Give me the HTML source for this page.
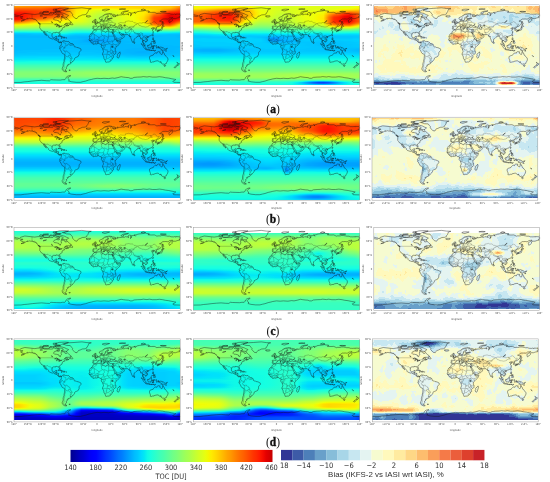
<!DOCTYPE html>
<html><head><meta charset="utf-8"><title>TOC maps</title>
<style>
html,body{margin:0;padding:0;background:#fff}
body{width:550px;height:482px;position:relative;overflow:hidden;font-family:"DejaVu Sans","Liberation Sans",sans-serif}
.p{position:absolute;width:166.2px;height:83.0px;overflow:hidden}
.p i{display:block;width:100%;height:1.0000px}
.q{width:165.8px}
svg{position:absolute;left:0;top:0}
.cap{position:absolute;font-family:"Liberation Serif","DejaVu Serif",serif;font-size:11.5px;line-height:12px;color:#111;width:40px;text-align:center}
.cap b{font-weight:bold;-webkit-text-stroke:.35px #111}
.cb{position:absolute}
.t{position:absolute;font-family:"DejaVu Sans Condensed","DejaVu Sans","Liberation Sans",sans-serif;font-size:7.4px;line-height:8px;color:#303030;white-space:nowrap;transform:translateX(-50%)}
.u{font-size:7.5px}
</style></head><body>

<div class="p" style="left:14.0px;top:4.8px">
<i></i>
<i style="background:linear-gradient(90deg,#ff9c00,#ff9c00,#ff9800,#ff9400,#ff9400,#ff9100,#ff9100,#ff8900,#ff8600,#ff8900,#ff9f00,#ffb900,#ffd000,#ffd000,#ffd300,#ffd300,#ffd300,#ffd300,#ffd300,#ffd300,#ffd300,#ffd000,#ffd000,#ffd000,#ffd000,#ffcc00,#ffd000,#ffd000,#ffcc00,#ffcc00,#ffc800,#ffb600,#ff9c00)"></i>
<i style="background:linear-gradient(90deg,#ff8600,#ff8200,#ff8200,#ff7e00,#ff7a00,#ff7a00,#ff7700,#ff6f00,#ff6400,#ff6800,#ff8900,#ffb600,#ffd300,#ffd700,#ffd700,#ffdb00,#ffde00,#ffde00,#ffde00,#ffdb00,#ffdb00,#ffd700,#ffd700,#ffd700,#ffd300,#ffd000,#ffd000,#ffd000,#ffd000,#ffc800,#ffc800,#ffab00,#ff8600)"></i>
<i style="background:linear-gradient(90deg,#ff6c00,#ff6800,#ff6800,#ff6800,#ff6800,#ff6800,#ff6000,#ff5200,#ff4300,#ff4a00,#ff7700,#ffae00,#ffd700,#ffde00,#ffe200,#ffe600,#ffea00,#feed00,#ffea00,#ffea00,#ffe600,#ffe200,#ffde00,#ffde00,#ffdb00,#ffd700,#ffd700,#ffd300,#ffd000,#ffc100,#ffb900,#ff9800,#ff6c00)"></i>
<i style="background:linear-gradient(90deg,#ff5500,#ff5200,#ff5200,#ff5200,#ff5500,#ff5500,#ff4e00,#ff3f00,#ff3000,#ff3800,#ff6c00,#ffb200,#ffe200,#ffea00,#feed00,#f4f802,#eeff09,#eeff09,#eeff09,#f1fc06,#f8f500,#fbf100,#feed00,#feed00,#ffea00,#ffe600,#ffe200,#ffd700,#ffc800,#ffae00,#ff9f00,#ff7e00,#ff5500)"></i>
<i style="background:linear-gradient(90deg,#ff3f00,#ff3f00,#ff3f00,#ff4300,#ff4300,#ff4700,#ff4300,#ff3b00,#ff3000,#ff3b00,#ff6f00,#ffb600,#ffea00,#fbf100,#f4f802,#ebff0c,#e1ff16,#deff19,#e1ff16,#e4ff13,#ebff0c,#f1fc06,#f4f802,#f8f500,#f8f500,#fbf100,#ffe600,#ffd700,#ffc400,#ff9400,#ff7a00,#ff6000,#ff3f00)"></i>
<i style="background:linear-gradient(90deg,#ff2d00,#ff2d00,#ff3000,#ff3400,#ff3b00,#ff3f00,#ff3b00,#ff3800,#ff3400,#ff3f00,#ff7300,#ffb900,#feed00,#f8f500,#eeff09,#e4ff13,#d7ff1f,#d4ff23,#d7ff1f,#deff19,#e4ff13,#eeff09,#f1fc06,#f4f802,#f8f500,#feed00,#ffe200,#ffcc00,#ffae00,#ff6f00,#ff4a00,#ff3f00,#ff2d00)"></i>
<i style="background:linear-gradient(90deg,#ff1a00,#ff1a00,#ff2200,#ff2d00,#ff3800,#ff3b00,#ff3b00,#ff3b00,#ff3800,#ff4300,#ff7700,#ffbd00,#feed00,#f4f802,#ebff0c,#deff19,#d1ff26,#caff2c,#ceff29,#d7ff1f,#e1ff16,#e7ff0f,#f1fc06,#f4f802,#f8f500,#feed00,#ffdb00,#ffb200,#ff9400,#ff5200,#ff2d00,#ff2500,#ff1a00)"></i>
<i style="background:linear-gradient(90deg,#f60b00,#fa0f00,#ff1a00,#ff2900,#ff3400,#ff3f00,#ff3f00,#ff3f00,#ff3f00,#ff4700,#ff7e00,#ffc100,#fbf100,#f4f802,#e7ff0f,#d7ff1f,#caff2c,#c4ff33,#c7ff30,#d1ff26,#dbff1c,#e7ff0f,#eeff09,#f1fc06,#f8f500,#feed00,#ffd000,#ff9100,#ff7700,#ff3b00,#ff1600,#ff1300,#f60b00)"></i>
<i style="background:linear-gradient(90deg,#f10800,#f60b00,#ff1600,#ff2900,#ff3800,#ff3f00,#ff3f00,#ff4300,#ff4700,#ff5200,#ff8200,#ffc400,#f8f500,#f1fc06,#e4ff13,#d1ff26,#c4ff33,#beff39,#c1ff36,#caff2c,#d7ff1f,#e4ff13,#eeff09,#f1fc06,#f8f500,#ffea00,#ffc400,#ff7a00,#ff6000,#ff2900,#f10800,#f10800,#f10800)"></i>
<i style="background:linear-gradient(90deg,#f10800,#f60b00,#ff1a00,#ff2900,#ff3800,#ff4300,#ff4300,#ff4a00,#ff5200,#ff5d00,#ff8d00,#ffc800,#f8f500,#eeff09,#e1ff16,#ceff29,#beff39,#b7ff40,#beff39,#c7ff30,#d4ff23,#e1ff16,#ebff0c,#f1fc06,#f8f500,#ffe600,#ffbd00,#ff6400,#ff4e00,#ff1a00,#e40000,#ed0400,#f10800)"></i>
<i style="background:linear-gradient(90deg,#f10800,#f60b00,#ff1a00,#ff2d00,#ff3b00,#ff4700,#ff4a00,#ff5500,#ff6000,#ff6c00,#ff9800,#ffd000,#f4f802,#eeff09,#deff19,#caff2c,#baff3c,#b4ff43,#baff3c,#c4ff33,#d1ff26,#e1ff16,#ebff0c,#eeff09,#f8f500,#ffe200,#ffb200,#ff5200,#ff3f00,#ff1600,#e40000,#e80000,#f10800)"></i>
<i style="background:linear-gradient(90deg,#f10800,#f60b00,#ff1e00,#ff3000,#ff4700,#ff5200,#ff5500,#ff6800,#ff7a00,#ff8200,#ffa700,#ffdb00,#f1fc06,#ebff0c,#deff19,#c7ff30,#b7ff40,#b1ff46,#b7ff40,#c1ff36,#d1ff26,#deff19,#e7ff0f,#eeff09,#fbf100,#ffde00,#ffab00,#ff4300,#ff3000,#fa0f00,#e40000,#e80000,#f10800)"></i>
<i style="background:linear-gradient(90deg,#f10800,#fa0f00,#ff2200,#ff3b00,#ff5500,#ff6000,#ff6c00,#ff8600,#ff9c00,#ffa300,#ffc100,#ffe600,#eeff09,#e7ff0f,#dbff1c,#c7ff30,#b4ff43,#b1ff46,#b4ff43,#c1ff36,#ceff29,#deff19,#e7ff0f,#eeff09,#fbf100,#ffdb00,#ffa700,#ff3b00,#ff2d00,#fa0f00,#e40000,#e80000,#f10800)"></i>
<i style="background:linear-gradient(90deg,#fa0f00,#ff1600,#ff3000,#ff4e00,#ff6c00,#ff7a00,#ff8600,#ffa700,#ffc400,#ffcc00,#ffde00,#f8f500,#ebff0c,#e7ff0f,#d7ff1f,#c4ff33,#b4ff43,#adff49,#b4ff43,#beff39,#ceff29,#dbff1c,#e7ff0f,#ebff0c,#f8f500,#ffdb00,#ffa700,#ff3b00,#ff2900,#fa0f00,#e40000,#ed0400,#fa0f00)"></i>
<i style="background:linear-gradient(90deg,#ff3400,#ff3b00,#ff5200,#ff7300,#ff9100,#ffa300,#ffab00,#ffc400,#ffde00,#ffe200,#feed00,#f1fc06,#e7ff0f,#e4ff13,#d4ff23,#c1ff36,#b1ff46,#aaff4d,#b1ff46,#baff3c,#caff2c,#d7ff1f,#e4ff13,#ebff0c,#f4f802,#ffde00,#ffab00,#ff3b00,#ff2d00,#fa0f00,#e40000,#ff1300,#ff3400)"></i>
<i style="background:linear-gradient(90deg,#ff5900,#ff6000,#ff7a00,#ff9800,#ffb200,#ffc400,#ffcc00,#ffde00,#feed00,#fbf100,#f1fc06,#e7ff0f,#e1ff16,#deff19,#d1ff26,#beff39,#adff49,#aaff4d,#adff49,#baff3c,#c7ff30,#d7ff1f,#e1ff16,#e7ff0f,#f1fc06,#ffea00,#ffb200,#ff3f00,#ff3000,#ff1300,#e80000,#ff2500,#ff5900)"></i>
<i style="background:linear-gradient(90deg,#ff8600,#ff8d00,#ffa300,#ffbd00,#ffd300,#ffe200,#ffe600,#f8f500,#f1fc06,#eeff09,#e7ff0f,#deff19,#d7ff1f,#d4ff23,#caff2c,#baff3c,#adff49,#a7ff50,#adff49,#b7ff40,#c4ff33,#d4ff23,#deff19,#e1ff16,#ebff0c,#fbf100,#ffb900,#ff4700,#ff3800,#ff1e00,#fa0f00,#ff3f00,#ff8600)"></i>
<i style="background:linear-gradient(90deg,#ffb200,#ffbd00,#ffcc00,#ffde00,#f8f500,#eeff09,#eeff09,#e7ff0f,#e1ff16,#e1ff16,#dbff1c,#d1ff26,#caff2c,#c7ff30,#beff39,#b4ff43,#a7ff50,#a4ff53,#aaff4d,#b4ff43,#c1ff36,#ceff29,#d7ff1f,#deff19,#e4ff13,#f1fc06,#ffc800,#ff5900,#ff4a00,#ff3000,#ff2200,#ff6000,#ffb200)"></i>
<i style="background:linear-gradient(90deg,#ffe600,#ffea00,#f8f500,#eeff09,#e4ff13,#deff19,#dbff1c,#d7ff1f,#d4ff23,#d1ff26,#caff2c,#c1ff36,#baff3c,#baff3c,#b4ff43,#aaff4d,#a0ff56,#a0ff56,#a4ff53,#adff49,#baff3c,#c7ff30,#d1ff26,#d4ff23,#dbff1c,#e1ff16,#ffde00,#ff7e00,#ff6f00,#ff5500,#ff4300,#ff8900,#ffe600)"></i>
<i style="background:linear-gradient(90deg,#e4ff13,#e1ff16,#dbff1c,#d7ff1f,#d1ff26,#ceff29,#ceff29,#c7ff30,#c4ff33,#c4ff33,#baff3c,#b1ff46,#aaff4d,#a7ff50,#a4ff53,#9dff5a,#9aff5d,#97ff60,#9aff5d,#a4ff53,#b1ff46,#baff3c,#c4ff33,#c7ff30,#caff2c,#d1ff26,#f4f802,#ffa700,#ff9c00,#ff8200,#ff7300,#ffb600,#e4ff13)"></i>
<i style="background:linear-gradient(90deg,#ceff29,#caff2c,#c7ff30,#c1ff36,#beff39,#baff3c,#baff3c,#b7ff40,#b4ff43,#b4ff43,#aaff4d,#9dff5a,#97ff60,#94ff63,#94ff63,#90ff66,#8dff6a,#8dff6a,#90ff66,#97ff60,#a0ff56,#aaff4d,#b4ff43,#b7ff40,#b7ff40,#baff3c,#d4ff23,#ffdb00,#ffd000,#ffbd00,#ffb200,#ffe200,#ceff29)"></i>
<i style="background:linear-gradient(90deg,#b7ff40,#b4ff43,#b1ff46,#aaff4d,#a7ff50,#a4ff53,#a4ff53,#a4ff53,#a4ff53,#a0ff56,#97ff60,#8aff6d,#80ff77,#80ff77,#80ff77,#80ff77,#80ff77,#80ff77,#83ff73,#8aff6d,#90ff66,#9aff5d,#a0ff56,#a0ff56,#a0ff56,#a0ff56,#b4ff43,#deff19,#e4ff13,#f4f802,#feed00,#e1ff16,#b7ff40)"></i>
<i style="background:linear-gradient(90deg,#9aff5d,#97ff60,#94ff63,#90ff66,#8dff6a,#8aff6d,#8aff6d,#8dff6a,#90ff66,#90ff66,#83ff73,#77ff80,#6aff8d,#6aff8d,#6aff8d,#6dff8a,#6dff8a,#6dff8a,#70ff87,#77ff80,#7aff7d,#80ff77,#87ff70,#8aff6d,#87ff70,#83ff73,#94ff63,#b1ff46,#b7ff40,#c4ff33,#ceff29,#b7ff40,#9aff5d)"></i>
<i style="background:linear-gradient(90deg,#73ff83,#73ff83,#73ff83,#70ff87,#70ff87,#6dff8a,#70ff87,#77ff80,#7dff7a,#7aff7d,#6dff8a,#5dff9a,#53ffa4,#50ffa7,#53ffa4,#53ffa4,#56ffa0,#56ffa0,#5aff9d,#5dff9a,#63ff94,#66ff90,#6aff8d,#6dff8a,#6aff8d,#66ff90,#70ff87,#83ff73,#87ff70,#94ff63,#9aff5d,#8aff6d,#73ff83)"></i>
<i style="background:linear-gradient(90deg,#50ffa7,#50ffa7,#4dffaa,#4dffaa,#4dffaa,#4dffaa,#50ffa7,#5aff9d,#63ff94,#63ff94,#56ffa0,#46ffb1,#3cffba,#39ffbe,#3cffba,#3cffba,#3cffba,#40ffb7,#40ffb7,#43ffb4,#46ffb1,#49ffad,#4dffaa,#4dffaa,#4dffaa,#46ffb1,#4dffaa,#5aff9d,#5dff9a,#60ff97,#63ff94,#5aff9d,#50ffa7)"></i>
<i style="background:linear-gradient(90deg,#29ffce,#29ffce,#29ffce,#29ffce,#29ffce,#29ffce,#2cffca,#3cffba,#4dffaa,#4dffaa,#40ffb7,#30ffc7,#26ffd1,#23ffd4,#23ffd4,#23ffd4,#23ffd4,#26ffd1,#26ffd1,#26ffd1,#29ffce,#2cffca,#30ffc7,#30ffc7,#2cffca,#29ffce,#2cffca,#33ffc4,#33ffc4,#33ffc4,#33ffc4,#30ffc7,#29ffce)"></i>
<i style="background:linear-gradient(90deg,#06edf1,#06edf1,#06edf1,#09f1ee,#09f1ee,#09f1ee,#0cf5eb,#1fffd7,#33ffc4,#33ffc4,#29ffce,#19ffde,#0ff9e7,#0ff9e7,#0ff9e7,#0ff9e7,#0ff9e7,#0ff9e7,#0ff9e7,#0ff9e7,#13fde4,#13fde4,#16ffe1,#16ffe1,#13fde4,#0cf5eb,#0cf5eb,#0ff9e7,#0ff9e7,#0cf5eb,#0cf5eb,#09f1ee,#06edf1)"></i>
<i style="background:linear-gradient(90deg,#00cdff,#00cdff,#00cdff,#00cdff,#00d1ff,#00d1ff,#00d5ff,#09f1ee,#19ffde,#19ffde,#0ff9e7,#02e8f4,#00e1fb,#00ddfe,#00ddfe,#00ddfe,#00ddfe,#00ddfe,#00ddfe,#00e1fb,#00e1fb,#00e1fb,#00e5f8,#00e5f8,#00e1fb,#00d9ff,#00d9ff,#00d9ff,#00d9ff,#00d9ff,#00d5ff,#00d1ff,#00cdff)"></i>
<i style="background:linear-gradient(90deg,#00c1ff,#00c1ff,#00c1ff,#00c1ff,#00c5ff,#00c5ff,#00c8ff,#00d9ff,#02e8f4,#02e8f4,#00e1fb,#00d5ff,#00cdff,#00cdff,#00cdff,#00cdff,#00cdff,#00cdff,#00cdff,#00cdff,#00cdff,#00d1ff,#00d1ff,#00d1ff,#00cdff,#00c8ff,#00c8ff,#00c8ff,#00c8ff,#00c5ff,#00c1ff,#00c1ff,#00c1ff)"></i>
<i style="background:linear-gradient(90deg,#00b9ff,#00b9ff,#00b9ff,#00bdff,#00bdff,#00bdff,#00bdff,#00c8ff,#00d1ff,#00d1ff,#00cdff,#00c5ff,#00c1ff,#00c1ff,#00c1ff,#00c1ff,#00c1ff,#00c1ff,#00c1ff,#00c1ff,#00c1ff,#00c5ff,#00c5ff,#00c5ff,#00c1ff,#00bdff,#00bdff,#00bdff,#00bdff,#00bdff,#00bdff,#00bdff,#00b9ff)"></i>
<i style="background:linear-gradient(90deg,#00b9ff,#00b9ff,#00b9ff,#00b9ff,#00b9ff,#00b9ff,#00b9ff,#00c1ff,#00c5ff,#00c5ff,#00c1ff,#00bdff,#00b9ff,#00b9ff,#00b9ff,#00b9ff,#00b9ff,#00b9ff,#00b9ff,#00b9ff,#00bdff,#00bdff,#00bdff,#00bdff,#00bdff,#00b9ff,#00b9ff,#00b9ff,#00b9ff,#00bdff,#00bdff,#00bdff,#00b9ff)"></i>
<i style="background:linear-gradient(90deg,#00b9ff,#00b9ff,#00b9ff,#00b9ff,#00b9ff,#00b9ff,#00b9ff,#00b9ff,#00b9ff,#00b9ff,#00b9ff,#00b9ff,#00b9ff,#00b5ff,#00b5ff,#00b1ff,#00b1ff,#00b1ff,#00b5ff,#00b5ff,#00b9ff,#00bdff,#00bdff,#00bdff,#00bdff,#00b9ff,#00b9ff,#00b9ff,#00bdff,#00bdff,#00bdff,#00bdff,#00b9ff)"></i>
<i style="background:linear-gradient(90deg,#00bdff,#00bdff,#00bdff,#00bdff,#00bdff,#00bdff,#00bdff,#00bdff,#00b9ff,#00b9ff,#00b9ff,#00b9ff,#00b9ff,#00b9ff,#00b5ff,#00b1ff,#00adff,#00adff,#00b1ff,#00b5ff,#00b9ff,#00bdff,#00bdff,#00bdff,#00bdff,#00bdff,#00bdff,#00bdff,#00bdff,#00bdff,#00bdff,#00bdff,#00bdff)"></i>
<i style="background:linear-gradient(90deg,#00bdff,#00bdff,#00bdff,#00bdff,#00bdff,#00bdff,#00bdff,#00bdff,#00bdff,#00bdff,#00bdff,#00bdff,#00bdff,#00b9ff,#00b1ff,#00a8ff,#00a5ff,#00a5ff,#00adff,#00b1ff,#00b9ff,#00bdff,#00bdff,#00bdff,#00bdff,#00bdff,#00bdff,#00bdff,#00bdff,#00bdff,#00bdff,#00bdff,#00bdff)"></i>
<i style="background:linear-gradient(90deg,#00bdff,#00bdff,#00bdff,#00bdff,#00bdff,#00bdff,#00bdff,#00bdff,#00bdff,#00bdff,#00bdff,#00bdff,#00b9ff,#00b5ff,#00adff,#00a5ff,#00a1ff,#00a1ff,#00a8ff,#00b1ff,#00b5ff,#00b9ff,#00bdff,#00bdff,#00bdff,#00bdff,#00bdff,#00bdff,#00bdff,#00bdff,#00bdff,#00bdff,#00bdff)"></i>
<i style="background:linear-gradient(90deg,#00bdff,#00bdff,#00bdff,#00bdff,#00bdff,#00bdff,#00bdff,#00bdff,#00bdff,#00bdff,#00bdff,#00b9ff,#00b9ff,#00b5ff,#00adff,#00a8ff,#00a5ff,#00a5ff,#00a8ff,#00b1ff,#00b5ff,#00b9ff,#00b9ff,#00bdff,#00bdff,#00bdff,#00bdff,#00bdff,#00bdff,#00bdff,#00bdff,#00bdff,#00bdff)"></i>
<i style="background:linear-gradient(90deg,#00bdff,#00bdff,#00bdff,#00bdff,#00bdff,#00bdff,#00bdff,#00bdff,#00bdff,#00bdff,#00bdff,#00bdff,#00b9ff,#00b5ff,#00b5ff,#00adff,#00adff,#00adff,#00b1ff,#00b5ff,#00b9ff,#00b9ff,#00b9ff,#00bdff,#00bdff,#00bdff,#00bdff,#00bdff,#00bdff,#00bdff,#00bdff,#00bdff,#00bdff)"></i>
<i style="background:linear-gradient(90deg,#00bdff,#00bdff,#00bdff,#00bdff,#00bdff,#00bdff,#00bdff,#00bdff,#00bdff,#00bdff,#00bdff,#00bdff,#00b9ff,#00b9ff,#00b9ff,#00b5ff,#00b5ff,#00b5ff,#00b5ff,#00b9ff,#00b9ff,#00b9ff,#00bdff,#00bdff,#00bdff,#00bdff,#00bdff,#00bdff,#00bdff,#00bdff,#00bdff,#00bdff,#00bdff)"></i>
<i style="background:linear-gradient(90deg,#00bdff,#00bdff,#00bdff,#00bdff,#00bdff,#00bdff,#00bdff,#00bdff,#00bdff,#00bdff,#00bdff,#00bdff,#00bdff,#00b9ff,#00b9ff,#00b9ff,#00b9ff,#00b9ff,#00b9ff,#00b9ff,#00b9ff,#00b9ff,#00b9ff,#00b9ff,#00b9ff,#00b9ff,#00b9ff,#00b9ff,#00b9ff,#00bdff,#00bdff,#00bdff,#00bdff)"></i>
<i style="background:linear-gradient(90deg,#00bdff,#00bdff,#00bdff,#00bdff,#00bdff,#00bdff,#00bdff,#00bdff,#00bdff,#00bdff,#00bdff,#00bdff,#00bdff,#00bdff,#00bdff,#00bdff,#00b9ff,#00b9ff,#00b9ff,#00b9ff,#00b9ff,#00b9ff,#00b9ff,#00b9ff,#00b9ff,#00b9ff,#00b9ff,#00b9ff,#00b9ff,#00b9ff,#00b9ff,#00bdff,#00bdff)"></i>
<i style="background:linear-gradient(90deg,#00b9ff,#00bdff,#00bdff,#00bdff,#00bdff,#00bdff,#00bdff,#00bdff,#00bdff,#00bdff,#00bdff,#00bdff,#00bdff,#00bdff,#00bdff,#00bdff,#00bdff,#00b9ff,#00b9ff,#00b9ff,#00b9ff,#00b9ff,#00b9ff,#00b9ff,#00b9ff,#00b9ff,#00b9ff,#00b9ff,#00b9ff,#00b9ff,#00b9ff,#00b9ff,#00b9ff)"></i>
<i style="background:linear-gradient(90deg,#00b9ff,#00bdff,#00bdff,#00bdff,#00bdff,#00bdff,#00bdff,#00bdff,#00bdff,#00bdff,#00bdff,#00bdff,#00bdff,#00bdff,#00bdff,#00bdff,#00bdff,#00bdff,#00b9ff,#00b9ff,#00b9ff,#00b9ff,#00b9ff,#00b9ff,#00b9ff,#00b5ff,#00b9ff,#00b9ff,#00b9ff,#00b9ff,#00b9ff,#00b9ff,#00b9ff)"></i>
<i style="background:linear-gradient(90deg,#00bdff,#00bdff,#00bdff,#00bdff,#00bdff,#00bdff,#00bdff,#00bdff,#00bdff,#00bdff,#00bdff,#00bdff,#00bdff,#00bdff,#00bdff,#00bdff,#00bdff,#00bdff,#00bdff,#00b9ff,#00b9ff,#00b9ff,#00b9ff,#00b5ff,#00b5ff,#00b5ff,#00b5ff,#00b5ff,#00b9ff,#00b9ff,#00b9ff,#00b9ff,#00bdff)"></i>
<i style="background:linear-gradient(90deg,#00bdff,#00bdff,#00bdff,#00bdff,#00bdff,#00bdff,#00c1ff,#00c1ff,#00c1ff,#00c1ff,#00c1ff,#00c1ff,#00bdff,#00bdff,#00bdff,#00bdff,#00bdff,#00bdff,#00bdff,#00b9ff,#00b9ff,#00b9ff,#00b5ff,#00b5ff,#00b5ff,#00b5ff,#00b5ff,#00b5ff,#00b5ff,#00b9ff,#00b9ff,#00b9ff,#00bdff)"></i>
<i style="background:linear-gradient(90deg,#00bdff,#00bdff,#00c1ff,#00c1ff,#00c1ff,#00c1ff,#00c1ff,#00c1ff,#00c1ff,#00c1ff,#00c1ff,#00c1ff,#00c1ff,#00c1ff,#00c1ff,#00c1ff,#00c1ff,#00bdff,#00bdff,#00bdff,#00b9ff,#00b9ff,#00b5ff,#00b5ff,#00b5ff,#00b5ff,#00b5ff,#00b5ff,#00b5ff,#00b9ff,#00b9ff,#00bdff,#00bdff)"></i>
<i style="background:linear-gradient(90deg,#00bdff,#00c1ff,#00c1ff,#00c1ff,#00c1ff,#00c1ff,#00c1ff,#00c1ff,#00c1ff,#00c1ff,#00c1ff,#00c1ff,#00c1ff,#00c1ff,#00c1ff,#00c1ff,#00c1ff,#00c1ff,#00bdff,#00bdff,#00b9ff,#00b9ff,#00b5ff,#00b5ff,#00b1ff,#00b1ff,#00b1ff,#00b5ff,#00b5ff,#00b9ff,#00b9ff,#00bdff,#00bdff)"></i>
<i style="background:linear-gradient(90deg,#00c1ff,#00c1ff,#00c1ff,#00c5ff,#00c5ff,#00c5ff,#00c5ff,#00c5ff,#00c5ff,#00c5ff,#00c5ff,#00c5ff,#00c5ff,#00c5ff,#00c5ff,#00c5ff,#00c1ff,#00c1ff,#00c1ff,#00bdff,#00b9ff,#00b9ff,#00b5ff,#00b5ff,#00b1ff,#00b1ff,#00b5ff,#00b5ff,#00b5ff,#00b9ff,#00bdff,#00bdff,#00c1ff)"></i>
<i style="background:linear-gradient(90deg,#00c1ff,#00c5ff,#00c5ff,#00c5ff,#00c5ff,#00c8ff,#00c8ff,#00c8ff,#00c8ff,#00c8ff,#00c8ff,#00c8ff,#00c8ff,#00c8ff,#00c5ff,#00c5ff,#00c5ff,#00c5ff,#00c1ff,#00c1ff,#00bdff,#00b9ff,#00b9ff,#00b5ff,#00b5ff,#00b5ff,#00b5ff,#00b5ff,#00b9ff,#00bdff,#00bdff,#00c1ff,#00c1ff)"></i>
<i style="background:linear-gradient(90deg,#00c5ff,#00c8ff,#00c8ff,#00c8ff,#00c8ff,#00c8ff,#00c8ff,#00c8ff,#00c8ff,#00c8ff,#00c8ff,#00c8ff,#00c8ff,#00c8ff,#00c8ff,#00c8ff,#00c8ff,#00c5ff,#00c5ff,#00c5ff,#00c1ff,#00bdff,#00bdff,#00b9ff,#00b9ff,#00b9ff,#00b9ff,#00b9ff,#00bdff,#00bdff,#00c1ff,#00c5ff,#00c5ff)"></i>
<i style="background:linear-gradient(90deg,#00c8ff,#00cdff,#00cdff,#00cdff,#00cdff,#00cdff,#00cdff,#00cdff,#00cdff,#00cdff,#00cdff,#00cdff,#00cdff,#00cdff,#00cdff,#00cdff,#00cdff,#00cdff,#00c8ff,#00c8ff,#00c5ff,#00c5ff,#00c1ff,#00c1ff,#00bdff,#00bdff,#00c1ff,#00c1ff,#00c1ff,#00c5ff,#00c5ff,#00c8ff,#00c8ff)"></i>
<i style="background:linear-gradient(90deg,#00d1ff,#00d1ff,#00d5ff,#00d5ff,#00d5ff,#00d5ff,#00d5ff,#00d5ff,#00d5ff,#00d5ff,#00d5ff,#00d5ff,#00d5ff,#00d5ff,#00d5ff,#00d5ff,#00d1ff,#00d1ff,#00d1ff,#00d1ff,#00cdff,#00cdff,#00c8ff,#00c8ff,#00c8ff,#00c8ff,#00c8ff,#00c8ff,#00c8ff,#00cdff,#00cdff,#00d1ff,#00d1ff)"></i>
<i style="background:linear-gradient(90deg,#00d9ff,#00d9ff,#00d9ff,#00d9ff,#00d9ff,#00ddfe,#00ddfe,#00ddfe,#00ddfe,#00ddfe,#00ddfe,#00ddfe,#00ddfe,#00ddfe,#00d9ff,#00d9ff,#00d9ff,#00d9ff,#00d9ff,#00d9ff,#00d5ff,#00d5ff,#00d1ff,#00d1ff,#00d1ff,#00d1ff,#00d1ff,#00d1ff,#00d5ff,#00d5ff,#00d5ff,#00d9ff,#00d9ff)"></i>
<i style="background:linear-gradient(90deg,#00e1fb,#00e1fb,#00e1fb,#00e1fb,#00e1fb,#00e1fb,#00e1fb,#00e1fb,#00e1fb,#00e1fb,#00e1fb,#00e1fb,#00e1fb,#00e1fb,#00e1fb,#00e1fb,#00e1fb,#00e1fb,#00e1fb,#00e1fb,#00ddfe,#00ddfe,#00ddfe,#00ddfe,#00d9ff,#00d9ff,#00ddfe,#00ddfe,#00ddfe,#00ddfe,#00ddfe,#00e1fb,#00e1fb)"></i>
<i style="background:linear-gradient(90deg,#02e8f4,#02e8f4,#02e8f4,#02e8f4,#02e8f4,#02e8f4,#02e8f4,#02e8f4,#02e8f4,#02e8f4,#02e8f4,#02e8f4,#02e8f4,#02e8f4,#02e8f4,#02e8f4,#02e8f4,#02e8f4,#02e8f4,#02e8f4,#00e5f8,#00e5f8,#00e5f8,#00e5f8,#00e5f8,#00e5f8,#00e5f8,#00e5f8,#00e5f8,#00e5f8,#00e5f8,#02e8f4,#02e8f4)"></i>
<i style="background:linear-gradient(90deg,#09f1ee,#09f1ee,#09f1ee,#09f1ee,#09f1ee,#09f1ee,#09f1ee,#09f1ee,#09f1ee,#09f1ee,#09f1ee,#09f1ee,#09f1ee,#09f1ee,#09f1ee,#09f1ee,#09f1ee,#09f1ee,#09f1ee,#09f1ee,#09f1ee,#09f1ee,#09f1ee,#06edf1,#06edf1,#06edf1,#06edf1,#06edf1,#09f1ee,#09f1ee,#09f1ee,#09f1ee,#09f1ee)"></i>
<i style="background:linear-gradient(90deg,#0ff9e7,#0ff9e7,#0ff9e7,#13fde4,#13fde4,#13fde4,#13fde4,#13fde4,#13fde4,#13fde4,#13fde4,#13fde4,#13fde4,#13fde4,#13fde4,#13fde4,#0ff9e7,#0ff9e7,#0ff9e7,#0ff9e7,#0ff9e7,#0ff9e7,#0ff9e7,#0ff9e7,#0ff9e7,#0ff9e7,#0ff9e7,#0ff9e7,#0ff9e7,#0ff9e7,#0ff9e7,#0ff9e7,#0ff9e7)"></i>
<i style="background:linear-gradient(90deg,#1cffdb,#1cffdb,#1cffdb,#1cffdb,#1cffdb,#1cffdb,#1cffdb,#1cffdb,#1cffdb,#1cffdb,#1cffdb,#1cffdb,#1cffdb,#1cffdb,#1cffdb,#1cffdb,#1cffdb,#1cffdb,#1cffdb,#1cffdb,#1cffdb,#1cffdb,#1cffdb,#1cffdb,#1cffdb,#1cffdb,#1cffdb,#1cffdb,#1cffdb,#1cffdb,#1cffdb,#1cffdb,#1cffdb)"></i>
<i style="background:linear-gradient(90deg,#26ffd1,#26ffd1,#26ffd1,#26ffd1,#26ffd1,#26ffd1,#26ffd1,#26ffd1,#26ffd1,#26ffd1,#26ffd1,#26ffd1,#26ffd1,#26ffd1,#26ffd1,#26ffd1,#26ffd1,#26ffd1,#26ffd1,#26ffd1,#26ffd1,#26ffd1,#26ffd1,#26ffd1,#26ffd1,#26ffd1,#26ffd1,#26ffd1,#26ffd1,#26ffd1,#26ffd1,#26ffd1,#26ffd1)"></i>
<i style="background:linear-gradient(90deg,#33ffc4,#33ffc4,#33ffc4,#33ffc4,#33ffc4,#33ffc4,#33ffc4,#33ffc4,#33ffc4,#33ffc4,#33ffc4,#33ffc4,#33ffc4,#33ffc4,#33ffc4,#33ffc4,#33ffc4,#33ffc4,#33ffc4,#33ffc4,#33ffc4,#33ffc4,#33ffc4,#33ffc4,#33ffc4,#33ffc4,#33ffc4,#33ffc4,#33ffc4,#33ffc4,#33ffc4,#33ffc4,#33ffc4)"></i>
<i style="background:linear-gradient(90deg,#40ffb7,#40ffb7,#40ffb7,#40ffb7,#40ffb7,#40ffb7,#40ffb7,#40ffb7,#40ffb7,#40ffb7,#40ffb7,#40ffb7,#40ffb7,#40ffb7,#40ffb7,#40ffb7,#40ffb7,#40ffb7,#40ffb7,#40ffb7,#40ffb7,#40ffb7,#40ffb7,#40ffb7,#40ffb7,#40ffb7,#40ffb7,#40ffb7,#40ffb7,#40ffb7,#40ffb7,#40ffb7,#40ffb7)"></i>
<i style="background:linear-gradient(90deg,#49ffad,#49ffad,#49ffad,#49ffad,#49ffad,#49ffad,#49ffad,#49ffad,#49ffad,#49ffad,#49ffad,#49ffad,#49ffad,#49ffad,#49ffad,#49ffad,#49ffad,#49ffad,#49ffad,#49ffad,#49ffad,#49ffad,#49ffad,#49ffad,#49ffad,#49ffad,#49ffad,#49ffad,#49ffad,#49ffad,#49ffad,#49ffad,#49ffad)"></i>
<i style="background:linear-gradient(90deg,#53ffa4,#53ffa4,#53ffa4,#53ffa4,#53ffa4,#53ffa4,#53ffa4,#53ffa4,#53ffa4,#53ffa4,#53ffa4,#53ffa4,#53ffa4,#56ffa0,#56ffa0,#56ffa0,#56ffa0,#56ffa0,#56ffa0,#56ffa0,#56ffa0,#56ffa0,#56ffa0,#56ffa0,#53ffa4,#53ffa4,#53ffa4,#53ffa4,#53ffa4,#53ffa4,#53ffa4,#53ffa4,#53ffa4)"></i>
<i style="background:linear-gradient(90deg,#5dff9a,#5dff9a,#5dff9a,#5dff9a,#5dff9a,#5dff9a,#5dff9a,#5dff9a,#5dff9a,#5dff9a,#60ff97,#60ff97,#60ff97,#60ff97,#60ff97,#60ff97,#60ff97,#60ff97,#60ff97,#60ff97,#60ff97,#60ff97,#60ff97,#60ff97,#60ff97,#60ff97,#60ff97,#5dff9a,#5dff9a,#5dff9a,#5dff9a,#5dff9a,#5dff9a)"></i>
<i style="background:linear-gradient(90deg,#66ff90,#66ff90,#66ff90,#66ff90,#66ff90,#66ff90,#66ff90,#66ff90,#66ff90,#6aff8d,#6aff8d,#6aff8d,#6aff8d,#6aff8d,#6dff8a,#6dff8a,#6dff8a,#6dff8a,#6dff8a,#6dff8a,#6dff8a,#6dff8a,#6dff8a,#6aff8d,#6aff8d,#6aff8d,#6aff8d,#66ff90,#66ff90,#66ff90,#66ff90,#66ff90,#66ff90)"></i>
<i style="background:linear-gradient(90deg,#70ff87,#70ff87,#70ff87,#70ff87,#70ff87,#70ff87,#70ff87,#70ff87,#73ff83,#73ff83,#73ff83,#73ff83,#77ff80,#77ff80,#7aff7d,#7aff7d,#7aff7d,#7aff7d,#7aff7d,#7aff7d,#7aff7d,#7aff7d,#77ff80,#77ff80,#77ff80,#73ff83,#73ff83,#73ff83,#70ff87,#70ff87,#70ff87,#70ff87,#70ff87)"></i>
<i style="background:linear-gradient(90deg,#7aff7d,#7aff7d,#7aff7d,#7aff7d,#7aff7d,#7aff7d,#7aff7d,#7dff7a,#7dff7a,#7dff7a,#80ff77,#80ff77,#83ff73,#83ff73,#87ff70,#87ff70,#87ff70,#8aff6d,#8aff6d,#87ff70,#87ff70,#87ff70,#83ff73,#83ff73,#80ff77,#80ff77,#7dff7a,#7dff7a,#7dff7a,#7dff7a,#7aff7d,#7aff7d,#7aff7d)"></i>
<i style="background:linear-gradient(90deg,#80ff77,#80ff77,#80ff77,#80ff77,#80ff77,#83ff73,#83ff73,#83ff73,#83ff73,#87ff70,#87ff70,#8aff6d,#8aff6d,#8dff6a,#90ff66,#90ff66,#94ff63,#94ff63,#94ff63,#94ff63,#90ff66,#90ff66,#8dff6a,#8dff6a,#8aff6d,#8aff6d,#87ff70,#87ff70,#83ff73,#83ff73,#83ff73,#83ff73,#80ff77)"></i>
<i style="background:linear-gradient(90deg,#83ff73,#83ff73,#83ff73,#83ff73,#83ff73,#83ff73,#83ff73,#87ff70,#87ff70,#87ff70,#8aff6d,#8dff6a,#8dff6a,#90ff66,#94ff63,#94ff63,#97ff60,#97ff60,#97ff60,#97ff60,#97ff60,#94ff63,#90ff66,#90ff66,#8dff6a,#8aff6d,#8aff6d,#87ff70,#87ff70,#87ff70,#83ff73,#83ff73,#83ff73)"></i>
<i style="background:linear-gradient(90deg,#83ff73,#83ff73,#83ff73,#83ff73,#83ff73,#83ff73,#83ff73,#83ff73,#87ff70,#87ff70,#8aff6d,#8aff6d,#8dff6a,#90ff66,#90ff66,#94ff63,#97ff60,#97ff60,#97ff60,#97ff60,#94ff63,#94ff63,#90ff66,#8dff6a,#8dff6a,#8aff6d,#87ff70,#87ff70,#87ff70,#83ff73,#83ff73,#83ff73,#83ff73)"></i>
<i style="background:linear-gradient(90deg,#80ff77,#80ff77,#80ff77,#80ff77,#80ff77,#80ff77,#80ff77,#80ff77,#83ff73,#83ff73,#87ff70,#87ff70,#8aff6d,#8dff6a,#8dff6a,#90ff66,#90ff66,#90ff66,#94ff63,#90ff66,#90ff66,#90ff66,#8dff6a,#8aff6d,#8aff6d,#87ff70,#83ff73,#83ff73,#83ff73,#80ff77,#80ff77,#80ff77,#80ff77)"></i>
<i style="background:linear-gradient(90deg,#7dff7a,#7dff7a,#7dff7a,#7dff7a,#7dff7a,#7dff7a,#7dff7a,#7dff7a,#7dff7a,#80ff77,#80ff77,#83ff73,#83ff73,#87ff70,#87ff70,#8aff6d,#8aff6d,#8aff6d,#8aff6d,#8aff6d,#8aff6d,#8aff6d,#87ff70,#87ff70,#83ff73,#80ff77,#80ff77,#80ff77,#7dff7a,#7dff7a,#7dff7a,#7dff7a,#7dff7a)"></i>
<i style="background:linear-gradient(90deg,#70ff87,#70ff87,#6dff8a,#70ff87,#70ff87,#70ff87,#70ff87,#70ff87,#70ff87,#70ff87,#73ff83,#73ff83,#77ff80,#77ff80,#77ff80,#7aff7d,#7aff7d,#7aff7d,#7aff7d,#7aff7d,#7aff7d,#7aff7d,#77ff80,#77ff80,#73ff83,#73ff83,#73ff83,#70ff87,#70ff87,#70ff87,#70ff87,#70ff87,#70ff87)"></i>
<i style="background:linear-gradient(90deg,#5aff9d,#5aff9d,#5aff9d,#5aff9d,#5aff9d,#5aff9d,#5aff9d,#5aff9d,#5dff9a,#5dff9a,#5dff9a,#5dff9a,#60ff97,#60ff97,#60ff97,#60ff97,#63ff94,#63ff94,#63ff94,#63ff94,#63ff94,#60ff97,#60ff97,#60ff97,#5dff9a,#5dff9a,#5dff9a,#5dff9a,#5dff9a,#5aff9d,#5aff9d,#5aff9d,#5aff9d)"></i>
<i style="background:linear-gradient(90deg,#46ffb1,#46ffb1,#46ffb1,#46ffb1,#46ffb1,#46ffb1,#46ffb1,#46ffb1,#46ffb1,#46ffb1,#46ffb1,#49ffad,#49ffad,#49ffad,#49ffad,#49ffad,#49ffad,#4dffaa,#4dffaa,#4dffaa,#49ffad,#49ffad,#49ffad,#49ffad,#49ffad,#49ffad,#46ffb1,#46ffb1,#46ffb1,#46ffb1,#46ffb1,#46ffb1,#46ffb1)"></i>
<i style="background:linear-gradient(90deg,#30ffc7,#30ffc7,#30ffc7,#30ffc7,#30ffc7,#33ffc4,#33ffc4,#33ffc4,#33ffc4,#33ffc4,#33ffc4,#33ffc4,#33ffc4,#33ffc4,#33ffc4,#33ffc4,#33ffc4,#33ffc4,#33ffc4,#33ffc4,#33ffc4,#33ffc4,#33ffc4,#33ffc4,#33ffc4,#33ffc4,#33ffc4,#33ffc4,#33ffc4,#33ffc4,#33ffc4,#33ffc4,#30ffc7)"></i>
<i style="background:linear-gradient(90deg,#26ffd1,#26ffd1,#26ffd1,#26ffd1,#26ffd1,#26ffd1,#26ffd1,#26ffd1,#26ffd1,#26ffd1,#26ffd1,#26ffd1,#26ffd1,#26ffd1,#26ffd1,#26ffd1,#26ffd1,#26ffd1,#26ffd1,#26ffd1,#26ffd1,#26ffd1,#26ffd1,#26ffd1,#26ffd1,#26ffd1,#26ffd1,#26ffd1,#26ffd1,#26ffd1,#26ffd1,#26ffd1,#26ffd1)"></i>
<i style="background:linear-gradient(90deg,#1cffdb,#1cffdb,#1cffdb,#1cffdb,#1cffdb,#1cffdb,#1cffdb,#1cffdb,#1cffdb,#1cffdb,#1cffdb,#1cffdb,#1cffdb,#1cffdb,#1cffdb,#1cffdb,#1cffdb,#1cffdb,#1cffdb,#1cffdb,#1cffdb,#1cffdb,#1cffdb,#1cffdb,#1cffdb,#1cffdb,#1cffdb,#1cffdb,#1cffdb,#1cffdb,#1cffdb,#1cffdb,#1cffdb)"></i>
<i style="background:linear-gradient(90deg,#19ffde,#19ffde,#19ffde,#19ffde,#19ffde,#19ffde,#19ffde,#19ffde,#19ffde,#19ffde,#19ffde,#19ffde,#19ffde,#19ffde,#19ffde,#19ffde,#19ffde,#19ffde,#19ffde,#19ffde,#19ffde,#19ffde,#19ffde,#19ffde,#19ffde,#19ffde,#19ffde,#19ffde,#19ffde,#19ffde,#19ffde,#19ffde,#19ffde)"></i>
<i></i>
<i></i>
<i></i>
<i></i>
</div>
<div class="p" style="left:193.4px;top:4.8px">
<i></i>
<i style="background:linear-gradient(90deg,#f1fc06,#f1fc06,#f4f802,#f4f802,#f4f802,#f8f500,#f8f500,#f8f500,#f8f500,#f4f802,#f1fc06,#f1fc06,#e7ff0f,#e1ff16,#deff19,#dbff1c,#d7ff1f,#d7ff1f,#d7ff1f,#d7ff1f,#dbff1c,#dbff1c,#deff19,#deff19,#deff19,#deff19,#deff19,#deff19,#deff19,#e1ff16,#e1ff16,#ebff0c,#f1fc06)"></i>
<i style="background:linear-gradient(90deg,#f4f802,#f8f500,#f8f500,#fbf100,#feed00,#ffea00,#ffe600,#ffe600,#ffe600,#feed00,#fbf100,#f8f500,#ebff0c,#e4ff13,#e1ff16,#dbff1c,#d7ff1f,#d7ff1f,#d7ff1f,#d7ff1f,#dbff1c,#deff19,#deff19,#e1ff16,#deff19,#deff19,#e1ff16,#e1ff16,#e1ff16,#e4ff13,#e4ff13,#eeff09,#f4f802)"></i>
<i style="background:linear-gradient(90deg,#fbf100,#feed00,#ffea00,#ffe200,#ffdb00,#ffd000,#ffcc00,#ffc800,#ffcc00,#ffd700,#ffe200,#ffe600,#f1fc06,#e4ff13,#e1ff16,#deff19,#d7ff1f,#d7ff1f,#d7ff1f,#d7ff1f,#dbff1c,#deff19,#e1ff16,#e1ff16,#e1ff16,#e1ff16,#e1ff16,#e1ff16,#e4ff13,#ebff0c,#ebff0c,#f4f802,#fbf100)"></i>
<i style="background:linear-gradient(90deg,#ffdb00,#ffd700,#ffd000,#ffc400,#ffb600,#ffa700,#ff9f00,#ff9c00,#ffa300,#ffb900,#ffcc00,#ffd300,#f8f500,#e7ff0f,#e4ff13,#deff19,#d7ff1f,#d7ff1f,#d7ff1f,#dbff1c,#dbff1c,#deff19,#e1ff16,#e1ff16,#e1ff16,#e1ff16,#e7ff0f,#e7ff0f,#f1fc06,#fbf100,#feed00,#ffe200,#ffdb00)"></i>
<i style="background:linear-gradient(90deg,#ffb600,#ffb200,#ffab00,#ff9f00,#ff9100,#ff8200,#ff7a00,#ff7700,#ff8200,#ff9f00,#ffb900,#ffc400,#feed00,#ebff0c,#e4ff13,#deff19,#d7ff1f,#d4ff23,#d7ff1f,#dbff1c,#deff19,#e1ff16,#e4ff13,#e4ff13,#e4ff13,#e4ff13,#f1fc06,#f8f500,#ffe600,#ffcc00,#ffc400,#ffbd00,#ffb600)"></i>
<i style="background:linear-gradient(90deg,#ff9c00,#ff9c00,#ff9100,#ff8200,#ff7300,#ff6400,#ff5900,#ff5200,#ff6400,#ff8d00,#ffb200,#ffbd00,#ffea00,#ebff0c,#e7ff0f,#deff19,#d4ff23,#d1ff26,#d4ff23,#d7ff1f,#deff19,#e1ff16,#e7ff0f,#e7ff0f,#ebff0c,#ebff0c,#feed00,#ffde00,#ffc400,#ffa300,#ff9400,#ff9800,#ff9c00)"></i>
<i style="background:linear-gradient(90deg,#ff8900,#ff8600,#ff7e00,#ff6c00,#ff5d00,#ff4e00,#ff3f00,#ff3b00,#ff4e00,#ff8200,#ffae00,#ffbd00,#ffe600,#eeff09,#e7ff0f,#deff19,#d4ff23,#ceff29,#d1ff26,#d7ff1f,#deff19,#e4ff13,#ebff0c,#ebff0c,#eeff09,#f1fc06,#ffd700,#ffbd00,#ff9c00,#ff6f00,#ff6000,#ff7700,#ff8900)"></i>
<i style="background:linear-gradient(90deg,#ff7a00,#ff7a00,#ff6f00,#ff5d00,#ff4e00,#ff3b00,#ff3000,#ff2900,#ff3f00,#ff7700,#ffae00,#ffbd00,#ffe600,#eeff09,#e7ff0f,#dbff1c,#d1ff26,#caff2c,#ceff29,#d4ff23,#deff19,#e4ff13,#ebff0c,#eeff09,#f1fc06,#f4f802,#ffb900,#ff9100,#ff7300,#ff4700,#ff3800,#ff5900,#ff7a00)"></i>
<i style="background:linear-gradient(90deg,#ff6f00,#ff6f00,#ff6000,#ff5200,#ff3f00,#ff2d00,#ff2200,#ff1a00,#ff3400,#ff7300,#ffab00,#ffbd00,#ffe600,#eeff09,#e7ff0f,#dbff1c,#ceff29,#c7ff30,#caff2c,#d4ff23,#dbff1c,#e4ff13,#ebff0c,#eeff09,#f4f802,#f8f500,#ffa700,#ff6f00,#ff5500,#ff2900,#ff1e00,#ff4700,#ff6f00)"></i>
<i style="background:linear-gradient(90deg,#ff6400,#ff6400,#ff5900,#ff4a00,#ff3800,#ff2500,#ff1600,#ff1300,#ff2d00,#ff6f00,#ffab00,#ffbd00,#ffea00,#eeff09,#e4ff13,#d7ff1f,#caff2c,#c4ff33,#c7ff30,#d1ff26,#dbff1c,#e4ff13,#ebff0c,#eeff09,#f4f802,#feed00,#ff9400,#ff5500,#ff3b00,#ff1300,#f10800,#ff3800,#ff6400)"></i>
<i style="background:linear-gradient(90deg,#ff6000,#ff5d00,#ff5500,#ff4300,#ff3400,#ff2200,#ff1600,#ff1300,#ff2d00,#ff6f00,#ffab00,#ffc100,#feed00,#e7ff0f,#e1ff16,#d4ff23,#c7ff30,#c1ff36,#c7ff30,#ceff29,#d7ff1f,#e4ff13,#ebff0c,#eeff09,#f8f500,#feed00,#ff8600,#ff3f00,#ff2900,#f10800,#e80000,#ff3000,#ff6000)"></i>
<i style="background:linear-gradient(90deg,#ff6000,#ff5d00,#ff5500,#ff4700,#ff3400,#ff2500,#ff1a00,#ff1300,#ff3000,#ff7700,#ffb900,#ffcc00,#f4f802,#e1ff16,#dbff1c,#ceff29,#c4ff33,#c1ff36,#c4ff33,#ceff29,#d7ff1f,#e4ff13,#ebff0c,#eeff09,#f8f500,#ffea00,#ff7a00,#ff3000,#ff1e00,#ed0400,#e80000,#ff3000,#ff6000)"></i>
<i style="background:linear-gradient(90deg,#ff6000,#ff5d00,#ff5500,#ff4700,#ff3800,#ff2900,#ff1e00,#ff1600,#ff3800,#ff8200,#ffc800,#ffde00,#ebff0c,#d7ff1f,#d4ff23,#caff2c,#c1ff36,#beff39,#c1ff36,#caff2c,#d7ff1f,#e1ff16,#ebff0c,#eeff09,#f8f500,#ffe600,#ff7a00,#ff2d00,#ff1e00,#ed0400,#e80000,#ff3000,#ff6000)"></i>
<i style="background:linear-gradient(90deg,#ff6000,#ff5d00,#ff5500,#ff4a00,#ff3b00,#ff2d00,#ff2200,#ff1e00,#ff3f00,#ff8d00,#ffd700,#feed00,#e1ff16,#d1ff26,#ceff29,#c4ff33,#beff39,#baff3c,#beff39,#c7ff30,#d4ff23,#e1ff16,#ebff0c,#eeff09,#f8f500,#ffea00,#ff7a00,#ff2d00,#ff1e00,#ed0400,#e80000,#ff3000,#ff6000)"></i>
<i style="background:linear-gradient(90deg,#ff6000,#ff6000,#ff5900,#ff4e00,#ff3f00,#ff3400,#ff2d00,#ff2900,#ff4a00,#ff9800,#ffe200,#f4f802,#dbff1c,#c7ff30,#c4ff33,#c1ff36,#baff3c,#baff3c,#beff39,#c7ff30,#d4ff23,#deff19,#e7ff0f,#ebff0c,#f4f802,#feed00,#ff7a00,#ff2d00,#ff1e00,#ed0400,#e80000,#ff3000,#ff6000)"></i>
<i style="background:linear-gradient(90deg,#ff6000,#ff6000,#ff5d00,#ff5500,#ff4e00,#ff4700,#ff4300,#ff3f00,#ff5d00,#ffa700,#feed00,#ebff0c,#d1ff26,#beff39,#beff39,#baff3c,#b7ff40,#b7ff40,#baff3c,#c4ff33,#d1ff26,#dbff1c,#e4ff13,#e7ff0f,#f1fc06,#fbf100,#ff7e00,#ff2d00,#ff1e00,#f10800,#ed0400,#ff3400,#ff6000)"></i>
<i style="background:linear-gradient(90deg,#ff7700,#ff7700,#ff7300,#ff6c00,#ff6800,#ff6000,#ff5d00,#ff5900,#ff7700,#ffbd00,#f1fc06,#e1ff16,#c4ff33,#b4ff43,#b4ff43,#b4ff43,#b4ff43,#b4ff43,#b7ff40,#c1ff36,#caff2c,#d7ff1f,#deff19,#e4ff13,#ebff0c,#f4f802,#ff8600,#ff3800,#ff2d00,#ff1600,#ff1300,#ff4700,#ff7700)"></i>
<i style="background:linear-gradient(90deg,#ff9800,#ff9800,#ff9400,#ff9100,#ff8900,#ff8600,#ff8200,#ff7e00,#ff9800,#ffd700,#e1ff16,#d1ff26,#baff3c,#aaff4d,#aaff4d,#adff49,#adff49,#adff49,#b1ff46,#baff3c,#c4ff33,#ceff29,#d7ff1f,#dbff1c,#e1ff16,#ebff0c,#ff9c00,#ff5500,#ff4700,#ff3000,#ff2900,#ff6000,#ff9800)"></i>
<i style="background:linear-gradient(90deg,#ffc400,#ffc800,#ffc400,#ffbd00,#ffb600,#ffb200,#ffae00,#ffab00,#ffc100,#f8f500,#ceff29,#c1ff36,#aaff4d,#a0ff56,#a0ff56,#a0ff56,#a4ff53,#a4ff53,#a7ff50,#adff49,#baff3c,#c4ff33,#caff2c,#ceff29,#d4ff23,#dbff1c,#ffb600,#ff7700,#ff6800,#ff5200,#ff4e00,#ff8d00,#ffc400)"></i>
<i style="background:linear-gradient(90deg,#f8f500,#f8f500,#f8f500,#feed00,#ffea00,#ffe200,#ffde00,#ffde00,#feed00,#dbff1c,#baff3c,#adff49,#9dff5a,#94ff63,#94ff63,#97ff60,#97ff60,#97ff60,#9aff5d,#a4ff53,#adff49,#b7ff40,#beff39,#c1ff36,#c4ff33,#caff2c,#ffde00,#ffae00,#ff9c00,#ff8600,#ff8200,#ffbd00,#f8f500)"></i>
<i style="background:linear-gradient(90deg,#d7ff1f,#d7ff1f,#dbff1c,#deff19,#e1ff16,#e4ff13,#e4ff13,#e7ff0f,#dbff1c,#c1ff36,#a7ff50,#9dff5a,#8dff6a,#87ff70,#87ff70,#8aff6d,#8aff6d,#8dff6a,#90ff66,#94ff63,#9dff5a,#a4ff53,#aaff4d,#adff49,#b1ff46,#b7ff40,#e4ff13,#ffe600,#ffdb00,#ffcc00,#ffc800,#fbf100,#d7ff1f)"></i>
<i style="background:linear-gradient(90deg,#b7ff40,#b7ff40,#baff3c,#beff39,#c1ff36,#c7ff30,#caff2c,#caff2c,#c1ff36,#aaff4d,#90ff66,#8aff6d,#7dff7a,#77ff80,#77ff80,#7aff7d,#7dff7a,#80ff77,#80ff77,#87ff70,#8aff6d,#90ff66,#97ff60,#97ff60,#9aff5d,#9dff5a,#beff39,#d4ff23,#deff19,#e7ff0f,#ebff0c,#d1ff26,#b7ff40)"></i>
<i style="background:linear-gradient(90deg,#8dff6a,#8dff6a,#94ff63,#9aff5d,#a0ff56,#a7ff50,#adff49,#adff49,#a7ff50,#90ff66,#7dff7a,#77ff80,#6aff8d,#63ff94,#66ff90,#6aff8d,#6dff8a,#70ff87,#70ff87,#73ff83,#77ff80,#7aff7d,#7dff7a,#80ff77,#83ff73,#83ff73,#9aff5d,#a7ff50,#b1ff46,#baff3c,#baff3c,#a4ff53,#8dff6a)"></i>
<i style="background:linear-gradient(90deg,#6aff8d,#6aff8d,#70ff87,#77ff80,#80ff77,#87ff70,#8dff6a,#90ff66,#8aff6d,#73ff83,#60ff97,#5dff9a,#56ffa0,#53ffa4,#53ffa4,#56ffa0,#5aff9d,#5aff9d,#5aff9d,#5dff9a,#60ff97,#63ff94,#66ff90,#66ff90,#6aff8d,#6dff8a,#77ff80,#7dff7a,#80ff77,#87ff70,#8aff6d,#7aff7d,#6aff8d)"></i>
<i style="background:linear-gradient(90deg,#49ffad,#49ffad,#50ffa7,#56ffa0,#60ff97,#6aff8d,#70ff87,#73ff83,#6aff8d,#56ffa0,#46ffb1,#43ffb4,#40ffb7,#40ffb7,#40ffb7,#43ffb4,#43ffb4,#46ffb1,#46ffb1,#46ffb1,#49ffad,#49ffad,#4dffaa,#4dffaa,#50ffa7,#50ffa7,#56ffa0,#5aff9d,#5aff9d,#5dff9a,#5dff9a,#53ffa4,#49ffad)"></i>
<i style="background:linear-gradient(90deg,#30ffc7,#30ffc7,#33ffc4,#39ffbe,#43ffb4,#49ffad,#50ffa7,#50ffa7,#4dffaa,#3cffba,#30ffc7,#2cffca,#2cffca,#2cffca,#2cffca,#30ffc7,#30ffc7,#30ffc7,#30ffc7,#30ffc7,#33ffc4,#33ffc4,#33ffc4,#33ffc4,#33ffc4,#36ffc1,#39ffbe,#3cffba,#39ffbe,#39ffbe,#39ffbe,#33ffc4,#30ffc7)"></i>
<i style="background:linear-gradient(90deg,#19ffde,#19ffde,#1cffdb,#23ffd4,#26ffd1,#2cffca,#30ffc7,#33ffc4,#30ffc7,#26ffd1,#1cffdb,#19ffde,#19ffde,#1cffdb,#1cffdb,#1cffdb,#1cffdb,#1cffdb,#1cffdb,#1cffdb,#1cffdb,#1cffdb,#1cffdb,#1cffdb,#1cffdb,#1cffdb,#1fffd7,#23ffd4,#1fffd7,#1fffd7,#1cffdb,#19ffde,#19ffde)"></i>
<i style="background:linear-gradient(90deg,#06edf1,#06edf1,#09f1ee,#0cf5eb,#13fde4,#16ffe1,#19ffde,#19ffde,#19ffde,#0ff9e7,#09f1ee,#09f1ee,#09f1ee,#09f1ee,#09f1ee,#09f1ee,#09f1ee,#0cf5eb,#0cf5eb,#0cf5eb,#09f1ee,#09f1ee,#09f1ee,#09f1ee,#09f1ee,#09f1ee,#09f1ee,#0cf5eb,#09f1ee,#09f1ee,#06edf1,#06edf1,#06edf1)"></i>
<i style="background:linear-gradient(90deg,#00ddfe,#00ddfe,#00ddfe,#00e1fb,#00e5f8,#02e8f4,#06edf1,#06edf1,#06edf1,#00e5f8,#00e1fb,#00ddfe,#00ddfe,#00e1fb,#00ddfe,#00ddfe,#00ddfe,#00e1fb,#00e1fb,#00e1fb,#00e1fb,#00e1fb,#00ddfe,#00ddfe,#00ddfe,#00ddfe,#00ddfe,#00ddfe,#00ddfe,#00d9ff,#00d9ff,#00d9ff,#00ddfe)"></i>
<i style="background:linear-gradient(90deg,#00cdff,#00cdff,#00d1ff,#00d1ff,#00d5ff,#00d9ff,#00ddfe,#00ddfe,#00d9ff,#00d5ff,#00d1ff,#00cdff,#00d1ff,#00d1ff,#00d1ff,#00cdff,#00cdff,#00cdff,#00d1ff,#00d1ff,#00d1ff,#00d1ff,#00d1ff,#00d1ff,#00d1ff,#00d1ff,#00d1ff,#00cdff,#00cdff,#00cdff,#00cdff,#00cdff,#00cdff)"></i>
<i style="background:linear-gradient(90deg,#00c8ff,#00c8ff,#00c8ff,#00c8ff,#00cdff,#00cdff,#00cdff,#00cdff,#00cdff,#00c8ff,#00c8ff,#00c8ff,#00c8ff,#00c8ff,#00c5ff,#00b9ff,#00b5ff,#00bdff,#00c1ff,#00c1ff,#00c5ff,#00c5ff,#00c5ff,#00c5ff,#00c5ff,#00c5ff,#00c5ff,#00c5ff,#00c5ff,#00c5ff,#00c5ff,#00c8ff,#00c8ff)"></i>
<i style="background:linear-gradient(90deg,#00c8ff,#00c8ff,#00c8ff,#00c8ff,#00c8ff,#00c8ff,#00c8ff,#00c8ff,#00c8ff,#00c8ff,#00cdff,#00cdff,#00c8ff,#00c5ff,#00bdff,#00a5ff,#00a1ff,#00b1ff,#00b9ff,#00bdff,#00c1ff,#00c5ff,#00c5ff,#00c5ff,#00c5ff,#00c5ff,#00c5ff,#00c5ff,#00c5ff,#00c5ff,#00c5ff,#00c8ff,#00c8ff)"></i>
<i style="background:linear-gradient(90deg,#00cdff,#00cdff,#00d1ff,#00cdff,#00cdff,#00cdff,#00cdff,#00cdff,#00cdff,#00cdff,#00d1ff,#00d1ff,#00cdff,#00cdff,#00c1ff,#009dff,#0095ff,#00b1ff,#00bdff,#00bdff,#00c5ff,#00c8ff,#00c8ff,#00c8ff,#00c8ff,#00c8ff,#00c8ff,#00c8ff,#00c8ff,#00c8ff,#00c8ff,#00cdff,#00cdff)"></i>
<i style="background:linear-gradient(90deg,#00d1ff,#00d1ff,#00d1ff,#00d1ff,#00d1ff,#00d1ff,#00d1ff,#00d1ff,#00d1ff,#00d1ff,#00d1ff,#00d1ff,#00d1ff,#00d1ff,#00c5ff,#009dff,#0095ff,#00b1ff,#00b9ff,#00bdff,#00c5ff,#00cdff,#00cdff,#00cdff,#00cdff,#00cdff,#00cdff,#00cdff,#00cdff,#00cdff,#00cdff,#00d1ff,#00d1ff)"></i>
<i style="background:linear-gradient(90deg,#00d1ff,#00d1ff,#00d1ff,#00d1ff,#00d1ff,#00d1ff,#00d1ff,#00d1ff,#00d1ff,#00d1ff,#00d1ff,#00d1ff,#00d1ff,#00d1ff,#00c5ff,#00a1ff,#0099ff,#00adff,#00b1ff,#00b5ff,#00c1ff,#00c8ff,#00cdff,#00c8ff,#00c8ff,#00c8ff,#00c8ff,#00c8ff,#00c8ff,#00cdff,#00cdff,#00cdff,#00d1ff)"></i>
<i style="background:linear-gradient(90deg,#00cdff,#00cdff,#00d1ff,#00d1ff,#00d1ff,#00d1ff,#00d1ff,#00d1ff,#00d1ff,#00d1ff,#00d1ff,#00d1ff,#00d1ff,#00d1ff,#00c8ff,#00b1ff,#00a8ff,#00b1ff,#00b1ff,#00b5ff,#00c1ff,#00c8ff,#00c8ff,#00c8ff,#00c5ff,#00c5ff,#00c5ff,#00c5ff,#00c5ff,#00c8ff,#00c8ff,#00cdff,#00cdff)"></i>
<i style="background:linear-gradient(90deg,#00cdff,#00cdff,#00cdff,#00cdff,#00cdff,#00cdff,#00cdff,#00d1ff,#00d1ff,#00d1ff,#00d1ff,#00d1ff,#00d1ff,#00cdff,#00c8ff,#00bdff,#00b9ff,#00b9ff,#00b9ff,#00b9ff,#00c1ff,#00c5ff,#00c5ff,#00c5ff,#00c1ff,#00c1ff,#00c1ff,#00c1ff,#00c5ff,#00c5ff,#00c8ff,#00c8ff,#00cdff)"></i>
<i style="background:linear-gradient(90deg,#00cdff,#00cdff,#00cdff,#00cdff,#00cdff,#00cdff,#00cdff,#00cdff,#00cdff,#00cdff,#00cdff,#00cdff,#00cdff,#00cdff,#00cdff,#00c8ff,#00c5ff,#00c5ff,#00c1ff,#00c1ff,#00c5ff,#00c8ff,#00c5ff,#00c5ff,#00c1ff,#00c1ff,#00c1ff,#00c1ff,#00c1ff,#00c5ff,#00c8ff,#00c8ff,#00cdff)"></i>
<i style="background:linear-gradient(90deg,#00c8ff,#00cdff,#00cdff,#00cdff,#00cdff,#00cdff,#00cdff,#00cdff,#00cdff,#00cdff,#00cdff,#00cdff,#00cdff,#00cdff,#00cdff,#00cdff,#00cdff,#00c8ff,#00c8ff,#00c8ff,#00c8ff,#00c8ff,#00c5ff,#00c5ff,#00c1ff,#00c1ff,#00c1ff,#00c1ff,#00c1ff,#00c5ff,#00c5ff,#00c8ff,#00c8ff)"></i>
<i style="background:linear-gradient(90deg,#00c8ff,#00c8ff,#00cdff,#00cdff,#00cdff,#00cdff,#00cdff,#00cdff,#00cdff,#00cdff,#00cdff,#00cdff,#00cdff,#00cdff,#00cdff,#00cdff,#00cdff,#00cdff,#00cdff,#00cdff,#00c8ff,#00c8ff,#00c5ff,#00c5ff,#00c1ff,#00c1ff,#00c1ff,#00c1ff,#00c1ff,#00c5ff,#00c5ff,#00c8ff,#00c8ff)"></i>
<i style="background:linear-gradient(90deg,#00c8ff,#00c8ff,#00c8ff,#00c8ff,#00c8ff,#00c8ff,#00c8ff,#00c8ff,#00cdff,#00cdff,#00cdff,#00cdff,#00cdff,#00cdff,#00cdff,#00cdff,#00cdff,#00cdff,#00cdff,#00cdff,#00cdff,#00c8ff,#00c8ff,#00c5ff,#00c5ff,#00c1ff,#00c1ff,#00c1ff,#00c5ff,#00c5ff,#00c5ff,#00c8ff,#00c8ff)"></i>
<i style="background:linear-gradient(90deg,#00c5ff,#00c1ff,#00c1ff,#00c1ff,#00c1ff,#00c1ff,#00c5ff,#00c5ff,#00c8ff,#00c8ff,#00cdff,#00cdff,#00cdff,#00cdff,#00cdff,#00cdff,#00cdff,#00cdff,#00cdff,#00cdff,#00c8ff,#00c8ff,#00c8ff,#00c5ff,#00c5ff,#00c5ff,#00c1ff,#00c5ff,#00c5ff,#00c5ff,#00c5ff,#00c5ff,#00c5ff)"></i>
<i style="background:linear-gradient(90deg,#00bdff,#00bdff,#00b9ff,#00b9ff,#00b9ff,#00b9ff,#00bdff,#00c1ff,#00c1ff,#00c5ff,#00c8ff,#00c8ff,#00c8ff,#00c8ff,#00cdff,#00cdff,#00cdff,#00c8ff,#00c8ff,#00c8ff,#00c8ff,#00c8ff,#00c5ff,#00c5ff,#00c5ff,#00c5ff,#00c1ff,#00c1ff,#00c1ff,#00c1ff,#00c1ff,#00c1ff,#00bdff)"></i>
<i style="background:linear-gradient(90deg,#00b9ff,#00b5ff,#00b1ff,#00b1ff,#00b1ff,#00b1ff,#00b5ff,#00b9ff,#00bdff,#00c1ff,#00c5ff,#00c5ff,#00c8ff,#00c8ff,#00c8ff,#00c8ff,#00c8ff,#00c8ff,#00c8ff,#00c8ff,#00c8ff,#00c5ff,#00c5ff,#00c5ff,#00c5ff,#00c5ff,#00c1ff,#00c1ff,#00c1ff,#00c1ff,#00c1ff,#00bdff,#00b9ff)"></i>
<i style="background:linear-gradient(90deg,#00b9ff,#00b5ff,#00b1ff,#00b1ff,#00b1ff,#00b1ff,#00b5ff,#00b9ff,#00bdff,#00c1ff,#00c5ff,#00c5ff,#00c8ff,#00c8ff,#00c8ff,#00c8ff,#00c8ff,#00c8ff,#00c8ff,#00c8ff,#00c8ff,#00c8ff,#00c5ff,#00c5ff,#00c5ff,#00c5ff,#00c5ff,#00c5ff,#00c5ff,#00c1ff,#00c1ff,#00bdff,#00b9ff)"></i>
<i style="background:linear-gradient(90deg,#00bdff,#00b9ff,#00b5ff,#00b5ff,#00b5ff,#00b5ff,#00b9ff,#00bdff,#00c1ff,#00c5ff,#00c5ff,#00c8ff,#00c8ff,#00c8ff,#00c8ff,#00c8ff,#00c8ff,#00c8ff,#00c8ff,#00c8ff,#00c8ff,#00c8ff,#00c8ff,#00c8ff,#00c8ff,#00c8ff,#00c8ff,#00c8ff,#00c5ff,#00c5ff,#00c5ff,#00c1ff,#00bdff)"></i>
<i style="background:linear-gradient(90deg,#00c5ff,#00c1ff,#00c1ff,#00c1ff,#00bdff,#00c1ff,#00c1ff,#00c5ff,#00c8ff,#00c8ff,#00cdff,#00cdff,#00cdff,#00cdff,#00cdff,#00cdff,#00cdff,#00cdff,#00cdff,#00cdff,#00cdff,#00cdff,#00cdff,#00cdff,#00cdff,#00cdff,#00cdff,#00cdff,#00cdff,#00c8ff,#00c8ff,#00c8ff,#00c5ff)"></i>
<i style="background:linear-gradient(90deg,#00cdff,#00cdff,#00c8ff,#00c8ff,#00c8ff,#00c8ff,#00cdff,#00cdff,#00cdff,#00d1ff,#00d1ff,#00d1ff,#00d1ff,#00d1ff,#00d1ff,#00d1ff,#00d1ff,#00d1ff,#00d1ff,#00d1ff,#00d1ff,#00d1ff,#00d1ff,#00d1ff,#00d1ff,#00d1ff,#00d1ff,#00d1ff,#00d1ff,#00d1ff,#00d1ff,#00cdff,#00cdff)"></i>
<i style="background:linear-gradient(90deg,#00d5ff,#00d5ff,#00d5ff,#00d5ff,#00d5ff,#00d5ff,#00d5ff,#00d5ff,#00d5ff,#00d5ff,#00d9ff,#00d9ff,#00d9ff,#00d9ff,#00d9ff,#00d9ff,#00d9ff,#00d9ff,#00d9ff,#00d9ff,#00d9ff,#00d9ff,#00d9ff,#00d9ff,#00d9ff,#00d9ff,#00d9ff,#00d9ff,#00d9ff,#00d9ff,#00d5ff,#00d5ff,#00d5ff)"></i>
<i style="background:linear-gradient(90deg,#00ddfe,#00ddfe,#00ddfe,#00ddfe,#00ddfe,#00ddfe,#00ddfe,#00ddfe,#00ddfe,#00e1fb,#00e1fb,#00e1fb,#00e1fb,#00e1fb,#00e1fb,#00e1fb,#00e1fb,#00e1fb,#00e1fb,#00e1fb,#00e1fb,#00e1fb,#00e1fb,#00e1fb,#00e1fb,#00e1fb,#00e1fb,#00e1fb,#00e1fb,#00e1fb,#00e1fb,#00ddfe,#00ddfe)"></i>
<i style="background:linear-gradient(90deg,#02e8f4,#02e8f4,#00e5f8,#00e5f8,#00e5f8,#00e5f8,#02e8f4,#02e8f4,#02e8f4,#02e8f4,#02e8f4,#02e8f4,#02e8f4,#02e8f4,#02e8f4,#02e8f4,#02e8f4,#02e8f4,#02e8f4,#02e8f4,#02e8f4,#02e8f4,#02e8f4,#02e8f4,#02e8f4,#02e8f4,#02e8f4,#02e8f4,#02e8f4,#02e8f4,#02e8f4,#02e8f4,#02e8f4)"></i>
<i style="background:linear-gradient(90deg,#06edf1,#06edf1,#06edf1,#06edf1,#06edf1,#06edf1,#06edf1,#06edf1,#06edf1,#06edf1,#06edf1,#06edf1,#06edf1,#06edf1,#06edf1,#06edf1,#06edf1,#06edf1,#06edf1,#06edf1,#06edf1,#06edf1,#06edf1,#06edf1,#06edf1,#06edf1,#06edf1,#06edf1,#06edf1,#06edf1,#06edf1,#06edf1,#06edf1)"></i>
<i style="background:linear-gradient(90deg,#0cf5eb,#0cf5eb,#0cf5eb,#0cf5eb,#0cf5eb,#0cf5eb,#0cf5eb,#0cf5eb,#0cf5eb,#0cf5eb,#0cf5eb,#0cf5eb,#0cf5eb,#0cf5eb,#0cf5eb,#0cf5eb,#0cf5eb,#0cf5eb,#0cf5eb,#0cf5eb,#0cf5eb,#0cf5eb,#0cf5eb,#0cf5eb,#0cf5eb,#0cf5eb,#0cf5eb,#0cf5eb,#0cf5eb,#0cf5eb,#0cf5eb,#0cf5eb,#0cf5eb)"></i>
<i style="background:linear-gradient(90deg,#13fde4,#13fde4,#13fde4,#13fde4,#13fde4,#13fde4,#13fde4,#13fde4,#13fde4,#13fde4,#13fde4,#13fde4,#13fde4,#13fde4,#13fde4,#13fde4,#13fde4,#13fde4,#13fde4,#13fde4,#13fde4,#13fde4,#13fde4,#13fde4,#13fde4,#13fde4,#13fde4,#13fde4,#13fde4,#13fde4,#13fde4,#13fde4,#13fde4)"></i>
<i style="background:linear-gradient(90deg,#19ffde,#19ffde,#19ffde,#19ffde,#19ffde,#19ffde,#19ffde,#19ffde,#19ffde,#19ffde,#19ffde,#19ffde,#19ffde,#19ffde,#19ffde,#19ffde,#19ffde,#19ffde,#19ffde,#19ffde,#19ffde,#19ffde,#19ffde,#19ffde,#19ffde,#19ffde,#19ffde,#19ffde,#19ffde,#19ffde,#19ffde,#19ffde,#19ffde)"></i>
<i style="background:linear-gradient(90deg,#23ffd4,#23ffd4,#23ffd4,#23ffd4,#23ffd4,#23ffd4,#23ffd4,#23ffd4,#23ffd4,#23ffd4,#23ffd4,#23ffd4,#23ffd4,#23ffd4,#23ffd4,#23ffd4,#23ffd4,#23ffd4,#23ffd4,#23ffd4,#23ffd4,#23ffd4,#23ffd4,#23ffd4,#23ffd4,#23ffd4,#23ffd4,#23ffd4,#23ffd4,#23ffd4,#23ffd4,#23ffd4,#23ffd4)"></i>
<i style="background:linear-gradient(90deg,#2cffca,#2cffca,#2cffca,#2cffca,#2cffca,#2cffca,#2cffca,#2cffca,#2cffca,#2cffca,#2cffca,#2cffca,#2cffca,#2cffca,#2cffca,#2cffca,#2cffca,#2cffca,#2cffca,#2cffca,#2cffca,#2cffca,#2cffca,#2cffca,#2cffca,#2cffca,#2cffca,#2cffca,#2cffca,#2cffca,#2cffca,#2cffca,#2cffca)"></i>
<i style="background:linear-gradient(90deg,#36ffc1,#36ffc1,#36ffc1,#36ffc1,#36ffc1,#36ffc1,#36ffc1,#36ffc1,#36ffc1,#36ffc1,#36ffc1,#36ffc1,#36ffc1,#36ffc1,#36ffc1,#36ffc1,#36ffc1,#36ffc1,#36ffc1,#36ffc1,#36ffc1,#36ffc1,#36ffc1,#36ffc1,#36ffc1,#36ffc1,#36ffc1,#36ffc1,#36ffc1,#36ffc1,#36ffc1,#36ffc1,#36ffc1)"></i>
<i style="background:linear-gradient(90deg,#40ffb7,#40ffb7,#40ffb7,#40ffb7,#40ffb7,#40ffb7,#40ffb7,#40ffb7,#40ffb7,#40ffb7,#40ffb7,#40ffb7,#40ffb7,#40ffb7,#40ffb7,#40ffb7,#40ffb7,#40ffb7,#40ffb7,#40ffb7,#40ffb7,#40ffb7,#40ffb7,#40ffb7,#40ffb7,#40ffb7,#40ffb7,#40ffb7,#40ffb7,#40ffb7,#40ffb7,#40ffb7,#40ffb7)"></i>
<i style="background:linear-gradient(90deg,#49ffad,#49ffad,#49ffad,#49ffad,#49ffad,#49ffad,#49ffad,#49ffad,#49ffad,#49ffad,#49ffad,#49ffad,#49ffad,#49ffad,#49ffad,#49ffad,#49ffad,#49ffad,#49ffad,#49ffad,#49ffad,#49ffad,#49ffad,#49ffad,#49ffad,#49ffad,#49ffad,#49ffad,#49ffad,#49ffad,#49ffad,#49ffad,#49ffad)"></i>
<i style="background:linear-gradient(90deg,#53ffa4,#53ffa4,#53ffa4,#53ffa4,#53ffa4,#53ffa4,#53ffa4,#53ffa4,#53ffa4,#53ffa4,#53ffa4,#53ffa4,#53ffa4,#53ffa4,#53ffa4,#53ffa4,#53ffa4,#53ffa4,#53ffa4,#53ffa4,#53ffa4,#53ffa4,#53ffa4,#53ffa4,#53ffa4,#53ffa4,#53ffa4,#53ffa4,#53ffa4,#53ffa4,#53ffa4,#53ffa4,#53ffa4)"></i>
<i style="background:linear-gradient(90deg,#5aff9d,#5aff9d,#5aff9d,#5aff9d,#5aff9d,#5aff9d,#5aff9d,#5aff9d,#5aff9d,#5aff9d,#5aff9d,#5aff9d,#5aff9d,#5aff9d,#5aff9d,#5aff9d,#5aff9d,#5aff9d,#5aff9d,#5aff9d,#5aff9d,#5aff9d,#5aff9d,#5aff9d,#5aff9d,#5aff9d,#5aff9d,#5aff9d,#5aff9d,#5aff9d,#5aff9d,#5aff9d,#5aff9d)"></i>
<i style="background:linear-gradient(90deg,#63ff94,#63ff94,#63ff94,#63ff94,#63ff94,#63ff94,#63ff94,#63ff94,#63ff94,#63ff94,#63ff94,#63ff94,#63ff94,#63ff94,#63ff94,#63ff94,#63ff94,#63ff94,#63ff94,#63ff94,#63ff94,#63ff94,#63ff94,#63ff94,#63ff94,#63ff94,#63ff94,#63ff94,#63ff94,#63ff94,#63ff94,#63ff94,#63ff94)"></i>
<i style="background:linear-gradient(90deg,#6dff8a,#6dff8a,#6dff8a,#6dff8a,#6dff8a,#6dff8a,#6dff8a,#6dff8a,#6dff8a,#6dff8a,#6dff8a,#6dff8a,#6dff8a,#6dff8a,#6dff8a,#6dff8a,#6dff8a,#6dff8a,#6dff8a,#6dff8a,#6dff8a,#6dff8a,#6dff8a,#6dff8a,#6dff8a,#6dff8a,#6dff8a,#6dff8a,#6dff8a,#6dff8a,#6dff8a,#6dff8a,#6dff8a)"></i>
<i style="background:linear-gradient(90deg,#73ff83,#73ff83,#73ff83,#73ff83,#73ff83,#73ff83,#73ff83,#73ff83,#73ff83,#73ff83,#73ff83,#73ff83,#73ff83,#73ff83,#73ff83,#73ff83,#73ff83,#73ff83,#77ff80,#77ff80,#77ff80,#77ff80,#77ff80,#77ff80,#77ff80,#77ff80,#77ff80,#77ff80,#77ff80,#73ff83,#73ff83,#73ff83,#73ff83)"></i>
<i style="background:linear-gradient(90deg,#7dff7a,#7dff7a,#7dff7a,#7dff7a,#7dff7a,#7dff7a,#7dff7a,#7dff7a,#7dff7a,#7dff7a,#7dff7a,#7dff7a,#7dff7a,#7dff7a,#7dff7a,#7dff7a,#7dff7a,#80ff77,#80ff77,#80ff77,#80ff77,#80ff77,#80ff77,#80ff77,#80ff77,#80ff77,#80ff77,#80ff77,#80ff77,#80ff77,#80ff77,#7dff7a,#7dff7a)"></i>
<i style="background:linear-gradient(90deg,#8aff6d,#8aff6d,#8aff6d,#8aff6d,#87ff70,#87ff70,#87ff70,#87ff70,#87ff70,#87ff70,#87ff70,#8aff6d,#8aff6d,#8aff6d,#8aff6d,#8aff6d,#8dff6a,#8dff6a,#8dff6a,#8dff6a,#8dff6a,#90ff66,#90ff66,#90ff66,#90ff66,#90ff66,#90ff66,#8dff6a,#8dff6a,#8dff6a,#8dff6a,#8aff6d,#8aff6d)"></i>
<i style="background:linear-gradient(90deg,#97ff60,#97ff60,#94ff63,#94ff63,#94ff63,#94ff63,#94ff63,#90ff66,#94ff63,#94ff63,#94ff63,#94ff63,#94ff63,#94ff63,#97ff60,#97ff60,#9aff5d,#9aff5d,#9aff5d,#9dff5a,#9dff5a,#9dff5a,#a0ff56,#a0ff56,#a0ff56,#9dff5a,#9dff5a,#9dff5a,#9aff5d,#9aff5d,#9aff5d,#97ff60,#97ff60)"></i>
<i style="background:linear-gradient(90deg,#9dff5a,#9aff5d,#9aff5d,#9aff5d,#97ff60,#97ff60,#97ff60,#97ff60,#97ff60,#97ff60,#97ff60,#9aff5d,#9aff5d,#9aff5d,#9dff5a,#9dff5a,#a0ff56,#a0ff56,#a4ff53,#a4ff53,#a7ff50,#a7ff50,#a7ff50,#aaff4d,#aaff4d,#a7ff50,#a7ff50,#a7ff50,#a4ff53,#a0ff56,#a0ff56,#9dff5a,#9dff5a)"></i>
<i style="background:linear-gradient(90deg,#a0ff56,#9dff5a,#9dff5a,#9dff5a,#9aff5d,#9aff5d,#9aff5d,#9aff5d,#9aff5d,#9aff5d,#9aff5d,#9dff5a,#9dff5a,#9dff5a,#a0ff56,#a0ff56,#a4ff53,#a7ff50,#a7ff50,#aaff4d,#aaff4d,#adff49,#adff49,#adff49,#adff49,#adff49,#aaff4d,#aaff4d,#a7ff50,#a7ff50,#a4ff53,#a0ff56,#a0ff56)"></i>
<i style="background:linear-gradient(90deg,#a0ff56,#a0ff56,#9dff5a,#9dff5a,#9dff5a,#9dff5a,#9aff5d,#9aff5d,#9aff5d,#9aff5d,#9dff5a,#9dff5a,#9dff5a,#a0ff56,#a0ff56,#a4ff53,#a4ff53,#a7ff50,#a7ff50,#aaff4d,#aaff4d,#adff49,#adff49,#adff49,#adff49,#adff49,#aaff4d,#aaff4d,#a7ff50,#a7ff50,#a4ff53,#a4ff53,#a0ff56)"></i>
<i style="background:linear-gradient(90deg,#9dff5a,#9aff5d,#9aff5d,#9aff5d,#9aff5d,#97ff60,#97ff60,#97ff60,#97ff60,#97ff60,#9aff5d,#9aff5d,#9aff5d,#9aff5d,#9dff5a,#9dff5a,#9dff5a,#a0ff56,#a0ff56,#a4ff53,#a4ff53,#a4ff53,#a7ff50,#a7ff50,#a7ff50,#a4ff53,#a4ff53,#a4ff53,#a0ff56,#a0ff56,#a0ff56,#9dff5a,#9dff5a)"></i>
<i style="background:linear-gradient(90deg,#8aff6d,#8aff6d,#8aff6d,#8aff6d,#8aff6d,#8aff6d,#8aff6d,#87ff70,#8aff6d,#8aff6d,#8aff6d,#8aff6d,#8aff6d,#8aff6d,#8aff6d,#8dff6a,#8dff6a,#8dff6a,#8dff6a,#90ff66,#90ff66,#90ff66,#90ff66,#90ff66,#90ff66,#90ff66,#90ff66,#90ff66,#8dff6a,#8dff6a,#8dff6a,#8dff6a,#8aff6d)"></i>
<i style="background:linear-gradient(90deg,#73ff83,#73ff83,#73ff83,#73ff83,#73ff83,#73ff83,#73ff83,#73ff83,#73ff83,#73ff83,#73ff83,#73ff83,#73ff83,#73ff83,#73ff83,#77ff80,#77ff80,#77ff80,#77ff80,#77ff80,#77ff80,#73ff83,#73ff83,#70ff87,#70ff87,#70ff87,#70ff87,#70ff87,#73ff83,#73ff83,#73ff83,#73ff83,#73ff83)"></i>
<i style="background:linear-gradient(90deg,#56ffa0,#5aff9d,#5aff9d,#5aff9d,#5aff9d,#5aff9d,#56ffa0,#56ffa0,#56ffa0,#56ffa0,#5aff9d,#5aff9d,#5aff9d,#5aff9d,#5aff9d,#5aff9d,#5aff9d,#5aff9d,#56ffa0,#56ffa0,#50ffa7,#49ffad,#40ffb7,#39ffbe,#33ffc4,#30ffc7,#36ffc1,#3cffba,#46ffb1,#4dffaa,#53ffa4,#56ffa0,#56ffa0)"></i>
<i style="background:linear-gradient(90deg,#39ffbe,#3cffba,#3cffba,#3cffba,#3cffba,#3cffba,#3cffba,#3cffba,#3cffba,#3cffba,#3cffba,#3cffba,#3cffba,#3cffba,#3cffba,#3cffba,#3cffba,#3cffba,#39ffbe,#33ffc4,#26ffd1,#13fde4,#00ddfe,#00bdff,#00a8ff,#00a5ff,#00b5ff,#00d1ff,#09f1ee,#1cffdb,#2cffca,#36ffc1,#39ffbe)"></i>
<i style="background:linear-gradient(90deg,#26ffd1,#26ffd1,#29ffce,#29ffce,#29ffce,#29ffce,#29ffce,#29ffce,#29ffce,#29ffce,#29ffce,#29ffce,#29ffce,#29ffce,#29ffce,#29ffce,#29ffce,#26ffd1,#23ffd4,#16ffe1,#06edf1,#00c5ff,#0099ff,#0069ff,#0049ff,#0041ff,#0059ff,#0085ff,#00b5ff,#00ddfe,#0ff9e7,#1fffd7,#26ffd1)"></i>
<i style="background:linear-gradient(90deg,#1cffdb,#1fffd7,#1fffd7,#1fffd7,#1fffd7,#1fffd7,#1fffd7,#1fffd7,#1fffd7,#1fffd7,#1fffd7,#1fffd7,#1fffd7,#1fffd7,#1fffd7,#1fffd7,#1fffd7,#1fffd7,#19ffde,#13fde4,#02e8f4,#00c8ff,#00a1ff,#007dff,#0061ff,#005dff,#006dff,#0091ff,#00b9ff,#00ddfe,#0cf5eb,#16ffe1,#1cffdb)"></i>
<i style="background:linear-gradient(90deg,#19ffde,#19ffde,#19ffde,#1cffdb,#1cffdb,#1cffdb,#1cffdb,#1cffdb,#1cffdb,#1cffdb,#1cffdb,#1cffdb,#1cffdb,#1cffdb,#1cffdb,#19ffde,#19ffde,#19ffde,#19ffde,#13fde4,#0cf5eb,#02e8f4,#00d5ff,#00c5ff,#00b9ff,#00b5ff,#00bdff,#00cdff,#00e1fb,#09f1ee,#13fde4,#16ffe1,#19ffde)"></i>
<i></i>
<i></i>
<i></i>
</div>
<div class="p q" style="left:373.8px;top:4.8px">
<i></i>
<i style="background:linear-gradient(90deg,#fdbd6e 4px,#fed786 0 11px,#fdbd6e 0 12px,#fed786 0 21px,#fdbd6e 0 25px,#fed786 0 26px,#fdbd6e 0 29px,#fa9e5a 0 33px,#fdbd6e 0 42px,#fed786 0 50px,#ffeba0 0 62px,#fed786 0 64px,#fdbd6e 0 77px,#fed786 0 84px,#ffeba0 0 88px,#fff9bc 0 89px,#ffeba0 0 104px,#fff9bc 0 105px,#ffeba0 0 117px,#fed786 0 121px,#ffeba0 0 127px,#fff9bc 0 129px,#ffeba0 0 131px,#fed786 0 134px,#ffeba0 0 143px,#fed786 0 145px,#ffeba0 0 152px,#fed786 0 155px,#fdbd6e 0 158px,#fed786 0 161px,#fdbd6e 0)"></i>
<i style="background:linear-gradient(90deg,#fa9e5a 1px,#fdbd6e 0 13px,#fed786 0 20px,#fdbd6e 0 30px,#fa9e5a 0 33px,#fdbd6e 0 42px,#fed786 0 46px,#ffeba0 0 50px,#fff9bc 0 58px,#ffeba0 0 63px,#fed786 0 70px,#fdbd6e 0 77px,#fed786 0 85px,#ffeba0 0 103px,#fff9bc 0 106px,#ffeba0 0 113px,#fff9bc 0 114px,#ffeba0 0 118px,#fed786 0 122px,#ffeba0 0 127px,#fff9bc 0 129px,#ffeba0 0 152px,#fed786 0 154px,#fdbd6e 0 159px,#fed786 0 160px,#fdbd6e 0 165px,#fa9e5a 0)"></i>
<i style="background:linear-gradient(90deg,#fa9e5a 3px,#fdbd6e 0 14px,#fed786 0 19px,#fdbd6e 0 28px,#fa9e5a 0 29px,#fdbd6e 0 30px,#fa9e5a 0 33px,#fdbd6e 0 40px,#fed786 0 43px,#ffeba0 0 44px,#fff9bc 0 46px,#f6fbd0 0 50px,#e4f4f1 0 53px,#f6fbd0 0 56px,#fff9bc 0 63px,#ffeba0 0 71px,#fed786 0 81px,#ffeba0 0 83px,#fed786 0 86px,#ffeba0 0 103px,#fff9bc 0 115px,#ffeba0 0 128px,#fff9bc 0 130px,#ffeba0 0 138px,#fff9bc 0 139px,#ffeba0 0 152px,#fed786 0 154px,#fdbd6e 0 158px,#fed786 0 159px,#fdbd6e 0 164px,#fa9e5a 0)"></i>
<i style="background:linear-gradient(90deg,#fa9e5a 13px,#fdbd6e 0 30px,#fa9e5a 0 33px,#fdbd6e 0 38px,#fed786 0 39px,#ffeba0 0 40px,#fff9bc 0 42px,#f6fbd0 0 44px,#e4f4f1 0 51px,#c7e7f1 0 53px,#e4f4f1 0 55px,#f6fbd0 0 59px,#fff9bc 0 63px,#ffeba0 0 73px,#fff9bc 0 74px,#ffeba0 0 76px,#fed786 0 80px,#ffeba0 0 89px,#fff9bc 0 98px,#ffeba0 0 103px,#fff9bc 0 116px,#ffeba0 0 127px,#fff9bc 0 128px,#f6fbd0 0 130px,#fff9bc 0 131px,#ffeba0 0 137px,#fff9bc 0 140px,#ffeba0 0 152px,#fed786 0 155px,#fdbd6e 0 157px,#fed786 0 159px,#fdbd6e 0 164px,#fa9e5a 0)"></i>
<i style="background:linear-gradient(90deg,#fa9e5a 2px,#f57a48 0 3px,#fa9e5a 0 14px,#fdbd6e 0 38px,#fed786 0 39px,#ffeba0 0 41px,#fff9bc 0 42px,#f6fbd0 0 43px,#e4f4f1 0 47px,#f6fbd0 0 48px,#fff9bc 0 50px,#f6fbd0 0 51px,#e4f4f1 0 52px,#c7e7f1 0 53px,#e4f4f1 0 55px,#f6fbd0 0 58px,#fff9bc 0 60px,#ffeba0 0 72px,#fff9bc 0 74px,#ffeba0 0 75px,#fed786 0 80px,#ffeba0 0 88px,#fff9bc 0 89px,#f6fbd0 0 93px,#fff9bc 0 99px,#ffeba0 0 102px,#fff9bc 0 116px,#ffeba0 0 126px,#fff9bc 0 128px,#f6fbd0 0 131px,#fff9bc 0 140px,#ffeba0 0 152px,#fed786 0 161px,#fdbd6e 0 164px,#fa9e5a 0)"></i>
<i style="background:linear-gradient(90deg,#fa9e5a 2px,#f57a48 0 4px,#fa9e5a 0 7px,#fdbd6e 0 8px,#fa9e5a 0 14px,#fdbd6e 0 30px,#fed786 0 35px,#fdbd6e 0 36px,#fed786 0 40px,#ffeba0 0 41px,#fff9bc 0 42px,#f6fbd0 0 43px,#e4f4f1 0 46px,#f6fbd0 0 47px,#ffeba0 0 50px,#fff9bc 0 52px,#f6fbd0 0 55px,#fff9bc 0 59px,#ffeba0 0 62px,#fed786 0 66px,#ffeba0 0 72px,#fff9bc 0 74px,#ffeba0 0 75px,#fed786 0 80px,#ffeba0 0 89px,#fff9bc 0 91px,#ffeba0 0 94px,#fff9bc 0 99px,#ffeba0 0 101px,#fff9bc 0 109px,#f6fbd0 0 114px,#fff9bc 0 123px,#f6fbd0 0 126px,#e4f4f1 0 135px,#fff9bc 0 141px,#ffeba0 0 146px,#fff9bc 0 151px,#ffeba0 0 153px,#fed786 0 161px,#fdbd6e 0 165px,#fa9e5a 0)"></i>
<i style="background:linear-gradient(90deg,#fa9e5a 6px,#fdbd6e 0 12px,#fa9e5a 0 14px,#fdbd6e 0 25px,#fed786 0 26px,#ffeba0 0 27px,#fff9bc 0 29px,#ffeba0 0 32px,#fff9bc 0 34px,#ffeba0 0 36px,#fff9bc 0 38px,#ffeba0 0 39px,#fff9bc 0 41px,#f6fbd0 0 43px,#e4f4f1 0 46px,#f6fbd0 0 47px,#fff9bc 0 49px,#ffeba0 0 50px,#fff9bc 0 59px,#ffeba0 0 62px,#fed786 0 67px,#ffeba0 0 72px,#fff9bc 0 73px,#ffeba0 0 94px,#fff9bc 0 98px,#ffeba0 0 102px,#fff9bc 0 106px,#f6fbd0 0 107px,#e4f4f1 0 110px,#f6fbd0 0 111px,#fff9bc 0 114px,#f6fbd0 0 117px,#fff9bc 0 118px,#f6fbd0 0 120px,#e4f4f1 0 123px,#c7e7f1 0 135px,#e4f4f1 0 139px,#f6fbd0 0 141px,#fff9bc 0 142px,#ffeba0 0 146px,#fff9bc 0 148px,#f6fbd0 0 150px,#fff9bc 0 152px,#ffeba0 0 156px,#fed786 0 163px,#fdbd6e 0)"></i>
<i style="background:linear-gradient(90deg,#fdbd6e 1px,#fa9e5a 0 4px,#fdbd6e 0 7px,#fed786 0 10px,#ffeba0 0 13px,#fed786 0 24px,#ffeba0 0 25px,#fff9bc 0 26px,#f6fbd0 0 32px,#e4f4f1 0 34px,#f6fbd0 0 38px,#fff9bc 0 39px,#f6fbd0 0 40px,#fff9bc 0 42px,#e4f4f1 0 43px,#c7e7f1 0 46px,#e4f4f1 0 49px,#f6fbd0 0 51px,#fff9bc 0 60px,#ffeba0 0 63px,#fed786 0 66px,#ffeba0 0 71px,#fff9bc 0 73px,#ffeba0 0 87px,#fff9bc 0 88px,#ffeba0 0 92px,#fff9bc 0 94px,#f6fbd0 0 97px,#fff9bc 0 99px,#ffeba0 0 102px,#fff9bc 0 105px,#f6fbd0 0 107px,#e4f4f1 0 109px,#f6fbd0 0 110px,#fff9bc 0 114px,#e4f4f1 0 115px,#c7e7f1 0 116px,#e4f4f1 0 118px,#c7e7f1 0 141px,#e4f4f1 0 142px,#f6fbd0 0 147px,#e4f4f1 0 152px,#f6fbd0 0 155px,#fff9bc 0 157px,#ffeba0 0 164px,#fed786 0 165px,#fdbd6e 0)"></i>
<i style="background:linear-gradient(90deg,#ffeba0 1px,#fed786 0 2px,#fdbd6e 0 4px,#fed786 0 6px,#ffeba0 0 7px,#fff9bc 0 9px,#f6fbd0 0 19px,#fff9bc 0 23px,#f6fbd0 0 24px,#e4f4f1 0 26px,#f6fbd0 0 29px,#e4f4f1 0 32px,#c7e7f1 0 34px,#e4f4f1 0 35px,#f6fbd0 0 36px,#fff9bc 0 39px,#f6fbd0 0 42px,#e4f4f1 0 43px,#c7e7f1 0 45px,#e4f4f1 0 46px,#f6fbd0 0 48px,#e4f4f1 0 49px,#c7e7f1 0 51px,#e4f4f1 0 52px,#f6fbd0 0 53px,#fff9bc 0 62px,#ffeba0 0 70px,#fff9bc 0 72px,#ffeba0 0 83px,#fff9bc 0 91px,#f6fbd0 0 92px,#e4f4f1 0 94px,#c7e7f1 0 96px,#e4f4f1 0 98px,#f6fbd0 0 100px,#fff9bc 0 103px,#f6fbd0 0 107px,#e4f4f1 0 109px,#f6fbd0 0 113px,#e4f4f1 0 115px,#c7e7f1 0 116px,#e4f4f1 0 117px,#c7e7f1 0 136px,#a8d6e8 0 139px,#c7e7f1 0 156px,#e4f4f1 0 164px,#f6fbd0 0 165px,#fff9bc 0)"></i>
<i style="background:linear-gradient(90deg,#e4f4f1 1px,#f6fbd0 0 2px,#fff9bc 0 6px,#f6fbd0 0 16px,#e4f4f1 0 27px,#f6fbd0 0 28px,#e4f4f1 0 32px,#c7e7f1 0 34px,#e4f4f1 0 40px,#c7e7f1 0 44px,#e4f4f1 0 46px,#f6fbd0 0 47px,#fff9bc 0 48px,#f6fbd0 0 49px,#c7e7f1 0 52px,#e4f4f1 0 53px,#f6fbd0 0 55px,#fff9bc 0 58px,#f6fbd0 0 61px,#fff9bc 0 88px,#f6fbd0 0 90px,#e4f4f1 0 93px,#c7e7f1 0 97px,#e4f4f1 0 101px,#f6fbd0 0 102px,#e4f4f1 0 104px,#c7e7f1 0 111px,#e4f4f1 0 113px,#c7e7f1 0 135px,#a8d6e8 0 140px,#c7e7f1 0 151px,#a8d6e8 0 156px,#c7e7f1 0 159px,#a8d6e8 0 160px,#c7e7f1 0 165px,#e4f4f1 0)"></i>
<i style="background:linear-gradient(90deg,#e4f4f1 1px,#f6fbd0 0 5px,#fff9bc 0 6px,#f6fbd0 0 17px,#e4f4f1 0 27px,#f6fbd0 0 28px,#e4f4f1 0 32px,#c7e7f1 0 43px,#e4f4f1 0 45px,#f6fbd0 0 48px,#e4f4f1 0 50px,#c7e7f1 0 52px,#e4f4f1 0 54px,#f6fbd0 0 70px,#fff9bc 0 73px,#f6fbd0 0 75px,#e4f4f1 0 76px,#f6fbd0 0 79px,#fff9bc 0 80px,#f6fbd0 0 88px,#e4f4f1 0 94px,#c7e7f1 0 97px,#e4f4f1 0 99px,#f6fbd0 0 101px,#e4f4f1 0 102px,#c7e7f1 0 105px,#a8d6e8 0 106px,#c7e7f1 0 111px,#e4f4f1 0 113px,#c7e7f1 0 129px,#a8d6e8 0 131px,#c7e7f1 0 135px,#a8d6e8 0 144px,#c7e7f1 0 151px,#a8d6e8 0 157px,#c7e7f1 0 159px,#a8d6e8 0 162px,#c7e7f1 0 165px,#e4f4f1 0)"></i>
<i style="background:linear-gradient(90deg,#f6fbd0 5px,#fff9bc 0 6px,#f6fbd0 0 18px,#e4f4f1 0 33px,#c7e7f1 0 41px,#e4f4f1 0 45px,#f6fbd0 0 47px,#e4f4f1 0 56px,#f6fbd0 0 59px,#e4f4f1 0 61px,#f6fbd0 0 64px,#e4f4f1 0 69px,#f6fbd0 0 74px,#e4f4f1 0 77px,#f6fbd0 0 85px,#e4f4f1 0 92px,#f6fbd0 0 93px,#e4f4f1 0 95px,#c7e7f1 0 97px,#e4f4f1 0 102px,#c7e7f1 0 110px,#e4f4f1 0 113px,#c7e7f1 0 129px,#a8d6e8 0 132px,#c7e7f1 0 135px,#a8d6e8 0 138px,#c7e7f1 0 141px,#a8d6e8 0 145px,#c7e7f1 0 155px,#a8d6e8 0 157px,#c7e7f1 0 158px,#a8d6e8 0 162px,#c7e7f1 0 164px,#e4f4f1 0)"></i>
<i style="background:linear-gradient(90deg,#f6fbd0 9px,#e4f4f1 0 12px,#f6fbd0 0 17px,#e4f4f1 0 33px,#c7e7f1 0 40px,#e4f4f1 0 44px,#f6fbd0 0 47px,#e4f4f1 0 70px,#f6fbd0 0 74px,#e4f4f1 0 79px,#f6fbd0 0 80px,#e4f4f1 0 91px,#f6fbd0 0 93px,#e4f4f1 0 103px,#c7e7f1 0 109px,#e4f4f1 0 114px,#c7e7f1 0 117px,#a8d6e8 0 119px,#c7e7f1 0 130px,#a8d6e8 0 131px,#c7e7f1 0 135px,#a8d6e8 0 139px,#c7e7f1 0 158px,#a8d6e8 0 160px,#c7e7f1 0 162px,#e4f4f1 0)"></i>
<i style="background:linear-gradient(90deg,#e4f4f1 1px,#f6fbd0 0 9px,#e4f4f1 0 13px,#f6fbd0 0 17px,#e4f4f1 0 33px,#c7e7f1 0 36px,#a8d6e8 0 39px,#c7e7f1 0 41px,#e4f4f1 0 44px,#f6fbd0 0 47px,#e4f4f1 0 69px,#f6fbd0 0 74px,#e4f4f1 0 91px,#f6fbd0 0 94px,#e4f4f1 0 104px,#c7e7f1 0 108px,#e4f4f1 0 114px,#c7e7f1 0 117px,#a8d6e8 0 119px,#c7e7f1 0 122px,#e4f4f1 0 124px,#c7e7f1 0 135px,#a8d6e8 0 139px,#c7e7f1 0 157px,#a8d6e8 0 159px,#c7e7f1 0 161px,#e4f4f1 0)"></i>
<i style="background:linear-gradient(90deg,#e4f4f1 3px,#f6fbd0 0 8px,#e4f4f1 0 33px,#c7e7f1 0 37px,#a8d6e8 0 40px,#c7e7f1 0 42px,#e4f4f1 0 45px,#f6fbd0 0 47px,#e4f4f1 0 50px,#c7e7f1 0 55px,#e4f4f1 0 60px,#c7e7f1 0 64px,#e4f4f1 0 68px,#f6fbd0 0 74px,#e4f4f1 0 91px,#f6fbd0 0 94px,#e4f4f1 0 114px,#c7e7f1 0 121px,#e4f4f1 0 125px,#c7e7f1 0 135px,#a8d6e8 0 139px,#c7e7f1 0 148px,#e4f4f1 0 153px,#c7e7f1 0 155px,#a8d6e8 0 158px,#c7e7f1 0 161px,#e4f4f1 0)"></i>
<i style="background:linear-gradient(90deg,#e4f4f1 4px,#f6fbd0 0 7px,#e4f4f1 0 29px,#f6fbd0 0 31px,#e4f4f1 0 34px,#c7e7f1 0 38px,#a8d6e8 0 41px,#c7e7f1 0 43px,#e4f4f1 0 50px,#c7e7f1 0 55px,#e4f4f1 0 60px,#c7e7f1 0 64px,#e4f4f1 0 68px,#f6fbd0 0 72px,#e4f4f1 0 75px,#f6fbd0 0 77px,#e4f4f1 0 86px,#f6fbd0 0 91px,#e4f4f1 0 93px,#f6fbd0 0 97px,#e4f4f1 0 114px,#c7e7f1 0 120px,#e4f4f1 0 123px,#c7e7f1 0 135px,#a8d6e8 0 138px,#c7e7f1 0 148px,#e4f4f1 0 154px,#c7e7f1 0 155px,#a8d6e8 0 156px,#c7e7f1 0 161px,#e4f4f1 0 162px,#c7e7f1 0)"></i>
<i style="background:linear-gradient(90deg,#c7e7f1 1px,#e4f4f1 0 5px,#f6fbd0 0 6px,#e4f4f1 0 15px,#c7e7f1 0 19px,#e4f4f1 0 28px,#f6fbd0 0 32px,#e4f4f1 0 35px,#c7e7f1 0 39px,#a8d6e8 0 41px,#c7e7f1 0 44px,#e4f4f1 0 46px,#c7e7f1 0 48px,#e4f4f1 0 51px,#c7e7f1 0 55px,#e4f4f1 0 60px,#c7e7f1 0 64px,#e4f4f1 0 74px,#f6fbd0 0 78px,#e4f4f1 0 85px,#f6fbd0 0 99px,#e4f4f1 0 101px,#f6fbd0 0 103px,#e4f4f1 0 114px,#c7e7f1 0 119px,#e4f4f1 0 123px,#c7e7f1 0 136px,#a8d6e8 0 138px,#c7e7f1 0 148px,#e4f4f1 0 155px,#c7e7f1 0)"></i>
<i style="background:linear-gradient(90deg,#e4f4f1 15px,#c7e7f1 0 19px,#e4f4f1 0 27px,#f6fbd0 0 33px,#e4f4f1 0 35px,#c7e7f1 0 49px,#e4f4f1 0 51px,#c7e7f1 0 53px,#e4f4f1 0 60px,#c7e7f1 0 64px,#e4f4f1 0 75px,#f6fbd0 0 77px,#e4f4f1 0 84px,#f6fbd0 0 88px,#fff9bc 0 91px,#f6fbd0 0 103px,#e4f4f1 0 123px,#c7e7f1 0 147px,#e4f4f1 0 160px,#c7e7f1 0)"></i>
<i style="background:linear-gradient(90deg,#e4f4f1 14px,#c7e7f1 0 20px,#e4f4f1 0 24px,#c7e7f1 0 25px,#e4f4f1 0 27px,#f6fbd0 0 33px,#e4f4f1 0 35px,#c7e7f1 0 51px,#e4f4f1 0 58px,#c7e7f1 0 63px,#e4f4f1 0 83px,#f6fbd0 0 85px,#fff9bc 0 92px,#f6fbd0 0 104px,#e4f4f1 0 122px,#c7e7f1 0 124px,#e4f4f1 0 128px,#c7e7f1 0 146px,#e4f4f1 0 153px,#f6fbd0 0 154px,#e4f4f1 0 161px,#c7e7f1 0)"></i>
<i style="background:linear-gradient(90deg,#e4f4f1 14px,#c7e7f1 0 20px,#e4f4f1 0 23px,#c7e7f1 0 25px,#e4f4f1 0 27px,#f6fbd0 0 34px,#e4f4f1 0 39px,#c7e7f1 0 40px,#e4f4f1 0 43px,#c7e7f1 0 51px,#e4f4f1 0 58px,#c7e7f1 0 63px,#e4f4f1 0 83px,#f6fbd0 0 85px,#fff9bc 0 92px,#f6fbd0 0 104px,#e4f4f1 0 109px,#f6fbd0 0 115px,#e4f4f1 0 125px,#f6fbd0 0 132px,#e4f4f1 0 137px,#c7e7f1 0 146px,#e4f4f1 0 152px,#f6fbd0 0 154px,#e4f4f1 0 162px,#c7e7f1 0 164px,#e4f4f1 0)"></i>
<i style="background:linear-gradient(90deg,#e4f4f1 8px,#c7e7f1 0 9px,#e4f4f1 0 14px,#c7e7f1 0 15px,#e4f4f1 0 16px,#c7e7f1 0 19px,#e4f4f1 0 21px,#c7e7f1 0 26px,#e4f4f1 0 28px,#f6fbd0 0 34px,#e4f4f1 0 43px,#c7e7f1 0 51px,#e4f4f1 0 59px,#c7e7f1 0 62px,#e4f4f1 0 82px,#f6fbd0 0 88px,#fff9bc 0 92px,#f6fbd0 0 104px,#e4f4f1 0 106px,#f6fbd0 0 117px,#e4f4f1 0 120px,#f6fbd0 0 125px,#fff9bc 0 127px,#ffeba0 0 131px,#fff9bc 0 135px,#f6fbd0 0 137px,#e4f4f1 0 139px,#c7e7f1 0 145px,#e4f4f1 0 157px,#c7e7f1 0 158px,#e4f4f1 0)"></i>
<i style="background:linear-gradient(90deg,#e4f4f1 8px,#c7e7f1 0 10px,#e4f4f1 0 17px,#c7e7f1 0 19px,#e4f4f1 0 21px,#c7e7f1 0 26px,#e4f4f1 0 28px,#f6fbd0 0 35px,#e4f4f1 0 43px,#c7e7f1 0 51px,#e4f4f1 0 59px,#c7e7f1 0 60px,#e4f4f1 0 82px,#f6fbd0 0 101px,#fff9bc 0 102px,#f6fbd0 0 104px,#e4f4f1 0 105px,#f6fbd0 0 124px,#fff9bc 0 127px,#ffeba0 0 132px,#fff9bc 0 135px,#f6fbd0 0 137px,#e4f4f1 0 140px,#c7e7f1 0 144px,#e4f4f1 0 150px,#f6fbd0 0 151px,#e4f4f1 0)"></i>
<i style="background:linear-gradient(90deg,#e4f4f1 5px,#c7e7f1 0 6px,#e4f4f1 0 8px,#c7e7f1 0 10px,#e4f4f1 0 20px,#c7e7f1 0 26px,#e4f4f1 0 28px,#f6fbd0 0 35px,#e4f4f1 0 38px,#c7e7f1 0 40px,#e4f4f1 0 43px,#c7e7f1 0 49px,#e4f4f1 0 82px,#f6fbd0 0 93px,#e4f4f1 0 99px,#f6fbd0 0 109px,#fff9bc 0 115px,#f6fbd0 0 127px,#fff9bc 0 132px,#f6fbd0 0 136px,#e4f4f1 0 145px,#f6fbd0 0 146px,#e4f4f1 0 149px,#f6fbd0 0 152px,#e4f4f1 0)"></i>
<i style="background:linear-gradient(90deg,#e4f4f1 5px,#c7e7f1 0 7px,#e4f4f1 0 19px,#c7e7f1 0 26px,#e4f4f1 0 29px,#f6fbd0 0 35px,#e4f4f1 0 38px,#c7e7f1 0 48px,#e4f4f1 0 82px,#f6fbd0 0 84px,#e4f4f1 0 85px,#f6fbd0 0 93px,#e4f4f1 0 94px,#f6fbd0 0 95px,#e4f4f1 0 99px,#f6fbd0 0 108px,#fff9bc 0 116px,#f6fbd0 0 122px,#e4f4f1 0 143px,#f6fbd0 0 146px,#e4f4f1 0 149px,#f6fbd0 0 153px,#e4f4f1 0)"></i>
<i style="background:linear-gradient(90deg,#e4f4f1 3px,#c7e7f1 0 4px,#e4f4f1 0 13px,#f6fbd0 0 15px,#e4f4f1 0 21px,#c7e7f1 0 25px,#e4f4f1 0 37px,#c7e7f1 0 48px,#e4f4f1 0 81px,#f6fbd0 0 95px,#e4f4f1 0 100px,#f6fbd0 0 102px,#fff9bc 0 116px,#f6fbd0 0 121px,#e4f4f1 0 129px,#c7e7f1 0 138px,#e4f4f1 0 140px,#f6fbd0 0 154px,#e4f4f1 0)"></i>
<i style="background:linear-gradient(90deg,#c7e7f1 4px,#e4f4f1 0 12px,#f6fbd0 0 16px,#e4f4f1 0 35px,#c7e7f1 0 46px,#e4f4f1 0 50px,#c7e7f1 0 53px,#e4f4f1 0 79px,#f6fbd0 0 95px,#e4f4f1 0 100px,#f6fbd0 0 102px,#fff9bc 0 114px,#f6fbd0 0 121px,#e4f4f1 0 129px,#c7e7f1 0 139px,#e4f4f1 0 140px,#f6fbd0 0 155px,#e4f4f1 0 163px,#c7e7f1 0)"></i>
<i style="background:linear-gradient(90deg,#c7e7f1 3px,#e4f4f1 0 12px,#f6fbd0 0 16px,#e4f4f1 0 31px,#c7e7f1 0 45px,#e4f4f1 0 49px,#c7e7f1 0 52px,#e4f4f1 0 78px,#f6fbd0 0 79px,#fff9bc 0 94px,#f6fbd0 0 101px,#fff9bc 0 112px,#f6fbd0 0 119px,#e4f4f1 0 123px,#c7e7f1 0 124px,#e4f4f1 0 132px,#c7e7f1 0 139px,#e4f4f1 0 141px,#f6fbd0 0 155px,#e4f4f1 0 162px,#c7e7f1 0)"></i>
<i style="background:linear-gradient(90deg,#c7e7f1 2px,#e4f4f1 0 13px,#f6fbd0 0 15px,#e4f4f1 0 30px,#c7e7f1 0 39px,#e4f4f1 0 45px,#c7e7f1 0 46px,#e4f4f1 0 49px,#c7e7f1 0 50px,#e4f4f1 0 76px,#f6fbd0 0 78px,#fff9bc 0 79px,#ffeba0 0 80px,#fed786 0 90px,#ffeba0 0 92px,#fff9bc 0 96px,#f6fbd0 0 100px,#fff9bc 0 103px,#ffeba0 0 105px,#fff9bc 0 111px,#f6fbd0 0 116px,#e4f4f1 0 122px,#c7e7f1 0 125px,#e4f4f1 0 134px,#c7e7f1 0 139px,#e4f4f1 0 142px,#f6fbd0 0 150px,#fff9bc 0 152px,#f6fbd0 0 155px,#e4f4f1 0 162px,#c7e7f1 0)"></i>
<i style="background:linear-gradient(90deg,#e4f4f1 13px,#f6fbd0 0 19px,#e4f4f1 0 20px,#f6fbd0 0 24px,#e4f4f1 0 31px,#c7e7f1 0 38px,#e4f4f1 0 57px,#f6fbd0 0 59px,#e4f4f1 0 75px,#f6fbd0 0 76px,#fff9bc 0 77px,#ffeba0 0 78px,#fed786 0 79px,#fdbd6e 0 90px,#fed786 0 92px,#ffeba0 0 95px,#fff9bc 0 98px,#f6fbd0 0 100px,#fff9bc 0 101px,#ffeba0 0 103px,#fed786 0 105px,#ffeba0 0 107px,#fff9bc 0 111px,#f6fbd0 0 114px,#e4f4f1 0 122px,#c7e7f1 0 124px,#e4f4f1 0 143px,#f6fbd0 0 149px,#fff9bc 0 152px,#f6fbd0 0 160px,#e4f4f1 0)"></i>
<i style="background:linear-gradient(90deg,#e4f4f1 10px,#f6fbd0 0 24px,#e4f4f1 0 33px,#c7e7f1 0 38px,#e4f4f1 0 39px,#f6fbd0 0 40px,#e4f4f1 0 44px,#f6fbd0 0 45px,#e4f4f1 0 55px,#f6fbd0 0 64px,#e4f4f1 0 72px,#f6fbd0 0 75px,#fff9bc 0 76px,#fed786 0 77px,#fdbd6e 0 79px,#fa9e5a 0 89px,#fdbd6e 0 90px,#fed786 0 92px,#ffeba0 0 96px,#fff9bc 0 99px,#f6fbd0 0 101px,#ffeba0 0 103px,#fed786 0 107px,#ffeba0 0 109px,#fff9bc 0 112px,#f6fbd0 0 114px,#e4f4f1 0 121px,#c7e7f1 0 123px,#e4f4f1 0 140px,#f6fbd0 0 149px,#fff9bc 0 152px,#f6fbd0 0 161px,#e4f4f1 0)"></i>
<i style="background:linear-gradient(90deg,#e4f4f1 9px,#f6fbd0 0 26px,#e4f4f1 0 29px,#f6fbd0 0 31px,#e4f4f1 0 34px,#c7e7f1 0 38px,#e4f4f1 0 39px,#f6fbd0 0 41px,#e4f4f1 0 44px,#f6fbd0 0 46px,#e4f4f1 0 54px,#f6fbd0 0 65px,#e4f4f1 0 72px,#f6fbd0 0 75px,#ffeba0 0 76px,#fed786 0 77px,#fdbd6e 0 79px,#fa9e5a 0 81px,#f57a48 0 86px,#fa9e5a 0 89px,#fdbd6e 0 90px,#fed786 0 92px,#ffeba0 0 95px,#fff9bc 0 99px,#f6fbd0 0 101px,#fff9bc 0 102px,#ffeba0 0 103px,#fed786 0 107px,#ffeba0 0 109px,#fff9bc 0 113px,#f6fbd0 0 115px,#e4f4f1 0 118px,#c7e7f1 0 122px,#e4f4f1 0 132px,#f6fbd0 0 149px,#fff9bc 0 153px,#f6fbd0 0 158px,#fff9bc 0 159px,#f6fbd0 0 163px,#e4f4f1 0)"></i>
<i style="background:linear-gradient(90deg,#e4f4f1 2px,#f6fbd0 0 6px,#e4f4f1 0 9px,#f6fbd0 0 27px,#e4f4f1 0 28px,#f6fbd0 0 33px,#e4f4f1 0 35px,#c7e7f1 0 38px,#e4f4f1 0 39px,#f6fbd0 0 40px,#e4f4f1 0 43px,#f6fbd0 0 47px,#e4f4f1 0 54px,#f6fbd0 0 66px,#e4f4f1 0 73px,#f6fbd0 0 75px,#ffeba0 0 76px,#fed786 0 77px,#fdbd6e 0 79px,#fa9e5a 0 88px,#fdbd6e 0 90px,#fed786 0 91px,#ffeba0 0 92px,#fff9bc 0 97px,#f6fbd0 0 102px,#ffeba0 0 103px,#fed786 0 105px,#ffeba0 0 108px,#fff9bc 0 113px,#f6fbd0 0 116px,#e4f4f1 0 118px,#c7e7f1 0 121px,#e4f4f1 0 123px,#f6fbd0 0 126px,#e4f4f1 0 132px,#f6fbd0 0 133px,#fff9bc 0 138px,#f6fbd0 0 145px,#fff9bc 0 154px,#f6fbd0 0 163px,#e4f4f1 0)"></i>
<i style="background:linear-gradient(90deg,#e4f4f1 1px,#f6fbd0 0 25px,#e4f4f1 0 29px,#f6fbd0 0 35px,#e4f4f1 0 40px,#c7e7f1 0 42px,#e4f4f1 0 43px,#f6fbd0 0 48px,#e4f4f1 0 53px,#f6fbd0 0 66px,#e4f4f1 0 74px,#f6fbd0 0 75px,#fff9bc 0 76px,#ffeba0 0 77px,#fed786 0 79px,#fdbd6e 0 88px,#fed786 0 89px,#ffeba0 0 91px,#fff9bc 0 92px,#f6fbd0 0 102px,#fff9bc 0 103px,#ffeba0 0 105px,#fff9bc 0 108px,#f6fbd0 0 117px,#e4f4f1 0 118px,#c7e7f1 0 120px,#e4f4f1 0 122px,#f6fbd0 0 126px,#e4f4f1 0 132px,#f6fbd0 0 133px,#fff9bc 0 138px,#f6fbd0 0 144px,#fff9bc 0 157px,#f6fbd0 0 163px,#e4f4f1 0)"></i>
<i style="background:linear-gradient(90deg,#e4f4f1 1px,#f6fbd0 0 25px,#e4f4f1 0 29px,#f6fbd0 0 37px,#e4f4f1 0 41px,#c7e7f1 0 42px,#e4f4f1 0 45px,#f6fbd0 0 65px,#e4f4f1 0 71px,#f6fbd0 0 73px,#e4f4f1 0 74px,#f6fbd0 0 75px,#fff9bc 0 77px,#ffeba0 0 81px,#fed786 0 87px,#ffeba0 0 89px,#fff9bc 0 91px,#f6fbd0 0 93px,#e4f4f1 0 101px,#f6fbd0 0 117px,#e4f4f1 0 120px,#f6fbd0 0 128px,#e4f4f1 0 133px,#f6fbd0 0 134px,#fff9bc 0 138px,#f6fbd0 0 142px,#fff9bc 0 157px,#f6fbd0 0 163px,#e4f4f1 0)"></i>
<i style="background:linear-gradient(90deg,#e4f4f1 1px,#f6fbd0 0 27px,#e4f4f1 0 29px,#f6fbd0 0 37px,#e4f4f1 0 43px,#c7e7f1 0 44px,#e4f4f1 0 45px,#f6fbd0 0 49px,#e4f4f1 0 50px,#f6fbd0 0 66px,#e4f4f1 0 71px,#f6fbd0 0 74px,#e4f4f1 0 75px,#f6fbd0 0 79px,#fff9bc 0 82px,#ffeba0 0 87px,#fff9bc 0 89px,#f6fbd0 0 92px,#e4f4f1 0 103px,#f6fbd0 0 117px,#e4f4f1 0 120px,#f6fbd0 0 121px,#fff9bc 0 125px,#f6fbd0 0 128px,#e4f4f1 0 133px,#f6fbd0 0 134px,#fff9bc 0 138px,#f6fbd0 0 141px,#fff9bc 0 145px,#ffeba0 0 147px,#fff9bc 0 157px,#f6fbd0 0 164px,#e4f4f1 0)"></i>
<i style="background:linear-gradient(90deg,#e4f4f1 1px,#f6fbd0 0 15px,#e4f4f1 0 16px,#f6fbd0 0 36px,#e4f4f1 0 48px,#c7e7f1 0 51px,#e4f4f1 0 56px,#f6fbd0 0 67px,#e4f4f1 0 71px,#f6fbd0 0 73px,#e4f4f1 0 79px,#f6fbd0 0 81px,#fff9bc 0 87px,#f6fbd0 0 89px,#e4f4f1 0 95px,#c7e7f1 0 96px,#e4f4f1 0 98px,#c7e7f1 0 101px,#e4f4f1 0 107px,#f6fbd0 0 117px,#e4f4f1 0 120px,#f6fbd0 0 122px,#fff9bc 0 127px,#f6fbd0 0 131px,#e4f4f1 0 132px,#f6fbd0 0 133px,#fff9bc 0 139px,#f6fbd0 0 142px,#fff9bc 0 158px,#f6fbd0 0 165px,#e4f4f1 0)"></i>
<i style="background:linear-gradient(90deg,#f6fbd0 15px,#e4f4f1 0 16px,#f6fbd0 0 21px,#e4f4f1 0 22px,#f6fbd0 0 35px,#e4f4f1 0 46px,#c7e7f1 0 48px,#a8d6e8 0 50px,#c7e7f1 0 55px,#e4f4f1 0 57px,#f6fbd0 0 67px,#e4f4f1 0 70px,#f6fbd0 0 73px,#e4f4f1 0 80px,#f6fbd0 0 83px,#fff9bc 0 84px,#f6fbd0 0 88px,#e4f4f1 0 95px,#c7e7f1 0 106px,#e4f4f1 0 107px,#f6fbd0 0 110px,#e4f4f1 0 111px,#f6fbd0 0 118px,#e4f4f1 0 120px,#f6fbd0 0 122px,#fff9bc 0 127px,#f6fbd0 0 130px,#fff9bc 0 131px,#f6fbd0 0 132px,#fff9bc 0 139px,#f6fbd0 0 140px,#e4f4f1 0 141px,#f6fbd0 0 143px,#fff9bc 0 149px,#ffeba0 0 150px,#fff9bc 0 158px,#f6fbd0 0)"></i>
<i style="background:linear-gradient(90deg,#f6fbd0 35px,#e4f4f1 0 38px,#f6fbd0 0 39px,#e4f4f1 0 43px,#f6fbd0 0 44px,#e4f4f1 0 46px,#c7e7f1 0 48px,#a8d6e8 0 52px,#c7e7f1 0 57px,#e4f4f1 0 59px,#f6fbd0 0 66px,#e4f4f1 0 70px,#f6fbd0 0 75px,#e4f4f1 0 76px,#f6fbd0 0 78px,#e4f4f1 0 81px,#f6fbd0 0 83px,#fff9bc 0 85px,#f6fbd0 0 87px,#e4f4f1 0 90px,#c7e7f1 0 93px,#e4f4f1 0 95px,#c7e7f1 0 99px,#e4f4f1 0 100px,#c7e7f1 0 105px,#e4f4f1 0 106px,#f6fbd0 0 115px,#e4f4f1 0 116px,#f6fbd0 0 119px,#e4f4f1 0 121px,#f6fbd0 0 123px,#fff9bc 0 127px,#f6fbd0 0 131px,#fff9bc 0 135px,#f6fbd0 0 138px,#fff9bc 0 139px,#f6fbd0 0 142px,#fff9bc 0 158px,#f6fbd0 0)"></i>
<i style="background:linear-gradient(90deg,#f6fbd0 10px,#fff9bc 0 12px,#f6fbd0 0 23px,#fff9bc 0 25px,#f6fbd0 0 29px,#fff9bc 0 30px,#f6fbd0 0 40px,#e4f4f1 0 41px,#f6fbd0 0 44px,#e4f4f1 0 47px,#c7e7f1 0 48px,#a8d6e8 0 53px,#c7e7f1 0 59px,#e4f4f1 0 60px,#f6fbd0 0 66px,#e4f4f1 0 71px,#f6fbd0 0 81px,#fff9bc 0 86px,#f6fbd0 0 87px,#e4f4f1 0 89px,#c7e7f1 0 94px,#e4f4f1 0 96px,#c7e7f1 0 99px,#e4f4f1 0 105px,#f6fbd0 0 116px,#e4f4f1 0 117px,#f6fbd0 0 124px,#fff9bc 0 127px,#f6fbd0 0 131px,#fff9bc 0 134px,#f6fbd0 0 136px,#e4f4f1 0 137px,#f6fbd0 0 138px,#fff9bc 0 149px,#ffeba0 0 150px,#fff9bc 0 159px,#f6fbd0 0)"></i>
<i style="background:linear-gradient(90deg,#f6fbd0 9px,#fff9bc 0 12px,#f6fbd0 0 23px,#fff9bc 0 30px,#f6fbd0 0 45px,#e4f4f1 0 46px,#c7e7f1 0 47px,#a8d6e8 0 53px,#c7e7f1 0 59px,#e4f4f1 0 60px,#f6fbd0 0 66px,#e4f4f1 0 71px,#f6fbd0 0 78px,#fff9bc 0 86px,#f6fbd0 0 87px,#e4f4f1 0 90px,#c7e7f1 0 93px,#e4f4f1 0 95px,#c7e7f1 0 101px,#e4f4f1 0 104px,#f6fbd0 0 117px,#e4f4f1 0 118px,#f6fbd0 0 125px,#fff9bc 0 128px,#f6fbd0 0 131px,#fff9bc 0 133px,#f6fbd0 0 134px,#e4f4f1 0 137px,#f6fbd0 0 138px,#fff9bc 0 148px,#ffeba0 0 151px,#fff9bc 0 154px,#ffeba0 0 155px,#fff9bc 0 159px,#f6fbd0 0)"></i>
<i style="background:linear-gradient(90deg,#f6fbd0 9px,#fff9bc 0 12px,#f6fbd0 0 19px,#fff9bc 0 20px,#f6fbd0 0 23px,#fff9bc 0 31px,#f6fbd0 0 36px,#fff9bc 0 39px,#f6fbd0 0 45px,#e4f4f1 0 46px,#c7e7f1 0 48px,#a8d6e8 0 50px,#c7e7f1 0 53px,#a8d6e8 0 54px,#c7e7f1 0 60px,#e4f4f1 0 62px,#f6fbd0 0 67px,#e4f4f1 0 71px,#f6fbd0 0 77px,#fff9bc 0 87px,#e4f4f1 0 90px,#c7e7f1 0 92px,#e4f4f1 0 94px,#c7e7f1 0 97px,#e4f4f1 0 103px,#f6fbd0 0 104px,#fff9bc 0 109px,#f6fbd0 0 125px,#fff9bc 0 128px,#f6fbd0 0 131px,#fff9bc 0 133px,#f6fbd0 0 134px,#e4f4f1 0 137px,#f6fbd0 0 140px,#fff9bc 0 142px,#f6fbd0 0 146px,#fff9bc 0 148px,#ffeba0 0 152px,#fff9bc 0 159px,#f6fbd0 0)"></i>
<i style="background:linear-gradient(90deg,#f6fbd0 9px,#fff9bc 0 14px,#f6fbd0 0 19px,#fff9bc 0 21px,#f6fbd0 0 23px,#fff9bc 0 31px,#f6fbd0 0 35px,#fff9bc 0 40px,#f6fbd0 0 45px,#e4f4f1 0 46px,#c7e7f1 0 53px,#a8d6e8 0 55px,#c7e7f1 0 61px,#e4f4f1 0 63px,#f6fbd0 0 68px,#e4f4f1 0 70px,#f6fbd0 0 74px,#fff9bc 0 87px,#f6fbd0 0 88px,#e4f4f1 0 91px,#c7e7f1 0 92px,#e4f4f1 0 102px,#f6fbd0 0 103px,#fff9bc 0 111px,#f6fbd0 0 118px,#e4f4f1 0 119px,#f6fbd0 0 125px,#fff9bc 0 129px,#f6fbd0 0 132px,#fff9bc 0 133px,#f6fbd0 0 135px,#e4f4f1 0 136px,#f6fbd0 0 140px,#fff9bc 0 142px,#f6fbd0 0 144px,#e4f4f1 0 146px,#f6fbd0 0 148px,#fff9bc 0 150px,#ffeba0 0 152px,#fff9bc 0 158px,#f6fbd0 0)"></i>
<i style="background:linear-gradient(90deg,#f6fbd0 9px,#fff9bc 0 15px,#f6fbd0 0 19px,#fff9bc 0 21px,#f6fbd0 0 24px,#fff9bc 0 30px,#f6fbd0 0 33px,#fff9bc 0 39px,#f6fbd0 0 45px,#e4f4f1 0 46px,#c7e7f1 0 61px,#e4f4f1 0 66px,#f6fbd0 0 73px,#fff9bc 0 87px,#f6fbd0 0 88px,#e4f4f1 0 99px,#c7e7f1 0 100px,#e4f4f1 0 101px,#f6fbd0 0 102px,#fff9bc 0 106px,#f6fbd0 0 107px,#fff9bc 0 111px,#f6fbd0 0 116px,#e4f4f1 0 119px,#f6fbd0 0 125px,#fff9bc 0 130px,#f6fbd0 0 132px,#fff9bc 0 135px,#f6fbd0 0 140px,#fff9bc 0 142px,#f6fbd0 0 145px,#e4f4f1 0 148px,#f6fbd0 0 150px,#fff9bc 0 158px,#f6fbd0 0)"></i>
<i style="background:linear-gradient(90deg,#f6fbd0 7px,#fff9bc 0 15px,#f6fbd0 0 22px,#fff9bc 0 31px,#f6fbd0 0 32px,#fff9bc 0 40px,#f6fbd0 0 46px,#e4f4f1 0 47px,#c7e7f1 0 60px,#e4f4f1 0 66px,#f6fbd0 0 74px,#fff9bc 0 87px,#f6fbd0 0 88px,#e4f4f1 0 90px,#c7e7f1 0 91px,#e4f4f1 0 99px,#c7e7f1 0 100px,#e4f4f1 0 101px,#f6fbd0 0 102px,#fff9bc 0 104px,#f6fbd0 0 108px,#fff9bc 0 113px,#f6fbd0 0 116px,#e4f4f1 0 121px,#f6fbd0 0 127px,#fff9bc 0 130px,#f6fbd0 0 136px,#fff9bc 0 138px,#f6fbd0 0 147px,#e4f4f1 0 149px,#f6fbd0 0 152px,#fff9bc 0 158px,#f6fbd0 0)"></i>
<i style="background:linear-gradient(90deg,#f6fbd0 7px,#fff9bc 0 15px,#f6fbd0 0 22px,#fff9bc 0 27px,#ffeba0 0 28px,#fff9bc 0 40px,#f6fbd0 0 41px,#fff9bc 0 43px,#f6fbd0 0 46px,#e4f4f1 0 47px,#c7e7f1 0 61px,#e4f4f1 0 66px,#f6fbd0 0 67px,#fff9bc 0 69px,#f6fbd0 0 74px,#fff9bc 0 78px,#f6fbd0 0 83px,#fff9bc 0 87px,#f6fbd0 0 89px,#e4f4f1 0 90px,#c7e7f1 0 92px,#e4f4f1 0 98px,#c7e7f1 0 101px,#f6fbd0 0 102px,#fff9bc 0 103px,#f6fbd0 0 108px,#fff9bc 0 114px,#f6fbd0 0 117px,#e4f4f1 0 121px,#f6fbd0 0 130px,#fff9bc 0 133px,#f6fbd0 0 153px,#fff9bc 0 154px,#f6fbd0 0 155px,#fff9bc 0 158px,#f6fbd0 0)"></i>
<i style="background:linear-gradient(90deg,#f6fbd0 2px,#fff9bc 0 3px,#f6fbd0 0 6px,#fff9bc 0 9px,#f6fbd0 0 13px,#fff9bc 0 14px,#f6fbd0 0 21px,#fff9bc 0 27px,#ffeba0 0 28px,#fff9bc 0 45px,#f6fbd0 0 47px,#e4f4f1 0 48px,#c7e7f1 0 56px,#e4f4f1 0 58px,#c7e7f1 0 62px,#e4f4f1 0 66px,#f6fbd0 0 67px,#fff9bc 0 70px,#f6fbd0 0 75px,#fff9bc 0 78px,#f6fbd0 0 84px,#fff9bc 0 87px,#f6fbd0 0 89px,#e4f4f1 0 90px,#c7e7f1 0 91px,#e4f4f1 0 94px,#c7e7f1 0 101px,#e4f4f1 0 102px,#f6fbd0 0 109px,#fff9bc 0 115px,#f6fbd0 0 117px,#e4f4f1 0 119px,#f6fbd0 0 127px,#e4f4f1 0 128px,#f6fbd0 0 131px,#fff9bc 0 135px,#f6fbd0 0 157px,#fff9bc 0 159px,#f6fbd0 0)"></i>
<i style="background:linear-gradient(90deg,#f6fbd0 5px,#fff9bc 0 7px,#f6fbd0 0 21px,#fff9bc 0 25px,#ffeba0 0 29px,#fff9bc 0 47px,#f6fbd0 0 48px,#e4f4f1 0 49px,#c7e7f1 0 52px,#e4f4f1 0 59px,#c7e7f1 0 62px,#e4f4f1 0 65px,#f6fbd0 0 66px,#fff9bc 0 72px,#f6fbd0 0 75px,#fff9bc 0 77px,#f6fbd0 0 85px,#fff9bc 0 88px,#f6fbd0 0 89px,#e4f4f1 0 94px,#c7e7f1 0 97px,#e4f4f1 0 98px,#c7e7f1 0 101px,#e4f4f1 0 102px,#f6fbd0 0 109px,#fff9bc 0 116px,#f6fbd0 0 126px,#e4f4f1 0 130px,#f6fbd0 0 132px,#fff9bc 0 135px,#f6fbd0 0 143px,#e4f4f1 0 145px,#f6fbd0 0 157px,#fff9bc 0 160px,#f6fbd0 0)"></i>
<i style="background:linear-gradient(90deg,#f6fbd0 4px,#fff9bc 0 8px,#f6fbd0 0 9px,#fff9bc 0 10px,#f6fbd0 0 19px,#fff9bc 0 24px,#ffeba0 0 27px,#fff9bc 0 36px,#f6fbd0 0 40px,#fff9bc 0 48px,#f6fbd0 0 49px,#e4f4f1 0 50px,#c7e7f1 0 52px,#e4f4f1 0 60px,#c7e7f1 0 63px,#e4f4f1 0 65px,#f6fbd0 0 66px,#fff9bc 0 72px,#f6fbd0 0 75px,#fff9bc 0 77px,#f6fbd0 0 89px,#e4f4f1 0 99px,#c7e7f1 0 100px,#e4f4f1 0 102px,#f6fbd0 0 104px,#e4f4f1 0 106px,#f6fbd0 0 109px,#fff9bc 0 117px,#f6fbd0 0 126px,#e4f4f1 0 130px,#f6fbd0 0 133px,#fff9bc 0 135px,#f6fbd0 0 140px,#e4f4f1 0 145px,#f6fbd0 0 157px,#fff9bc 0 161px,#f6fbd0 0)"></i>
<i style="background:linear-gradient(90deg,#f6fbd0 4px,#fff9bc 0 10px,#f6fbd0 0 18px,#fff9bc 0 26px,#ffeba0 0 28px,#fff9bc 0 36px,#f6fbd0 0 40px,#fff9bc 0 48px,#f6fbd0 0 50px,#e4f4f1 0 60px,#c7e7f1 0 63px,#e4f4f1 0 65px,#f6fbd0 0 66px,#fff9bc 0 71px,#f6fbd0 0 75px,#fff9bc 0 78px,#f6fbd0 0 89px,#e4f4f1 0 100px,#f6fbd0 0 103px,#e4f4f1 0 106px,#f6fbd0 0 107px,#fff9bc 0 118px,#f6fbd0 0 126px,#e4f4f1 0 130px,#f6fbd0 0 134px,#fff9bc 0 136px,#f6fbd0 0 140px,#e4f4f1 0 143px,#f6fbd0 0 154px,#fff9bc 0 157px,#f6fbd0 0)"></i>
<i style="background:linear-gradient(90deg,#f6fbd0 4px,#fff9bc 0 7px,#f6fbd0 0 9px,#fff9bc 0 10px,#f6fbd0 0 17px,#fff9bc 0 26px,#ffeba0 0 28px,#fff9bc 0 37px,#f6fbd0 0 39px,#fff9bc 0 49px,#f6fbd0 0 51px,#e4f4f1 0 65px,#fff9bc 0 70px,#f6fbd0 0 75px,#fff9bc 0 77px,#f6fbd0 0 89px,#e4f4f1 0 99px,#f6fbd0 0 100px,#fff9bc 0 102px,#f6fbd0 0 103px,#e4f4f1 0 106px,#f6fbd0 0 107px,#fff9bc 0 118px,#f6fbd0 0 127px,#e4f4f1 0 130px,#f6fbd0 0 145px,#fff9bc 0 148px,#f6fbd0 0 153px,#fff9bc 0 156px,#f6fbd0 0)"></i>
<i style="background:linear-gradient(90deg,#f6fbd0 4px,#fff9bc 0 7px,#f6fbd0 0 9px,#fff9bc 0 11px,#f6fbd0 0 18px,#fff9bc 0 27px,#ffeba0 0 28px,#fff9bc 0 47px,#f6fbd0 0 51px,#e4f4f1 0 64px,#f6fbd0 0 65px,#fff9bc 0 70px,#f6fbd0 0 75px,#fff9bc 0 76px,#f6fbd0 0 90px,#e4f4f1 0 91px,#f6fbd0 0 96px,#e4f4f1 0 99px,#f6fbd0 0 100px,#fff9bc 0 102px,#f6fbd0 0 103px,#e4f4f1 0 105px,#f6fbd0 0 110px,#fff9bc 0 118px,#f6fbd0 0 136px,#e4f4f1 0 137px,#f6fbd0 0 142px,#fff9bc 0 149px,#f6fbd0 0 153px,#fff9bc 0 155px,#f6fbd0 0)"></i>
<i style="background:linear-gradient(90deg,#f6fbd0 9px,#fff9bc 0 12px,#f6fbd0 0 17px,#fff9bc 0 35px,#f6fbd0 0 36px,#fff9bc 0 46px,#f6fbd0 0 50px,#e4f4f1 0 61px,#f6fbd0 0 64px,#fff9bc 0 69px,#f6fbd0 0 98px,#e4f4f1 0 99px,#f6fbd0 0 100px,#fff9bc 0 103px,#f6fbd0 0 104px,#e4f4f1 0 105px,#f6fbd0 0 111px,#fff9bc 0 118px,#f6fbd0 0 135px,#e4f4f1 0 138px,#f6fbd0 0 140px,#fff9bc 0 150px,#f6fbd0 0 154px,#fff9bc 0 155px,#f6fbd0 0 162px,#e4f4f1 0 163px,#f6fbd0 0)"></i>
<i style="background:linear-gradient(90deg,#f6fbd0 11px,#fff9bc 0 12px,#f6fbd0 0 17px,#fff9bc 0 30px,#f6fbd0 0 37px,#fff9bc 0 41px,#f6fbd0 0 45px,#fff9bc 0 46px,#f6fbd0 0 50px,#e4f4f1 0 61px,#f6fbd0 0 62px,#fff9bc 0 66px,#f6fbd0 0 93px,#fff9bc 0 96px,#f6fbd0 0 99px,#fff9bc 0 104px,#f6fbd0 0 115px,#fff9bc 0 118px,#f6fbd0 0 132px,#e4f4f1 0 134px,#f6fbd0 0 135px,#e4f4f1 0 137px,#f6fbd0 0 140px,#fff9bc 0 149px,#f6fbd0 0)"></i>
<i style="background:linear-gradient(90deg,#f6fbd0 11px,#fff9bc 0 29px,#f6fbd0 0 45px,#fff9bc 0 46px,#f6fbd0 0 50px,#e4f4f1 0 55px,#c7e7f1 0 58px,#e4f4f1 0 60px,#f6fbd0 0 61px,#fff9bc 0 65px,#f6fbd0 0 77px,#e4f4f1 0 78px,#f6fbd0 0 93px,#fff9bc 0 95px,#f6fbd0 0 99px,#fff9bc 0 105px,#f6fbd0 0 116px,#fff9bc 0 117px,#f6fbd0 0 126px,#fff9bc 0 128px,#f6fbd0 0 131px,#e4f4f1 0 134px,#f6fbd0 0 135px,#e4f4f1 0 137px,#f6fbd0 0 147px,#fff9bc 0 148px,#f6fbd0 0)"></i>
<i style="background:linear-gradient(90deg,#f6fbd0 1px,#e4f4f1 0 3px,#f6fbd0 0 5px,#e4f4f1 0 6px,#f6fbd0 0 10px,#fff9bc 0 21px,#f6fbd0 0 27px,#fff9bc 0 29px,#f6fbd0 0 50px,#e4f4f1 0 56px,#c7e7f1 0 59px,#e4f4f1 0 60px,#f6fbd0 0 61px,#fff9bc 0 64px,#f6fbd0 0 65px,#fff9bc 0 67px,#f6fbd0 0 71px,#e4f4f1 0 74px,#f6fbd0 0 87px,#e4f4f1 0 88px,#f6fbd0 0 99px,#fff9bc 0 104px,#f6fbd0 0 117px,#fff9bc 0 118px,#f6fbd0 0 131px,#e4f4f1 0 134px,#f6fbd0 0 136px,#e4f4f1 0 138px,#f6fbd0 0 143px,#e4f4f1 0 145px,#f6fbd0 0 151px,#e4f4f1 0 153px,#f6fbd0 0)"></i>
<i style="background:linear-gradient(90deg,#f6fbd0 1px,#e4f4f1 0 3px,#f6fbd0 0 5px,#e4f4f1 0 6px,#f6fbd0 0 9px,#fff9bc 0 20px,#f6fbd0 0 27px,#fff9bc 0 31px,#f6fbd0 0 48px,#fff9bc 0 49px,#f6fbd0 0 50px,#e4f4f1 0 57px,#c7e7f1 0 58px,#e4f4f1 0 59px,#f6fbd0 0 65px,#fff9bc 0 67px,#f6fbd0 0 71px,#e4f4f1 0 74px,#f6fbd0 0 75px,#e4f4f1 0 77px,#f6fbd0 0 88px,#e4f4f1 0 89px,#f6fbd0 0 92px,#e4f4f1 0 94px,#f6fbd0 0 100px,#fff9bc 0 102px,#f6fbd0 0 107px,#fff9bc 0 108px,#f6fbd0 0 110px,#fff9bc 0 114px,#f6fbd0 0 117px,#fff9bc 0 118px,#f6fbd0 0 133px,#e4f4f1 0 153px,#f6fbd0 0)"></i>
<i style="background:linear-gradient(90deg,#f6fbd0 1px,#e4f4f1 0 3px,#f6fbd0 0 9px,#fff9bc 0 26px,#f6fbd0 0 27px,#fff9bc 0 32px,#f6fbd0 0 50px,#e4f4f1 0 53px,#f6fbd0 0 54px,#e4f4f1 0 58px,#f6fbd0 0 66px,#fff9bc 0 67px,#f6fbd0 0 96px,#fff9bc 0 99px,#f6fbd0 0 107px,#fff9bc 0 116px,#f6fbd0 0 134px,#e4f4f1 0 140px,#f6fbd0 0 141px,#e4f4f1 0 153px,#f6fbd0 0)"></i>
<i style="background:linear-gradient(90deg,#f6fbd0 9px,#fff9bc 0 32px,#f6fbd0 0 49px,#e4f4f1 0 56px,#f6fbd0 0 88px,#e4f4f1 0 90px,#f6fbd0 0 94px,#fff9bc 0 100px,#f6fbd0 0 104px,#fff9bc 0 115px,#f6fbd0 0 142px,#e4f4f1 0 152px,#f6fbd0 0 163px,#e4f4f1 0)"></i>
<i style="background:linear-gradient(90deg,#f6fbd0 8px,#fff9bc 0 27px,#f6fbd0 0 29px,#fff9bc 0 32px,#f6fbd0 0 49px,#e4f4f1 0 54px,#f6fbd0 0 57px,#fff9bc 0 58px,#f6fbd0 0 62px,#fff9bc 0 63px,#f6fbd0 0 86px,#e4f4f1 0 90px,#f6fbd0 0 93px,#fff9bc 0 113px,#f6fbd0 0 127px,#fff9bc 0 130px,#f6fbd0 0 144px,#e4f4f1 0 146px,#f6fbd0 0 147px,#e4f4f1 0 151px,#f6fbd0 0 162px,#e4f4f1 0 164px,#c7e7f1 0 165px,#f6fbd0 0)"></i>
<i style="background:linear-gradient(90deg,#f6fbd0 4px,#fff9bc 0 33px,#f6fbd0 0 45px,#fff9bc 0 47px,#f6fbd0 0 49px,#e4f4f1 0 53px,#f6fbd0 0 55px,#fff9bc 0 60px,#f6fbd0 0 61px,#fff9bc 0 64px,#f6fbd0 0 88px,#e4f4f1 0 89px,#f6fbd0 0 94px,#fff9bc 0 110px,#f6fbd0 0 126px,#fff9bc 0 131px,#f6fbd0 0 139px,#fff9bc 0 140px,#f6fbd0 0 149px,#e4f4f1 0 151px,#f6fbd0 0 154px,#e4f4f1 0 156px,#f6fbd0 0 162px,#e4f4f1 0 165px,#f6fbd0 0)"></i>
<i style="background:linear-gradient(90deg,#f6fbd0 3px,#fff9bc 0 35px,#f6fbd0 0 44px,#fff9bc 0 48px,#f6fbd0 0 49px,#e4f4f1 0 52px,#f6fbd0 0 54px,#fff9bc 0 64px,#f6fbd0 0 88px,#e4f4f1 0 89px,#f6fbd0 0 94px,#fff9bc 0 110px,#f6fbd0 0 126px,#fff9bc 0 131px,#f6fbd0 0 139px,#fff9bc 0 141px,#f6fbd0 0 150px,#e4f4f1 0 151px,#f6fbd0 0 154px,#e4f4f1 0 156px,#f6fbd0 0 160px,#e4f4f1 0 163px,#f6fbd0 0)"></i>
<i style="background:linear-gradient(90deg,#f6fbd0 3px,#fff9bc 0 35px,#f6fbd0 0 38px,#fff9bc 0 42px,#f6fbd0 0 44px,#fff9bc 0 48px,#f6fbd0 0 49px,#e4f4f1 0 52px,#f6fbd0 0 53px,#fff9bc 0 62px,#f6fbd0 0 64px,#fff9bc 0 67px,#f6fbd0 0 95px,#fff9bc 0 110px,#f6fbd0 0 113px,#fff9bc 0 115px,#f6fbd0 0 128px,#fff9bc 0 132px,#f6fbd0 0 153px,#e4f4f1 0 156px,#f6fbd0 0 160px,#e4f4f1 0 163px,#f6fbd0 0)"></i>
<i style="background:linear-gradient(90deg,#f6fbd0 4px,#fff9bc 0 11px,#f6fbd0 0 12px,#fff9bc 0 42px,#f6fbd0 0 43px,#fff9bc 0 48px,#e4f4f1 0 52px,#f6fbd0 0 53px,#fff9bc 0 61px,#f6fbd0 0 64px,#fff9bc 0 69px,#f6fbd0 0 72px,#e4f4f1 0 74px,#f6fbd0 0 96px,#fff9bc 0 105px,#f6fbd0 0 107px,#fff9bc 0 109px,#f6fbd0 0 114px,#fff9bc 0 116px,#f6fbd0 0 118px,#fff9bc 0 119px,#f6fbd0 0 129px,#fff9bc 0 132px,#f6fbd0 0 152px,#e4f4f1 0 156px,#f6fbd0 0 160px,#e4f4f1 0 161px,#f6fbd0 0)"></i>
<i style="background:linear-gradient(90deg,#f6fbd0 5px,#fff9bc 0 11px,#f6fbd0 0 12px,#fff9bc 0 48px,#f6fbd0 0 49px,#e4f4f1 0 52px,#f6fbd0 0 53px,#fff9bc 0 61px,#f6fbd0 0 66px,#fff9bc 0 69px,#f6fbd0 0 72px,#e4f4f1 0 73px,#f6fbd0 0 79px,#fff9bc 0 80px,#f6fbd0 0 97px,#fff9bc 0 105px,#f6fbd0 0 114px,#fff9bc 0 120px,#f6fbd0 0 121px,#fff9bc 0 123px,#f6fbd0 0 129px,#fff9bc 0 133px,#f6fbd0 0 152px,#e4f4f1 0 156px,#f6fbd0 0)"></i>
<i style="background:linear-gradient(90deg,#f6fbd0 6px,#fff9bc 0 48px,#f6fbd0 0 50px,#e4f4f1 0 51px,#f6fbd0 0 53px,#fff9bc 0 55px,#f6fbd0 0 57px,#fff9bc 0 64px,#f6fbd0 0 69px,#fff9bc 0 70px,#f6fbd0 0 82px,#e4f4f1 0 85px,#f6fbd0 0 86px,#e4f4f1 0 89px,#f6fbd0 0 97px,#fff9bc 0 105px,#f6fbd0 0 118px,#fff9bc 0 119px,#f6fbd0 0 128px,#fff9bc 0 133px,#f6fbd0 0 148px,#e4f4f1 0 157px,#f6fbd0 0)"></i>
<i style="background:linear-gradient(90deg,#f6fbd0 7px,#fff9bc 0 22px,#f6fbd0 0 25px,#fff9bc 0 49px,#f6fbd0 0 54px,#fff9bc 0 55px,#f6fbd0 0 57px,#fff9bc 0 63px,#f6fbd0 0 82px,#e4f4f1 0 90px,#f6fbd0 0 99px,#fff9bc 0 104px,#f6fbd0 0 128px,#fff9bc 0 133px,#f6fbd0 0 142px,#e4f4f1 0 145px,#f6fbd0 0 147px,#e4f4f1 0 157px,#f6fbd0 0 163px,#fff9bc 0 165px,#f6fbd0 0)"></i>
<i style="background:linear-gradient(90deg,#f6fbd0 6px,#fff9bc 0 13px,#f6fbd0 0 19px,#fff9bc 0 21px,#f6fbd0 0 35px,#fff9bc 0 46px,#f6fbd0 0 48px,#fff9bc 0 50px,#f6fbd0 0 53px,#fff9bc 0 63px,#f6fbd0 0 69px,#e4f4f1 0 74px,#f6fbd0 0 80px,#e4f4f1 0 92px,#f6fbd0 0 129px,#fff9bc 0 133px,#f6fbd0 0 140px,#e4f4f1 0 146px,#f6fbd0 0 147px,#e4f4f1 0 160px,#f6fbd0 0)"></i>
<i style="background:linear-gradient(90deg,#f6fbd0 1px,#e4f4f1 0 4px,#f6fbd0 0 40px,#fff9bc 0 42px,#f6fbd0 0 53px,#fff9bc 0 54px,#f6fbd0 0 67px,#e4f4f1 0 81px,#c7e7f1 0 83px,#e4f4f1 0 96px,#f6fbd0 0 99px,#e4f4f1 0 100px,#f6fbd0 0 119px,#e4f4f1 0 126px,#f6fbd0 0 137px,#e4f4f1 0 151px,#c7e7f1 0 152px,#e4f4f1 0 161px,#f6fbd0 0)"></i>
<i style="background:linear-gradient(90deg,#e4f4f1 5px,#f6fbd0 0 22px,#e4f4f1 0 31px,#f6fbd0 0 34px,#e4f4f1 0 35px,#f6fbd0 0 64px,#e4f4f1 0 69px,#c7e7f1 0 73px,#e4f4f1 0 78px,#c7e7f1 0 84px,#e4f4f1 0 86px,#c7e7f1 0 89px,#e4f4f1 0 103px,#f6fbd0 0 104px,#e4f4f1 0 112px,#f6fbd0 0 113px,#e4f4f1 0 127px,#f6fbd0 0 135px,#e4f4f1 0 141px,#c7e7f1 0 144px,#e4f4f1 0 148px,#c7e7f1 0 160px,#e4f4f1 0)"></i>
<i style="background:linear-gradient(90deg,#e4f4f1 16px,#f6fbd0 0 18px,#e4f4f1 0 19px,#f6fbd0 0 21px,#e4f4f1 0 40px,#f6fbd0 0 43px,#e4f4f1 0 45px,#f6fbd0 0 62px,#e4f4f1 0 67px,#c7e7f1 0 74px,#e4f4f1 0 77px,#c7e7f1 0 99px,#e4f4f1 0 137px,#c7e7f1 0 150px,#a8d6e8 0 155px,#c7e7f1 0 161px,#e4f4f1 0)"></i>
<i style="background:linear-gradient(90deg,#e4f4f1 4px,#c7e7f1 0 7px,#e4f4f1 0 27px,#c7e7f1 0 31px,#e4f4f1 0 54px,#f6fbd0 0 59px,#e4f4f1 0 67px,#c7e7f1 0 100px,#e4f4f1 0 108px,#c7e7f1 0 109px,#e4f4f1 0 114px,#c7e7f1 0 124px,#e4f4f1 0 137px,#c7e7f1 0 149px,#a8d6e8 0 159px,#c7e7f1 0)"></i>
<i style="background:linear-gradient(90deg,#c7e7f1 11px,#e4f4f1 0 27px,#c7e7f1 0 34px,#e4f4f1 0 55px,#f6fbd0 0 59px,#e4f4f1 0 66px,#c7e7f1 0 82px,#a8d6e8 0 83px,#c7e7f1 0 92px,#a8d6e8 0 98px,#c7e7f1 0 101px,#e4f4f1 0 103px,#c7e7f1 0 112px,#e4f4f1 0 114px,#c7e7f1 0 124px,#e4f4f1 0 129px,#c7e7f1 0 130px,#e4f4f1 0 137px,#c7e7f1 0 148px,#a8d6e8 0 160px,#c7e7f1 0)"></i>
<i style="background:linear-gradient(90deg,#a8d6e8 5px,#c7e7f1 0 16px,#e4f4f1 0 18px,#c7e7f1 0 41px,#e4f4f1 0 65px,#c7e7f1 0 79px,#a8d6e8 0 85px,#c7e7f1 0 87px,#a8d6e8 0 98px,#c7e7f1 0 124px,#e4f4f1 0 128px,#c7e7f1 0 142px,#a8d6e8 0 146px,#c7e7f1 0 147px,#a8d6e8 0 151px,#87bdd9 0 159px,#a8d6e8 0 161px,#c7e7f1 0 164px,#a8d6e8 0)"></i>
<i style="background:linear-gradient(90deg,#a8d6e8 2px,#87bdd9 0 4px,#a8d6e8 0 7px,#c7e7f1 0 8px,#a8d6e8 0 10px,#c7e7f1 0 13px,#a8d6e8 0 15px,#c7e7f1 0 19px,#a8d6e8 0 25px,#c7e7f1 0 28px,#a8d6e8 0 33px,#c7e7f1 0 56px,#e4f4f1 0 58px,#c7e7f1 0 72px,#a8d6e8 0 92px,#87bdd9 0 96px,#a8d6e8 0 112px,#c7e7f1 0 115px,#a8d6e8 0 118px,#c7e7f1 0 119px,#a8d6e8 0 122px,#c7e7f1 0 140px,#a8d6e8 0 148px,#87bdd9 0 149px,#a8d6e8 0 150px,#87bdd9 0 160px,#a8d6e8 0)"></i>
<i style="background:linear-gradient(90deg,#69a0ca 5px,#87bdd9 0 35px,#a8d6e8 0 36px,#87bdd9 0 41px,#a8d6e8 0 48px,#87bdd9 0 49px,#a8d6e8 0 68px,#87bdd9 0 90px,#69a0ca 0 97px,#87bdd9 0 113px,#a8d6e8 0 116px,#87bdd9 0 118px,#a8d6e8 0 120px,#87bdd9 0 121px,#a8d6e8 0 124px,#c7e7f1 0 132px,#a8d6e8 0 135px,#c7e7f1 0 139px,#a8d6e8 0 141px,#87bdd9 0 147px,#69a0ca 0)"></i>
<i style="background:linear-gradient(90deg,#4d7fb9 6px,#69a0ca 0 13px,#4d7fb9 0 27px,#69a0ca 0 43px,#87bdd9 0 45px,#69a0ca 0 54px,#87bdd9 0 55px,#69a0ca 0 63px,#87bdd9 0 68px,#69a0ca 0 78px,#4d7fb9 0 79px,#69a0ca 0 89px,#4d7fb9 0 96px,#69a0ca 0 100px,#87bdd9 0 121px,#a8d6e8 0 122px,#c7e7f1 0 124px,#e4f4f1 0 125px,#f6fbd0 0 126px,#fff9bc 0 129px,#ffeba0 0 130px,#fff9bc 0 139px,#f6fbd0 0 140px,#e4f4f1 0 141px,#c7e7f1 0 142px,#a8d6e8 0 143px,#87bdd9 0 145px,#69a0ca 0 147px,#4d7fb9 0)"></i>
<i style="background:linear-gradient(90deg,#3d5ba7 17px,#313695 0 24px,#3d5ba7 0 31px,#4d7fb9 0 43px,#69a0ca 0 46px,#4d7fb9 0 48px,#69a0ca 0 49px,#4d7fb9 0 53px,#69a0ca 0 55px,#4d7fb9 0 62px,#69a0ca 0 68px,#4d7fb9 0 86px,#69a0ca 0 87px,#4d7fb9 0 95px,#69a0ca 0 99px,#87bdd9 0 105px,#a8d6e8 0 109px,#87bdd9 0 111px,#a8d6e8 0 117px,#87bdd9 0 119px,#a8d6e8 0 121px,#c7e7f1 0 122px,#e4f4f1 0 123px,#fff9bc 0 124px,#fed786 0 125px,#fdbd6e 0 126px,#f57a48 0 127px,#eb5e3c 0 128px,#de402d 0 130px,#c82228 0 131px,#de402d 0 132px,#eb5e3c 0 135px,#de402d 0 138px,#eb5e3c 0 139px,#f57a48 0 140px,#fdbd6e 0 141px,#ffeba0 0 142px,#f6fbd0 0 143px,#e4f4f1 0 144px,#a8d6e8 0 145px,#87bdd9 0 146px,#69a0ca 0 147px,#4d7fb9 0 149px,#3d5ba7 0 156px,#4d7fb9 0 159px,#3d5ba7 0)"></i>
<i style="background:linear-gradient(90deg,#3d5ba7 2px,#313695 0 5px,#3d5ba7 0 10px,#313695 0 27px,#3d5ba7 0 32px,#4d7fb9 0 38px,#3d5ba7 0 40px,#4d7fb9 0 62px,#69a0ca 0 67px,#4d7fb9 0 95px,#69a0ca 0 100px,#87bdd9 0 113px,#a8d6e8 0 116px,#87bdd9 0 119px,#a8d6e8 0 121px,#c7e7f1 0 122px,#f6fbd0 0 123px,#fff9bc 0 124px,#fed786 0 125px,#fa9e5a 0 126px,#f57a48 0 127px,#de402d 0 128px,#c82228 0 138px,#de402d 0 139px,#eb5e3c 0 140px,#f57a48 0 141px,#fed786 0 142px,#fff9bc 0 143px,#e4f4f1 0 144px,#a8d6e8 0 145px,#87bdd9 0 146px,#69a0ca 0 147px,#4d7fb9 0 149px,#3d5ba7 0 156px,#4d7fb9 0 158px,#3d5ba7 0)"></i>
<i style="background:linear-gradient(90deg,#4d7fb9 12px,#3d5ba7 0 14px,#4d7fb9 0 17px,#3d5ba7 0 26px,#4d7fb9 0 28px,#69a0ca 0 32px,#87bdd9 0 35px,#69a0ca 0 62px,#87bdd9 0 65px,#69a0ca 0 111px,#87bdd9 0 121px,#a8d6e8 0 122px,#c7e7f1 0 123px,#e4f4f1 0 124px,#f6fbd0 0 125px,#fff9bc 0 126px,#ffeba0 0 127px,#fed786 0 128px,#fdbd6e 0 133px,#fed786 0 139px,#ffeba0 0 140px,#fff9bc 0 141px,#f6fbd0 0 142px,#e4f4f1 0 143px,#a8d6e8 0 144px,#87bdd9 0 146px,#69a0ca 0 148px,#4d7fb9 0 156px,#69a0ca 0 159px,#4d7fb9 0)"></i>
<i></i>
<i></i>
<i></i>
</div>
<div class="p" style="left:14.0px;top:117.2px">
<i></i>
<i style="background:linear-gradient(90deg,#ff4300,#ff4300,#ff4300,#ff4300,#ff4300,#ff4300,#ff3800,#ff2d00,#ff2500,#ff2d00,#ff3b00,#ff4e00,#ff5900,#ff5900,#ff6000,#ff6c00,#ff7300,#ff7700,#ff7700,#ff7700,#ff7700,#ff7700,#ff7700,#ff7700,#ff6f00,#ff6400,#ff5900,#ff5900,#ff4e00,#ff4300,#ff4300,#ff4300,#ff4300)"></i>
<i style="background:linear-gradient(90deg,#ff4300,#ff4300,#ff4300,#ff4700,#ff4700,#ff4300,#ff3800,#ff2d00,#ff2500,#ff2d00,#ff3b00,#ff4e00,#ff5900,#ff5d00,#ff6400,#ff6c00,#ff7300,#ff7700,#ff7700,#ff7700,#ff7700,#ff7700,#ff7700,#ff7700,#ff6f00,#ff6400,#ff5d00,#ff5900,#ff4e00,#ff3f00,#ff3f00,#ff4300,#ff4300)"></i>
<i style="background:linear-gradient(90deg,#ff4300,#ff4300,#ff4700,#ff4700,#ff4700,#ff4300,#ff3b00,#ff2d00,#ff2500,#ff2d00,#ff3f00,#ff4e00,#ff5d00,#ff5d00,#ff6400,#ff6f00,#ff7700,#ff7700,#ff7700,#ff7700,#ff7700,#ff7700,#ff7700,#ff7700,#ff6f00,#ff6400,#ff5d00,#ff5900,#ff4e00,#ff3f00,#ff3f00,#ff4300,#ff4300)"></i>
<i style="background:linear-gradient(90deg,#ff4700,#ff4700,#ff4700,#ff4700,#ff4a00,#ff4700,#ff3b00,#ff2d00,#ff2500,#ff2d00,#ff3f00,#ff5200,#ff6000,#ff6000,#ff6800,#ff6f00,#ff7700,#ff7a00,#ff7a00,#ff7a00,#ff7a00,#ff7a00,#ff7700,#ff7700,#ff6f00,#ff6400,#ff5d00,#ff5900,#ff4e00,#ff3f00,#ff3f00,#ff4300,#ff4700)"></i>
<i style="background:linear-gradient(90deg,#ff4700,#ff4700,#ff4700,#ff4a00,#ff4a00,#ff4a00,#ff3b00,#ff2d00,#ff2900,#ff3000,#ff4300,#ff5500,#ff6400,#ff6400,#ff6c00,#ff7300,#ff7a00,#ff7a00,#ff7a00,#ff7a00,#ff7a00,#ff7a00,#ff7a00,#ff7a00,#ff7300,#ff6800,#ff5d00,#ff5900,#ff4e00,#ff3f00,#ff3f00,#ff4300,#ff4700)"></i>
<i style="background:linear-gradient(90deg,#ff4700,#ff4700,#ff4a00,#ff4e00,#ff4e00,#ff4a00,#ff3f00,#ff3000,#ff2900,#ff3000,#ff4300,#ff5900,#ff6800,#ff6800,#ff6f00,#ff7700,#ff7a00,#ff7e00,#ff7e00,#ff7e00,#ff7e00,#ff7a00,#ff7a00,#ff7a00,#ff7300,#ff6800,#ff6000,#ff5d00,#ff4e00,#ff3f00,#ff3f00,#ff4300,#ff4700)"></i>
<i style="background:linear-gradient(90deg,#ff4700,#ff4a00,#ff4a00,#ff4e00,#ff5200,#ff4e00,#ff4300,#ff3000,#ff2900,#ff3400,#ff4700,#ff5d00,#ff6c00,#ff6c00,#ff7300,#ff7a00,#ff7e00,#ff8200,#ff7e00,#ff7e00,#ff7e00,#ff7e00,#ff7e00,#ff7e00,#ff7700,#ff6c00,#ff6000,#ff5d00,#ff4e00,#ff3f00,#ff3f00,#ff4300,#ff4700)"></i>
<i style="background:linear-gradient(90deg,#ff4a00,#ff4a00,#ff4e00,#ff5200,#ff5500,#ff5200,#ff4700,#ff3800,#ff3000,#ff3800,#ff4a00,#ff6400,#ff7300,#ff7300,#ff7700,#ff7e00,#ff8200,#ff8600,#ff8600,#ff8200,#ff8200,#ff8200,#ff7e00,#ff7e00,#ff7700,#ff6c00,#ff6400,#ff6000,#ff4e00,#ff3f00,#ff3f00,#ff4700,#ff4a00)"></i>
<i style="background:linear-gradient(90deg,#ff4a00,#ff4e00,#ff5200,#ff5500,#ff5900,#ff5500,#ff4a00,#ff3b00,#ff3800,#ff3f00,#ff5500,#ff6c00,#ff7a00,#ff7e00,#ff8200,#ff8600,#ff8900,#ff8d00,#ff8900,#ff8900,#ff8600,#ff8600,#ff8200,#ff8200,#ff7a00,#ff6f00,#ff6800,#ff6400,#ff5200,#ff3f00,#ff3f00,#ff4700,#ff4a00)"></i>
<i style="background:linear-gradient(90deg,#ff4e00,#ff4e00,#ff5500,#ff5900,#ff6000,#ff5d00,#ff5200,#ff4700,#ff3f00,#ff4700,#ff5d00,#ff7300,#ff8200,#ff8600,#ff8900,#ff8d00,#ff9400,#ff9400,#ff9400,#ff9100,#ff8d00,#ff8900,#ff8900,#ff8900,#ff8200,#ff7300,#ff6c00,#ff6800,#ff5500,#ff4300,#ff4300,#ff4700,#ff4e00)"></i>
<i style="background:linear-gradient(90deg,#ff5200,#ff5500,#ff5d00,#ff6000,#ff6800,#ff6400,#ff5900,#ff4e00,#ff4700,#ff5200,#ff6400,#ff7e00,#ff8d00,#ff9100,#ff9400,#ff9800,#ff9c00,#ff9f00,#ff9c00,#ff9800,#ff9800,#ff9400,#ff9100,#ff9100,#ff8600,#ff7a00,#ff6f00,#ff6c00,#ff5500,#ff4300,#ff4300,#ff4e00,#ff5200)"></i>
<i style="background:linear-gradient(90deg,#ff5d00,#ff6000,#ff6400,#ff6c00,#ff6f00,#ff6f00,#ff6400,#ff5900,#ff5200,#ff5900,#ff6f00,#ff8600,#ff9800,#ff9800,#ff9f00,#ffa300,#ffab00,#ffae00,#ffab00,#ffa700,#ffa300,#ff9c00,#ff9800,#ff9800,#ff9100,#ff8200,#ff7700,#ff7300,#ff5900,#ff4300,#ff4700,#ff5200,#ff5d00)"></i>
<i style="background:linear-gradient(90deg,#ff6800,#ff6c00,#ff6f00,#ff7700,#ff7a00,#ff7a00,#ff6f00,#ff6400,#ff5d00,#ff6400,#ff7a00,#ff9100,#ffa300,#ffa300,#ffab00,#ffb200,#ffb900,#ffbd00,#ffb900,#ffb600,#ffae00,#ffa700,#ffa300,#ff9f00,#ff9800,#ff8900,#ff7a00,#ff7700,#ff6000,#ff4a00,#ff4a00,#ff5d00,#ff6800)"></i>
<i style="background:linear-gradient(90deg,#ff7700,#ff7700,#ff7a00,#ff8200,#ff8600,#ff8200,#ff7a00,#ff6f00,#ff6800,#ff7300,#ff8900,#ff9f00,#ffae00,#ffb200,#ffb900,#ffc400,#ffcc00,#ffcc00,#ffcc00,#ffc400,#ffbd00,#ffb200,#ffae00,#ffab00,#ffa300,#ff9100,#ff8200,#ff7e00,#ff6c00,#ff5900,#ff5900,#ff6800,#ff7700)"></i>
<i style="background:linear-gradient(90deg,#ff8200,#ff8200,#ff8600,#ff8d00,#ff8d00,#ff8d00,#ff8600,#ff7e00,#ff7700,#ff8200,#ff9800,#ffb200,#ffc100,#ffc400,#ffcc00,#ffd300,#ffdb00,#ffde00,#ffdb00,#ffd300,#ffcc00,#ffc100,#ffbd00,#ffb900,#ffae00,#ff9c00,#ff8d00,#ff8600,#ff7700,#ff6800,#ff6c00,#ff7700,#ff8200)"></i>
<i style="background:linear-gradient(90deg,#ff8d00,#ff9100,#ff9400,#ff9800,#ff9800,#ff9800,#ff9400,#ff8d00,#ff8900,#ff9400,#ffab00,#ffc100,#ffd300,#ffd700,#ffde00,#ffe600,#feed00,#feed00,#ffea00,#ffe200,#ffd700,#ffd000,#ffc800,#ffc800,#ffb900,#ffa700,#ff9400,#ff9100,#ff8200,#ff7700,#ff7a00,#ff8600,#ff8d00)"></i>
<i style="background:linear-gradient(90deg,#ff9c00,#ff9f00,#ff9f00,#ffa300,#ffa700,#ffa700,#ffa300,#ff9f00,#ff9c00,#ffa700,#ffbd00,#ffd300,#ffe200,#ffe600,#ffea00,#fbf100,#f8f500,#f4f802,#f8f500,#feed00,#ffe600,#ffde00,#ffd700,#ffd700,#ffc800,#ffb200,#ff9f00,#ff9c00,#ff9100,#ff8600,#ff8600,#ff9400,#ff9c00)"></i>
<i style="background:linear-gradient(90deg,#ffae00,#ffb200,#ffb600,#ffb900,#ffbd00,#ffbd00,#ffb900,#ffb600,#ffb600,#ffbd00,#ffd000,#ffe200,#fbf100,#f8f500,#f8f500,#f4f802,#f1fc06,#eeff09,#f1fc06,#f4f802,#fbf100,#feed00,#ffea00,#ffe600,#ffd700,#ffc100,#ffae00,#ffa700,#ff9f00,#ff9400,#ff9800,#ffa700,#ffae00)"></i>
<i style="background:linear-gradient(90deg,#ffd000,#ffd000,#ffd300,#ffd700,#ffd700,#ffd700,#ffd700,#ffd700,#ffd700,#ffdb00,#ffea00,#f8f500,#eeff09,#eeff09,#eeff09,#ebff0c,#ebff0c,#e7ff0f,#ebff0c,#eeff09,#f1fc06,#f4f802,#f4f802,#f8f500,#ffea00,#ffd300,#ffc400,#ffbd00,#ffb600,#ffae00,#ffb200,#ffc400,#ffd000)"></i>
<i style="background:linear-gradient(90deg,#feed00,#feed00,#feed00,#feed00,#feed00,#feed00,#fbf100,#fbf100,#f8f500,#f8f500,#f1fc06,#ebff0c,#e4ff13,#e4ff13,#e4ff13,#e1ff16,#e1ff16,#e1ff16,#e1ff16,#e4ff13,#e7ff0f,#e7ff0f,#ebff0c,#ebff0c,#f4f802,#ffea00,#ffde00,#ffdb00,#ffd000,#ffc800,#ffd000,#ffde00,#feed00)"></i>
<i style="background:linear-gradient(90deg,#f1fc06,#f1fc06,#f1fc06,#f1fc06,#f1fc06,#f1fc06,#eeff09,#ebff0c,#ebff0c,#e7ff0f,#e4ff13,#e1ff16,#deff19,#dbff1c,#dbff1c,#dbff1c,#d7ff1f,#d7ff1f,#d7ff1f,#dbff1c,#dbff1c,#deff19,#deff19,#deff19,#e4ff13,#eeff09,#f8f500,#fbf100,#feed00,#ffea00,#feed00,#f8f500,#f1fc06)"></i>
<i style="background:linear-gradient(90deg,#e4ff13,#e4ff13,#e4ff13,#e4ff13,#e4ff13,#e4ff13,#e1ff16,#deff19,#deff19,#deff19,#d7ff1f,#d4ff23,#d1ff26,#d1ff26,#d1ff26,#ceff29,#caff2c,#caff2c,#caff2c,#ceff29,#ceff29,#ceff29,#d1ff26,#d1ff26,#d4ff23,#dbff1c,#e1ff16,#e4ff13,#e4ff13,#e4ff13,#e4ff13,#e4ff13,#e4ff13)"></i>
<i style="background:linear-gradient(90deg,#d4ff23,#d4ff23,#d4ff23,#d4ff23,#d4ff23,#d4ff23,#d4ff23,#d1ff26,#ceff29,#ceff29,#caff2c,#c4ff33,#c4ff33,#c1ff36,#c1ff36,#beff39,#beff39,#beff39,#beff39,#beff39,#beff39,#beff39,#beff39,#beff39,#c1ff36,#c7ff30,#caff2c,#caff2c,#caff2c,#ceff29,#ceff29,#d1ff26,#d4ff23)"></i>
<i style="background:linear-gradient(90deg,#c7ff30,#c7ff30,#c7ff30,#c7ff30,#c7ff30,#c7ff30,#c1ff36,#beff39,#baff3c,#baff3c,#b7ff40,#b4ff43,#b1ff46,#b1ff46,#b1ff46,#adff49,#aaff4d,#aaff4d,#aaff4d,#aaff4d,#aaff4d,#aaff4d,#aaff4d,#aaff4d,#aaff4d,#adff49,#b1ff46,#b1ff46,#b1ff46,#b4ff43,#b4ff43,#c1ff36,#c7ff30)"></i>
<i style="background:linear-gradient(90deg,#b4ff43,#b7ff40,#b7ff40,#b7ff40,#b7ff40,#b4ff43,#b1ff46,#aaff4d,#a7ff50,#a7ff50,#a4ff53,#a0ff56,#a0ff56,#9dff5a,#9dff5a,#9aff5d,#9aff5d,#97ff60,#97ff60,#97ff60,#97ff60,#97ff60,#97ff60,#97ff60,#97ff60,#97ff60,#97ff60,#97ff60,#97ff60,#97ff60,#9aff5d,#aaff4d,#b4ff43)"></i>
<i style="background:linear-gradient(90deg,#9dff5a,#9dff5a,#9dff5a,#9dff5a,#9dff5a,#9dff5a,#9aff5d,#97ff60,#94ff63,#94ff63,#90ff66,#8dff6a,#8aff6d,#8aff6d,#8aff6d,#87ff70,#87ff70,#83ff73,#83ff73,#83ff73,#83ff73,#83ff73,#83ff73,#83ff73,#83ff73,#80ff77,#7dff7a,#7dff7a,#7dff7a,#7dff7a,#80ff77,#90ff66,#9dff5a)"></i>
<i style="background:linear-gradient(90deg,#80ff77,#80ff77,#80ff77,#80ff77,#80ff77,#80ff77,#80ff77,#80ff77,#80ff77,#7dff7a,#7aff7d,#77ff80,#77ff80,#73ff83,#73ff83,#73ff83,#73ff83,#70ff87,#70ff87,#70ff87,#70ff87,#70ff87,#70ff87,#70ff87,#6dff8a,#6aff8d,#66ff90,#66ff90,#63ff94,#63ff94,#66ff90,#77ff80,#80ff77)"></i>
<i style="background:linear-gradient(90deg,#66ff90,#66ff90,#66ff90,#66ff90,#66ff90,#66ff90,#66ff90,#66ff90,#66ff90,#66ff90,#63ff94,#60ff97,#5dff9a,#5dff9a,#5dff9a,#5dff9a,#5dff9a,#5dff9a,#5dff9a,#5dff9a,#5dff9a,#5dff9a,#5dff9a,#5dff9a,#5aff9d,#56ffa0,#53ffa4,#50ffa7,#50ffa7,#4dffaa,#50ffa7,#5dff9a,#66ff90)"></i>
<i style="background:linear-gradient(90deg,#4dffaa,#4dffaa,#4dffaa,#4dffaa,#4dffaa,#4dffaa,#4dffaa,#4dffaa,#4dffaa,#4dffaa,#49ffad,#49ffad,#49ffad,#49ffad,#49ffad,#49ffad,#49ffad,#4dffaa,#49ffad,#49ffad,#49ffad,#49ffad,#49ffad,#49ffad,#46ffb1,#43ffb4,#40ffb7,#40ffb7,#3cffba,#3cffba,#3cffba,#46ffb1,#4dffaa)"></i>
<i style="background:linear-gradient(90deg,#39ffbe,#39ffbe,#39ffbe,#39ffbe,#39ffbe,#39ffbe,#39ffbe,#39ffbe,#39ffbe,#39ffbe,#36ffc1,#36ffc1,#36ffc1,#36ffc1,#36ffc1,#39ffbe,#39ffbe,#39ffbe,#39ffbe,#39ffbe,#36ffc1,#36ffc1,#36ffc1,#36ffc1,#36ffc1,#33ffc4,#30ffc7,#30ffc7,#30ffc7,#2cffca,#30ffc7,#33ffc4,#39ffbe)"></i>
<i style="background:linear-gradient(90deg,#26ffd1,#26ffd1,#26ffd1,#26ffd1,#26ffd1,#26ffd1,#26ffd1,#26ffd1,#29ffce,#26ffd1,#26ffd1,#26ffd1,#26ffd1,#26ffd1,#26ffd1,#29ffce,#29ffce,#29ffce,#29ffce,#29ffce,#26ffd1,#26ffd1,#26ffd1,#26ffd1,#26ffd1,#23ffd4,#23ffd4,#1fffd7,#23ffd4,#23ffd4,#23ffd4,#26ffd1,#26ffd1)"></i>
<i style="background:linear-gradient(90deg,#1fffd7,#1fffd7,#1fffd7,#1fffd7,#1fffd7,#1fffd7,#1cffdb,#1cffdb,#1cffdb,#1cffdb,#1cffdb,#1cffdb,#1fffd7,#1fffd7,#1cffdb,#1cffdb,#1cffdb,#1cffdb,#1cffdb,#1cffdb,#1cffdb,#1cffdb,#1fffd7,#1fffd7,#1cffdb,#19ffde,#19ffde,#19ffde,#19ffde,#1cffdb,#1cffdb,#1cffdb,#1fffd7)"></i>
<i style="background:linear-gradient(90deg,#19ffde,#19ffde,#19ffde,#19ffde,#19ffde,#19ffde,#19ffde,#16ffe1,#16ffe1,#16ffe1,#19ffde,#19ffde,#19ffde,#19ffde,#19ffde,#19ffde,#16ffe1,#16ffe1,#16ffe1,#16ffe1,#19ffde,#19ffde,#19ffde,#19ffde,#16ffe1,#16ffe1,#16ffe1,#16ffe1,#16ffe1,#16ffe1,#16ffe1,#19ffde,#19ffde)"></i>
<i style="background:linear-gradient(90deg,#13fde4,#13fde4,#13fde4,#13fde4,#13fde4,#13fde4,#13fde4,#13fde4,#13fde4,#13fde4,#13fde4,#13fde4,#13fde4,#13fde4,#13fde4,#13fde4,#13fde4,#13fde4,#13fde4,#13fde4,#13fde4,#13fde4,#13fde4,#13fde4,#13fde4,#13fde4,#13fde4,#13fde4,#13fde4,#13fde4,#13fde4,#13fde4,#13fde4)"></i>
<i style="background:linear-gradient(90deg,#0cf5eb,#0cf5eb,#0cf5eb,#0cf5eb,#0cf5eb,#0cf5eb,#0cf5eb,#0cf5eb,#0cf5eb,#0cf5eb,#0cf5eb,#0cf5eb,#0cf5eb,#0cf5eb,#0cf5eb,#0cf5eb,#0cf5eb,#0cf5eb,#0cf5eb,#0cf5eb,#0cf5eb,#0cf5eb,#0cf5eb,#0cf5eb,#0cf5eb,#0cf5eb,#0cf5eb,#0cf5eb,#0cf5eb,#0cf5eb,#0cf5eb,#0cf5eb,#0cf5eb)"></i>
<i style="background:linear-gradient(90deg,#06edf1,#06edf1,#06edf1,#06edf1,#06edf1,#06edf1,#06edf1,#06edf1,#06edf1,#06edf1,#06edf1,#06edf1,#06edf1,#06edf1,#06edf1,#06edf1,#06edf1,#06edf1,#06edf1,#06edf1,#06edf1,#06edf1,#06edf1,#06edf1,#06edf1,#06edf1,#06edf1,#06edf1,#06edf1,#06edf1,#06edf1,#06edf1,#06edf1)"></i>
<i style="background:linear-gradient(90deg,#00e5f8,#00e5f8,#00e5f8,#00e5f8,#00e5f8,#00e5f8,#00e5f8,#00e5f8,#00e5f8,#00e5f8,#00e5f8,#00e5f8,#00e5f8,#00e5f8,#00e5f8,#00e5f8,#00e5f8,#00e5f8,#00e5f8,#00e5f8,#00e5f8,#00e5f8,#00e5f8,#00e5f8,#00e5f8,#00e5f8,#00e5f8,#00e5f8,#00e5f8,#00e5f8,#00e5f8,#00e5f8,#00e5f8)"></i>
<i style="background:linear-gradient(90deg,#00ddfe,#00ddfe,#00ddfe,#00ddfe,#00ddfe,#00ddfe,#00ddfe,#00ddfe,#00ddfe,#00ddfe,#00ddfe,#00ddfe,#00ddfe,#00ddfe,#00ddfe,#00ddfe,#00ddfe,#00ddfe,#00ddfe,#00ddfe,#00ddfe,#00ddfe,#00ddfe,#00ddfe,#00ddfe,#00ddfe,#00ddfe,#00ddfe,#00ddfe,#00ddfe,#00ddfe,#00ddfe,#00ddfe)"></i>
<i style="background:linear-gradient(90deg,#00d5ff,#00d5ff,#00d5ff,#00d5ff,#00d5ff,#00d5ff,#00d5ff,#00d5ff,#00d5ff,#00d5ff,#00d5ff,#00d5ff,#00d5ff,#00d5ff,#00d5ff,#00d5ff,#00d5ff,#00d5ff,#00d5ff,#00d5ff,#00d5ff,#00d5ff,#00d5ff,#00d5ff,#00d5ff,#00d5ff,#00d5ff,#00d5ff,#00d5ff,#00d5ff,#00d5ff,#00d5ff,#00d5ff)"></i>
<i style="background:linear-gradient(90deg,#00cdff,#00cdff,#00cdff,#00cdff,#00cdff,#00cdff,#00cdff,#00cdff,#00cdff,#00cdff,#00cdff,#00cdff,#00cdff,#00cdff,#00cdff,#00cdff,#00cdff,#00cdff,#00cdff,#00cdff,#00cdff,#00cdff,#00cdff,#00cdff,#00cdff,#00cdff,#00cdff,#00cdff,#00cdff,#00cdff,#00cdff,#00cdff,#00cdff)"></i>
<i style="background:linear-gradient(90deg,#00c5ff,#00c5ff,#00c5ff,#00c5ff,#00c5ff,#00c5ff,#00c5ff,#00c5ff,#00c5ff,#00c5ff,#00c5ff,#00c5ff,#00c5ff,#00c5ff,#00c5ff,#00c5ff,#00c5ff,#00c5ff,#00c5ff,#00c5ff,#00c5ff,#00c5ff,#00c5ff,#00c5ff,#00c5ff,#00c5ff,#00c5ff,#00c5ff,#00c5ff,#00c5ff,#00c5ff,#00c5ff,#00c5ff)"></i>
<i style="background:linear-gradient(90deg,#00bdff,#00bdff,#00bdff,#00bdff,#00bdff,#00bdff,#00bdff,#00bdff,#00bdff,#00bdff,#00bdff,#00bdff,#00bdff,#00bdff,#00bdff,#00bdff,#00bdff,#00bdff,#00bdff,#00bdff,#00bdff,#00bdff,#00bdff,#00bdff,#00bdff,#00bdff,#00bdff,#00bdff,#00bdff,#00bdff,#00bdff,#00bdff,#00bdff)"></i>
<i style="background:linear-gradient(90deg,#00b9ff,#00b9ff,#00b9ff,#00b9ff,#00b9ff,#00b9ff,#00b9ff,#00b9ff,#00b9ff,#00b9ff,#00b9ff,#00b9ff,#00b9ff,#00b9ff,#00b9ff,#00b9ff,#00b9ff,#00b9ff,#00b9ff,#00b9ff,#00b9ff,#00b9ff,#00b9ff,#00b9ff,#00b9ff,#00b9ff,#00b9ff,#00b9ff,#00b9ff,#00b9ff,#00b9ff,#00b9ff,#00b9ff)"></i>
<i style="background:linear-gradient(90deg,#00b5ff,#00b5ff,#00b5ff,#00b5ff,#00b5ff,#00b5ff,#00b5ff,#00b5ff,#00b5ff,#00b5ff,#00b5ff,#00b5ff,#00b5ff,#00b5ff,#00b5ff,#00b5ff,#00b5ff,#00b5ff,#00b5ff,#00b5ff,#00b5ff,#00b5ff,#00b5ff,#00b5ff,#00b5ff,#00b5ff,#00b5ff,#00b5ff,#00b5ff,#00b5ff,#00b5ff,#00b5ff,#00b5ff)"></i>
<i style="background:linear-gradient(90deg,#00b1ff,#00b1ff,#00b1ff,#00b1ff,#00b1ff,#00b1ff,#00b1ff,#00b1ff,#00b1ff,#00b1ff,#00b1ff,#00b1ff,#00b1ff,#00b1ff,#00b1ff,#00b1ff,#00b1ff,#00b1ff,#00b1ff,#00b1ff,#00b1ff,#00b1ff,#00b1ff,#00b1ff,#00b1ff,#00b1ff,#00b1ff,#00b1ff,#00b1ff,#00b1ff,#00b1ff,#00b1ff,#00b1ff)"></i>
<i style="background:linear-gradient(90deg,#00b1ff,#00b1ff,#00b1ff,#00b1ff,#00b1ff,#00b1ff,#00b1ff,#00b1ff,#00b1ff,#00b1ff,#00b1ff,#00b1ff,#00b1ff,#00b1ff,#00b1ff,#00b1ff,#00b1ff,#00b1ff,#00b1ff,#00b1ff,#00b1ff,#00b1ff,#00b1ff,#00b1ff,#00b1ff,#00b1ff,#00b1ff,#00b1ff,#00b1ff,#00b1ff,#00b1ff,#00b1ff,#00b1ff)"></i>
<i style="background:linear-gradient(90deg,#00b1ff,#00b1ff,#00b1ff,#00b1ff,#00b1ff,#00b1ff,#00b1ff,#00b1ff,#00b1ff,#00b1ff,#00b1ff,#00b1ff,#00b1ff,#00b1ff,#00b1ff,#00b1ff,#00b1ff,#00b1ff,#00b1ff,#00b1ff,#00b1ff,#00b1ff,#00b1ff,#00b1ff,#00b1ff,#00b1ff,#00b1ff,#00b1ff,#00b1ff,#00b1ff,#00b1ff,#00b1ff,#00b1ff)"></i>
<i style="background:linear-gradient(90deg,#00b5ff,#00b5ff,#00b5ff,#00b5ff,#00b5ff,#00b5ff,#00b5ff,#00b5ff,#00b5ff,#00b5ff,#00b5ff,#00b5ff,#00b5ff,#00b5ff,#00b5ff,#00b5ff,#00b5ff,#00b5ff,#00b5ff,#00b5ff,#00b5ff,#00b5ff,#00b5ff,#00b5ff,#00b5ff,#00b5ff,#00b5ff,#00b5ff,#00b5ff,#00b5ff,#00b5ff,#00b5ff,#00b5ff)"></i>
<i style="background:linear-gradient(90deg,#00b9ff,#00b9ff,#00b9ff,#00b9ff,#00b9ff,#00b9ff,#00b9ff,#00b9ff,#00b9ff,#00b9ff,#00b9ff,#00b9ff,#00b9ff,#00b9ff,#00b9ff,#00b9ff,#00b9ff,#00b9ff,#00b9ff,#00b9ff,#00b9ff,#00b9ff,#00b9ff,#00b9ff,#00b9ff,#00b9ff,#00b9ff,#00b9ff,#00b9ff,#00b9ff,#00b9ff,#00b9ff,#00b9ff)"></i>
<i style="background:linear-gradient(90deg,#00c5ff,#00c5ff,#00c5ff,#00c5ff,#00c5ff,#00c5ff,#00c5ff,#00c5ff,#00c5ff,#00c5ff,#00c5ff,#00c5ff,#00c5ff,#00c5ff,#00c5ff,#00c5ff,#00c5ff,#00c5ff,#00c5ff,#00c5ff,#00c5ff,#00c5ff,#00c5ff,#00c5ff,#00c5ff,#00c5ff,#00c5ff,#00c5ff,#00c5ff,#00c5ff,#00c5ff,#00c5ff,#00c5ff)"></i>
<i style="background:linear-gradient(90deg,#00cdff,#00cdff,#00cdff,#00cdff,#00cdff,#00cdff,#00cdff,#00cdff,#00cdff,#00cdff,#00cdff,#00cdff,#00cdff,#00cdff,#00cdff,#00cdff,#00cdff,#00cdff,#00cdff,#00cdff,#00cdff,#00cdff,#00cdff,#00cdff,#00cdff,#00cdff,#00cdff,#00cdff,#00cdff,#00cdff,#00cdff,#00cdff,#00cdff)"></i>
<i style="background:linear-gradient(90deg,#00d9ff,#00d9ff,#00d9ff,#00d9ff,#00d9ff,#00d9ff,#00d9ff,#00d9ff,#00d9ff,#00d9ff,#00d9ff,#00d9ff,#00d9ff,#00d9ff,#00d9ff,#00d9ff,#00d9ff,#00d9ff,#00d9ff,#00d9ff,#00d9ff,#00d9ff,#00d9ff,#00d9ff,#00d9ff,#00d9ff,#00d9ff,#00d9ff,#00d9ff,#00d9ff,#00d9ff,#00d9ff,#00d9ff)"></i>
<i style="background:linear-gradient(90deg,#00e5f8,#00e5f8,#00e5f8,#00e5f8,#00e5f8,#00e5f8,#00e5f8,#00e5f8,#00e5f8,#00e5f8,#00e5f8,#00e5f8,#00e5f8,#00e5f8,#00e5f8,#00e5f8,#00e5f8,#00e5f8,#00e5f8,#00e5f8,#00e5f8,#00e5f8,#00e5f8,#00e5f8,#00e5f8,#00e5f8,#00e5f8,#00e5f8,#00e5f8,#00e5f8,#00e5f8,#00e5f8,#00e5f8)"></i>
<i style="background:linear-gradient(90deg,#09f1ee,#09f1ee,#09f1ee,#09f1ee,#09f1ee,#09f1ee,#09f1ee,#09f1ee,#09f1ee,#09f1ee,#09f1ee,#09f1ee,#09f1ee,#09f1ee,#09f1ee,#09f1ee,#09f1ee,#09f1ee,#09f1ee,#09f1ee,#09f1ee,#09f1ee,#09f1ee,#09f1ee,#09f1ee,#09f1ee,#09f1ee,#09f1ee,#09f1ee,#09f1ee,#09f1ee,#09f1ee,#09f1ee)"></i>
<i style="background:linear-gradient(90deg,#13fde4,#13fde4,#13fde4,#13fde4,#13fde4,#13fde4,#13fde4,#13fde4,#13fde4,#13fde4,#13fde4,#13fde4,#13fde4,#13fde4,#13fde4,#13fde4,#13fde4,#13fde4,#13fde4,#13fde4,#13fde4,#13fde4,#13fde4,#13fde4,#13fde4,#13fde4,#13fde4,#13fde4,#13fde4,#13fde4,#13fde4,#13fde4,#13fde4)"></i>
<i style="background:linear-gradient(90deg,#1cffdb,#1cffdb,#1cffdb,#1cffdb,#1cffdb,#1cffdb,#1cffdb,#1cffdb,#1cffdb,#1cffdb,#1cffdb,#1cffdb,#1cffdb,#1cffdb,#1cffdb,#1cffdb,#1cffdb,#1cffdb,#1cffdb,#1cffdb,#1cffdb,#1cffdb,#1cffdb,#1cffdb,#1cffdb,#1cffdb,#1cffdb,#1cffdb,#1cffdb,#1cffdb,#1cffdb,#1cffdb,#1cffdb)"></i>
<i style="background:linear-gradient(90deg,#26ffd1,#26ffd1,#26ffd1,#26ffd1,#26ffd1,#26ffd1,#26ffd1,#26ffd1,#26ffd1,#26ffd1,#26ffd1,#26ffd1,#26ffd1,#26ffd1,#26ffd1,#26ffd1,#26ffd1,#26ffd1,#26ffd1,#26ffd1,#26ffd1,#26ffd1,#26ffd1,#26ffd1,#26ffd1,#26ffd1,#26ffd1,#26ffd1,#26ffd1,#26ffd1,#26ffd1,#26ffd1,#26ffd1)"></i>
<i style="background:linear-gradient(90deg,#30ffc7,#30ffc7,#30ffc7,#30ffc7,#30ffc7,#30ffc7,#30ffc7,#30ffc7,#30ffc7,#30ffc7,#30ffc7,#30ffc7,#30ffc7,#30ffc7,#30ffc7,#30ffc7,#30ffc7,#30ffc7,#30ffc7,#30ffc7,#30ffc7,#30ffc7,#30ffc7,#30ffc7,#30ffc7,#30ffc7,#30ffc7,#30ffc7,#30ffc7,#30ffc7,#30ffc7,#30ffc7,#30ffc7)"></i>
<i style="background:linear-gradient(90deg,#39ffbe,#39ffbe,#39ffbe,#39ffbe,#39ffbe,#39ffbe,#39ffbe,#39ffbe,#39ffbe,#39ffbe,#39ffbe,#39ffbe,#39ffbe,#39ffbe,#39ffbe,#39ffbe,#39ffbe,#39ffbe,#39ffbe,#39ffbe,#39ffbe,#39ffbe,#39ffbe,#39ffbe,#39ffbe,#39ffbe,#39ffbe,#39ffbe,#39ffbe,#39ffbe,#39ffbe,#39ffbe,#39ffbe)"></i>
<i style="background:linear-gradient(90deg,#43ffb4,#43ffb4,#43ffb4,#43ffb4,#43ffb4,#43ffb4,#43ffb4,#43ffb4,#43ffb4,#43ffb4,#43ffb4,#43ffb4,#43ffb4,#43ffb4,#43ffb4,#43ffb4,#43ffb4,#43ffb4,#43ffb4,#43ffb4,#43ffb4,#43ffb4,#43ffb4,#43ffb4,#43ffb4,#43ffb4,#43ffb4,#43ffb4,#43ffb4,#43ffb4,#43ffb4,#43ffb4,#43ffb4)"></i>
<i style="background:linear-gradient(90deg,#49ffad,#49ffad,#49ffad,#49ffad,#49ffad,#49ffad,#49ffad,#49ffad,#49ffad,#49ffad,#49ffad,#49ffad,#49ffad,#49ffad,#49ffad,#49ffad,#49ffad,#49ffad,#49ffad,#49ffad,#49ffad,#49ffad,#49ffad,#49ffad,#49ffad,#49ffad,#49ffad,#49ffad,#49ffad,#49ffad,#49ffad,#49ffad,#49ffad)"></i>
<i style="background:linear-gradient(90deg,#4dffaa,#4dffaa,#4dffaa,#4dffaa,#4dffaa,#4dffaa,#4dffaa,#4dffaa,#4dffaa,#4dffaa,#4dffaa,#4dffaa,#4dffaa,#4dffaa,#4dffaa,#4dffaa,#4dffaa,#4dffaa,#4dffaa,#4dffaa,#4dffaa,#4dffaa,#4dffaa,#4dffaa,#4dffaa,#4dffaa,#4dffaa,#4dffaa,#4dffaa,#4dffaa,#4dffaa,#4dffaa,#4dffaa)"></i>
<i style="background:linear-gradient(90deg,#53ffa4,#53ffa4,#53ffa4,#53ffa4,#53ffa4,#53ffa4,#53ffa4,#53ffa4,#53ffa4,#53ffa4,#53ffa4,#53ffa4,#53ffa4,#53ffa4,#53ffa4,#53ffa4,#53ffa4,#53ffa4,#53ffa4,#53ffa4,#53ffa4,#53ffa4,#53ffa4,#53ffa4,#53ffa4,#53ffa4,#53ffa4,#53ffa4,#53ffa4,#53ffa4,#53ffa4,#53ffa4,#53ffa4)"></i>
<i style="background:linear-gradient(90deg,#56ffa0,#56ffa0,#56ffa0,#56ffa0,#56ffa0,#56ffa0,#56ffa0,#56ffa0,#56ffa0,#56ffa0,#56ffa0,#56ffa0,#56ffa0,#5aff9d,#5aff9d,#5aff9d,#5aff9d,#5aff9d,#5aff9d,#5aff9d,#5aff9d,#5aff9d,#5aff9d,#5aff9d,#5aff9d,#5aff9d,#5aff9d,#56ffa0,#56ffa0,#56ffa0,#56ffa0,#56ffa0,#56ffa0)"></i>
<i style="background:linear-gradient(90deg,#5aff9d,#5aff9d,#5aff9d,#5aff9d,#5aff9d,#5aff9d,#5aff9d,#5aff9d,#5aff9d,#5dff9a,#5dff9a,#5dff9a,#5dff9a,#5dff9a,#5dff9a,#60ff97,#60ff97,#60ff97,#63ff94,#63ff94,#63ff94,#63ff94,#60ff97,#60ff97,#60ff97,#5dff9a,#5dff9a,#5dff9a,#5dff9a,#5dff9a,#5dff9a,#5dff9a,#5aff9d)"></i>
<i style="background:linear-gradient(90deg,#60ff97,#60ff97,#60ff97,#60ff97,#60ff97,#60ff97,#60ff97,#60ff97,#60ff97,#60ff97,#60ff97,#60ff97,#63ff94,#63ff94,#66ff90,#66ff90,#6aff8d,#6aff8d,#6dff8a,#6dff8a,#6dff8a,#6dff8a,#6aff8d,#6aff8d,#66ff90,#66ff90,#63ff94,#63ff94,#60ff97,#60ff97,#60ff97,#60ff97,#60ff97)"></i>
<i style="background:linear-gradient(90deg,#60ff97,#60ff97,#60ff97,#60ff97,#60ff97,#60ff97,#60ff97,#60ff97,#63ff94,#63ff94,#63ff94,#63ff94,#66ff90,#6aff8d,#6dff8a,#70ff87,#73ff83,#73ff83,#77ff80,#7aff7d,#7aff7d,#77ff80,#77ff80,#73ff83,#70ff87,#6dff8a,#6aff8d,#66ff90,#66ff90,#63ff94,#63ff94,#63ff94,#60ff97)"></i>
<i style="background:linear-gradient(90deg,#63ff94,#63ff94,#60ff97,#60ff97,#60ff97,#60ff97,#63ff94,#63ff94,#63ff94,#63ff94,#63ff94,#66ff90,#6aff8d,#6dff8a,#70ff87,#73ff83,#7aff7d,#7dff7a,#80ff77,#80ff77,#80ff77,#80ff77,#7dff7a,#7aff7d,#73ff83,#70ff87,#6dff8a,#6aff8d,#66ff90,#63ff94,#63ff94,#63ff94,#63ff94)"></i>
<i style="background:linear-gradient(90deg,#5dff9a,#5dff9a,#5dff9a,#5dff9a,#5dff9a,#5dff9a,#5dff9a,#5dff9a,#60ff97,#60ff97,#60ff97,#63ff94,#66ff90,#6aff8d,#6dff8a,#73ff83,#77ff80,#7dff7a,#80ff77,#80ff77,#80ff77,#80ff77,#7dff7a,#7aff7d,#73ff83,#70ff87,#6aff8d,#66ff90,#63ff94,#60ff97,#60ff97,#60ff97,#5dff9a)"></i>
<i style="background:linear-gradient(90deg,#56ffa0,#56ffa0,#56ffa0,#56ffa0,#56ffa0,#56ffa0,#56ffa0,#56ffa0,#56ffa0,#56ffa0,#5aff9d,#5aff9d,#5dff9a,#60ff97,#66ff90,#6aff8d,#6dff8a,#73ff83,#77ff80,#77ff80,#77ff80,#77ff80,#73ff83,#70ff87,#6aff8d,#66ff90,#63ff94,#5dff9a,#5dff9a,#5aff9d,#5aff9d,#56ffa0,#56ffa0)"></i>
<i style="background:linear-gradient(90deg,#4dffaa,#4dffaa,#4dffaa,#4dffaa,#4dffaa,#4dffaa,#4dffaa,#4dffaa,#4dffaa,#4dffaa,#50ffa7,#50ffa7,#53ffa4,#56ffa0,#5aff9d,#5dff9a,#60ff97,#63ff94,#63ff94,#66ff90,#66ff90,#63ff94,#63ff94,#60ff97,#5dff9a,#5aff9d,#56ffa0,#53ffa4,#50ffa7,#50ffa7,#4dffaa,#4dffaa,#4dffaa)"></i>
<i style="background:linear-gradient(90deg,#40ffb7,#40ffb7,#40ffb7,#40ffb7,#40ffb7,#40ffb7,#40ffb7,#40ffb7,#40ffb7,#43ffb4,#43ffb4,#43ffb4,#43ffb4,#46ffb1,#49ffad,#49ffad,#4dffaa,#50ffa7,#50ffa7,#50ffa7,#50ffa7,#50ffa7,#50ffa7,#4dffaa,#49ffad,#49ffad,#46ffb1,#46ffb1,#43ffb4,#43ffb4,#43ffb4,#40ffb7,#40ffb7)"></i>
<i style="background:linear-gradient(90deg,#30ffc7,#30ffc7,#30ffc7,#30ffc7,#30ffc7,#30ffc7,#30ffc7,#30ffc7,#30ffc7,#30ffc7,#30ffc7,#30ffc7,#30ffc7,#33ffc4,#33ffc4,#33ffc4,#36ffc1,#36ffc1,#36ffc1,#39ffbe,#39ffbe,#36ffc1,#36ffc1,#36ffc1,#33ffc4,#33ffc4,#33ffc4,#33ffc4,#30ffc7,#30ffc7,#30ffc7,#30ffc7,#30ffc7)"></i>
<i style="background:linear-gradient(90deg,#1cffdb,#1cffdb,#1cffdb,#1cffdb,#1cffdb,#1cffdb,#1cffdb,#1cffdb,#1cffdb,#1cffdb,#1cffdb,#1cffdb,#1cffdb,#1fffd7,#1fffd7,#1fffd7,#1fffd7,#1fffd7,#1fffd7,#1fffd7,#1fffd7,#1fffd7,#1fffd7,#1fffd7,#1fffd7,#1fffd7,#1fffd7,#1cffdb,#1cffdb,#1cffdb,#1cffdb,#1cffdb,#1cffdb)"></i>
<i style="background:linear-gradient(90deg,#0cf5eb,#0cf5eb,#0cf5eb,#0cf5eb,#0cf5eb,#0cf5eb,#0cf5eb,#0cf5eb,#0cf5eb,#0cf5eb,#0cf5eb,#0cf5eb,#0cf5eb,#0cf5eb,#0cf5eb,#0cf5eb,#0cf5eb,#0cf5eb,#0cf5eb,#0cf5eb,#0cf5eb,#0cf5eb,#0cf5eb,#0cf5eb,#0cf5eb,#0cf5eb,#0cf5eb,#0cf5eb,#0cf5eb,#0cf5eb,#0cf5eb,#0cf5eb,#0cf5eb)"></i>
<i style="background:linear-gradient(90deg,#00e1fb,#00e1fb,#00e1fb,#00e1fb,#00e1fb,#00e1fb,#00e1fb,#00e1fb,#00e1fb,#00e1fb,#00e1fb,#00e1fb,#00e1fb,#00e1fb,#00e1fb,#00e1fb,#00e1fb,#00e1fb,#00e1fb,#00e1fb,#00e1fb,#00e1fb,#00e1fb,#00e1fb,#00e1fb,#00e1fb,#00e1fb,#00e1fb,#00e1fb,#00e1fb,#00e1fb,#00e1fb,#00e1fb)"></i>
<i style="background:linear-gradient(90deg,#00d1ff,#00d1ff,#00d1ff,#00d1ff,#00d1ff,#00d1ff,#00d1ff,#00d1ff,#00d1ff,#00d1ff,#00d1ff,#00d1ff,#00d1ff,#00d1ff,#00d1ff,#00d1ff,#00d1ff,#00d1ff,#00d1ff,#00d1ff,#00d1ff,#00d1ff,#00d1ff,#00d1ff,#00d1ff,#00d1ff,#00d1ff,#00d1ff,#00d1ff,#00d1ff,#00d1ff,#00d1ff,#00d1ff)"></i>
<i style="background:linear-gradient(90deg,#00c5ff,#00c5ff,#00c5ff,#00c5ff,#00c5ff,#00c5ff,#00c5ff,#00c5ff,#00c5ff,#00c5ff,#00c5ff,#00c5ff,#00c5ff,#00c5ff,#00c5ff,#00c5ff,#00c5ff,#00c5ff,#00c5ff,#00c5ff,#00c5ff,#00c5ff,#00c5ff,#00c5ff,#00c5ff,#00c5ff,#00c5ff,#00c5ff,#00c5ff,#00c5ff,#00c5ff,#00c5ff,#00c5ff)"></i>
<i style="background:linear-gradient(90deg,#00b9ff,#00b9ff,#00b9ff,#00b9ff,#00b9ff,#00b9ff,#00b9ff,#00b9ff,#00b9ff,#00b9ff,#00b9ff,#00b9ff,#00b9ff,#00b9ff,#00b9ff,#00b9ff,#00b9ff,#00b9ff,#00b9ff,#00b9ff,#00b9ff,#00b9ff,#00b9ff,#00b9ff,#00b9ff,#00b9ff,#00b9ff,#00b9ff,#00b9ff,#00b9ff,#00b9ff,#00b9ff,#00b9ff)"></i>
<i style="background:linear-gradient(90deg,#00b1ff,#00b1ff,#00b1ff,#00b1ff,#00b1ff,#00b1ff,#00b1ff,#00b1ff,#00b1ff,#00b1ff,#00b1ff,#00b1ff,#00b1ff,#00b1ff,#00b1ff,#00b1ff,#00b1ff,#00b1ff,#00b1ff,#00b1ff,#00b1ff,#00b1ff,#00b1ff,#00b1ff,#00b1ff,#00b1ff,#00b1ff,#00b1ff,#00b1ff,#00b1ff,#00b1ff,#00b1ff,#00b1ff)"></i>
<i></i>
<i></i>
</div>
<div class="p" style="left:193.4px;top:117.2px">
<i></i>
<i style="background:linear-gradient(90deg,#ffb900,#ffb900,#ffb900,#ffb600,#ffb600,#ffa700,#ff9400,#ff8900,#ff8900,#ff8d00,#ff9100,#ff9100,#ff9800,#ff9c00,#ffa700,#ffae00,#ffae00,#ffab00,#ffab00,#ffae00,#ffb600,#ffb900,#ffb900,#ffbd00,#ffbd00,#ffc100,#ffc100,#ffc100,#ffc100,#ffc100,#ffc100,#ffbd00,#ffb900)"></i>
<i style="background:linear-gradient(90deg,#ffb200,#ffae00,#ffae00,#ffab00,#ffa700,#ff9100,#ff7300,#ff6000,#ff6400,#ff6c00,#ff7300,#ff7700,#ff7e00,#ff8600,#ff9400,#ff9f00,#ff9f00,#ff9f00,#ff9f00,#ff9f00,#ffa700,#ffae00,#ffb200,#ffb600,#ffb600,#ffb900,#ffb900,#ffb900,#ffbd00,#ffbd00,#ffb900,#ffb600,#ffb200)"></i>
<i style="background:linear-gradient(90deg,#ffa300,#ffa300,#ff9f00,#ff9f00,#ff9800,#ff7300,#ff3f00,#ff2500,#ff2d00,#ff3f00,#ff4e00,#ff5200,#ff5d00,#ff6400,#ff8200,#ff9400,#ff9400,#ff9100,#ff9100,#ff9400,#ff9c00,#ffa700,#ffa700,#ffab00,#ffae00,#ffb200,#ffb200,#ffb200,#ffb600,#ffb600,#ffb600,#ffab00,#ffa300)"></i>
<i style="background:linear-gradient(90deg,#ff9400,#ff9100,#ff9100,#ff9100,#ff8900,#ff5900,#ff1a00,#da0000,#e80000,#ff1600,#ff2500,#ff2900,#ff3400,#ff3f00,#ff6c00,#ff8600,#ff8600,#ff8600,#ff8600,#ff8900,#ff9100,#ff9800,#ff9800,#ff9c00,#ff9f00,#ffa700,#ffa700,#ffab00,#ffab00,#ffae00,#ffab00,#ff9c00,#ff9400)"></i>
<i style="background:linear-gradient(90deg,#ff7a00,#ff7a00,#ff7a00,#ff7a00,#ff7300,#ff4700,#f60b00,#c80000,#d60000,#ed0400,#fa0f00,#ff1600,#ff1e00,#ff2d00,#ff5d00,#ff7700,#ff7700,#ff7a00,#ff7a00,#ff7a00,#ff7e00,#ff8200,#ff8200,#ff8600,#ff8600,#ff8600,#ff8600,#ff8900,#ff9100,#ff9400,#ff9100,#ff8600,#ff7a00)"></i>
<i style="background:linear-gradient(90deg,#ff6800,#ff6800,#ff6800,#ff6800,#ff6000,#ff3400,#e40000,#bf0000,#c80000,#e80000,#fa0f00,#ff1600,#ff2200,#ff2d00,#ff5500,#ff6c00,#ff6f00,#ff6f00,#ff6f00,#ff6f00,#ff6f00,#ff7300,#ff7300,#ff6c00,#ff6400,#ff5d00,#ff5900,#ff6000,#ff6c00,#ff6f00,#ff6f00,#ff6c00,#ff6800)"></i>
<i style="background:linear-gradient(90deg,#ff5500,#ff5900,#ff5900,#ff5900,#ff5500,#ff2900,#da0000,#b60000,#c40000,#e40000,#fa0f00,#ff1a00,#ff2d00,#ff3800,#ff5900,#ff6c00,#ff6c00,#ff6c00,#ff6c00,#ff6c00,#ff6800,#ff6400,#ff6400,#ff5900,#ff4a00,#ff3f00,#ff3b00,#ff4700,#ff5200,#ff5d00,#ff5d00,#ff5900,#ff5500)"></i>
<i style="background:linear-gradient(90deg,#ff4a00,#ff4a00,#ff4e00,#ff5200,#ff4a00,#ff2500,#d60000,#b60000,#c40000,#e40000,#fa0f00,#ff1e00,#ff3b00,#ff4700,#ff6000,#ff6c00,#ff6f00,#ff6f00,#ff7300,#ff6f00,#ff6400,#ff5900,#ff5500,#ff4a00,#ff3800,#ff2500,#ff2200,#ff2d00,#ff3f00,#ff4a00,#ff4a00,#ff4a00,#ff4a00)"></i>
<i style="background:linear-gradient(90deg,#ff3f00,#ff4300,#ff4300,#ff4700,#ff4300,#ff1e00,#d60000,#b60000,#c40000,#e40000,#fa0f00,#ff2500,#ff4e00,#ff5900,#ff6c00,#ff7300,#ff7700,#ff7a00,#ff7e00,#ff7700,#ff6800,#ff5900,#ff5500,#ff4700,#ff3000,#ff1e00,#ff1a00,#ff2500,#ff3400,#ff3f00,#ff3f00,#ff3f00,#ff3f00)"></i>
<i style="background:linear-gradient(90deg,#ff3b00,#ff3b00,#ff3f00,#ff4300,#ff3b00,#ff1e00,#da0000,#bb0000,#c80000,#ed0400,#ff1600,#ff3000,#ff6400,#ff6f00,#ff7700,#ff7e00,#ff8200,#ff8600,#ff8900,#ff8200,#ff6f00,#ff5900,#ff5500,#ff4700,#ff2d00,#ff1a00,#ff1600,#ff2200,#ff3000,#ff3b00,#ff3b00,#ff3b00,#ff3b00)"></i>
<i style="background:linear-gradient(90deg,#ff3b00,#ff3b00,#ff3b00,#ff3f00,#ff3b00,#ff1e00,#da0000,#c40000,#d10000,#fa0f00,#ff2500,#ff3f00,#ff7700,#ff8200,#ff8600,#ff8900,#ff8d00,#ff9100,#ff9400,#ff8d00,#ff7300,#ff5d00,#ff5500,#ff4300,#ff2d00,#ff1a00,#ff1300,#ff1e00,#ff3000,#ff3b00,#ff3b00,#ff3b00,#ff3b00)"></i>
<i style="background:linear-gradient(90deg,#ff3800,#ff3b00,#ff3b00,#ff3b00,#ff3b00,#ff1e00,#e40000,#cd0000,#df0000,#ff1e00,#ff3400,#ff5200,#ff8d00,#ff9400,#ff9800,#ff9800,#ff9c00,#ff9f00,#ffa300,#ff9c00,#ff7a00,#ff5d00,#ff5500,#ff4300,#ff2d00,#ff1600,#ff1300,#ff1e00,#ff3000,#ff3b00,#ff3b00,#ff3b00,#ff3800)"></i>
<i style="background:linear-gradient(90deg,#ff3800,#ff3800,#ff3b00,#ff3f00,#ff3b00,#ff2500,#f10800,#df0000,#f10800,#ff2d00,#ff4700,#ff6400,#ff9f00,#ffa700,#ffa700,#ffa700,#ffab00,#ffb200,#ffb600,#ffab00,#ff8600,#ff6000,#ff5500,#ff4700,#ff2d00,#ff1600,#ff1300,#ff1e00,#ff3000,#ff3b00,#ff3b00,#ff3b00,#ff3800)"></i>
<i style="background:linear-gradient(90deg,#ff3800,#ff3800,#ff3f00,#ff4300,#ff4300,#ff3000,#ff1a00,#f60b00,#ff1a00,#ff3f00,#ff5d00,#ff7700,#ffae00,#ffb900,#ffb900,#ffb900,#ffbd00,#ffc100,#ffc400,#ffb900,#ff9400,#ff6f00,#ff6400,#ff5200,#ff3400,#ff1a00,#ff1600,#ff2200,#ff3000,#ff3b00,#ff3b00,#ff3800,#ff3800)"></i>
<i style="background:linear-gradient(90deg,#ff3b00,#ff3f00,#ff4700,#ff4a00,#ff4a00,#ff3b00,#ff2900,#ff2200,#ff3000,#ff5900,#ff7300,#ff8d00,#ffc100,#ffc800,#ffcc00,#ffcc00,#ffd000,#ffd000,#ffd300,#ffc800,#ffa700,#ff8600,#ff7a00,#ff6400,#ff4300,#ff2900,#ff2200,#ff2d00,#ff3800,#ff4300,#ff4300,#ff3f00,#ff3b00)"></i>
<i style="background:linear-gradient(90deg,#ff5200,#ff5200,#ff5500,#ff5900,#ff5900,#ff4e00,#ff4300,#ff3b00,#ff4a00,#ff7300,#ff8d00,#ffa300,#ffd000,#ffd700,#ffdb00,#ffde00,#ffde00,#ffe200,#ffe200,#ffd700,#ffb900,#ff9c00,#ff9400,#ff7e00,#ff5900,#ff3b00,#ff3800,#ff3f00,#ff4a00,#ff5200,#ff5200,#ff5200,#ff5200)"></i>
<i style="background:linear-gradient(90deg,#ff6c00,#ff6f00,#ff7300,#ff7700,#ff7700,#ff6f00,#ff6000,#ff5d00,#ff6c00,#ff9100,#ffab00,#ffbd00,#ffde00,#ffe600,#ffea00,#feed00,#feed00,#feed00,#feed00,#ffe600,#ffd000,#ffb900,#ffb200,#ff9c00,#ff7700,#ff5900,#ff5200,#ff5900,#ff6000,#ff6800,#ff6800,#ff6c00,#ff6c00)"></i>
<i style="background:linear-gradient(90deg,#ff9100,#ff9400,#ff9800,#ff9800,#ff9800,#ff9400,#ff8900,#ff8600,#ff9100,#ffb200,#ffc400,#ffd300,#feed00,#fbf100,#f8f500,#f4f802,#f4f802,#f4f802,#f4f802,#f8f500,#ffe200,#ffd300,#ffcc00,#ffb900,#ff9800,#ff7a00,#ff7700,#ff7a00,#ff8600,#ff8900,#ff8d00,#ff9100,#ff9100)"></i>
<i style="background:linear-gradient(90deg,#ffbd00,#ffc100,#ffc100,#ffc400,#ffc400,#ffbd00,#ffb600,#ffae00,#ffb900,#ffd000,#ffde00,#ffe600,#f4f802,#f1fc06,#eeff09,#ebff0c,#ebff0c,#eeff09,#eeff09,#f1fc06,#fbf100,#ffe600,#ffe200,#ffd300,#ffb900,#ffa700,#ff9f00,#ffa700,#ffae00,#ffb200,#ffb600,#ffb900,#ffbd00)"></i>
<i style="background:linear-gradient(90deg,#ffe200,#ffe200,#ffe600,#ffe600,#ffe600,#ffe200,#ffdb00,#ffd700,#ffde00,#ffea00,#f8f500,#f4f802,#e7ff0f,#e7ff0f,#e4ff13,#e1ff16,#e1ff16,#e4ff13,#e4ff13,#e7ff0f,#eeff09,#f1fc06,#f4f802,#feed00,#ffdb00,#ffd000,#ffcc00,#ffd000,#ffd300,#ffd700,#ffd700,#ffde00,#ffe200)"></i>
<i style="background:linear-gradient(90deg,#eeff09,#eeff09,#ebff0c,#ebff0c,#eeff09,#f1fc06,#f4f802,#f8f500,#f4f802,#eeff09,#e7ff0f,#e4ff13,#deff19,#deff19,#d7ff1f,#d7ff1f,#d7ff1f,#d7ff1f,#d7ff1f,#dbff1c,#deff19,#e1ff16,#e1ff16,#ebff0c,#f4f802,#feed00,#ffea00,#feed00,#f8f500,#f4f802,#f4f802,#eeff09,#eeff09)"></i>
<i style="background:linear-gradient(90deg,#d1ff26,#d4ff23,#d4ff23,#d4ff23,#d4ff23,#dbff1c,#deff19,#e1ff16,#deff19,#dbff1c,#d7ff1f,#d4ff23,#d1ff26,#d1ff26,#ceff29,#caff2c,#caff2c,#c7ff30,#c7ff30,#c7ff30,#caff2c,#ceff29,#d1ff26,#d4ff23,#deff19,#e4ff13,#e4ff13,#e1ff16,#deff19,#d7ff1f,#d7ff1f,#d4ff23,#d1ff26)"></i>
<i style="background:linear-gradient(90deg,#b7ff40,#b7ff40,#baff3c,#beff39,#c1ff36,#c4ff33,#caff2c,#ceff29,#caff2c,#c7ff30,#c7ff30,#c4ff33,#c1ff36,#beff39,#beff39,#baff3c,#baff3c,#b7ff40,#b4ff43,#b4ff43,#b7ff40,#baff3c,#baff3c,#beff39,#c4ff33,#c7ff30,#caff2c,#c4ff33,#c1ff36,#beff39,#baff3c,#baff3c,#b7ff40)"></i>
<i style="background:linear-gradient(90deg,#9aff5d,#9dff5a,#a0ff56,#a7ff50,#aaff4d,#adff49,#b7ff40,#baff3c,#baff3c,#b7ff40,#b4ff43,#b1ff46,#adff49,#adff49,#aaff4d,#aaff4d,#a7ff50,#a0ff56,#9dff5a,#9dff5a,#a0ff56,#a4ff53,#a4ff53,#a7ff50,#aaff4d,#adff49,#adff49,#aaff4d,#a4ff53,#a0ff56,#9dff5a,#9dff5a,#9aff5d)"></i>
<i style="background:linear-gradient(90deg,#83ff73,#87ff70,#8dff6a,#90ff66,#94ff63,#9aff5d,#a4ff53,#a7ff50,#a7ff50,#a4ff53,#a0ff56,#9dff5a,#9aff5d,#9aff5d,#9aff5d,#97ff60,#94ff63,#8aff6d,#87ff70,#87ff70,#8aff6d,#8dff6a,#8dff6a,#8dff6a,#90ff66,#90ff66,#90ff66,#8dff6a,#87ff70,#83ff73,#83ff73,#83ff73,#83ff73)"></i>
<i style="background:linear-gradient(90deg,#73ff83,#77ff80,#77ff80,#7aff7d,#7dff7a,#83ff73,#8dff6a,#94ff63,#94ff63,#90ff66,#8dff6a,#8aff6d,#87ff70,#87ff70,#87ff70,#87ff70,#80ff77,#77ff80,#70ff87,#70ff87,#73ff83,#77ff80,#7aff7d,#77ff80,#77ff80,#77ff80,#77ff80,#73ff83,#70ff87,#6dff8a,#6dff8a,#70ff87,#73ff83)"></i>
<i style="background:linear-gradient(90deg,#63ff94,#63ff94,#66ff90,#66ff90,#66ff90,#70ff87,#7aff7d,#7dff7a,#7dff7a,#7aff7d,#7aff7d,#77ff80,#73ff83,#73ff83,#73ff83,#77ff80,#6dff8a,#60ff97,#5aff9d,#5aff9d,#60ff97,#63ff94,#63ff94,#63ff94,#60ff97,#5dff9a,#5dff9a,#5dff9a,#56ffa0,#56ffa0,#56ffa0,#60ff97,#63ff94)"></i>
<i style="background:linear-gradient(90deg,#53ffa4,#53ffa4,#53ffa4,#53ffa4,#56ffa0,#5dff9a,#63ff94,#6aff8d,#66ff90,#66ff90,#63ff94,#63ff94,#60ff97,#60ff97,#63ff94,#63ff94,#5dff9a,#50ffa7,#46ffb1,#49ffad,#4dffaa,#50ffa7,#53ffa4,#50ffa7,#4dffaa,#49ffad,#49ffad,#46ffb1,#46ffb1,#43ffb4,#46ffb1,#4dffaa,#53ffa4)"></i>
<i style="background:linear-gradient(90deg,#40ffb7,#43ffb4,#43ffb4,#43ffb4,#43ffb4,#49ffad,#50ffa7,#53ffa4,#53ffa4,#50ffa7,#50ffa7,#50ffa7,#4dffaa,#4dffaa,#50ffa7,#50ffa7,#49ffad,#40ffb7,#36ffc1,#39ffbe,#3cffba,#40ffb7,#43ffb4,#40ffb7,#3cffba,#39ffbe,#39ffbe,#39ffbe,#36ffc1,#33ffc4,#36ffc1,#3cffba,#40ffb7)"></i>
<i style="background:linear-gradient(90deg,#33ffc4,#33ffc4,#33ffc4,#33ffc4,#36ffc1,#39ffbe,#3cffba,#40ffb7,#40ffb7,#3cffba,#3cffba,#3cffba,#3cffba,#3cffba,#40ffb7,#40ffb7,#39ffbe,#30ffc7,#29ffce,#2cffca,#30ffc7,#33ffc4,#33ffc4,#30ffc7,#30ffc7,#2cffca,#2cffca,#2cffca,#29ffce,#29ffce,#29ffce,#30ffc7,#33ffc4)"></i>
<i style="background:linear-gradient(90deg,#26ffd1,#26ffd1,#26ffd1,#26ffd1,#26ffd1,#29ffce,#2cffca,#30ffc7,#30ffc7,#30ffc7,#30ffc7,#30ffc7,#2cffca,#2cffca,#30ffc7,#30ffc7,#2cffca,#26ffd1,#1fffd7,#23ffd4,#23ffd4,#26ffd1,#26ffd1,#26ffd1,#23ffd4,#23ffd4,#23ffd4,#23ffd4,#1fffd7,#1fffd7,#1fffd7,#23ffd4,#26ffd1)"></i>
<i style="background:linear-gradient(90deg,#19ffde,#19ffde,#1cffdb,#1cffdb,#1cffdb,#1fffd7,#1fffd7,#23ffd4,#23ffd4,#23ffd4,#23ffd4,#23ffd4,#1fffd7,#1fffd7,#23ffd4,#23ffd4,#1fffd7,#1cffdb,#19ffde,#19ffde,#1cffdb,#1cffdb,#1cffdb,#1cffdb,#1cffdb,#19ffde,#19ffde,#19ffde,#19ffde,#19ffde,#19ffde,#19ffde,#19ffde)"></i>
<i style="background:linear-gradient(90deg,#13fde4,#13fde4,#13fde4,#16ffe1,#16ffe1,#16ffe1,#16ffe1,#19ffde,#19ffde,#19ffde,#1cffdb,#1cffdb,#19ffde,#19ffde,#19ffde,#19ffde,#19ffde,#16ffe1,#16ffe1,#16ffe1,#16ffe1,#16ffe1,#16ffe1,#16ffe1,#13fde4,#13fde4,#13fde4,#13fde4,#13fde4,#13fde4,#13fde4,#13fde4,#13fde4)"></i>
<i style="background:linear-gradient(90deg,#0cf5eb,#0cf5eb,#0cf5eb,#0ff9e7,#0ff9e7,#0ff9e7,#0ff9e7,#0ff9e7,#0ff9e7,#13fde4,#13fde4,#16ffe1,#16ffe1,#16ffe1,#16ffe1,#16ffe1,#16ffe1,#13fde4,#13fde4,#0ff9e7,#0ff9e7,#0ff9e7,#0ff9e7,#0ff9e7,#0ff9e7,#0cf5eb,#0cf5eb,#0cf5eb,#0cf5eb,#0cf5eb,#0cf5eb,#0cf5eb,#0cf5eb)"></i>
<i style="background:linear-gradient(90deg,#06edf1,#06edf1,#09f1ee,#09f1ee,#09f1ee,#09f1ee,#09f1ee,#09f1ee,#0cf5eb,#0cf5eb,#0cf5eb,#0ff9e7,#0ff9e7,#13fde4,#13fde4,#13fde4,#13fde4,#0ff9e7,#0ff9e7,#0cf5eb,#0cf5eb,#0cf5eb,#09f1ee,#09f1ee,#09f1ee,#09f1ee,#09f1ee,#09f1ee,#09f1ee,#09f1ee,#09f1ee,#06edf1,#06edf1)"></i>
<i style="background:linear-gradient(90deg,#02e8f4,#02e8f4,#02e8f4,#02e8f4,#02e8f4,#02e8f4,#02e8f4,#02e8f4,#06edf1,#06edf1,#09f1ee,#09f1ee,#0cf5eb,#0ff9e7,#0ff9e7,#0ff9e7,#0ff9e7,#0cf5eb,#0cf5eb,#09f1ee,#06edf1,#06edf1,#02e8f4,#02e8f4,#02e8f4,#02e8f4,#02e8f4,#02e8f4,#02e8f4,#02e8f4,#02e8f4,#02e8f4,#02e8f4)"></i>
<i style="background:linear-gradient(90deg,#00e1fb,#00e1fb,#00e1fb,#00e1fb,#00e1fb,#00e1fb,#00e1fb,#00e5f8,#00e5f8,#02e8f4,#02e8f4,#06edf1,#09f1ee,#09f1ee,#0cf5eb,#0cf5eb,#0cf5eb,#09f1ee,#09f1ee,#06edf1,#02e8f4,#00e5f8,#00e5f8,#00e1fb,#00e1fb,#00e1fb,#00e1fb,#00e1fb,#00e1fb,#00e1fb,#00e1fb,#00e1fb,#00e1fb)"></i>
<i style="background:linear-gradient(90deg,#00d9ff,#00d9ff,#00d9ff,#00d9ff,#00d9ff,#00ddfe,#00ddfe,#00ddfe,#00e1fb,#00e1fb,#00e5f8,#02e8f4,#06edf1,#09f1ee,#09f1ee,#09f1ee,#09f1ee,#06edf1,#02e8f4,#00e5f8,#00e5f8,#00e1fb,#00ddfe,#00ddfe,#00d9ff,#00d9ff,#00d9ff,#00d9ff,#00d9ff,#00d9ff,#00d9ff,#00d9ff,#00d9ff)"></i>
<i style="background:linear-gradient(90deg,#00d5ff,#00d5ff,#00d5ff,#00d5ff,#00d5ff,#00d5ff,#00d5ff,#00d9ff,#00d9ff,#00ddfe,#00e1fb,#00e5f8,#02e8f4,#06edf1,#06edf1,#06edf1,#06edf1,#02e8f4,#00e5f8,#00e1fb,#00ddfe,#00d9ff,#00d9ff,#00d5ff,#00d5ff,#00d5ff,#00d1ff,#00d1ff,#00d1ff,#00d1ff,#00d5ff,#00d5ff,#00d5ff)"></i>
<i style="background:linear-gradient(90deg,#00cdff,#00cdff,#00cdff,#00cdff,#00cdff,#00cdff,#00d1ff,#00d1ff,#00d5ff,#00d9ff,#00ddfe,#00e1fb,#00e5f8,#02e8f4,#02e8f4,#02e8f4,#02e8f4,#00e5f8,#00e1fb,#00ddfe,#00d9ff,#00d5ff,#00d1ff,#00d1ff,#00cdff,#00cdff,#00cdff,#00cdff,#00cdff,#00cdff,#00cdff,#00cdff,#00cdff)"></i>
<i style="background:linear-gradient(90deg,#00c5ff,#00c5ff,#00c5ff,#00c5ff,#00c5ff,#00c8ff,#00c8ff,#00cdff,#00cdff,#00d1ff,#00d9ff,#00ddfe,#00e1fb,#00e5f8,#00e5f8,#00e5f8,#00e5f8,#00e1fb,#00ddfe,#00d9ff,#00d5ff,#00cdff,#00c8ff,#00c8ff,#00c5ff,#00c5ff,#00c5ff,#00c5ff,#00c5ff,#00c5ff,#00c5ff,#00c5ff,#00c5ff)"></i>
<i style="background:linear-gradient(90deg,#00bdff,#00bdff,#00bdff,#00bdff,#00bdff,#00bdff,#00c1ff,#00c5ff,#00c8ff,#00cdff,#00d1ff,#00d5ff,#00ddfe,#00ddfe,#00e1fb,#00e1fb,#00e1fb,#00ddfe,#00d9ff,#00d1ff,#00cdff,#00c5ff,#00c1ff,#00c1ff,#00bdff,#00bdff,#00b9ff,#00b9ff,#00b9ff,#00bdff,#00bdff,#00bdff,#00bdff)"></i>
<i style="background:linear-gradient(90deg,#00b1ff,#00b1ff,#00b1ff,#00b1ff,#00b1ff,#00b5ff,#00b5ff,#00b9ff,#00c1ff,#00c5ff,#00c8ff,#00d1ff,#00d5ff,#00d9ff,#00ddfe,#00ddfe,#00d9ff,#00d5ff,#00d1ff,#00c8ff,#00c5ff,#00bdff,#00b9ff,#00b5ff,#00b1ff,#00b1ff,#00b1ff,#00b1ff,#00b1ff,#00b1ff,#00b1ff,#00b1ff,#00b1ff)"></i>
<i style="background:linear-gradient(90deg,#00a8ff,#00a8ff,#00a8ff,#00a5ff,#00a8ff,#00a8ff,#00adff,#00b5ff,#00b9ff,#00c1ff,#00c5ff,#00cdff,#00d1ff,#00d5ff,#00d9ff,#00d9ff,#00d5ff,#00d1ff,#00cdff,#00c5ff,#00c1ff,#00b9ff,#00b5ff,#00adff,#00adff,#00a8ff,#00a8ff,#00a8ff,#00a8ff,#00a8ff,#00adff,#00adff,#00a8ff)"></i>
<i style="background:linear-gradient(90deg,#00a5ff,#00a1ff,#00a1ff,#009dff,#00a1ff,#00a1ff,#00a8ff,#00adff,#00b5ff,#00bdff,#00c1ff,#00c8ff,#00cdff,#00d1ff,#00d5ff,#00d5ff,#00d1ff,#00cdff,#00c8ff,#00c1ff,#00bdff,#00b5ff,#00adff,#00a8ff,#00a5ff,#00a1ff,#00a1ff,#00a1ff,#00a5ff,#00a5ff,#00a5ff,#00a5ff,#00a5ff)"></i>
<i style="background:linear-gradient(90deg,#00a1ff,#009dff,#0099ff,#0099ff,#0099ff,#009dff,#00a5ff,#00a8ff,#00b1ff,#00b9ff,#00c1ff,#00c5ff,#00c8ff,#00cdff,#00d1ff,#00d1ff,#00cdff,#00c8ff,#00c5ff,#00bdff,#00b9ff,#00b1ff,#00a8ff,#00a5ff,#00a1ff,#009dff,#009dff,#009dff,#00a1ff,#00a1ff,#00a1ff,#00a1ff,#00a1ff)"></i>
<i style="background:linear-gradient(90deg,#009dff,#009dff,#0099ff,#0099ff,#0099ff,#009dff,#00a1ff,#00a8ff,#00b1ff,#00b5ff,#00bdff,#00c1ff,#00c8ff,#00c8ff,#00cdff,#00cdff,#00c8ff,#00c8ff,#00c1ff,#00bdff,#00b5ff,#00b1ff,#00a8ff,#00a5ff,#00a1ff,#009dff,#009dff,#009dff,#009dff,#00a1ff,#00a1ff,#00a1ff,#009dff)"></i>
<i style="background:linear-gradient(90deg,#00a1ff,#00a1ff,#009dff,#009dff,#009dff,#00a1ff,#00a5ff,#00a8ff,#00b1ff,#00b9ff,#00bdff,#00c1ff,#00c5ff,#00c5ff,#00c8ff,#00c8ff,#00c8ff,#00c5ff,#00b9ff,#00b9ff,#00b5ff,#00b1ff,#00a8ff,#00a5ff,#00a1ff,#00a1ff,#009dff,#00a1ff,#00a1ff,#00a1ff,#00a1ff,#00a1ff,#00a1ff)"></i>
<i style="background:linear-gradient(90deg,#00a8ff,#00a8ff,#00a5ff,#00a5ff,#00a5ff,#00a8ff,#00adff,#00b1ff,#00b5ff,#00bdff,#00c1ff,#00c1ff,#00c1ff,#00c1ff,#00c1ff,#00c5ff,#00c5ff,#00c5ff,#00adff,#00bdff,#00b9ff,#00b5ff,#00b1ff,#00adff,#00a8ff,#00a8ff,#00a5ff,#00a5ff,#00a8ff,#00a8ff,#00a8ff,#00a8ff,#00a8ff)"></i>
<i style="background:linear-gradient(90deg,#00b5ff,#00b1ff,#00b1ff,#00b1ff,#00b1ff,#00b5ff,#00b5ff,#00b9ff,#00bdff,#00c1ff,#00c5ff,#00c1ff,#00bdff,#00b9ff,#00b9ff,#00bdff,#00c5ff,#00c5ff,#00a1ff,#00bdff,#00c1ff,#00bdff,#00b9ff,#00b5ff,#00b5ff,#00b1ff,#00b1ff,#00b1ff,#00b1ff,#00b5ff,#00b5ff,#00b5ff,#00b5ff)"></i>
<i style="background:linear-gradient(90deg,#00c1ff,#00c1ff,#00c1ff,#00c1ff,#00c1ff,#00c1ff,#00c1ff,#00c5ff,#00c8ff,#00c8ff,#00c8ff,#00c8ff,#00c1ff,#00b9ff,#00b5ff,#00bdff,#00c5ff,#00c8ff,#0091ff,#00c1ff,#00c8ff,#00c5ff,#00c5ff,#00c1ff,#00c1ff,#00bdff,#00bdff,#00bdff,#00bdff,#00c1ff,#00c1ff,#00c1ff,#00c1ff)"></i>
<i style="background:linear-gradient(90deg,#00d1ff,#00d1ff,#00d1ff,#00d1ff,#00d1ff,#00d1ff,#00d1ff,#00d5ff,#00d5ff,#00d9ff,#00d9ff,#00d5ff,#00cdff,#00c8ff,#00c5ff,#00cdff,#00d5ff,#00d5ff,#0088ff,#00cdff,#00d9ff,#00d5ff,#00d5ff,#00d1ff,#00d1ff,#00d1ff,#00d1ff,#00d1ff,#00d1ff,#00d1ff,#00d1ff,#00d1ff,#00d1ff)"></i>
<i style="background:linear-gradient(90deg,#00e1fb,#00e1fb,#00e1fb,#00e1fb,#00e1fb,#00e1fb,#00e1fb,#00e5f8,#00e5f8,#00e5f8,#00e5f8,#00e5f8,#00e1fb,#00e1fb,#00e1fb,#00e1fb,#00e5f8,#00e5f8,#008dff,#00d9ff,#00e5f8,#00e5f8,#00e1fb,#00e1fb,#00e1fb,#00e1fb,#00e1fb,#00e1fb,#00e1fb,#00e1fb,#00e1fb,#00e1fb,#00e1fb)"></i>
<i style="background:linear-gradient(90deg,#06edf1,#06edf1,#06edf1,#06edf1,#06edf1,#09f1ee,#09f1ee,#09f1ee,#09f1ee,#09f1ee,#09f1ee,#0cf5eb,#0cf5eb,#0cf5eb,#0cf5eb,#0cf5eb,#0cf5eb,#09f1ee,#00a1ff,#00e5f8,#09f1ee,#09f1ee,#09f1ee,#09f1ee,#06edf1,#06edf1,#06edf1,#06edf1,#06edf1,#06edf1,#06edf1,#06edf1,#06edf1)"></i>
<i style="background:linear-gradient(90deg,#13fde4,#13fde4,#13fde4,#13fde4,#13fde4,#13fde4,#13fde4,#13fde4,#13fde4,#13fde4,#16ffe1,#16ffe1,#16ffe1,#16ffe1,#16ffe1,#16ffe1,#16ffe1,#13fde4,#00c1ff,#0cf5eb,#13fde4,#13fde4,#13fde4,#13fde4,#13fde4,#13fde4,#13fde4,#13fde4,#13fde4,#13fde4,#13fde4,#13fde4,#13fde4)"></i>
<i style="background:linear-gradient(90deg,#1cffdb,#1cffdb,#1cffdb,#1cffdb,#1cffdb,#1cffdb,#1cffdb,#1cffdb,#1cffdb,#1cffdb,#1cffdb,#1fffd7,#1fffd7,#1fffd7,#1fffd7,#1fffd7,#1fffd7,#1cffdb,#00e5f8,#19ffde,#1cffdb,#1cffdb,#1cffdb,#1cffdb,#1cffdb,#1cffdb,#1cffdb,#1cffdb,#1cffdb,#1cffdb,#1cffdb,#1cffdb,#1cffdb)"></i>
<i style="background:linear-gradient(90deg,#26ffd1,#26ffd1,#26ffd1,#26ffd1,#26ffd1,#26ffd1,#26ffd1,#26ffd1,#26ffd1,#26ffd1,#26ffd1,#26ffd1,#26ffd1,#26ffd1,#26ffd1,#26ffd1,#26ffd1,#26ffd1,#16ffe1,#23ffd4,#26ffd1,#26ffd1,#26ffd1,#26ffd1,#26ffd1,#26ffd1,#26ffd1,#26ffd1,#26ffd1,#26ffd1,#26ffd1,#26ffd1,#26ffd1)"></i>
<i style="background:linear-gradient(90deg,#2cffca,#2cffca,#2cffca,#2cffca,#2cffca,#2cffca,#2cffca,#2cffca,#2cffca,#30ffc7,#30ffc7,#30ffc7,#30ffc7,#30ffc7,#30ffc7,#30ffc7,#30ffc7,#30ffc7,#29ffce,#2cffca,#30ffc7,#2cffca,#2cffca,#2cffca,#2cffca,#2cffca,#2cffca,#2cffca,#2cffca,#2cffca,#2cffca,#2cffca,#2cffca)"></i>
<i style="background:linear-gradient(90deg,#36ffc1,#36ffc1,#36ffc1,#36ffc1,#36ffc1,#36ffc1,#36ffc1,#36ffc1,#36ffc1,#36ffc1,#36ffc1,#36ffc1,#36ffc1,#36ffc1,#36ffc1,#36ffc1,#36ffc1,#36ffc1,#33ffc4,#36ffc1,#36ffc1,#36ffc1,#36ffc1,#36ffc1,#36ffc1,#36ffc1,#36ffc1,#36ffc1,#36ffc1,#36ffc1,#36ffc1,#36ffc1,#36ffc1)"></i>
<i style="background:linear-gradient(90deg,#3cffba,#3cffba,#3cffba,#3cffba,#3cffba,#3cffba,#3cffba,#3cffba,#3cffba,#3cffba,#3cffba,#3cffba,#3cffba,#3cffba,#3cffba,#3cffba,#3cffba,#3cffba,#3cffba,#3cffba,#3cffba,#3cffba,#3cffba,#3cffba,#3cffba,#3cffba,#3cffba,#3cffba,#3cffba,#3cffba,#3cffba,#3cffba,#3cffba)"></i>
<i style="background:linear-gradient(90deg,#43ffb4,#43ffb4,#43ffb4,#43ffb4,#43ffb4,#43ffb4,#43ffb4,#43ffb4,#43ffb4,#43ffb4,#43ffb4,#43ffb4,#43ffb4,#43ffb4,#43ffb4,#43ffb4,#43ffb4,#43ffb4,#43ffb4,#43ffb4,#43ffb4,#43ffb4,#43ffb4,#43ffb4,#43ffb4,#43ffb4,#43ffb4,#43ffb4,#43ffb4,#43ffb4,#43ffb4,#43ffb4,#43ffb4)"></i>
<i style="background:linear-gradient(90deg,#46ffb1,#46ffb1,#46ffb1,#46ffb1,#46ffb1,#46ffb1,#46ffb1,#46ffb1,#46ffb1,#46ffb1,#46ffb1,#46ffb1,#46ffb1,#46ffb1,#46ffb1,#46ffb1,#46ffb1,#46ffb1,#46ffb1,#46ffb1,#46ffb1,#46ffb1,#46ffb1,#46ffb1,#46ffb1,#46ffb1,#46ffb1,#46ffb1,#46ffb1,#46ffb1,#46ffb1,#46ffb1,#46ffb1)"></i>
<i style="background:linear-gradient(90deg,#4dffaa,#4dffaa,#4dffaa,#4dffaa,#4dffaa,#4dffaa,#4dffaa,#4dffaa,#4dffaa,#4dffaa,#4dffaa,#4dffaa,#4dffaa,#4dffaa,#4dffaa,#4dffaa,#4dffaa,#4dffaa,#4dffaa,#4dffaa,#4dffaa,#4dffaa,#4dffaa,#4dffaa,#4dffaa,#4dffaa,#4dffaa,#4dffaa,#4dffaa,#4dffaa,#4dffaa,#4dffaa,#4dffaa)"></i>
<i style="background:linear-gradient(90deg,#53ffa4,#53ffa4,#53ffa4,#53ffa4,#53ffa4,#53ffa4,#53ffa4,#53ffa4,#53ffa4,#53ffa4,#53ffa4,#53ffa4,#53ffa4,#53ffa4,#53ffa4,#53ffa4,#53ffa4,#53ffa4,#53ffa4,#53ffa4,#53ffa4,#53ffa4,#53ffa4,#53ffa4,#53ffa4,#53ffa4,#53ffa4,#53ffa4,#53ffa4,#53ffa4,#53ffa4,#53ffa4,#53ffa4)"></i>
<i style="background:linear-gradient(90deg,#5aff9d,#5aff9d,#5aff9d,#5aff9d,#5aff9d,#5aff9d,#5aff9d,#5aff9d,#5aff9d,#5aff9d,#5aff9d,#5aff9d,#5aff9d,#5aff9d,#5aff9d,#5aff9d,#5aff9d,#5aff9d,#5aff9d,#5dff9a,#5dff9a,#5dff9a,#5dff9a,#5dff9a,#5aff9d,#5aff9d,#5aff9d,#5aff9d,#5aff9d,#5aff9d,#5aff9d,#5aff9d,#5aff9d)"></i>
<i style="background:linear-gradient(90deg,#60ff97,#60ff97,#60ff97,#60ff97,#60ff97,#60ff97,#60ff97,#60ff97,#60ff97,#60ff97,#60ff97,#60ff97,#60ff97,#60ff97,#60ff97,#63ff94,#63ff94,#63ff94,#63ff94,#66ff90,#66ff90,#66ff90,#66ff90,#66ff90,#66ff90,#63ff94,#63ff94,#63ff94,#63ff94,#60ff97,#60ff97,#60ff97,#60ff97)"></i>
<i style="background:linear-gradient(90deg,#66ff90,#66ff90,#63ff94,#63ff94,#63ff94,#63ff94,#63ff94,#63ff94,#63ff94,#66ff90,#66ff90,#66ff90,#66ff90,#66ff90,#6aff8d,#6aff8d,#6dff8a,#6dff8a,#70ff87,#70ff87,#70ff87,#70ff87,#70ff87,#70ff87,#70ff87,#70ff87,#6dff8a,#6dff8a,#6aff8d,#6aff8d,#66ff90,#66ff90,#66ff90)"></i>
<i style="background:linear-gradient(90deg,#6aff8d,#6aff8d,#6aff8d,#6aff8d,#66ff90,#66ff90,#66ff90,#66ff90,#6aff8d,#6aff8d,#6aff8d,#6aff8d,#6dff8a,#6dff8a,#70ff87,#70ff87,#73ff83,#77ff80,#7aff7d,#7aff7d,#7aff7d,#7dff7a,#7dff7a,#7aff7d,#7aff7d,#77ff80,#77ff80,#73ff83,#70ff87,#70ff87,#6dff8a,#6dff8a,#6aff8d)"></i>
<i style="background:linear-gradient(90deg,#6dff8a,#6dff8a,#6dff8a,#6aff8d,#6aff8d,#6aff8d,#6aff8d,#6aff8d,#6aff8d,#6dff8a,#6dff8a,#6dff8a,#70ff87,#70ff87,#73ff83,#77ff80,#7aff7d,#7dff7a,#7dff7a,#80ff77,#83ff73,#83ff73,#83ff73,#80ff77,#80ff77,#7dff7a,#7aff7d,#7aff7d,#77ff80,#73ff83,#70ff87,#70ff87,#6dff8a)"></i>
<i style="background:linear-gradient(90deg,#70ff87,#6dff8a,#6dff8a,#6dff8a,#6dff8a,#6dff8a,#6dff8a,#6dff8a,#6dff8a,#6dff8a,#6dff8a,#70ff87,#70ff87,#73ff83,#77ff80,#7aff7d,#7aff7d,#7dff7a,#80ff77,#83ff73,#83ff73,#83ff73,#83ff73,#83ff73,#83ff73,#80ff77,#7dff7a,#7aff7d,#77ff80,#73ff83,#73ff83,#70ff87,#70ff87)"></i>
<i style="background:linear-gradient(90deg,#6dff8a,#6dff8a,#6dff8a,#6dff8a,#6aff8d,#6aff8d,#6aff8d,#6aff8d,#6dff8a,#6dff8a,#6dff8a,#6dff8a,#70ff87,#70ff87,#73ff83,#77ff80,#77ff80,#7aff7d,#7dff7a,#7dff7a,#80ff77,#80ff77,#80ff77,#80ff77,#7dff7a,#7aff7d,#7aff7d,#77ff80,#73ff83,#73ff83,#70ff87,#70ff87,#6dff8a)"></i>
<i style="background:linear-gradient(90deg,#63ff94,#63ff94,#63ff94,#63ff94,#63ff94,#63ff94,#63ff94,#63ff94,#63ff94,#63ff94,#63ff94,#63ff94,#63ff94,#66ff90,#66ff90,#6aff8d,#6aff8d,#6dff8a,#6dff8a,#70ff87,#70ff87,#70ff87,#70ff87,#70ff87,#6dff8a,#6dff8a,#6aff8d,#6aff8d,#6aff8d,#66ff90,#66ff90,#63ff94,#63ff94)"></i>
<i style="background:linear-gradient(90deg,#56ffa0,#56ffa0,#56ffa0,#56ffa0,#56ffa0,#56ffa0,#56ffa0,#56ffa0,#56ffa0,#56ffa0,#56ffa0,#56ffa0,#56ffa0,#56ffa0,#5aff9d,#5aff9d,#5aff9d,#5dff9a,#5dff9a,#5dff9a,#5dff9a,#5dff9a,#5dff9a,#5aff9d,#5aff9d,#5aff9d,#5aff9d,#5aff9d,#5aff9d,#56ffa0,#56ffa0,#56ffa0,#56ffa0)"></i>
<i style="background:linear-gradient(90deg,#49ffad,#49ffad,#49ffad,#49ffad,#49ffad,#49ffad,#49ffad,#49ffad,#49ffad,#49ffad,#49ffad,#49ffad,#49ffad,#49ffad,#49ffad,#49ffad,#4dffaa,#4dffaa,#49ffad,#49ffad,#49ffad,#46ffb1,#46ffb1,#46ffb1,#46ffb1,#46ffb1,#46ffb1,#46ffb1,#49ffad,#49ffad,#49ffad,#49ffad,#49ffad)"></i>
<i style="background:linear-gradient(90deg,#39ffbe,#39ffbe,#39ffbe,#39ffbe,#39ffbe,#39ffbe,#39ffbe,#39ffbe,#39ffbe,#39ffbe,#39ffbe,#3cffba,#3cffba,#3cffba,#3cffba,#3cffba,#39ffbe,#39ffbe,#39ffbe,#36ffc1,#33ffc4,#30ffc7,#2cffca,#29ffce,#29ffce,#2cffca,#30ffc7,#33ffc4,#36ffc1,#36ffc1,#39ffbe,#39ffbe,#39ffbe)"></i>
<i style="background:linear-gradient(90deg,#2cffca,#30ffc7,#30ffc7,#30ffc7,#30ffc7,#30ffc7,#30ffc7,#30ffc7,#30ffc7,#30ffc7,#30ffc7,#30ffc7,#30ffc7,#30ffc7,#30ffc7,#2cffca,#2cffca,#29ffce,#26ffd1,#23ffd4,#1cffdb,#13fde4,#0cf5eb,#09f1ee,#09f1ee,#0cf5eb,#13fde4,#19ffde,#1fffd7,#26ffd1,#29ffce,#2cffca,#2cffca)"></i>
<i style="background:linear-gradient(90deg,#23ffd4,#26ffd1,#26ffd1,#26ffd1,#26ffd1,#26ffd1,#26ffd1,#26ffd1,#26ffd1,#26ffd1,#26ffd1,#26ffd1,#26ffd1,#26ffd1,#26ffd1,#23ffd4,#23ffd4,#1fffd7,#19ffde,#0ff9e7,#06edf1,#00ddfe,#00cdff,#00c5ff,#00c5ff,#00cdff,#00d9ff,#02e8f4,#0ff9e7,#19ffde,#1fffd7,#23ffd4,#23ffd4)"></i>
<i style="background:linear-gradient(90deg,#1cffdb,#1cffdb,#1cffdb,#1cffdb,#1cffdb,#1cffdb,#1cffdb,#1cffdb,#1cffdb,#1cffdb,#1cffdb,#1cffdb,#1cffdb,#1cffdb,#1cffdb,#1cffdb,#19ffde,#13fde4,#0cf5eb,#00e5f8,#00d1ff,#00bdff,#00a8ff,#009dff,#009dff,#00a8ff,#00b9ff,#00d1ff,#00e5f8,#0cf5eb,#13fde4,#19ffde,#1cffdb)"></i>
<i style="background:linear-gradient(90deg,#16ffe1,#19ffde,#19ffde,#19ffde,#19ffde,#19ffde,#19ffde,#19ffde,#19ffde,#19ffde,#19ffde,#19ffde,#19ffde,#19ffde,#19ffde,#16ffe1,#13fde4,#0cf5eb,#02e8f4,#00d9ff,#00c1ff,#00a8ff,#0095ff,#0088ff,#0085ff,#0091ff,#00a8ff,#00c1ff,#00d5ff,#02e8f4,#0cf5eb,#13fde4,#16ffe1)"></i>
<i style="background:linear-gradient(90deg,#13fde4,#13fde4,#16ffe1,#16ffe1,#16ffe1,#16ffe1,#16ffe1,#16ffe1,#16ffe1,#16ffe1,#16ffe1,#16ffe1,#16ffe1,#16ffe1,#13fde4,#13fde4,#0ff9e7,#09f1ee,#00e5f8,#00d5ff,#00c1ff,#00a8ff,#0095ff,#0088ff,#0085ff,#0091ff,#00a5ff,#00bdff,#00d5ff,#00e5f8,#09f1ee,#0ff9e7,#13fde4)"></i>
<i style="background:linear-gradient(90deg,#0ff9e7,#0ff9e7,#13fde4,#13fde4,#13fde4,#13fde4,#13fde4,#13fde4,#13fde4,#13fde4,#13fde4,#13fde4,#13fde4,#13fde4,#0ff9e7,#0ff9e7,#0cf5eb,#09f1ee,#02e8f4,#00d9ff,#00c8ff,#00b5ff,#00a5ff,#009dff,#009dff,#00a5ff,#00b5ff,#00c8ff,#00d9ff,#00e5f8,#09f1ee,#0cf5eb,#0ff9e7)"></i>
<i style="background:linear-gradient(90deg,#0ff9e7,#0ff9e7,#0ff9e7,#0ff9e7,#0ff9e7,#0ff9e7,#0ff9e7,#0ff9e7,#0ff9e7,#0ff9e7,#0ff9e7,#0ff9e7,#0ff9e7,#0ff9e7,#0ff9e7,#0ff9e7,#0cf5eb,#09f1ee,#06edf1,#00e5f8,#00d9ff,#00cdff,#00c1ff,#00b9ff,#00b9ff,#00c1ff,#00c8ff,#00d5ff,#00e1fb,#06edf1,#09f1ee,#0cf5eb,#0ff9e7)"></i>
</div>
<div class="p q" style="left:372.0px;top:117.2px">
<i></i>
<i style="background:linear-gradient(90deg,#fdbd6e 4px,#fed786 0 19px,#fdbd6e 0 22px,#fed786 0 23px,#fdbd6e 0 27px,#fed786 0 40px,#fdbd6e 0 52px,#fed786 0 61px,#ffeba0 0 65px,#fff9bc 0 71px,#f6fbd0 0 83px,#fff9bc 0 89px,#f6fbd0 0 100px,#fff9bc 0 109px,#f6fbd0 0 111px,#fff9bc 0 118px,#ffeba0 0 120px,#fff9bc 0 123px,#f6fbd0 0 130px,#fff9bc 0 137px,#ffeba0 0 161px,#fed786 0 162px,#fdbd6e 0 164px,#fa9e5a 0)"></i>
<i style="background:linear-gradient(90deg,#fed786 3px,#ffeba0 0 7px,#fff9bc 0 17px,#ffeba0 0 22px,#fff9bc 0 24px,#ffeba0 0 26px,#fff9bc 0 39px,#ffeba0 0 52px,#fff9bc 0 66px,#f6fbd0 0 76px,#e4f4f1 0 78px,#f6fbd0 0 83px,#fff9bc 0 88px,#f6fbd0 0 116px,#fff9bc 0 122px,#f6fbd0 0 131px,#fff9bc 0 144px,#ffeba0 0 145px,#fff9bc 0 147px,#ffeba0 0 151px,#fff9bc 0 161px,#ffeba0 0 163px,#fed786 0)"></i>
<i style="background:linear-gradient(90deg,#ffeba0 5px,#fff9bc 0 44px,#f6fbd0 0 49px,#fff9bc 0 51px,#f6fbd0 0 66px,#e4f4f1 0 82px,#f6fbd0 0 90px,#e4f4f1 0 101px,#f6fbd0 0 106px,#e4f4f1 0 108px,#f6fbd0 0 118px,#fff9bc 0 120px,#f6fbd0 0 123px,#e4f4f1 0 125px,#f6fbd0 0 137px,#fff9bc 0 149px,#ffeba0 0 150px,#fff9bc 0 154px,#f6fbd0 0 161px,#fff9bc 0 164px,#ffeba0 0)"></i>
<i style="background:linear-gradient(90deg,#fff9bc 2px,#ffeba0 0 4px,#fff9bc 0 24px,#f6fbd0 0 25px,#fff9bc 0 29px,#f6fbd0 0 31px,#fff9bc 0 39px,#f6fbd0 0 43px,#e4f4f1 0 47px,#f6fbd0 0 51px,#e4f4f1 0 57px,#f6fbd0 0 59px,#e4f4f1 0 62px,#f6fbd0 0 64px,#e4f4f1 0 69px,#c7e7f1 0 76px,#e4f4f1 0 82px,#f6fbd0 0 88px,#e4f4f1 0 90px,#c7e7f1 0 93px,#e4f4f1 0 115px,#f6fbd0 0 122px,#e4f4f1 0 126px,#f6fbd0 0 134px,#e4f4f1 0 136px,#f6fbd0 0 145px,#fff9bc 0 153px,#f6fbd0 0 163px,#fff9bc 0)"></i>
<i style="background:linear-gradient(90deg,#fff9bc 7px,#f6fbd0 0 9px,#fff9bc 0 24px,#f6fbd0 0 34px,#fff9bc 0 39px,#f6fbd0 0 42px,#e4f4f1 0 47px,#f6fbd0 0 48px,#fff9bc 0 50px,#f6fbd0 0 52px,#e4f4f1 0 62px,#f6fbd0 0 64px,#e4f4f1 0 69px,#c7e7f1 0 73px,#a8d6e8 0 74px,#c7e7f1 0 75px,#e4f4f1 0 82px,#f6fbd0 0 88px,#e4f4f1 0 89px,#c7e7f1 0 92px,#e4f4f1 0 99px,#c7e7f1 0 100px,#e4f4f1 0 116px,#f6fbd0 0 119px,#e4f4f1 0 128px,#f6fbd0 0 133px,#e4f4f1 0 137px,#f6fbd0 0 148px,#fff9bc 0 152px,#f6fbd0 0)"></i>
<i style="background:linear-gradient(90deg,#f6fbd0 3px,#fff9bc 0 5px,#f6fbd0 0 17px,#fff9bc 0 23px,#f6fbd0 0 35px,#fff9bc 0 40px,#f6fbd0 0 42px,#e4f4f1 0 46px,#f6fbd0 0 48px,#fff9bc 0 51px,#f6fbd0 0 56px,#e4f4f1 0 63px,#f6fbd0 0 66px,#e4f4f1 0 69px,#c7e7f1 0 75px,#e4f4f1 0 82px,#f6fbd0 0 88px,#e4f4f1 0 104px,#f6fbd0 0 107px,#e4f4f1 0 117px,#f6fbd0 0 122px,#e4f4f1 0 129px,#f6fbd0 0 132px,#e4f4f1 0 137px,#f6fbd0 0 150px,#fff9bc 0 152px,#f6fbd0 0 160px,#e4f4f1 0 162px,#f6fbd0 0)"></i>
<i style="background:linear-gradient(90deg,#f6fbd0 19px,#fff9bc 0 22px,#f6fbd0 0 25px,#e4f4f1 0 33px,#f6fbd0 0 40px,#e4f4f1 0 46px,#f6fbd0 0 50px,#fff9bc 0 54px,#f6fbd0 0 57px,#e4f4f1 0 63px,#f6fbd0 0 66px,#e4f4f1 0 69px,#c7e7f1 0 74px,#e4f4f1 0 80px,#f6fbd0 0 90px,#e4f4f1 0 103px,#f6fbd0 0 107px,#e4f4f1 0 110px,#f6fbd0 0 113px,#e4f4f1 0 117px,#f6fbd0 0 123px,#e4f4f1 0 125px,#c7e7f1 0 126px,#e4f4f1 0 137px,#f6fbd0 0 159px,#e4f4f1 0 163px,#f6fbd0 0)"></i>
<i style="background:linear-gradient(90deg,#e4f4f1 2px,#f6fbd0 0 8px,#e4f4f1 0 17px,#f6fbd0 0 23px,#e4f4f1 0 26px,#c7e7f1 0 32px,#e4f4f1 0 35px,#f6fbd0 0 39px,#e4f4f1 0 50px,#f6fbd0 0 57px,#e4f4f1 0 63px,#f6fbd0 0 66px,#e4f4f1 0 69px,#c7e7f1 0 72px,#e4f4f1 0 80px,#f6fbd0 0 83px,#e4f4f1 0 85px,#f6fbd0 0 89px,#e4f4f1 0 103px,#f6fbd0 0 106px,#e4f4f1 0 110px,#f6fbd0 0 113px,#e4f4f1 0 117px,#f6fbd0 0 118px,#e4f4f1 0 123px,#c7e7f1 0 129px,#e4f4f1 0 134px,#c7e7f1 0 135px,#e4f4f1 0 142px,#f6fbd0 0 148px,#e4f4f1 0 150px,#f6fbd0 0 154px,#e4f4f1 0 156px,#f6fbd0 0 158px,#e4f4f1 0 164px,#f6fbd0 0)"></i>
<i style="background:linear-gradient(90deg,#e4f4f1 9px,#c7e7f1 0 17px,#e4f4f1 0 23px,#c7e7f1 0 34px,#e4f4f1 0 36px,#f6fbd0 0 38px,#e4f4f1 0 46px,#f6fbd0 0 47px,#e4f4f1 0 52px,#f6fbd0 0 58px,#e4f4f1 0 63px,#f6fbd0 0 66px,#e4f4f1 0 73px,#f6fbd0 0 75px,#e4f4f1 0 80px,#f6fbd0 0 83px,#e4f4f1 0 86px,#f6fbd0 0 88px,#e4f4f1 0 91px,#c7e7f1 0 96px,#e4f4f1 0 114px,#c7e7f1 0 116px,#e4f4f1 0 122px,#c7e7f1 0 144px,#e4f4f1 0 154px,#c7e7f1 0 155px,#e4f4f1 0 159px,#c7e7f1 0 164px,#e4f4f1 0)"></i>
<i style="background:linear-gradient(90deg,#c7e7f1 3px,#e4f4f1 0 6px,#c7e7f1 0 18px,#e4f4f1 0 20px,#c7e7f1 0 35px,#e4f4f1 0 39px,#c7e7f1 0 42px,#e4f4f1 0 45px,#f6fbd0 0 48px,#e4f4f1 0 55px,#f6fbd0 0 58px,#e4f4f1 0 63px,#f6fbd0 0 73px,#e4f4f1 0 81px,#f6fbd0 0 82px,#e4f4f1 0 89px,#c7e7f1 0 104px,#e4f4f1 0 106px,#c7e7f1 0 107px,#e4f4f1 0 111px,#c7e7f1 0 116px,#e4f4f1 0 122px,#c7e7f1 0 141px,#a8d6e8 0 143px,#c7e7f1 0 146px,#e4f4f1 0 153px,#c7e7f1 0 159px,#a8d6e8 0 162px,#c7e7f1 0)"></i>
<i style="background:linear-gradient(90deg,#c7e7f1 4px,#e4f4f1 0 6px,#c7e7f1 0 19px,#e4f4f1 0 21px,#c7e7f1 0 35px,#e4f4f1 0 45px,#f6fbd0 0 48px,#e4f4f1 0 55px,#f6fbd0 0 59px,#e4f4f1 0 63px,#f6fbd0 0 73px,#e4f4f1 0 78px,#f6fbd0 0 80px,#e4f4f1 0 88px,#c7e7f1 0 109px,#e4f4f1 0 111px,#c7e7f1 0 116px,#e4f4f1 0 121px,#c7e7f1 0 141px,#a8d6e8 0 144px,#c7e7f1 0 147px,#e4f4f1 0 153px,#c7e7f1 0 159px,#a8d6e8 0 165px,#c7e7f1 0)"></i>
<i style="background:linear-gradient(90deg,#c7e7f1 4px,#e4f4f1 0 7px,#c7e7f1 0 19px,#e4f4f1 0 20px,#c7e7f1 0 33px,#e4f4f1 0 36px,#f6fbd0 0 37px,#e4f4f1 0 42px,#f6fbd0 0 44px,#e4f4f1 0 46px,#f6fbd0 0 47px,#e4f4f1 0 54px,#f6fbd0 0 60px,#e4f4f1 0 63px,#f6fbd0 0 64px,#fff9bc 0 67px,#f6fbd0 0 81px,#e4f4f1 0 85px,#c7e7f1 0 105px,#e4f4f1 0 111px,#c7e7f1 0 117px,#e4f4f1 0 121px,#c7e7f1 0 141px,#a8d6e8 0 144px,#c7e7f1 0 149px,#e4f4f1 0 153px,#c7e7f1 0 160px,#a8d6e8 0 165px,#c7e7f1 0)"></i>
<i style="background:linear-gradient(90deg,#c7e7f1 5px,#e4f4f1 0 7px,#c7e7f1 0 8px,#e4f4f1 0 9px,#c7e7f1 0 10px,#e4f4f1 0 12px,#c7e7f1 0 13px,#e4f4f1 0 20px,#c7e7f1 0 31px,#e4f4f1 0 34px,#f6fbd0 0 43px,#e4f4f1 0 55px,#f6fbd0 0 61px,#e4f4f1 0 62px,#f6fbd0 0 64px,#fff9bc 0 67px,#f6fbd0 0 72px,#fff9bc 0 75px,#f6fbd0 0 82px,#e4f4f1 0 85px,#c7e7f1 0 104px,#e4f4f1 0 111px,#c7e7f1 0 123px,#e4f4f1 0 126px,#c7e7f1 0 142px,#a8d6e8 0 144px,#c7e7f1 0 149px,#e4f4f1 0 157px,#c7e7f1 0)"></i>
<i style="background:linear-gradient(90deg,#c7e7f1 5px,#e4f4f1 0 20px,#c7e7f1 0 31px,#e4f4f1 0 33px,#f6fbd0 0 35px,#fff9bc 0 40px,#f6fbd0 0 42px,#e4f4f1 0 47px,#c7e7f1 0 50px,#e4f4f1 0 56px,#f6fbd0 0 73px,#fff9bc 0 75px,#f6fbd0 0 82px,#e4f4f1 0 86px,#c7e7f1 0 87px,#e4f4f1 0 89px,#c7e7f1 0 90px,#e4f4f1 0 93px,#c7e7f1 0 104px,#e4f4f1 0 112px,#c7e7f1 0 121px,#e4f4f1 0 128px,#c7e7f1 0 136px,#e4f4f1 0 138px,#c7e7f1 0 148px,#e4f4f1 0 150px,#f6fbd0 0 153px,#e4f4f1 0 157px,#c7e7f1 0 161px,#e4f4f1 0 162px,#c7e7f1 0)"></i>
<i style="background:linear-gradient(90deg,#c7e7f1 5px,#e4f4f1 0 8px,#f6fbd0 0 9px,#e4f4f1 0 20px,#c7e7f1 0 30px,#e4f4f1 0 32px,#f6fbd0 0 34px,#fff9bc 0 38px,#ffeba0 0 40px,#fff9bc 0 42px,#f6fbd0 0 43px,#e4f4f1 0 47px,#c7e7f1 0 51px,#e4f4f1 0 52px,#c7e7f1 0 54px,#e4f4f1 0 58px,#f6fbd0 0 81px,#e4f4f1 0 93px,#c7e7f1 0 104px,#e4f4f1 0 112px,#c7e7f1 0 114px,#e4f4f1 0 123px,#f6fbd0 0 125px,#e4f4f1 0 129px,#c7e7f1 0 131px,#e4f4f1 0 142px,#c7e7f1 0 147px,#e4f4f1 0 149px,#f6fbd0 0 154px,#e4f4f1 0 156px,#c7e7f1 0 160px,#e4f4f1 0 162px,#c7e7f1 0)"></i>
<i style="background:linear-gradient(90deg,#c7e7f1 5px,#e4f4f1 0 7px,#f6fbd0 0 12px,#e4f4f1 0 20px,#c7e7f1 0 30px,#e4f4f1 0 32px,#f6fbd0 0 35px,#fff9bc 0 42px,#f6fbd0 0 43px,#e4f4f1 0 45px,#c7e7f1 0 55px,#e4f4f1 0 58px,#f6fbd0 0 78px,#e4f4f1 0 94px,#c7e7f1 0 104px,#e4f4f1 0 123px,#f6fbd0 0 126px,#e4f4f1 0 149px,#f6fbd0 0 154px,#e4f4f1 0 155px,#c7e7f1 0 161px,#e4f4f1 0 162px,#c7e7f1 0)"></i>
<i style="background:linear-gradient(90deg,#c7e7f1 2px,#e4f4f1 0 6px,#f6fbd0 0 12px,#e4f4f1 0 22px,#c7e7f1 0 31px,#e4f4f1 0 34px,#f6fbd0 0 37px,#fff9bc 0 38px,#f6fbd0 0 39px,#fff9bc 0 40px,#f6fbd0 0 43px,#e4f4f1 0 44px,#c7e7f1 0 54px,#e4f4f1 0 59px,#f6fbd0 0 70px,#e4f4f1 0 71px,#f6fbd0 0 77px,#e4f4f1 0 86px,#f6fbd0 0 91px,#e4f4f1 0 122px,#f6fbd0 0 127px,#e4f4f1 0 150px,#f6fbd0 0 154px,#e4f4f1 0 155px,#c7e7f1 0)"></i>
<i style="background:linear-gradient(90deg,#e4f4f1 4px,#f6fbd0 0 9px,#e4f4f1 0 16px,#c7e7f1 0 17px,#e4f4f1 0 23px,#c7e7f1 0 32px,#e4f4f1 0 35px,#f6fbd0 0 41px,#e4f4f1 0 44px,#c7e7f1 0 53px,#e4f4f1 0 59px,#f6fbd0 0 77px,#e4f4f1 0 84px,#f6fbd0 0 87px,#fff9bc 0 90px,#f6fbd0 0 93px,#e4f4f1 0 107px,#f6fbd0 0 109px,#e4f4f1 0 110px,#f6fbd0 0 123px,#fff9bc 0 126px,#f6fbd0 0 129px,#e4f4f1 0 150px,#f6fbd0 0 154px,#e4f4f1 0 156px,#c7e7f1 0)"></i>
<i style="background:linear-gradient(90deg,#e4f4f1 4px,#f6fbd0 0 9px,#e4f4f1 0 13px,#c7e7f1 0 17px,#e4f4f1 0 24px,#c7e7f1 0 34px,#e4f4f1 0 37px,#f6fbd0 0 39px,#e4f4f1 0 44px,#c7e7f1 0 53px,#e4f4f1 0 59px,#f6fbd0 0 64px,#e4f4f1 0 65px,#f6fbd0 0 77px,#e4f4f1 0 79px,#f6fbd0 0 81px,#e4f4f1 0 83px,#f6fbd0 0 86px,#fff9bc 0 90px,#f6fbd0 0 94px,#e4f4f1 0 101px,#f6fbd0 0 102px,#e4f4f1 0 105px,#f6fbd0 0 113px,#fff9bc 0 117px,#f6fbd0 0 120px,#fff9bc 0 124px,#ffeba0 0 125px,#fff9bc 0 128px,#f6fbd0 0 132px,#e4f4f1 0 145px,#c7e7f1 0 147px,#e4f4f1 0 151px,#f6fbd0 0 154px,#e4f4f1 0 156px,#c7e7f1 0 164px,#e4f4f1 0)"></i>
<i style="background:linear-gradient(90deg,#e4f4f1 4px,#f6fbd0 0 10px,#e4f4f1 0 12px,#c7e7f1 0 18px,#e4f4f1 0 25px,#c7e7f1 0 28px,#a8d6e8 0 29px,#c7e7f1 0 34px,#e4f4f1 0 46px,#c7e7f1 0 52px,#e4f4f1 0 60px,#f6fbd0 0 62px,#e4f4f1 0 66px,#f6fbd0 0 86px,#fff9bc 0 89px,#f6fbd0 0 94px,#e4f4f1 0 104px,#f6fbd0 0 112px,#fff9bc 0 120px,#ffeba0 0 127px,#fff9bc 0 130px,#f6fbd0 0 135px,#e4f4f1 0 137px,#f6fbd0 0 138px,#e4f4f1 0 141px,#c7e7f1 0 146px,#e4f4f1 0 157px,#c7e7f1 0 164px,#e4f4f1 0)"></i>
<i style="background:linear-gradient(90deg,#c7e7f1 1px,#e4f4f1 0 4px,#f6fbd0 0 10px,#e4f4f1 0 13px,#c7e7f1 0 18px,#e4f4f1 0 25px,#c7e7f1 0 35px,#e4f4f1 0 46px,#c7e7f1 0 50px,#e4f4f1 0 56px,#f6fbd0 0 61px,#e4f4f1 0 67px,#f6fbd0 0 87px,#fff9bc 0 89px,#f6fbd0 0 94px,#e4f4f1 0 104px,#f6fbd0 0 111px,#fff9bc 0 113px,#ffeba0 0 115px,#fff9bc 0 117px,#ffeba0 0 122px,#fed786 0 125px,#ffeba0 0 128px,#fff9bc 0 131px,#f6fbd0 0 137px,#e4f4f1 0 157px,#c7e7f1 0)"></i>
<i style="background:linear-gradient(90deg,#c7e7f1 2px,#e4f4f1 0 5px,#f6fbd0 0 10px,#e4f4f1 0 13px,#c7e7f1 0 17px,#e4f4f1 0 26px,#c7e7f1 0 35px,#e4f4f1 0 48px,#c7e7f1 0 49px,#e4f4f1 0 56px,#f6fbd0 0 61px,#e4f4f1 0 67px,#f6fbd0 0 87px,#fff9bc 0 88px,#f6fbd0 0 92px,#e4f4f1 0 104px,#f6fbd0 0 111px,#fff9bc 0 117px,#ffeba0 0 128px,#fff9bc 0 131px,#f6fbd0 0 138px,#e4f4f1 0 156px,#c7e7f1 0)"></i>
<i style="background:linear-gradient(90deg,#c7e7f1 3px,#e4f4f1 0 6px,#f6fbd0 0 8px,#e4f4f1 0 27px,#c7e7f1 0 34px,#e4f4f1 0 57px,#f6fbd0 0 61px,#e4f4f1 0 76px,#f6fbd0 0 91px,#e4f4f1 0 104px,#f6fbd0 0 112px,#fff9bc 0 119px,#ffeba0 0 125px,#fff9bc 0 130px,#f6fbd0 0 138px,#e4f4f1 0 156px,#c7e7f1 0)"></i>
<i style="background:linear-gradient(90deg,#c7e7f1 3px,#e4f4f1 0 18px,#c7e7f1 0 20px,#e4f4f1 0 27px,#c7e7f1 0 34px,#e4f4f1 0 41px,#c7e7f1 0 42px,#e4f4f1 0 54px,#f6fbd0 0 60px,#e4f4f1 0 77px,#f6fbd0 0 92px,#e4f4f1 0 100px,#c7e7f1 0 103px,#e4f4f1 0 106px,#f6fbd0 0 108px,#e4f4f1 0 111px,#f6fbd0 0 118px,#fff9bc 0 125px,#f6fbd0 0 136px,#e4f4f1 0 140px,#f6fbd0 0 142px,#e4f4f1 0 149px,#c7e7f1 0 150px,#e4f4f1 0 154px,#c7e7f1 0)"></i>
<i style="background:linear-gradient(90deg,#c7e7f1 3px,#e4f4f1 0 16px,#c7e7f1 0 19px,#e4f4f1 0 27px,#c7e7f1 0 30px,#a8d6e8 0 31px,#c7e7f1 0 34px,#e4f4f1 0 40px,#c7e7f1 0 43px,#e4f4f1 0 54px,#f6fbd0 0 59px,#e4f4f1 0 78px,#f6fbd0 0 83px,#e4f4f1 0 88px,#f6fbd0 0 93px,#e4f4f1 0 100px,#c7e7f1 0 102px,#e4f4f1 0 113px,#f6fbd0 0 114px,#e4f4f1 0 117px,#f6fbd0 0 126px,#e4f4f1 0 127px,#f6fbd0 0 129px,#e4f4f1 0 140px,#f6fbd0 0 142px,#e4f4f1 0 147px,#c7e7f1 0 152px,#e4f4f1 0 154px,#c7e7f1 0)"></i>
<i style="background:linear-gradient(90deg,#c7e7f1 3px,#e4f4f1 0 15px,#c7e7f1 0 17px,#e4f4f1 0 28px,#c7e7f1 0 35px,#e4f4f1 0 37px,#c7e7f1 0 44px,#e4f4f1 0 54px,#f6fbd0 0 59px,#e4f4f1 0 79px,#f6fbd0 0 80px,#e4f4f1 0 81px,#f6fbd0 0 86px,#e4f4f1 0 87px,#f6fbd0 0 94px,#e4f4f1 0 118px,#f6fbd0 0 123px,#e4f4f1 0 147px,#c7e7f1 0)"></i>
<i style="background:linear-gradient(90deg,#c7e7f1 3px,#e4f4f1 0 29px,#c7e7f1 0 44px,#e4f4f1 0 53px,#f6fbd0 0 57px,#e4f4f1 0 79px,#f6fbd0 0 88px,#fff9bc 0 90px,#f6fbd0 0 107px,#e4f4f1 0 114px,#c7e7f1 0 116px,#e4f4f1 0 146px,#c7e7f1 0)"></i>
<i style="background:linear-gradient(90deg,#c7e7f1 3px,#e4f4f1 0 32px,#c7e7f1 0 39px,#e4f4f1 0 51px,#f6fbd0 0 56px,#e4f4f1 0 77px,#f6fbd0 0 83px,#fff9bc 0 92px,#f6fbd0 0 96px,#fff9bc 0 98px,#f6fbd0 0 101px,#fff9bc 0 105px,#f6fbd0 0 108px,#e4f4f1 0 113px,#c7e7f1 0 117px,#e4f4f1 0 147px,#c7e7f1 0)"></i>
<i style="background:linear-gradient(90deg,#c7e7f1 3px,#e4f4f1 0 19px,#f6fbd0 0 21px,#e4f4f1 0 33px,#c7e7f1 0 35px,#e4f4f1 0 36px,#c7e7f1 0 38px,#e4f4f1 0 50px,#f6fbd0 0 57px,#e4f4f1 0 76px,#f6fbd0 0 80px,#fff9bc 0 92px,#f6fbd0 0 96px,#fff9bc 0 99px,#f6fbd0 0 100px,#fff9bc 0 106px,#f6fbd0 0 109px,#e4f4f1 0 113px,#c7e7f1 0 118px,#e4f4f1 0 147px,#c7e7f1 0 156px,#a8d6e8 0 157px,#c7e7f1 0 164px,#a8d6e8 0 165px,#c7e7f1 0)"></i>
<i style="background:linear-gradient(90deg,#c7e7f1 3px,#e4f4f1 0 17px,#f6fbd0 0 27px,#e4f4f1 0 39px,#f6fbd0 0 58px,#e4f4f1 0 60px,#f6fbd0 0 63px,#e4f4f1 0 73px,#f6fbd0 0 74px,#e4f4f1 0 75px,#f6fbd0 0 78px,#fff9bc 0 85px,#ffeba0 0 88px,#fff9bc 0 91px,#f6fbd0 0 101px,#fff9bc 0 107px,#f6fbd0 0 109px,#e4f4f1 0 115px,#c7e7f1 0 117px,#e4f4f1 0 120px,#c7e7f1 0 122px,#e4f4f1 0 147px,#c7e7f1 0 156px,#a8d6e8 0 157px,#c7e7f1 0)"></i>
<i style="background:linear-gradient(90deg,#c7e7f1 2px,#e4f4f1 0 9px,#f6fbd0 0 10px,#e4f4f1 0 19px,#f6fbd0 0 29px,#e4f4f1 0 31px,#f6fbd0 0 34px,#e4f4f1 0 38px,#f6fbd0 0 58px,#e4f4f1 0 59px,#f6fbd0 0 64px,#e4f4f1 0 72px,#f6fbd0 0 77px,#fff9bc 0 81px,#ffeba0 0 87px,#fff9bc 0 91px,#f6fbd0 0 94px,#e4f4f1 0 99px,#f6fbd0 0 102px,#fff9bc 0 107px,#f6fbd0 0 109px,#e4f4f1 0 117px,#c7e7f1 0 122px,#e4f4f1 0 124px,#f6fbd0 0 126px,#e4f4f1 0 135px,#f6fbd0 0 136px,#e4f4f1 0 149px,#c7e7f1 0)"></i>
<i style="background:linear-gradient(90deg,#e4f4f1 6px,#f6fbd0 0 10px,#e4f4f1 0 19px,#f6fbd0 0 34px,#e4f4f1 0 38px,#f6fbd0 0 64px,#e4f4f1 0 72px,#f6fbd0 0 77px,#fff9bc 0 83px,#ffeba0 0 86px,#fff9bc 0 92px,#f6fbd0 0 94px,#e4f4f1 0 101px,#f6fbd0 0 108px,#e4f4f1 0 114px,#f6fbd0 0 115px,#e4f4f1 0 117px,#c7e7f1 0 122px,#e4f4f1 0 123px,#f6fbd0 0 128px,#e4f4f1 0 132px,#f6fbd0 0 137px,#e4f4f1 0 144px,#f6fbd0 0 146px,#e4f4f1 0 149px,#c7e7f1 0 152px,#e4f4f1 0 153px,#c7e7f1 0)"></i>
<i style="background:linear-gradient(90deg,#e4f4f1 6px,#f6fbd0 0 11px,#e4f4f1 0 20px,#f6fbd0 0 41px,#e4f4f1 0 42px,#f6fbd0 0 44px,#fff9bc 0 47px,#f6fbd0 0 54px,#fff9bc 0 56px,#f6fbd0 0 64px,#e4f4f1 0 74px,#f6fbd0 0 79px,#fff9bc 0 87px,#f6fbd0 0 94px,#e4f4f1 0 98px,#c7e7f1 0 99px,#e4f4f1 0 103px,#f6fbd0 0 107px,#e4f4f1 0 117px,#c7e7f1 0 121px,#e4f4f1 0 123px,#f6fbd0 0 129px,#e4f4f1 0 132px,#f6fbd0 0 137px,#e4f4f1 0 144px,#f6fbd0 0 146px,#e4f4f1 0 155px,#c7e7f1 0 165px,#e4f4f1 0)"></i>
<i style="background:linear-gradient(90deg,#e4f4f1 6px,#f6fbd0 0 12px,#e4f4f1 0 20px,#f6fbd0 0 44px,#fff9bc 0 48px,#f6fbd0 0 54px,#fff9bc 0 56px,#f6fbd0 0 67px,#e4f4f1 0 68px,#f6fbd0 0 69px,#e4f4f1 0 73px,#f6fbd0 0 82px,#fff9bc 0 86px,#f6fbd0 0 94px,#e4f4f1 0 98px,#c7e7f1 0 100px,#e4f4f1 0 107px,#f6fbd0 0 109px,#e4f4f1 0 118px,#c7e7f1 0 120px,#e4f4f1 0 122px,#f6fbd0 0 129px,#e4f4f1 0 133px,#f6fbd0 0 137px,#e4f4f1 0 144px,#f6fbd0 0 146px,#e4f4f1 0 156px,#c7e7f1 0 163px,#e4f4f1 0)"></i>
<i style="background:linear-gradient(90deg,#e4f4f1 6px,#f6fbd0 0 15px,#e4f4f1 0 21px,#f6fbd0 0 38px,#fff9bc 0 41px,#f6fbd0 0 44px,#fff9bc 0 48px,#f6fbd0 0 78px,#e4f4f1 0 79px,#f6fbd0 0 87px,#e4f4f1 0 90px,#f6fbd0 0 95px,#e4f4f1 0 97px,#c7e7f1 0 101px,#e4f4f1 0 106px,#f6fbd0 0 110px,#e4f4f1 0 122px,#f6fbd0 0 130px,#e4f4f1 0 133px,#f6fbd0 0 137px,#e4f4f1 0 157px,#c7e7f1 0 159px,#e4f4f1 0)"></i>
<i style="background:linear-gradient(90deg,#e4f4f1 6px,#f6fbd0 0 16px,#e4f4f1 0 21px,#f6fbd0 0 40px,#fff9bc 0 43px,#f6fbd0 0 45px,#fff9bc 0 46px,#f6fbd0 0 49px,#e4f4f1 0 54px,#f6fbd0 0 56px,#fff9bc 0 58px,#f6fbd0 0 77px,#e4f4f1 0 82px,#f6fbd0 0 84px,#e4f4f1 0 93px,#f6fbd0 0 95px,#e4f4f1 0 97px,#c7e7f1 0 102px,#e4f4f1 0 106px,#f6fbd0 0 112px,#e4f4f1 0 116px,#f6fbd0 0 117px,#e4f4f1 0 120px,#f6fbd0 0 137px,#e4f4f1 0)"></i>
<i style="background:linear-gradient(90deg,#e4f4f1 6px,#f6fbd0 0 17px,#e4f4f1 0 19px,#f6fbd0 0 41px,#fff9bc 0 44px,#f6fbd0 0 47px,#e4f4f1 0 56px,#f6fbd0 0 57px,#fff9bc 0 59px,#f6fbd0 0 77px,#e4f4f1 0 87px,#c7e7f1 0 90px,#e4f4f1 0 97px,#c7e7f1 0 103px,#e4f4f1 0 106px,#f6fbd0 0 112px,#e4f4f1 0 116px,#f6fbd0 0 118px,#e4f4f1 0 119px,#f6fbd0 0 123px,#e4f4f1 0 126px,#f6fbd0 0 137px,#e4f4f1 0 140px,#c7e7f1 0 141px,#e4f4f1 0)"></i>
<i style="background:linear-gradient(90deg,#e4f4f1 2px,#f6fbd0 0 5px,#e4f4f1 0 6px,#f6fbd0 0 41px,#fff9bc 0 45px,#f6fbd0 0 47px,#e4f4f1 0 48px,#c7e7f1 0 55px,#e4f4f1 0 57px,#f6fbd0 0 78px,#e4f4f1 0 86px,#c7e7f1 0 91px,#e4f4f1 0 96px,#c7e7f1 0 102px,#e4f4f1 0 106px,#f6fbd0 0 112px,#e4f4f1 0 117px,#f6fbd0 0 123px,#e4f4f1 0 126px,#f6fbd0 0 136px,#e4f4f1 0 137px,#f6fbd0 0 139px,#e4f4f1 0 157px,#f6fbd0 0 162px,#e4f4f1 0)"></i>
<i style="background:linear-gradient(90deg,#e4f4f1 2px,#f6fbd0 0 10px,#fff9bc 0 13px,#f6fbd0 0 41px,#fff9bc 0 45px,#f6fbd0 0 47px,#e4f4f1 0 48px,#c7e7f1 0 56px,#e4f4f1 0 60px,#f6fbd0 0 61px,#e4f4f1 0 62px,#f6fbd0 0 85px,#e4f4f1 0 87px,#c7e7f1 0 102px,#e4f4f1 0 105px,#f6fbd0 0 113px,#e4f4f1 0 118px,#f6fbd0 0 124px,#e4f4f1 0 127px,#f6fbd0 0 135px,#e4f4f1 0 137px,#f6fbd0 0 141px,#e4f4f1 0 154px,#f6fbd0 0 162px,#e4f4f1 0)"></i>
<i style="background:linear-gradient(90deg,#e4f4f1 1px,#f6fbd0 0 10px,#fff9bc 0 13px,#f6fbd0 0 34px,#fff9bc 0 37px,#f6fbd0 0 42px,#fff9bc 0 45px,#f6fbd0 0 46px,#e4f4f1 0 47px,#c7e7f1 0 59px,#e4f4f1 0 62px,#f6fbd0 0 72px,#e4f4f1 0 73px,#f6fbd0 0 77px,#fff9bc 0 79px,#f6fbd0 0 87px,#e4f4f1 0 88px,#c7e7f1 0 102px,#e4f4f1 0 104px,#f6fbd0 0 113px,#e4f4f1 0 119px,#f6fbd0 0 124px,#e4f4f1 0 126px,#f6fbd0 0 128px,#e4f4f1 0 130px,#f6fbd0 0 134px,#e4f4f1 0 137px,#f6fbd0 0 143px,#e4f4f1 0 147px,#f6fbd0 0 150px,#e4f4f1 0 152px,#f6fbd0 0 159px,#fff9bc 0 160px,#f6fbd0 0 162px,#e4f4f1 0)"></i>
<i style="background:linear-gradient(90deg,#f6fbd0 34px,#fff9bc 0 38px,#f6fbd0 0 46px,#e4f4f1 0 47px,#c7e7f1 0 55px,#e4f4f1 0 56px,#c7e7f1 0 59px,#e4f4f1 0 63px,#f6fbd0 0 87px,#e4f4f1 0 88px,#c7e7f1 0 92px,#a8d6e8 0 97px,#c7e7f1 0 102px,#e4f4f1 0 104px,#f6fbd0 0 113px,#e4f4f1 0 119px,#f6fbd0 0 124px,#e4f4f1 0 126px,#f6fbd0 0 129px,#e4f4f1 0 131px,#f6fbd0 0 133px,#e4f4f1 0 140px,#f6fbd0 0 143px,#e4f4f1 0 146px,#f6fbd0 0 157px,#fff9bc 0 160px,#f6fbd0 0)"></i>
<i style="background:linear-gradient(90deg,#f6fbd0 35px,#fff9bc 0 38px,#f6fbd0 0 45px,#e4f4f1 0 47px,#c7e7f1 0 50px,#e4f4f1 0 55px,#c7e7f1 0 56px,#e4f4f1 0 57px,#c7e7f1 0 60px,#e4f4f1 0 64px,#f6fbd0 0 86px,#e4f4f1 0 88px,#c7e7f1 0 91px,#a8d6e8 0 97px,#c7e7f1 0 102px,#e4f4f1 0 103px,#f6fbd0 0 113px,#e4f4f1 0 118px,#f6fbd0 0 121px,#e4f4f1 0 126px,#f6fbd0 0 130px,#e4f4f1 0 132px,#f6fbd0 0 134px,#e4f4f1 0 137px,#f6fbd0 0 138px,#e4f4f1 0 140px,#f6fbd0 0 143px,#e4f4f1 0 148px,#f6fbd0 0 157px,#fff9bc 0 160px,#f6fbd0 0)"></i>
<i style="background:linear-gradient(90deg,#f6fbd0 35px,#fff9bc 0 39px,#f6fbd0 0 45px,#e4f4f1 0 46px,#c7e7f1 0 50px,#e4f4f1 0 62px,#c7e7f1 0 63px,#e4f4f1 0 67px,#f6fbd0 0 80px,#e4f4f1 0 81px,#f6fbd0 0 87px,#e4f4f1 0 88px,#c7e7f1 0 90px,#a8d6e8 0 97px,#c7e7f1 0 101px,#e4f4f1 0 102px,#f6fbd0 0 113px,#e4f4f1 0 117px,#f6fbd0 0 121px,#e4f4f1 0 126px,#f6fbd0 0 128px,#fff9bc 0 129px,#f6fbd0 0 131px,#e4f4f1 0 132px,#f6fbd0 0 138px,#e4f4f1 0 139px,#f6fbd0 0 144px,#e4f4f1 0 149px,#f6fbd0 0 157px,#fff9bc 0 160px,#f6fbd0 0)"></i>
<i style="background:linear-gradient(90deg,#f6fbd0 27px,#fff9bc 0 28px,#f6fbd0 0 35px,#fff9bc 0 41px,#f6fbd0 0 45px,#e4f4f1 0 46px,#c7e7f1 0 52px,#e4f4f1 0 62px,#c7e7f1 0 63px,#e4f4f1 0 67px,#f6fbd0 0 79px,#e4f4f1 0 81px,#f6fbd0 0 88px,#e4f4f1 0 89px,#c7e7f1 0 93px,#a8d6e8 0 97px,#c7e7f1 0 101px,#e4f4f1 0 102px,#f6fbd0 0 108px,#e4f4f1 0 117px,#f6fbd0 0 120px,#e4f4f1 0 125px,#f6fbd0 0 128px,#fff9bc 0 130px,#f6fbd0 0 133px,#e4f4f1 0 134px,#f6fbd0 0 147px,#e4f4f1 0 151px,#f6fbd0 0 157px,#fff9bc 0 160px,#f6fbd0 0)"></i>
<i style="background:linear-gradient(90deg,#f6fbd0 35px,#fff9bc 0 41px,#f6fbd0 0 46px,#e4f4f1 0 47px,#c7e7f1 0 52px,#e4f4f1 0 67px,#f6fbd0 0 79px,#e4f4f1 0 81px,#f6fbd0 0 89px,#e4f4f1 0 90px,#c7e7f1 0 101px,#e4f4f1 0 103px,#f6fbd0 0 107px,#e4f4f1 0 117px,#f6fbd0 0 121px,#e4f4f1 0 125px,#f6fbd0 0 150px,#e4f4f1 0 152px,#f6fbd0 0 157px,#fff9bc 0 160px,#f6fbd0 0)"></i>
<i style="background:linear-gradient(90deg,#f6fbd0 31px,#e4f4f1 0 33px,#f6fbd0 0 35px,#fff9bc 0 42px,#f6fbd0 0 47px,#e4f4f1 0 48px,#c7e7f1 0 53px,#e4f4f1 0 66px,#f6fbd0 0 89px,#e4f4f1 0 92px,#c7e7f1 0 102px,#e4f4f1 0 103px,#f6fbd0 0 107px,#e4f4f1 0 117px,#f6fbd0 0 121px,#e4f4f1 0 125px,#f6fbd0 0 157px,#fff9bc 0 161px,#f6fbd0 0)"></i>
<i style="background:linear-gradient(90deg,#f6fbd0 7px,#fff9bc 0 9px,#f6fbd0 0 31px,#e4f4f1 0 33px,#f6fbd0 0 36px,#fff9bc 0 42px,#f6fbd0 0 47px,#e4f4f1 0 48px,#c7e7f1 0 50px,#a8d6e8 0 52px,#c7e7f1 0 54px,#e4f4f1 0 65px,#f6fbd0 0 87px,#fff9bc 0 88px,#f6fbd0 0 90px,#e4f4f1 0 93px,#c7e7f1 0 102px,#e4f4f1 0 103px,#f6fbd0 0 104px,#e4f4f1 0 117px,#f6fbd0 0 123px,#e4f4f1 0 125px,#f6fbd0 0 142px,#e4f4f1 0 145px,#f6fbd0 0 148px,#e4f4f1 0 149px,#f6fbd0 0 157px,#fff9bc 0 161px,#f6fbd0 0)"></i>
<i style="background:linear-gradient(90deg,#f6fbd0 13px,#e4f4f1 0 16px,#f6fbd0 0 32px,#e4f4f1 0 33px,#f6fbd0 0 36px,#fff9bc 0 41px,#f6fbd0 0 48px,#e4f4f1 0 49px,#c7e7f1 0 50px,#a8d6e8 0 53px,#c7e7f1 0 56px,#e4f4f1 0 65px,#f6fbd0 0 87px,#fff9bc 0 88px,#f6fbd0 0 89px,#e4f4f1 0 93px,#c7e7f1 0 101px,#e4f4f1 0 105px,#c7e7f1 0 106px,#e4f4f1 0 117px,#f6fbd0 0 132px,#e4f4f1 0 133px,#f6fbd0 0 140px,#e4f4f1 0 146px,#f6fbd0 0 148px,#e4f4f1 0 150px,#f6fbd0 0 157px,#fff9bc 0 160px,#f6fbd0 0 163px,#fff9bc 0 165px,#f6fbd0 0)"></i>
<i style="background:linear-gradient(90deg,#f6fbd0 12px,#e4f4f1 0 17px,#f6fbd0 0 19px,#fff9bc 0 20px,#f6fbd0 0 36px,#fff9bc 0 41px,#f6fbd0 0 49px,#e4f4f1 0 50px,#a8d6e8 0 51px,#87bdd9 0 52px,#a8d6e8 0 53px,#c7e7f1 0 56px,#e4f4f1 0 68px,#f6fbd0 0 89px,#e4f4f1 0 94px,#c7e7f1 0 100px,#e4f4f1 0 104px,#c7e7f1 0 106px,#e4f4f1 0 117px,#f6fbd0 0 140px,#e4f4f1 0 145px,#f6fbd0 0 148px,#e4f4f1 0 151px,#f6fbd0 0 157px,#fff9bc 0 159px,#f6fbd0 0 163px,#fff9bc 0 164px,#f6fbd0 0)"></i>
<i style="background:linear-gradient(90deg,#f6fbd0 11px,#e4f4f1 0 17px,#f6fbd0 0 19px,#fff9bc 0 20px,#f6fbd0 0 33px,#e4f4f1 0 34px,#f6fbd0 0 37px,#fff9bc 0 41px,#f6fbd0 0 50px,#c7e7f1 0 51px,#87bdd9 0 52px,#a8d6e8 0 54px,#c7e7f1 0 56px,#e4f4f1 0 60px,#c7e7f1 0 63px,#e4f4f1 0 70px,#f6fbd0 0 90px,#e4f4f1 0 91px,#f6fbd0 0 92px,#e4f4f1 0 95px,#c7e7f1 0 99px,#e4f4f1 0 103px,#c7e7f1 0 105px,#e4f4f1 0 118px,#f6fbd0 0 139px,#e4f4f1 0 145px,#f6fbd0 0 146px,#e4f4f1 0 152px,#f6fbd0 0 157px,#fff9bc 0 159px,#f6fbd0 0)"></i>
<i style="background:linear-gradient(90deg,#f6fbd0 11px,#e4f4f1 0 16px,#f6fbd0 0 33px,#e4f4f1 0 35px,#f6fbd0 0 38px,#fff9bc 0 40px,#f6fbd0 0 50px,#c7e7f1 0 51px,#87bdd9 0 53px,#a8d6e8 0 54px,#c7e7f1 0 56px,#e4f4f1 0 58px,#c7e7f1 0 63px,#e4f4f1 0 71px,#f6fbd0 0 91px,#fff9bc 0 94px,#f6fbd0 0 95px,#e4f4f1 0 96px,#c7e7f1 0 99px,#e4f4f1 0 100px,#f6fbd0 0 101px,#e4f4f1 0 103px,#c7e7f1 0 105px,#e4f4f1 0 120px,#f6fbd0 0 122px,#fff9bc 0 125px,#f6fbd0 0 136px,#e4f4f1 0 139px,#f6fbd0 0 140px,#e4f4f1 0 144px,#f6fbd0 0 146px,#e4f4f1 0 152px,#f6fbd0 0 157px,#fff9bc 0 159px,#f6fbd0 0)"></i>
<i style="background:linear-gradient(90deg,#f6fbd0 14px,#e4f4f1 0 16px,#f6fbd0 0 32px,#e4f4f1 0 35px,#f6fbd0 0 49px,#e4f4f1 0 50px,#a8d6e8 0 51px,#87bdd9 0 53px,#a8d6e8 0 54px,#c7e7f1 0 56px,#e4f4f1 0 58px,#c7e7f1 0 61px,#e4f4f1 0 64px,#f6fbd0 0 65px,#e4f4f1 0 71px,#f6fbd0 0 90px,#fff9bc 0 91px,#ffeba0 0 94px,#fff9bc 0 95px,#f6fbd0 0 96px,#c7e7f1 0 99px,#e4f4f1 0 100px,#f6fbd0 0 101px,#e4f4f1 0 103px,#c7e7f1 0 105px,#e4f4f1 0 119px,#f6fbd0 0 122px,#fff9bc 0 126px,#f6fbd0 0 135px,#e4f4f1 0 139px,#f6fbd0 0 140px,#e4f4f1 0 144px,#f6fbd0 0)"></i>
<i style="background:linear-gradient(90deg,#f6fbd0 24px,#fff9bc 0 25px,#f6fbd0 0 33px,#e4f4f1 0 35px,#f6fbd0 0 48px,#e4f4f1 0 50px,#a8d6e8 0 51px,#87bdd9 0 52px,#a8d6e8 0 54px,#c7e7f1 0 56px,#e4f4f1 0 58px,#c7e7f1 0 60px,#e4f4f1 0 62px,#f6fbd0 0 65px,#e4f4f1 0 71px,#f6fbd0 0 88px,#fff9bc 0 89px,#f6fbd0 0 90px,#fff9bc 0 91px,#ffeba0 0 94px,#fff9bc 0 95px,#f6fbd0 0 96px,#c7e7f1 0 98px,#e4f4f1 0 119px,#f6fbd0 0 122px,#fff9bc 0 130px,#f6fbd0 0 135px,#e4f4f1 0 138px,#f6fbd0 0 141px,#e4f4f1 0 143px,#f6fbd0 0)"></i>
<i style="background:linear-gradient(90deg,#f6fbd0 24px,#fff9bc 0 27px,#f6fbd0 0 48px,#e4f4f1 0 50px,#c7e7f1 0 51px,#a8d6e8 0 54px,#c7e7f1 0 56px,#e4f4f1 0 61px,#f6fbd0 0 63px,#e4f4f1 0 73px,#f6fbd0 0 76px,#fff9bc 0 78px,#f6fbd0 0 92px,#fff9bc 0 94px,#f6fbd0 0 95px,#e4f4f1 0 96px,#c7e7f1 0 98px,#e4f4f1 0 116px,#f6fbd0 0 122px,#fff9bc 0 130px,#f6fbd0 0 136px,#e4f4f1 0 137px,#f6fbd0 0 152px,#e4f4f1 0 153px,#f6fbd0 0)"></i>
<i style="background:linear-gradient(90deg,#f6fbd0 24px,#fff9bc 0 30px,#f6fbd0 0 48px,#e4f4f1 0 50px,#c7e7f1 0 51px,#a8d6e8 0 52px,#c7e7f1 0 56px,#e4f4f1 0 61px,#f6fbd0 0 65px,#e4f4f1 0 74px,#f6fbd0 0 76px,#fff9bc 0 77px,#f6fbd0 0 91px,#e4f4f1 0 95px,#c7e7f1 0 98px,#e4f4f1 0 103px,#f6fbd0 0 104px,#e4f4f1 0 113px,#f6fbd0 0 121px,#fff9bc 0 130px,#f6fbd0 0 145px,#e4f4f1 0 154px,#f6fbd0 0 162px,#fff9bc 0 165px,#f6fbd0 0)"></i>
<i style="background:linear-gradient(90deg,#f6fbd0 24px,#fff9bc 0 32px,#f6fbd0 0 49px,#e4f4f1 0 50px,#c7e7f1 0 58px,#e4f4f1 0 60px,#f6fbd0 0 66px,#e4f4f1 0 74px,#f6fbd0 0 91px,#e4f4f1 0 92px,#c7e7f1 0 96px,#e4f4f1 0 101px,#f6fbd0 0 105px,#e4f4f1 0 113px,#f6fbd0 0 120px,#fff9bc 0 130px,#f6fbd0 0 137px,#e4f4f1 0 138px,#f6fbd0 0 145px,#e4f4f1 0 154px,#f6fbd0 0 158px,#fff9bc 0 159px,#f6fbd0 0 162px,#fff9bc 0 165px,#f6fbd0 0)"></i>
<i style="background:linear-gradient(90deg,#f6fbd0 9px,#fff9bc 0 13px,#f6fbd0 0 19px,#fff9bc 0 20px,#f6fbd0 0 24px,#fff9bc 0 33px,#f6fbd0 0 49px,#e4f4f1 0 50px,#c7e7f1 0 57px,#e4f4f1 0 59px,#f6fbd0 0 66px,#e4f4f1 0 73px,#f6fbd0 0 76px,#fff9bc 0 77px,#f6fbd0 0 88px,#e4f4f1 0 90px,#f6fbd0 0 91px,#e4f4f1 0 96px,#f6fbd0 0 98px,#e4f4f1 0 100px,#f6fbd0 0 105px,#e4f4f1 0 112px,#f6fbd0 0 119px,#fff9bc 0 125px,#ffeba0 0 126px,#fff9bc 0 131px,#f6fbd0 0 140px,#fff9bc 0 143px,#f6fbd0 0 146px,#e4f4f1 0 153px,#f6fbd0 0 157px,#fff9bc 0 163px,#f6fbd0 0)"></i>
<i style="background:linear-gradient(90deg,#f6fbd0 4px,#e4f4f1 0 5px,#f6fbd0 0 9px,#fff9bc 0 14px,#f6fbd0 0 17px,#fff9bc 0 20px,#f6fbd0 0 23px,#fff9bc 0 41px,#f6fbd0 0 42px,#fff9bc 0 44px,#f6fbd0 0 49px,#e4f4f1 0 51px,#c7e7f1 0 57px,#e4f4f1 0 58px,#f6fbd0 0 67px,#e4f4f1 0 71px,#f6fbd0 0 76px,#fff9bc 0 77px,#f6fbd0 0 88px,#e4f4f1 0 89px,#f6fbd0 0 92px,#e4f4f1 0 93px,#f6fbd0 0 105px,#e4f4f1 0 111px,#f6fbd0 0 115px,#fff9bc 0 116px,#f6fbd0 0 119px,#fff9bc 0 125px,#ffeba0 0 126px,#fff9bc 0 132px,#f6fbd0 0 135px,#fff9bc 0 136px,#f6fbd0 0 138px,#fff9bc 0 144px,#f6fbd0 0 147px,#e4f4f1 0 152px,#f6fbd0 0 155px,#fff9bc 0 163px,#f6fbd0 0)"></i>
<i style="background:linear-gradient(90deg,#f6fbd0 3px,#e4f4f1 0 5px,#f6fbd0 0 9px,#fff9bc 0 20px,#f6fbd0 0 23px,#fff9bc 0 46px,#f6fbd0 0 49px,#e4f4f1 0 50px,#c7e7f1 0 54px,#e4f4f1 0 57px,#f6fbd0 0 100px,#fff9bc 0 103px,#f6fbd0 0 109px,#e4f4f1 0 111px,#f6fbd0 0 115px,#fff9bc 0 116px,#f6fbd0 0 118px,#fff9bc 0 121px,#ffeba0 0 122px,#fff9bc 0 147px,#f6fbd0 0 153px,#fff9bc 0 158px,#ffeba0 0 159px,#fff9bc 0 162px,#f6fbd0 0 163px,#e4f4f1 0)"></i>
<i style="background:linear-gradient(90deg,#f6fbd0 9px,#fff9bc 0 20px,#f6fbd0 0 24px,#fff9bc 0 37px,#ffeba0 0 40px,#fff9bc 0 48px,#f6fbd0 0 49px,#e4f4f1 0 50px,#c7e7f1 0 54px,#e4f4f1 0 55px,#f6fbd0 0 99px,#fff9bc 0 104px,#f6fbd0 0 118px,#fff9bc 0 149px,#f6fbd0 0 152px,#fff9bc 0 158px,#ffeba0 0 160px,#fff9bc 0 161px,#f6fbd0 0 163px,#e4f4f1 0 165px,#f6fbd0 0)"></i>
<i style="background:linear-gradient(90deg,#f6fbd0 9px,#fff9bc 0 19px,#f6fbd0 0 24px,#fff9bc 0 32px,#ffeba0 0 34px,#fff9bc 0 39px,#ffeba0 0 40px,#fff9bc 0 48px,#f6fbd0 0 49px,#e4f4f1 0 50px,#c7e7f1 0 53px,#e4f4f1 0 54px,#f6fbd0 0 73px,#e4f4f1 0 75px,#f6fbd0 0 96px,#fff9bc 0 97px,#f6fbd0 0 99px,#fff9bc 0 104px,#f6fbd0 0 115px,#fff9bc 0 116px,#f6fbd0 0 117px,#fff9bc 0 128px,#f6fbd0 0 133px,#fff9bc 0 149px,#f6fbd0 0 152px,#fff9bc 0 161px,#f6fbd0 0 162px,#e4f4f1 0 163px,#f6fbd0 0)"></i>
<i style="background:linear-gradient(90deg,#f6fbd0 10px,#fff9bc 0 19px,#f6fbd0 0 26px,#fff9bc 0 48px,#f6fbd0 0 49px,#c7e7f1 0 52px,#e4f4f1 0 53px,#f6fbd0 0 73px,#e4f4f1 0 75px,#f6fbd0 0 95px,#fff9bc 0 103px,#f6fbd0 0 114px,#fff9bc 0 126px,#f6fbd0 0 134px,#fff9bc 0 143px,#f6fbd0 0 145px,#fff9bc 0 159px,#f6fbd0 0)"></i>
<i style="background:linear-gradient(90deg,#f6fbd0 7px,#e4f4f1 0 9px,#f6fbd0 0 11px,#fff9bc 0 18px,#f6fbd0 0 29px,#fff9bc 0 34px,#f6fbd0 0 38px,#fff9bc 0 47px,#f6fbd0 0 48px,#e4f4f1 0 49px,#c7e7f1 0 52px,#e4f4f1 0 53px,#f6fbd0 0 73px,#e4f4f1 0 74px,#f6fbd0 0 100px,#fff9bc 0 101px,#f6fbd0 0 113px,#fff9bc 0 125px,#f6fbd0 0 135px,#fff9bc 0 142px,#f6fbd0 0 149px,#fff9bc 0 157px,#f6fbd0 0 161px,#fff9bc 0 163px,#f6fbd0 0)"></i>
<i style="background:linear-gradient(90deg,#f6fbd0 6px,#e4f4f1 0 10px,#f6fbd0 0 12px,#fff9bc 0 18px,#f6fbd0 0 39px,#fff9bc 0 45px,#f6fbd0 0 48px,#e4f4f1 0 49px,#c7e7f1 0 51px,#e4f4f1 0 52px,#f6fbd0 0 63px,#e4f4f1 0 64px,#f6fbd0 0 72px,#e4f4f1 0 73px,#f6fbd0 0 113px,#fff9bc 0 125px,#f6fbd0 0 135px,#fff9bc 0 141px,#f6fbd0 0 152px,#fff9bc 0 153px,#f6fbd0 0 159px,#fff9bc 0 163px,#f6fbd0 0)"></i>
<i style="background:linear-gradient(90deg,#f6fbd0 6px,#e4f4f1 0 10px,#f6fbd0 0 13px,#fff9bc 0 14px,#f6fbd0 0 17px,#fff9bc 0 18px,#f6fbd0 0 41px,#fff9bc 0 45px,#f6fbd0 0 48px,#e4f4f1 0 52px,#f6fbd0 0 57px,#fff9bc 0 58px,#f6fbd0 0 64px,#e4f4f1 0 66px,#f6fbd0 0 70px,#e4f4f1 0 76px,#f6fbd0 0 85px,#e4f4f1 0 88px,#f6fbd0 0 113px,#fff9bc 0 125px,#f6fbd0 0 136px,#fff9bc 0 137px,#f6fbd0 0 155px,#fff9bc 0 156px,#f6fbd0 0 159px,#fff9bc 0 162px,#f6fbd0 0)"></i>
<i style="background:linear-gradient(90deg,#e4f4f1 2px,#f6fbd0 0 4px,#e4f4f1 0 11px,#f6fbd0 0 37px,#e4f4f1 0 38px,#f6fbd0 0 42px,#fff9bc 0 46px,#f6fbd0 0 50px,#e4f4f1 0 52px,#f6fbd0 0 57px,#fff9bc 0 58px,#f6fbd0 0 64px,#e4f4f1 0 79px,#f6fbd0 0 84px,#e4f4f1 0 88px,#f6fbd0 0 90px,#e4f4f1 0 92px,#f6fbd0 0 95px,#e4f4f1 0 101px,#f6fbd0 0 105px,#e4f4f1 0 107px,#f6fbd0 0 114px,#fff9bc 0 125px,#f6fbd0 0 129px,#e4f4f1 0 133px,#f6fbd0 0 158px,#fff9bc 0 162px,#f6fbd0 0 165px,#e4f4f1 0)"></i>
<i style="background:linear-gradient(90deg,#e4f4f1 12px,#f6fbd0 0 25px,#e4f4f1 0 39px,#f6fbd0 0 63px,#e4f4f1 0 75px,#c7e7f1 0 77px,#e4f4f1 0 103px,#f6fbd0 0 104px,#e4f4f1 0 111px,#f6fbd0 0 119px,#fff9bc 0 124px,#f6fbd0 0 127px,#e4f4f1 0 133px,#f6fbd0 0 137px,#e4f4f1 0 140px,#f6fbd0 0 145px,#e4f4f1 0 146px,#f6fbd0 0 147px,#e4f4f1 0 150px,#f6fbd0 0 159px,#fff9bc 0 160px,#f6fbd0 0 164px,#e4f4f1 0)"></i>
<i style="background:linear-gradient(90deg,#e4f4f1 39px,#f6fbd0 0 60px,#e4f4f1 0 66px,#c7e7f1 0 79px,#e4f4f1 0 83px,#c7e7f1 0 87px,#e4f4f1 0 96px,#c7e7f1 0 99px,#e4f4f1 0 112px,#f6fbd0 0 121px,#fff9bc 0 123px,#f6fbd0 0 127px,#e4f4f1 0 133px,#f6fbd0 0 135px,#e4f4f1 0 151px,#f6fbd0 0 164px,#e4f4f1 0)"></i>
<i style="background:linear-gradient(90deg,#e4f4f1 5px,#c7e7f1 0 12px,#e4f4f1 0 25px,#c7e7f1 0 28px,#e4f4f1 0 42px,#f6fbd0 0 45px,#e4f4f1 0 48px,#f6fbd0 0 49px,#e4f4f1 0 55px,#f6fbd0 0 58px,#e4f4f1 0 64px,#c7e7f1 0 90px,#e4f4f1 0 92px,#c7e7f1 0 102px,#e4f4f1 0 118px,#f6fbd0 0 128px,#e4f4f1 0 137px,#c7e7f1 0 140px,#e4f4f1 0 144px,#c7e7f1 0 147px,#e4f4f1 0 152px,#f6fbd0 0 162px,#e4f4f1 0)"></i>
<i style="background:linear-gradient(90deg,#c7e7f1 6px,#a8d6e8 0 8px,#c7e7f1 0 30px,#e4f4f1 0 31px,#c7e7f1 0 35px,#e4f4f1 0 62px,#c7e7f1 0 75px,#a8d6e8 0 76px,#c7e7f1 0 84px,#a8d6e8 0 86px,#c7e7f1 0 112px,#e4f4f1 0 120px,#f6fbd0 0 123px,#e4f4f1 0 126px,#f6fbd0 0 128px,#e4f4f1 0 137px,#c7e7f1 0 144px,#a8d6e8 0 146px,#c7e7f1 0 149px,#e4f4f1 0 158px,#f6fbd0 0 160px,#e4f4f1 0 165px,#c7e7f1 0)"></i>
<i style="background:linear-gradient(90deg,#c7e7f1 4px,#a8d6e8 0 12px,#c7e7f1 0 14px,#a8d6e8 0 18px,#c7e7f1 0 23px,#a8d6e8 0 27px,#c7e7f1 0 41px,#e4f4f1 0 49px,#c7e7f1 0 54px,#e4f4f1 0 61px,#c7e7f1 0 73px,#a8d6e8 0 80px,#c7e7f1 0 81px,#a8d6e8 0 87px,#c7e7f1 0 92px,#a8d6e8 0 103px,#c7e7f1 0 108px,#a8d6e8 0 110px,#c7e7f1 0 118px,#e4f4f1 0 131px,#c7e7f1 0 141px,#a8d6e8 0 144px,#87bdd9 0 145px,#a8d6e8 0 148px,#c7e7f1 0 150px,#e4f4f1 0 152px,#c7e7f1 0 153px,#e4f4f1 0 162px,#c7e7f1 0)"></i>
<i style="background:linear-gradient(90deg,#a8d6e8 1px,#c7e7f1 0 2px,#a8d6e8 0 15px,#87bdd9 0 16px,#a8d6e8 0 28px,#c7e7f1 0 32px,#a8d6e8 0 35px,#c7e7f1 0 37px,#a8d6e8 0 41px,#c7e7f1 0 64px,#a8d6e8 0 100px,#87bdd9 0 102px,#a8d6e8 0 111px,#c7e7f1 0 119px,#e4f4f1 0 122px,#c7e7f1 0 139px,#a8d6e8 0 142px,#87bdd9 0 146px,#a8d6e8 0 149px,#c7e7f1 0 165px,#a8d6e8 0)"></i>
<i style="background:linear-gradient(90deg,#a8d6e8 9px,#87bdd9 0 20px,#a8d6e8 0 24px,#87bdd9 0 26px,#a8d6e8 0 43px,#c7e7f1 0 48px,#a8d6e8 0 53px,#c7e7f1 0 63px,#a8d6e8 0 81px,#87bdd9 0 87px,#a8d6e8 0 89px,#87bdd9 0 109px,#a8d6e8 0 113px,#c7e7f1 0 117px,#a8d6e8 0 118px,#c7e7f1 0 126px,#a8d6e8 0 141px,#87bdd9 0 148px,#a8d6e8 0 151px,#c7e7f1 0 153px,#a8d6e8 0 155px,#c7e7f1 0 162px,#a8d6e8 0)"></i>
<i style="background:linear-gradient(90deg,#a8d6e8 2px,#87bdd9 0 28px,#a8d6e8 0 29px,#87bdd9 0 43px,#a8d6e8 0 64px,#87bdd9 0 69px,#a8d6e8 0 70px,#87bdd9 0 73px,#a8d6e8 0 75px,#87bdd9 0 91px,#69a0ca 0 96px,#87bdd9 0 109px,#a8d6e8 0 113px,#c7e7f1 0 124px,#a8d6e8 0 139px,#87bdd9 0 143px,#69a0ca 0 144px,#87bdd9 0 149px,#a8d6e8 0 152px,#c7e7f1 0 156px,#a8d6e8 0 158px,#c7e7f1 0 163px,#a8d6e8 0)"></i>
<i style="background:linear-gradient(90deg,#a8d6e8 1px,#87bdd9 0 16px,#69a0ca 0 19px,#87bdd9 0 32px,#69a0ca 0 37px,#87bdd9 0 39px,#69a0ca 0 41px,#87bdd9 0 80px,#69a0ca 0 97px,#87bdd9 0 100px,#a8d6e8 0 110px,#c7e7f1 0 113px,#e4f4f1 0 123px,#c7e7f1 0 130px,#a8d6e8 0 135px,#87bdd9 0 142px,#69a0ca 0 145px,#87bdd9 0 149px,#a8d6e8 0 152px,#c7e7f1 0 164px,#a8d6e8 0)"></i>
<i style="background:linear-gradient(90deg,#87bdd9 13px,#69a0ca 0 21px,#87bdd9 0 23px,#69a0ca 0 33px,#4d7fb9 0 35px,#69a0ca 0 45px,#87bdd9 0 50px,#69a0ca 0 53px,#87bdd9 0 56px,#69a0ca 0 71px,#87bdd9 0 72px,#69a0ca 0 90px,#4d7fb9 0 93px,#69a0ca 0 96px,#87bdd9 0 98px,#a8d6e8 0 101px,#c7e7f1 0 108px,#e4f4f1 0 111px,#f6fbd0 0 117px,#fff9bc 0 122px,#f6fbd0 0 126px,#e4f4f1 0 130px,#c7e7f1 0 133px,#a8d6e8 0 136px,#87bdd9 0 141px,#69a0ca 0 144px,#87bdd9 0 149px,#a8d6e8 0 153px,#c7e7f1 0 164px,#a8d6e8 0 165px,#87bdd9 0)"></i>
<i style="background:linear-gradient(90deg,#69a0ca 7px,#87bdd9 0 10px,#69a0ca 0 15px,#4d7fb9 0 17px,#69a0ca 0 24px,#4d7fb9 0 26px,#69a0ca 0 28px,#4d7fb9 0 43px,#69a0ca 0 58px,#4d7fb9 0 59px,#69a0ca 0 64px,#4d7fb9 0 69px,#69a0ca 0 81px,#4d7fb9 0 84px,#69a0ca 0 86px,#4d7fb9 0 94px,#69a0ca 0 96px,#87bdd9 0 98px,#a8d6e8 0 100px,#c7e7f1 0 108px,#e4f4f1 0 110px,#f6fbd0 0 112px,#fff9bc 0 124px,#f6fbd0 0 127px,#e4f4f1 0 131px,#c7e7f1 0 133px,#a8d6e8 0 136px,#87bdd9 0 141px,#69a0ca 0 144px,#87bdd9 0 153px,#a8d6e8 0 164px,#87bdd9 0)"></i>
<i style="background:linear-gradient(90deg,#69a0ca 5px,#4d7fb9 0 7px,#69a0ca 0 12px,#4d7fb9 0 32px,#3d5ba7 0 34px,#4d7fb9 0 46px,#69a0ca 0 48px,#4d7fb9 0 53px,#69a0ca 0 56px,#4d7fb9 0 89px,#3d5ba7 0 93px,#4d7fb9 0 95px,#69a0ca 0 98px,#87bdd9 0 100px,#a8d6e8 0 108px,#c7e7f1 0 111px,#e4f4f1 0 126px,#c7e7f1 0 129px,#a8d6e8 0 133px,#87bdd9 0 139px,#69a0ca 0 146px,#87bdd9 0 148px,#69a0ca 0 161px,#87bdd9 0 162px,#69a0ca 0)"></i>
<i style="background:linear-gradient(90deg,#4d7fb9 13px,#3d5ba7 0 18px,#4d7fb9 0 30px,#3d5ba7 0 40px,#4d7fb9 0 59px,#3d5ba7 0 68px,#4d7fb9 0 74px,#3d5ba7 0 78px,#4d7fb9 0 85px,#3d5ba7 0 95px,#4d7fb9 0 98px,#69a0ca 0 108px,#87bdd9 0 116px,#a8d6e8 0 121px,#87bdd9 0 125px,#a8d6e8 0 126px,#87bdd9 0 129px,#69a0ca 0 139px,#4d7fb9 0 142px,#69a0ca 0 154px,#4d7fb9 0)"></i>
<i style="background:linear-gradient(90deg,#3d5ba7 1px,#4d7fb9 0 4px,#3d5ba7 0 8px,#4d7fb9 0 11px,#3d5ba7 0 19px,#4d7fb9 0 20px,#3d5ba7 0 23px,#4d7fb9 0 29px,#3d5ba7 0 42px,#4d7fb9 0 59px,#3d5ba7 0 69px,#4d7fb9 0 71px,#3d5ba7 0 80px,#4d7fb9 0 82px,#3d5ba7 0 96px,#4d7fb9 0 115px,#69a0ca 0 123px,#4d7fb9 0 124px,#69a0ca 0 128px,#4d7fb9 0 146px,#69a0ca 0 149px,#4d7fb9 0 151px,#69a0ca 0 153px,#4d7fb9 0 157px,#3d5ba7 0 160px,#4d7fb9 0 161px,#3d5ba7 0)"></i>
<i></i>
<i></i>
</div>
<div class="p" style="left:14.0px;top:227.4px">
<i></i>
<i></i>
<i></i>
<i></i>
<i style="background:linear-gradient(90deg,#1fffd7,#1fffd7,#23ffd4,#23ffd4,#23ffd4,#23ffd4,#23ffd4,#23ffd4,#23ffd4,#23ffd4,#23ffd4,#23ffd4,#23ffd4,#23ffd4,#23ffd4,#23ffd4,#23ffd4,#23ffd4,#23ffd4,#23ffd4,#23ffd4,#23ffd4,#23ffd4,#23ffd4,#23ffd4,#1fffd7,#1fffd7,#1fffd7,#1fffd7,#1fffd7,#1fffd7,#1fffd7,#1fffd7)"></i>
<i style="background:linear-gradient(90deg,#26ffd1,#26ffd1,#26ffd1,#26ffd1,#29ffce,#29ffce,#29ffce,#29ffce,#29ffce,#29ffce,#29ffce,#29ffce,#29ffce,#29ffce,#29ffce,#29ffce,#29ffce,#29ffce,#2cffca,#2cffca,#2cffca,#2cffca,#2cffca,#29ffce,#29ffce,#26ffd1,#26ffd1,#26ffd1,#26ffd1,#26ffd1,#29ffce,#26ffd1,#26ffd1)"></i>
<i style="background:linear-gradient(90deg,#30ffc7,#30ffc7,#30ffc7,#30ffc7,#33ffc4,#33ffc4,#33ffc4,#33ffc4,#33ffc4,#33ffc4,#33ffc4,#36ffc1,#36ffc1,#36ffc1,#36ffc1,#36ffc1,#36ffc1,#39ffbe,#39ffbe,#39ffbe,#39ffbe,#39ffbe,#39ffbe,#39ffbe,#36ffc1,#33ffc4,#33ffc4,#33ffc4,#33ffc4,#36ffc1,#36ffc1,#33ffc4,#30ffc7)"></i>
<i style="background:linear-gradient(90deg,#3cffba,#3cffba,#3cffba,#3cffba,#3cffba,#3cffba,#3cffba,#3cffba,#40ffb7,#40ffb7,#40ffb7,#43ffb4,#43ffb4,#43ffb4,#46ffb1,#46ffb1,#46ffb1,#46ffb1,#49ffad,#49ffad,#49ffad,#49ffad,#49ffad,#49ffad,#46ffb1,#40ffb7,#40ffb7,#40ffb7,#43ffb4,#43ffb4,#43ffb4,#43ffb4,#3cffba)"></i>
<i style="background:linear-gradient(90deg,#4dffaa,#4dffaa,#4dffaa,#4dffaa,#4dffaa,#4dffaa,#49ffad,#49ffad,#4dffaa,#4dffaa,#50ffa7,#53ffa4,#56ffa0,#56ffa0,#56ffa0,#56ffa0,#56ffa0,#56ffa0,#56ffa0,#56ffa0,#56ffa0,#56ffa0,#56ffa0,#56ffa0,#53ffa4,#50ffa7,#50ffa7,#50ffa7,#53ffa4,#56ffa0,#56ffa0,#53ffa4,#4dffaa)"></i>
<i style="background:linear-gradient(90deg,#63ff94,#63ff94,#60ff97,#60ff97,#60ff97,#5dff9a,#5dff9a,#5dff9a,#5dff9a,#60ff97,#63ff94,#66ff90,#6aff8d,#6aff8d,#6aff8d,#6aff8d,#66ff90,#66ff90,#63ff94,#63ff94,#63ff94,#66ff90,#66ff90,#66ff90,#63ff94,#60ff97,#60ff97,#60ff97,#63ff94,#6aff8d,#6aff8d,#66ff90,#63ff94)"></i>
<i style="background:linear-gradient(90deg,#73ff83,#73ff83,#73ff83,#73ff83,#70ff87,#70ff87,#70ff87,#70ff87,#70ff87,#73ff83,#77ff80,#7aff7d,#7aff7d,#7dff7a,#7dff7a,#7aff7d,#77ff80,#73ff83,#73ff83,#73ff83,#73ff83,#73ff83,#73ff83,#73ff83,#70ff87,#6dff8a,#6aff8d,#6dff8a,#73ff83,#7aff7d,#7dff7a,#7aff7d,#73ff83)"></i>
<i style="background:linear-gradient(90deg,#87ff70,#87ff70,#83ff73,#83ff73,#80ff77,#7dff7a,#7aff7d,#7aff7d,#7dff7a,#80ff77,#83ff73,#8aff6d,#8dff6a,#90ff66,#8dff6a,#8aff6d,#87ff70,#83ff73,#83ff73,#83ff73,#80ff77,#80ff77,#7dff7a,#7dff7a,#7aff7d,#77ff80,#77ff80,#7aff7d,#80ff77,#8aff6d,#8dff6a,#8aff6d,#87ff70)"></i>
<i style="background:linear-gradient(90deg,#97ff60,#94ff63,#94ff63,#8dff6a,#8aff6d,#87ff70,#83ff73,#83ff73,#83ff73,#8aff6d,#90ff66,#97ff60,#9aff5d,#9dff5a,#9dff5a,#9aff5d,#9aff5d,#97ff60,#94ff63,#94ff63,#8dff6a,#8aff6d,#83ff73,#83ff73,#80ff77,#80ff77,#80ff77,#83ff73,#8dff6a,#97ff60,#9aff5d,#9aff5d,#97ff60)"></i>
<i style="background:linear-gradient(90deg,#a0ff56,#a0ff56,#9dff5a,#97ff60,#94ff63,#8dff6a,#8aff6d,#8aff6d,#8aff6d,#90ff66,#97ff60,#9dff5a,#a4ff53,#a7ff50,#a7ff50,#a7ff50,#a4ff53,#a4ff53,#a4ff53,#a0ff56,#9aff5d,#90ff66,#87ff70,#87ff70,#87ff70,#83ff73,#83ff73,#8aff6d,#94ff63,#9dff5a,#a4ff53,#a4ff53,#a0ff56)"></i>
<i style="background:linear-gradient(90deg,#aaff4d,#aaff4d,#a7ff50,#a0ff56,#9aff5d,#94ff63,#90ff66,#8dff6a,#90ff66,#97ff60,#9dff5a,#a4ff53,#aaff4d,#adff49,#adff49,#aaff4d,#aaff4d,#a7ff50,#a7ff50,#a4ff53,#9dff5a,#90ff66,#8aff6d,#8aff6d,#87ff70,#87ff70,#87ff70,#8dff6a,#9aff5d,#a4ff53,#aaff4d,#aaff4d,#aaff4d)"></i>
<i style="background:linear-gradient(90deg,#b4ff43,#b1ff46,#adff49,#a7ff50,#a0ff56,#9dff5a,#97ff60,#94ff63,#97ff60,#9dff5a,#a4ff53,#aaff4d,#adff49,#b1ff46,#b1ff46,#b1ff46,#adff49,#aaff4d,#a7ff50,#a7ff50,#9dff5a,#94ff63,#8dff6a,#8aff6d,#8aff6d,#8aff6d,#8aff6d,#90ff66,#9dff5a,#aaff4d,#b1ff46,#b1ff46,#b4ff43)"></i>
<i style="background:linear-gradient(90deg,#b4ff43,#b4ff43,#b1ff46,#aaff4d,#a7ff50,#a0ff56,#9dff5a,#9dff5a,#9dff5a,#a0ff56,#a7ff50,#adff49,#b1ff46,#b4ff43,#b4ff43,#b1ff46,#adff49,#aaff4d,#aaff4d,#a7ff50,#9dff5a,#94ff63,#8dff6a,#8aff6d,#8aff6d,#8aff6d,#8aff6d,#90ff66,#a0ff56,#adff49,#b4ff43,#b4ff43,#b4ff43)"></i>
<i style="background:linear-gradient(90deg,#b4ff43,#b4ff43,#b1ff46,#adff49,#aaff4d,#a7ff50,#a4ff53,#a4ff53,#a4ff53,#a7ff50,#aaff4d,#adff49,#b1ff46,#b4ff43,#b1ff46,#b1ff46,#adff49,#aaff4d,#aaff4d,#a7ff50,#9dff5a,#94ff63,#8dff6a,#8aff6d,#8aff6d,#8aff6d,#8aff6d,#94ff63,#a0ff56,#adff49,#b4ff43,#b4ff43,#b4ff43)"></i>
<i style="background:linear-gradient(90deg,#b4ff43,#b4ff43,#b1ff46,#adff49,#aaff4d,#a7ff50,#a7ff50,#a4ff53,#a4ff53,#a7ff50,#aaff4d,#aaff4d,#adff49,#adff49,#adff49,#aaff4d,#a7ff50,#a7ff50,#a4ff53,#a0ff56,#9aff5d,#90ff66,#8aff6d,#87ff70,#8aff6d,#8aff6d,#8aff6d,#94ff63,#9dff5a,#aaff4d,#b4ff43,#b4ff43,#b4ff43)"></i>
<i style="background:linear-gradient(90deg,#b4ff43,#b4ff43,#b1ff46,#adff49,#aaff4d,#a7ff50,#a7ff50,#a4ff53,#a4ff53,#a7ff50,#a7ff50,#a7ff50,#a7ff50,#a7ff50,#a7ff50,#a4ff53,#a0ff56,#9aff5d,#9aff5d,#97ff60,#90ff66,#8aff6d,#83ff73,#83ff73,#87ff70,#87ff70,#87ff70,#90ff66,#9dff5a,#aaff4d,#b1ff46,#b1ff46,#b4ff43)"></i>
<i style="background:linear-gradient(90deg,#b1ff46,#b1ff46,#b1ff46,#adff49,#aaff4d,#a7ff50,#a7ff50,#a4ff53,#a4ff53,#a4ff53,#a4ff53,#a0ff56,#a0ff56,#a0ff56,#a0ff56,#9aff5d,#97ff60,#90ff66,#8dff6a,#8dff6a,#8aff6d,#83ff73,#80ff77,#80ff77,#80ff77,#80ff77,#80ff77,#8aff6d,#97ff60,#a7ff50,#adff49,#b1ff46,#b1ff46)"></i>
<i style="background:linear-gradient(90deg,#aaff4d,#aaff4d,#aaff4d,#a7ff50,#a7ff50,#a7ff50,#a4ff53,#a4ff53,#a4ff53,#a0ff56,#9dff5a,#9aff5d,#97ff60,#94ff63,#94ff63,#90ff66,#8dff6a,#87ff70,#87ff70,#83ff73,#80ff77,#7dff7a,#7aff7d,#7aff7d,#7aff7d,#7aff7d,#7aff7d,#80ff77,#90ff66,#9dff5a,#a4ff53,#a7ff50,#aaff4d)"></i>
<i style="background:linear-gradient(90deg,#a0ff56,#a0ff56,#a0ff56,#a0ff56,#a4ff53,#a4ff53,#a4ff53,#a4ff53,#a4ff53,#9dff5a,#97ff60,#90ff66,#8aff6d,#87ff70,#87ff70,#83ff73,#80ff77,#80ff77,#7dff7a,#7dff7a,#7aff7d,#77ff80,#70ff87,#70ff87,#70ff87,#70ff87,#70ff87,#77ff80,#83ff73,#90ff66,#97ff60,#9aff5d,#a0ff56)"></i>
<i style="background:linear-gradient(90deg,#97ff60,#97ff60,#97ff60,#97ff60,#9aff5d,#9aff5d,#9aff5d,#9aff5d,#9aff5d,#94ff63,#8dff6a,#87ff70,#80ff77,#7dff7a,#7dff7a,#7aff7d,#7aff7d,#77ff80,#77ff80,#73ff83,#70ff87,#6dff8a,#6aff8d,#66ff90,#66ff90,#63ff94,#63ff94,#6aff8d,#77ff80,#83ff73,#8aff6d,#90ff66,#97ff60)"></i>
<i style="background:linear-gradient(90deg,#8aff6d,#8aff6d,#8dff6a,#8dff6a,#8dff6a,#8dff6a,#8dff6a,#8dff6a,#8dff6a,#87ff70,#83ff73,#7dff7a,#7aff7d,#77ff80,#77ff80,#73ff83,#70ff87,#6dff8a,#6dff8a,#6aff8d,#66ff90,#60ff97,#5dff9a,#5dff9a,#5aff9d,#56ffa0,#56ffa0,#5dff9a,#6aff8d,#7aff7d,#80ff77,#83ff73,#8aff6d)"></i>
<i style="background:linear-gradient(90deg,#80ff77,#80ff77,#80ff77,#80ff77,#80ff77,#80ff77,#80ff77,#80ff77,#80ff77,#7dff7a,#7aff7d,#77ff80,#73ff83,#70ff87,#70ff87,#6dff8a,#66ff90,#63ff94,#60ff97,#60ff97,#5aff9d,#56ffa0,#50ffa7,#50ffa7,#4dffaa,#49ffad,#49ffad,#50ffa7,#60ff97,#6dff8a,#73ff83,#7aff7d,#80ff77)"></i>
<i style="background:linear-gradient(90deg,#73ff83,#73ff83,#73ff83,#73ff83,#73ff83,#73ff83,#73ff83,#73ff83,#73ff83,#70ff87,#6dff8a,#6dff8a,#6aff8d,#6aff8d,#66ff90,#63ff94,#5dff9a,#56ffa0,#53ffa4,#53ffa4,#50ffa7,#49ffad,#46ffb1,#46ffb1,#43ffb4,#3cffba,#3cffba,#43ffb4,#50ffa7,#60ff97,#66ff90,#6dff8a,#73ff83)"></i>
<i style="background:linear-gradient(90deg,#63ff94,#63ff94,#63ff94,#63ff94,#63ff94,#63ff94,#63ff94,#63ff94,#63ff94,#63ff94,#63ff94,#60ff97,#60ff97,#60ff97,#5dff9a,#5aff9d,#53ffa4,#4dffaa,#49ffad,#49ffad,#46ffb1,#40ffb7,#3cffba,#3cffba,#36ffc1,#33ffc4,#33ffc4,#39ffbe,#46ffb1,#50ffa7,#56ffa0,#5dff9a,#63ff94)"></i>
<i style="background:linear-gradient(90deg,#53ffa4,#53ffa4,#53ffa4,#53ffa4,#53ffa4,#53ffa4,#53ffa4,#53ffa4,#53ffa4,#53ffa4,#53ffa4,#53ffa4,#53ffa4,#50ffa7,#50ffa7,#4dffaa,#46ffb1,#43ffb4,#40ffb7,#40ffb7,#3cffba,#36ffc1,#33ffc4,#33ffc4,#30ffc7,#29ffce,#29ffce,#30ffc7,#39ffbe,#43ffb4,#49ffad,#4dffaa,#53ffa4)"></i>
<i style="background:linear-gradient(90deg,#43ffb4,#43ffb4,#43ffb4,#43ffb4,#43ffb4,#43ffb4,#43ffb4,#43ffb4,#43ffb4,#43ffb4,#43ffb4,#43ffb4,#43ffb4,#43ffb4,#43ffb4,#40ffb7,#3cffba,#39ffbe,#36ffc1,#36ffc1,#33ffc4,#30ffc7,#2cffca,#29ffce,#26ffd1,#23ffd4,#23ffd4,#26ffd1,#30ffc7,#36ffc1,#39ffbe,#3cffba,#43ffb4)"></i>
<i style="background:linear-gradient(90deg,#33ffc4,#33ffc4,#33ffc4,#33ffc4,#33ffc4,#33ffc4,#33ffc4,#33ffc4,#33ffc4,#33ffc4,#33ffc4,#36ffc1,#36ffc1,#36ffc1,#36ffc1,#36ffc1,#33ffc4,#30ffc7,#30ffc7,#30ffc7,#29ffce,#26ffd1,#23ffd4,#23ffd4,#1fffd7,#1cffdb,#1cffdb,#1fffd7,#23ffd4,#29ffce,#2cffca,#30ffc7,#33ffc4)"></i>
<i style="background:linear-gradient(90deg,#26ffd1,#26ffd1,#26ffd1,#26ffd1,#26ffd1,#26ffd1,#23ffd4,#23ffd4,#23ffd4,#26ffd1,#26ffd1,#26ffd1,#29ffce,#29ffce,#29ffce,#29ffce,#29ffce,#29ffce,#29ffce,#26ffd1,#23ffd4,#1fffd7,#1cffdb,#1cffdb,#19ffde,#16ffe1,#16ffe1,#16ffe1,#1cffdb,#1fffd7,#23ffd4,#23ffd4,#26ffd1)"></i>
<i style="background:linear-gradient(90deg,#1cffdb,#1cffdb,#1cffdb,#19ffde,#19ffde,#19ffde,#19ffde,#19ffde,#19ffde,#19ffde,#19ffde,#1cffdb,#1cffdb,#1cffdb,#1cffdb,#1cffdb,#1fffd7,#1fffd7,#1fffd7,#1fffd7,#1cffdb,#1cffdb,#19ffde,#19ffde,#16ffe1,#13fde4,#0ff9e7,#13fde4,#16ffe1,#19ffde,#19ffde,#19ffde,#1cffdb)"></i>
<i style="background:linear-gradient(90deg,#16ffe1,#16ffe1,#16ffe1,#16ffe1,#16ffe1,#16ffe1,#16ffe1,#16ffe1,#16ffe1,#16ffe1,#19ffde,#19ffde,#19ffde,#19ffde,#1cffdb,#19ffde,#19ffde,#19ffde,#19ffde,#19ffde,#1cffdb,#1cffdb,#1cffdb,#1cffdb,#19ffde,#13fde4,#0ff9e7,#0ff9e7,#13fde4,#13fde4,#16ffe1,#16ffe1,#16ffe1)"></i>
<i style="background:linear-gradient(90deg,#19ffde,#19ffde,#1cffdb,#1cffdb,#1cffdb,#1cffdb,#1cffdb,#1fffd7,#1fffd7,#1fffd7,#1fffd7,#1fffd7,#23ffd4,#23ffd4,#23ffd4,#23ffd4,#1fffd7,#1fffd7,#1fffd7,#1fffd7,#1fffd7,#23ffd4,#23ffd4,#23ffd4,#1fffd7,#1cffdb,#1cffdb,#1cffdb,#19ffde,#19ffde,#19ffde,#19ffde,#19ffde)"></i>
<i style="background:linear-gradient(90deg,#26ffd1,#26ffd1,#26ffd1,#26ffd1,#26ffd1,#26ffd1,#29ffce,#29ffce,#29ffce,#29ffce,#29ffce,#29ffce,#29ffce,#29ffce,#29ffce,#29ffce,#29ffce,#29ffce,#29ffce,#29ffce,#29ffce,#29ffce,#29ffce,#29ffce,#29ffce,#26ffd1,#26ffd1,#26ffd1,#26ffd1,#26ffd1,#26ffd1,#26ffd1,#26ffd1)"></i>
<i style="background:linear-gradient(90deg,#29ffce,#29ffce,#29ffce,#29ffce,#29ffce,#29ffce,#29ffce,#29ffce,#29ffce,#29ffce,#29ffce,#2cffca,#2cffca,#2cffca,#2cffca,#2cffca,#2cffca,#2cffca,#29ffce,#29ffce,#29ffce,#29ffce,#29ffce,#29ffce,#29ffce,#29ffce,#29ffce,#29ffce,#29ffce,#29ffce,#29ffce,#29ffce,#29ffce)"></i>
<i style="background:linear-gradient(90deg,#26ffd1,#26ffd1,#26ffd1,#26ffd1,#26ffd1,#26ffd1,#26ffd1,#26ffd1,#26ffd1,#29ffce,#29ffce,#29ffce,#29ffce,#29ffce,#29ffce,#29ffce,#29ffce,#29ffce,#26ffd1,#26ffd1,#26ffd1,#26ffd1,#26ffd1,#26ffd1,#26ffd1,#26ffd1,#26ffd1,#26ffd1,#26ffd1,#26ffd1,#26ffd1,#26ffd1,#26ffd1)"></i>
<i style="background:linear-gradient(90deg,#1fffd7,#1fffd7,#1fffd7,#1fffd7,#1fffd7,#1fffd7,#23ffd4,#23ffd4,#23ffd4,#26ffd1,#26ffd1,#26ffd1,#26ffd1,#26ffd1,#26ffd1,#26ffd1,#26ffd1,#26ffd1,#23ffd4,#23ffd4,#23ffd4,#1fffd7,#1fffd7,#1fffd7,#1fffd7,#1fffd7,#1fffd7,#1fffd7,#1fffd7,#1fffd7,#1fffd7,#1fffd7,#1fffd7)"></i>
<i style="background:linear-gradient(90deg,#19ffde,#19ffde,#1cffdb,#1cffdb,#1cffdb,#1cffdb,#1cffdb,#1fffd7,#1fffd7,#23ffd4,#23ffd4,#23ffd4,#26ffd1,#26ffd1,#26ffd1,#26ffd1,#23ffd4,#23ffd4,#1fffd7,#1fffd7,#1cffdb,#1cffdb,#1cffdb,#1cffdb,#1cffdb,#1cffdb,#1cffdb,#1cffdb,#1cffdb,#1cffdb,#1cffdb,#19ffde,#19ffde)"></i>
<i style="background:linear-gradient(90deg,#16ffe1,#16ffe1,#16ffe1,#16ffe1,#16ffe1,#16ffe1,#19ffde,#1cffdb,#1cffdb,#1fffd7,#23ffd4,#23ffd4,#23ffd4,#23ffd4,#23ffd4,#23ffd4,#1fffd7,#1fffd7,#1cffdb,#19ffde,#19ffde,#16ffe1,#16ffe1,#16ffe1,#16ffe1,#16ffe1,#16ffe1,#16ffe1,#16ffe1,#16ffe1,#16ffe1,#16ffe1,#16ffe1)"></i>
<i style="background:linear-gradient(90deg,#0cf5eb,#0cf5eb,#0cf5eb,#0cf5eb,#0ff9e7,#0ff9e7,#13fde4,#16ffe1,#19ffde,#1cffdb,#1fffd7,#1fffd7,#1fffd7,#1fffd7,#1fffd7,#1fffd7,#1cffdb,#19ffde,#19ffde,#16ffe1,#13fde4,#13fde4,#0ff9e7,#0ff9e7,#0ff9e7,#0ff9e7,#0ff9e7,#0ff9e7,#0ff9e7,#0ff9e7,#0ff9e7,#0cf5eb,#0cf5eb)"></i>
<i style="background:linear-gradient(90deg,#02e8f4,#02e8f4,#02e8f4,#02e8f4,#06edf1,#09f1ee,#0cf5eb,#13fde4,#16ffe1,#19ffde,#1cffdb,#1cffdb,#1cffdb,#1cffdb,#1cffdb,#19ffde,#19ffde,#16ffe1,#13fde4,#0ff9e7,#0cf5eb,#09f1ee,#09f1ee,#09f1ee,#06edf1,#06edf1,#06edf1,#06edf1,#06edf1,#06edf1,#06edf1,#06edf1,#02e8f4)"></i>
<i style="background:linear-gradient(90deg,#00ddfe,#00ddfe,#00d9ff,#00ddfe,#00e1fb,#00e5f8,#06edf1,#09f1ee,#0ff9e7,#16ffe1,#16ffe1,#19ffde,#19ffde,#16ffe1,#16ffe1,#13fde4,#13fde4,#0ff9e7,#09f1ee,#06edf1,#02e8f4,#02e8f4,#00e5f8,#00e5f8,#00e1fb,#00e1fb,#00e1fb,#00e1fb,#00e1fb,#00e1fb,#00e1fb,#00ddfe,#00ddfe)"></i>
<i style="background:linear-gradient(90deg,#00cdff,#00cdff,#00cdff,#00cdff,#00d1ff,#00d9ff,#00e1fb,#02e8f4,#09f1ee,#0ff9e7,#13fde4,#13fde4,#13fde4,#13fde4,#0ff9e7,#0cf5eb,#0cf5eb,#06edf1,#02e8f4,#00e5f8,#00e1fb,#00ddfe,#00d9ff,#00d5ff,#00d5ff,#00d5ff,#00d5ff,#00d5ff,#00d5ff,#00d5ff,#00d1ff,#00d1ff,#00cdff)"></i>
<i style="background:linear-gradient(90deg,#00c1ff,#00bdff,#00bdff,#00bdff,#00c5ff,#00c8ff,#00d5ff,#00ddfe,#02e8f4,#09f1ee,#0cf5eb,#0cf5eb,#0cf5eb,#09f1ee,#09f1ee,#06edf1,#02e8f4,#00e5f8,#00ddfe,#00d9ff,#00d1ff,#00cdff,#00c8ff,#00c8ff,#00c5ff,#00c5ff,#00c5ff,#00c5ff,#00c5ff,#00c5ff,#00c5ff,#00c1ff,#00c1ff)"></i>
<i style="background:linear-gradient(90deg,#00b5ff,#00b5ff,#00b5ff,#00b5ff,#00b9ff,#00c1ff,#00cdff,#00d5ff,#00e1fb,#02e8f4,#02e8f4,#06edf1,#02e8f4,#02e8f4,#00e5f8,#00e5f8,#00ddfe,#00d9ff,#00d5ff,#00cdff,#00c8ff,#00c5ff,#00bdff,#00bdff,#00b9ff,#00b9ff,#00b9ff,#00b9ff,#00b9ff,#00b9ff,#00b9ff,#00b9ff,#00b5ff)"></i>
<i style="background:linear-gradient(90deg,#00b5ff,#00b5ff,#00b5ff,#00b9ff,#00bdff,#00c1ff,#00cdff,#00d5ff,#00ddfe,#00e5f8,#02e8f4,#02e8f4,#00e5f8,#00e5f8,#00e1fb,#00e1fb,#00ddfe,#00d9ff,#00d1ff,#00cdff,#00c5ff,#00c1ff,#00bdff,#00b9ff,#00b5ff,#00b5ff,#00b5ff,#00b5ff,#00b9ff,#00b9ff,#00b9ff,#00b9ff,#00b5ff)"></i>
<i style="background:linear-gradient(90deg,#00bdff,#00bdff,#00bdff,#00c1ff,#00c5ff,#00c8ff,#00d1ff,#00d9ff,#00e1fb,#00e5f8,#00e5f8,#00e5f8,#00e5f8,#00e5f8,#00e1fb,#00e1fb,#00ddfe,#00d9ff,#00d1ff,#00cdff,#00c8ff,#00c5ff,#00c1ff,#00bdff,#00b9ff,#00b9ff,#00b9ff,#00bdff,#00bdff,#00bdff,#00bdff,#00bdff,#00bdff)"></i>
<i style="background:linear-gradient(90deg,#00c8ff,#00c8ff,#00c8ff,#00c8ff,#00cdff,#00d1ff,#00d5ff,#00ddfe,#00e1fb,#00e5f8,#00e5f8,#00e5f8,#00e5f8,#00e5f8,#00e1fb,#00e1fb,#00ddfe,#00d9ff,#00d5ff,#00d1ff,#00cdff,#00c8ff,#00c8ff,#00c5ff,#00c5ff,#00c1ff,#00c1ff,#00c5ff,#00c5ff,#00c5ff,#00c5ff,#00c8ff,#00c8ff)"></i>
<i style="background:linear-gradient(90deg,#00d5ff,#00d5ff,#00d9ff,#00d9ff,#00d9ff,#00ddfe,#00e1fb,#00e5f8,#02e8f4,#06edf1,#06edf1,#06edf1,#06edf1,#06edf1,#02e8f4,#02e8f4,#00e5f8,#00e5f8,#00e1fb,#00ddfe,#00d9ff,#00d9ff,#00d5ff,#00d5ff,#00d5ff,#00d1ff,#00d5ff,#00d5ff,#00d5ff,#00d5ff,#00d5ff,#00d5ff,#00d5ff)"></i>
<i style="background:linear-gradient(90deg,#02e8f4,#02e8f4,#02e8f4,#02e8f4,#02e8f4,#06edf1,#06edf1,#09f1ee,#0cf5eb,#0cf5eb,#0cf5eb,#0cf5eb,#0cf5eb,#0cf5eb,#0cf5eb,#0cf5eb,#09f1ee,#09f1ee,#06edf1,#06edf1,#02e8f4,#02e8f4,#02e8f4,#00e5f8,#00e5f8,#00e5f8,#00e5f8,#00e5f8,#00e5f8,#00e5f8,#02e8f4,#02e8f4,#02e8f4)"></i>
<i style="background:linear-gradient(90deg,#0cf5eb,#0cf5eb,#0cf5eb,#0cf5eb,#0ff9e7,#0ff9e7,#0ff9e7,#13fde4,#13fde4,#13fde4,#13fde4,#13fde4,#13fde4,#13fde4,#13fde4,#13fde4,#13fde4,#13fde4,#0ff9e7,#0ff9e7,#0ff9e7,#0cf5eb,#0cf5eb,#0cf5eb,#0cf5eb,#0cf5eb,#0cf5eb,#0cf5eb,#0cf5eb,#0cf5eb,#0cf5eb,#0cf5eb,#0cf5eb)"></i>
<i style="background:linear-gradient(90deg,#19ffde,#19ffde,#19ffde,#19ffde,#19ffde,#19ffde,#1cffdb,#1cffdb,#1cffdb,#1cffdb,#1cffdb,#1cffdb,#1cffdb,#1cffdb,#1cffdb,#1cffdb,#1cffdb,#1cffdb,#1cffdb,#1cffdb,#19ffde,#19ffde,#19ffde,#19ffde,#19ffde,#19ffde,#19ffde,#19ffde,#19ffde,#19ffde,#19ffde,#19ffde,#19ffde)"></i>
<i style="background:linear-gradient(90deg,#30ffc7,#30ffc7,#30ffc7,#30ffc7,#30ffc7,#30ffc7,#30ffc7,#30ffc7,#30ffc7,#30ffc7,#30ffc7,#30ffc7,#30ffc7,#30ffc7,#30ffc7,#30ffc7,#30ffc7,#30ffc7,#30ffc7,#30ffc7,#30ffc7,#30ffc7,#30ffc7,#30ffc7,#30ffc7,#30ffc7,#30ffc7,#30ffc7,#30ffc7,#30ffc7,#30ffc7,#30ffc7,#30ffc7)"></i>
<i style="background:linear-gradient(90deg,#46ffb1,#46ffb1,#46ffb1,#46ffb1,#46ffb1,#46ffb1,#46ffb1,#46ffb1,#43ffb4,#43ffb4,#43ffb4,#46ffb1,#46ffb1,#46ffb1,#46ffb1,#46ffb1,#46ffb1,#46ffb1,#46ffb1,#46ffb1,#46ffb1,#46ffb1,#46ffb1,#46ffb1,#46ffb1,#46ffb1,#46ffb1,#46ffb1,#46ffb1,#46ffb1,#46ffb1,#46ffb1,#46ffb1)"></i>
<i style="background:linear-gradient(90deg,#5dff9a,#5dff9a,#5dff9a,#5dff9a,#5dff9a,#5dff9a,#5aff9d,#5aff9d,#5aff9d,#56ffa0,#5aff9d,#5aff9d,#5aff9d,#5dff9a,#5dff9a,#5dff9a,#5dff9a,#5dff9a,#5dff9a,#5dff9a,#5dff9a,#5dff9a,#5dff9a,#5dff9a,#5dff9a,#5dff9a,#5dff9a,#5dff9a,#5dff9a,#5dff9a,#5dff9a,#5dff9a,#5dff9a)"></i>
<i style="background:linear-gradient(90deg,#73ff83,#73ff83,#73ff83,#73ff83,#73ff83,#70ff87,#70ff87,#6dff8a,#6aff8d,#6aff8d,#6aff8d,#6dff8a,#6dff8a,#70ff87,#73ff83,#73ff83,#73ff83,#73ff83,#73ff83,#73ff83,#73ff83,#73ff83,#73ff83,#73ff83,#73ff83,#73ff83,#73ff83,#73ff83,#73ff83,#73ff83,#73ff83,#73ff83,#73ff83)"></i>
<i style="background:linear-gradient(90deg,#8aff6d,#8aff6d,#8aff6d,#8aff6d,#87ff70,#87ff70,#83ff73,#80ff77,#7dff7a,#7aff7d,#7dff7a,#7dff7a,#80ff77,#83ff73,#87ff70,#87ff70,#87ff70,#8aff6d,#8aff6d,#8aff6d,#8aff6d,#8aff6d,#8aff6d,#8aff6d,#8aff6d,#8aff6d,#8aff6d,#8aff6d,#8aff6d,#8aff6d,#8aff6d,#8aff6d,#8aff6d)"></i>
<i style="background:linear-gradient(90deg,#a0ff56,#a0ff56,#a0ff56,#9dff5a,#9aff5d,#97ff60,#94ff63,#90ff66,#8dff6a,#8aff6d,#8aff6d,#8dff6a,#90ff66,#94ff63,#97ff60,#9aff5d,#9aff5d,#9dff5a,#9dff5a,#9dff5a,#9dff5a,#9dff5a,#a0ff56,#a0ff56,#a0ff56,#a0ff56,#a0ff56,#9dff5a,#9dff5a,#9dff5a,#a0ff56,#a0ff56,#a0ff56)"></i>
<i style="background:linear-gradient(90deg,#b4ff43,#b4ff43,#b1ff46,#adff49,#aaff4d,#a7ff50,#a0ff56,#9dff5a,#97ff60,#94ff63,#94ff63,#97ff60,#9dff5a,#a0ff56,#a7ff50,#a7ff50,#aaff4d,#aaff4d,#adff49,#adff49,#adff49,#b1ff46,#b1ff46,#b1ff46,#b1ff46,#b1ff46,#b1ff46,#b1ff46,#b1ff46,#b1ff46,#b1ff46,#b1ff46,#b4ff43)"></i>
<i style="background:linear-gradient(90deg,#c4ff33,#c4ff33,#c1ff36,#beff39,#baff3c,#b4ff43,#adff49,#a7ff50,#a0ff56,#9dff5a,#a0ff56,#a4ff53,#a7ff50,#adff49,#b4ff43,#b7ff40,#b7ff40,#baff3c,#baff3c,#beff39,#beff39,#c1ff36,#c4ff33,#c4ff33,#c4ff33,#c4ff33,#c4ff33,#c1ff36,#c1ff36,#c1ff36,#c1ff36,#c4ff33,#c4ff33)"></i>
<i style="background:linear-gradient(90deg,#ceff29,#ceff29,#ceff29,#c7ff30,#c4ff33,#beff39,#b4ff43,#adff49,#a7ff50,#a4ff53,#a7ff50,#aaff4d,#adff49,#b4ff43,#baff3c,#beff39,#c1ff36,#c1ff36,#c4ff33,#c7ff30,#caff2c,#caff2c,#ceff29,#d1ff26,#d1ff26,#d1ff26,#ceff29,#ceff29,#ceff29,#caff2c,#ceff29,#ceff29,#ceff29)"></i>
<i style="background:linear-gradient(90deg,#ceff29,#ceff29,#ceff29,#c7ff30,#c4ff33,#beff39,#b4ff43,#adff49,#a7ff50,#a4ff53,#a7ff50,#aaff4d,#adff49,#b4ff43,#baff3c,#beff39,#c1ff36,#c1ff36,#c4ff33,#c7ff30,#caff2c,#ceff29,#d1ff26,#d1ff26,#d4ff23,#d1ff26,#d1ff26,#ceff29,#ceff29,#ceff29,#ceff29,#ceff29,#ceff29)"></i>
<i style="background:linear-gradient(90deg,#caff2c,#caff2c,#c7ff30,#c4ff33,#c1ff36,#baff3c,#b4ff43,#adff49,#a7ff50,#a7ff50,#a7ff50,#aaff4d,#adff49,#b4ff43,#b7ff40,#baff3c,#beff39,#c1ff36,#c1ff36,#c4ff33,#c7ff30,#caff2c,#ceff29,#ceff29,#d1ff26,#ceff29,#ceff29,#caff2c,#caff2c,#caff2c,#caff2c,#caff2c,#caff2c)"></i>
<i style="background:linear-gradient(90deg,#c4ff33,#c4ff33,#c1ff36,#c1ff36,#baff3c,#b7ff40,#b1ff46,#adff49,#a7ff50,#a7ff50,#a7ff50,#aaff4d,#adff49,#b1ff46,#b7ff40,#b7ff40,#baff3c,#beff39,#beff39,#c1ff36,#c1ff36,#c4ff33,#c7ff30,#c7ff30,#c7ff30,#c7ff30,#c7ff30,#c4ff33,#c4ff33,#c4ff33,#c4ff33,#c4ff33,#c4ff33)"></i>
<i style="background:linear-gradient(90deg,#b7ff40,#b4ff43,#b4ff43,#b4ff43,#b1ff46,#adff49,#aaff4d,#a4ff53,#a0ff56,#a0ff56,#a0ff56,#a4ff53,#a7ff50,#aaff4d,#adff49,#adff49,#b1ff46,#b1ff46,#b1ff46,#b4ff43,#b4ff43,#b7ff40,#b7ff40,#b7ff40,#baff3c,#b7ff40,#b7ff40,#b7ff40,#b7ff40,#b4ff43,#b4ff43,#b7ff40,#b7ff40)"></i>
<i style="background:linear-gradient(90deg,#a0ff56,#a0ff56,#a0ff56,#a0ff56,#9dff5a,#9aff5d,#9aff5d,#97ff60,#94ff63,#94ff63,#94ff63,#94ff63,#97ff60,#9aff5d,#9aff5d,#9dff5a,#9dff5a,#9dff5a,#a0ff56,#a0ff56,#a0ff56,#a0ff56,#a0ff56,#a4ff53,#a4ff53,#a4ff53,#a0ff56,#a0ff56,#a0ff56,#a0ff56,#a0ff56,#a0ff56,#a0ff56)"></i>
<i style="background:linear-gradient(90deg,#8dff6a,#8dff6a,#8dff6a,#8dff6a,#8aff6d,#8aff6d,#8aff6d,#87ff70,#87ff70,#83ff73,#83ff73,#87ff70,#87ff70,#8aff6d,#8aff6d,#8aff6d,#8dff6a,#8dff6a,#8dff6a,#8dff6a,#8dff6a,#8dff6a,#8dff6a,#8dff6a,#8dff6a,#8dff6a,#8dff6a,#8dff6a,#8dff6a,#8dff6a,#8dff6a,#8dff6a,#8dff6a)"></i>
<i style="background:linear-gradient(90deg,#7aff7d,#7aff7d,#7aff7d,#7aff7d,#7aff7d,#7aff7d,#77ff80,#77ff80,#77ff80,#73ff83,#73ff83,#77ff80,#77ff80,#77ff80,#7aff7d,#7aff7d,#7aff7d,#7aff7d,#7aff7d,#7aff7d,#7aff7d,#7aff7d,#7aff7d,#7aff7d,#7aff7d,#7aff7d,#7aff7d,#7aff7d,#7aff7d,#7aff7d,#7aff7d,#7aff7d,#7aff7d)"></i>
<i style="background:linear-gradient(90deg,#66ff90,#66ff90,#66ff90,#66ff90,#66ff90,#66ff90,#66ff90,#66ff90,#63ff94,#63ff94,#63ff94,#63ff94,#63ff94,#66ff90,#66ff90,#66ff90,#66ff90,#66ff90,#66ff90,#66ff90,#66ff90,#66ff90,#66ff90,#66ff90,#66ff90,#66ff90,#66ff90,#66ff90,#66ff90,#66ff90,#66ff90,#66ff90,#66ff90)"></i>
<i style="background:linear-gradient(90deg,#56ffa0,#56ffa0,#56ffa0,#56ffa0,#56ffa0,#56ffa0,#56ffa0,#53ffa4,#53ffa4,#53ffa4,#53ffa4,#53ffa4,#53ffa4,#53ffa4,#53ffa4,#53ffa4,#53ffa4,#53ffa4,#53ffa4,#53ffa4,#53ffa4,#53ffa4,#53ffa4,#53ffa4,#53ffa4,#53ffa4,#53ffa4,#53ffa4,#53ffa4,#53ffa4,#56ffa0,#56ffa0,#56ffa0)"></i>
<i style="background:linear-gradient(90deg,#46ffb1,#46ffb1,#46ffb1,#49ffad,#46ffb1,#46ffb1,#46ffb1,#43ffb4,#43ffb4,#43ffb4,#40ffb7,#40ffb7,#40ffb7,#40ffb7,#40ffb7,#40ffb7,#40ffb7,#40ffb7,#40ffb7,#40ffb7,#40ffb7,#40ffb7,#40ffb7,#40ffb7,#40ffb7,#40ffb7,#43ffb4,#43ffb4,#43ffb4,#43ffb4,#43ffb4,#46ffb1,#46ffb1)"></i>
<i style="background:linear-gradient(90deg,#39ffbe,#39ffbe,#3cffba,#3cffba,#39ffbe,#39ffbe,#36ffc1,#36ffc1,#33ffc4,#33ffc4,#30ffc7,#30ffc7,#30ffc7,#30ffc7,#30ffc7,#30ffc7,#30ffc7,#30ffc7,#30ffc7,#30ffc7,#30ffc7,#30ffc7,#30ffc7,#30ffc7,#30ffc7,#30ffc7,#30ffc7,#30ffc7,#33ffc4,#33ffc4,#36ffc1,#36ffc1,#39ffbe)"></i>
<i style="background:linear-gradient(90deg,#2cffca,#30ffc7,#30ffc7,#30ffc7,#30ffc7,#2cffca,#29ffce,#26ffd1,#23ffd4,#1fffd7,#1fffd7,#1cffdb,#1cffdb,#1cffdb,#1cffdb,#1cffdb,#1cffdb,#1cffdb,#1cffdb,#1cffdb,#1cffdb,#1cffdb,#1cffdb,#1cffdb,#1cffdb,#1cffdb,#1cffdb,#1fffd7,#1fffd7,#23ffd4,#26ffd1,#29ffce,#2cffca)"></i>
<i style="background:linear-gradient(90deg,#23ffd4,#26ffd1,#29ffce,#29ffce,#26ffd1,#23ffd4,#1fffd7,#19ffde,#16ffe1,#0ff9e7,#0cf5eb,#0cf5eb,#09f1ee,#09f1ee,#09f1ee,#06edf1,#06edf1,#06edf1,#06edf1,#06edf1,#06edf1,#06edf1,#06edf1,#09f1ee,#09f1ee,#09f1ee,#09f1ee,#0cf5eb,#0ff9e7,#13fde4,#19ffde,#1cffdb,#23ffd4)"></i>
<i style="background:linear-gradient(90deg,#19ffde,#1fffd7,#23ffd4,#23ffd4,#23ffd4,#1cffdb,#16ffe1,#0ff9e7,#09f1ee,#02e8f4,#00e5f8,#00e1fb,#00ddfe,#00ddfe,#00d9ff,#00d9ff,#00d9ff,#00d9ff,#00d9ff,#00d9ff,#00d9ff,#00d9ff,#00d9ff,#00d9ff,#00ddfe,#00ddfe,#00ddfe,#00e1fb,#02e8f4,#06edf1,#0cf5eb,#13fde4,#19ffde)"></i>
<i style="background:linear-gradient(90deg,#16ffe1,#1cffdb,#1fffd7,#1fffd7,#1cffdb,#19ffde,#0ff9e7,#09f1ee,#00e5f8,#00ddfe,#00d5ff,#00d1ff,#00cdff,#00c8ff,#00c8ff,#00c8ff,#00c8ff,#00c8ff,#00c8ff,#00c8ff,#00c8ff,#00c8ff,#00c8ff,#00c8ff,#00c8ff,#00cdff,#00cdff,#00d1ff,#00d9ff,#00e1fb,#06edf1,#0cf5eb,#16ffe1)"></i>
<i style="background:linear-gradient(90deg,#0ff9e7,#16ffe1,#1cffdb,#1cffdb,#19ffde,#13fde4,#09f1ee,#00e5f8,#00d9ff,#00d1ff,#00c8ff,#00c1ff,#00bdff,#00bdff,#00b9ff,#00b9ff,#00b9ff,#00b9ff,#00b9ff,#00b9ff,#00b9ff,#00b9ff,#00b9ff,#00b9ff,#00b9ff,#00bdff,#00c1ff,#00c5ff,#00cdff,#00d5ff,#00e1fb,#06edf1,#0ff9e7)"></i>
<i style="background:linear-gradient(90deg,#0cf5eb,#13fde4,#19ffde,#19ffde,#16ffe1,#0ff9e7,#06edf1,#00e1fb,#00d5ff,#00c8ff,#00c1ff,#00bdff,#00b9ff,#00b5ff,#00b5ff,#00b1ff,#00b1ff,#00b1ff,#00b1ff,#00b1ff,#00b1ff,#00b1ff,#00b1ff,#00b1ff,#00b5ff,#00b5ff,#00b9ff,#00bdff,#00c5ff,#00d1ff,#00ddfe,#02e8f4,#0cf5eb)"></i>
<i style="background:linear-gradient(90deg,#06edf1,#0cf5eb,#13fde4,#13fde4,#0ff9e7,#09f1ee,#00e5f8,#00d9ff,#00cdff,#00c5ff,#00bdff,#00b9ff,#00b5ff,#00b1ff,#00b1ff,#00b1ff,#00b1ff,#00b1ff,#00adff,#00adff,#00adff,#00b1ff,#00b1ff,#00b1ff,#00b1ff,#00b5ff,#00b5ff,#00bdff,#00c1ff,#00cdff,#00d5ff,#00e1fb,#06edf1)"></i>
<i style="background:linear-gradient(90deg,#00e1fb,#02e8f4,#06edf1,#06edf1,#06edf1,#00e5f8,#00ddfe,#00d1ff,#00c8ff,#00c1ff,#00b9ff,#00b5ff,#00b1ff,#00b1ff,#00adff,#00adff,#00adff,#00adff,#00adff,#00adff,#00adff,#00adff,#00adff,#00adff,#00adff,#00b1ff,#00b5ff,#00b9ff,#00bdff,#00c5ff,#00cdff,#00d9ff,#00e1fb)"></i>
<i></i>
</div>
<div class="p" style="left:193.4px;top:227.4px">
<i></i>
<i></i>
<i></i>
<i></i>
<i></i>
<i></i>
<i style="background:linear-gradient(90deg,#36ffc1,#36ffc1,#36ffc1,#36ffc1,#36ffc1,#36ffc1,#36ffc1,#36ffc1,#36ffc1,#36ffc1,#36ffc1,#39ffbe,#39ffbe,#3cffba,#3cffba,#3cffba,#3cffba,#3cffba,#3cffba,#3cffba,#3cffba,#3cffba,#3cffba,#3cffba,#40ffb7,#40ffb7,#40ffb7,#3cffba,#3cffba,#39ffbe,#36ffc1,#36ffc1,#36ffc1)"></i>
<i style="background:linear-gradient(90deg,#43ffb4,#43ffb4,#43ffb4,#43ffb4,#43ffb4,#46ffb1,#46ffb1,#46ffb1,#46ffb1,#46ffb1,#49ffad,#4dffaa,#4dffaa,#50ffa7,#50ffa7,#50ffa7,#50ffa7,#53ffa4,#53ffa4,#53ffa4,#50ffa7,#50ffa7,#50ffa7,#50ffa7,#53ffa4,#56ffa0,#56ffa0,#53ffa4,#50ffa7,#4dffaa,#49ffad,#46ffb1,#43ffb4)"></i>
<i style="background:linear-gradient(90deg,#53ffa4,#53ffa4,#53ffa4,#53ffa4,#53ffa4,#53ffa4,#53ffa4,#53ffa4,#56ffa0,#56ffa0,#5aff9d,#5aff9d,#5dff9a,#60ff97,#60ff97,#60ff97,#63ff94,#63ff94,#66ff90,#63ff94,#63ff94,#60ff97,#60ff97,#60ff97,#63ff94,#6aff8d,#6aff8d,#66ff90,#63ff94,#5dff9a,#5aff9d,#56ffa0,#53ffa4)"></i>
<i style="background:linear-gradient(90deg,#63ff94,#63ff94,#63ff94,#63ff94,#63ff94,#63ff94,#63ff94,#63ff94,#63ff94,#63ff94,#66ff90,#6aff8d,#6dff8a,#70ff87,#70ff87,#73ff83,#73ff83,#77ff80,#77ff80,#77ff80,#73ff83,#70ff87,#6dff8a,#6dff8a,#73ff83,#7dff7a,#7dff7a,#7aff7d,#77ff80,#70ff87,#6aff8d,#6aff8d,#63ff94)"></i>
<i style="background:linear-gradient(90deg,#73ff83,#73ff83,#73ff83,#73ff83,#73ff83,#70ff87,#70ff87,#70ff87,#70ff87,#70ff87,#73ff83,#7aff7d,#80ff77,#83ff73,#83ff73,#83ff73,#87ff70,#87ff70,#8aff6d,#87ff70,#80ff77,#7dff7a,#77ff80,#7aff7d,#83ff73,#8dff6a,#90ff66,#8dff6a,#87ff70,#80ff77,#7aff7d,#7aff7d,#73ff83)"></i>
<i style="background:linear-gradient(90deg,#87ff70,#87ff70,#83ff73,#83ff73,#80ff77,#80ff77,#7dff7a,#7dff7a,#7aff7d,#7dff7a,#83ff73,#8aff6d,#94ff63,#97ff60,#97ff60,#97ff60,#97ff60,#97ff60,#94ff63,#94ff63,#8dff6a,#83ff73,#80ff77,#80ff77,#8aff6d,#94ff63,#97ff60,#97ff60,#90ff66,#8dff6a,#8aff6d,#8aff6d,#87ff70)"></i>
<i style="background:linear-gradient(90deg,#97ff60,#97ff60,#94ff63,#94ff63,#90ff66,#8dff6a,#8aff6d,#87ff70,#87ff70,#8aff6d,#90ff66,#97ff60,#a0ff56,#a4ff53,#a4ff53,#a4ff53,#a4ff53,#a0ff56,#a0ff56,#9dff5a,#94ff63,#8aff6d,#83ff73,#83ff73,#8dff6a,#97ff60,#9aff5d,#9aff5d,#9aff5d,#9aff5d,#9aff5d,#9aff5d,#97ff60)"></i>
<i style="background:linear-gradient(90deg,#a4ff53,#a4ff53,#a0ff56,#9dff5a,#9aff5d,#97ff60,#94ff63,#90ff66,#90ff66,#94ff63,#9aff5d,#a0ff56,#aaff4d,#adff49,#adff49,#adff49,#adff49,#aaff4d,#aaff4d,#a7ff50,#9aff5d,#8dff6a,#83ff73,#83ff73,#90ff66,#9aff5d,#9dff5a,#a0ff56,#a0ff56,#a4ff53,#a4ff53,#a7ff50,#a4ff53)"></i>
<i style="background:linear-gradient(90deg,#adff49,#adff49,#aaff4d,#a7ff50,#a4ff53,#a0ff56,#9dff5a,#9aff5d,#9aff5d,#9aff5d,#a0ff56,#aaff4d,#b1ff46,#b7ff40,#b7ff40,#b4ff43,#b1ff46,#b1ff46,#adff49,#aaff4d,#a0ff56,#90ff66,#87ff70,#87ff70,#90ff66,#9dff5a,#a0ff56,#a0ff56,#a4ff53,#aaff4d,#adff49,#adff49,#adff49)"></i>
<i style="background:linear-gradient(90deg,#b7ff40,#b4ff43,#b4ff43,#b1ff46,#aaff4d,#a7ff50,#a4ff53,#a0ff56,#9dff5a,#a0ff56,#a7ff50,#b1ff46,#b7ff40,#baff3c,#baff3c,#b7ff40,#b4ff43,#b1ff46,#adff49,#aaff4d,#a0ff56,#90ff66,#87ff70,#87ff70,#90ff66,#9aff5d,#9dff5a,#a0ff56,#a7ff50,#adff49,#b1ff46,#b4ff43,#b7ff40)"></i>
<i style="background:linear-gradient(90deg,#baff3c,#baff3c,#baff3c,#b4ff43,#b1ff46,#adff49,#aaff4d,#a7ff50,#a4ff53,#a7ff50,#adff49,#b4ff43,#baff3c,#beff39,#beff39,#baff3c,#b4ff43,#adff49,#adff49,#aaff4d,#9dff5a,#90ff66,#87ff70,#87ff70,#90ff66,#97ff60,#9aff5d,#a0ff56,#a7ff50,#b1ff46,#b7ff40,#b7ff40,#baff3c)"></i>
<i style="background:linear-gradient(90deg,#beff39,#beff39,#baff3c,#b7ff40,#b4ff43,#b1ff46,#adff49,#aaff4d,#a7ff50,#aaff4d,#adff49,#b4ff43,#baff3c,#beff39,#beff39,#b7ff40,#b1ff46,#adff49,#aaff4d,#a7ff50,#9aff5d,#8dff6a,#87ff70,#87ff70,#8dff6a,#94ff63,#97ff60,#9aff5d,#a4ff53,#b1ff46,#b7ff40,#baff3c,#beff39)"></i>
<i style="background:linear-gradient(90deg,#beff39,#beff39,#baff3c,#b7ff40,#b4ff43,#b1ff46,#adff49,#aaff4d,#aaff4d,#aaff4d,#adff49,#b4ff43,#b7ff40,#baff3c,#b7ff40,#b4ff43,#adff49,#a7ff50,#a4ff53,#a0ff56,#97ff60,#8aff6d,#80ff77,#80ff77,#87ff70,#8dff6a,#90ff66,#97ff60,#a0ff56,#adff49,#b7ff40,#baff3c,#beff39)"></i>
<i style="background:linear-gradient(90deg,#beff39,#beff39,#baff3c,#b7ff40,#b4ff43,#b1ff46,#adff49,#aaff4d,#aaff4d,#aaff4d,#adff49,#b1ff46,#b4ff43,#b4ff43,#b4ff43,#adff49,#a7ff50,#a0ff56,#9dff5a,#9aff5d,#90ff66,#83ff73,#7dff7a,#7dff7a,#80ff77,#87ff70,#8aff6d,#90ff66,#9dff5a,#aaff4d,#b4ff43,#b7ff40,#beff39)"></i>
<i style="background:linear-gradient(90deg,#beff39,#baff3c,#baff3c,#b7ff40,#b4ff43,#b1ff46,#adff49,#aaff4d,#aaff4d,#aaff4d,#aaff4d,#aaff4d,#adff49,#adff49,#aaff4d,#a4ff53,#9dff5a,#94ff63,#90ff66,#8dff6a,#87ff70,#7dff7a,#77ff80,#77ff80,#7aff7d,#7dff7a,#7dff7a,#87ff70,#97ff60,#a7ff50,#b4ff43,#b7ff40,#beff39)"></i>
<i style="background:linear-gradient(90deg,#baff3c,#baff3c,#b7ff40,#b4ff43,#b1ff46,#adff49,#aaff4d,#aaff4d,#a7ff50,#a7ff50,#a7ff50,#a4ff53,#a4ff53,#a0ff56,#a0ff56,#9aff5d,#90ff66,#8aff6d,#87ff70,#83ff73,#7dff7a,#73ff83,#6dff8a,#6dff8a,#6dff8a,#70ff87,#73ff83,#7dff7a,#8dff6a,#a0ff56,#adff49,#b4ff43,#baff3c)"></i>
<i style="background:linear-gradient(90deg,#b7ff40,#b7ff40,#b4ff43,#b4ff43,#b1ff46,#adff49,#aaff4d,#a7ff50,#a7ff50,#a4ff53,#a0ff56,#9aff5d,#94ff63,#94ff63,#90ff66,#8dff6a,#87ff70,#80ff77,#7dff7a,#7aff7d,#73ff83,#6aff8d,#63ff94,#60ff97,#5dff9a,#60ff97,#63ff94,#6dff8a,#80ff77,#94ff63,#a4ff53,#aaff4d,#b7ff40)"></i>
<i style="background:linear-gradient(90deg,#adff49,#adff49,#adff49,#aaff4d,#a7ff50,#a7ff50,#a4ff53,#a4ff53,#a4ff53,#a0ff56,#9aff5d,#90ff66,#8aff6d,#87ff70,#83ff73,#80ff77,#7aff7d,#77ff80,#73ff83,#70ff87,#6aff8d,#60ff97,#56ffa0,#50ffa7,#46ffb1,#4dffaa,#53ffa4,#5dff9a,#70ff87,#87ff70,#97ff60,#9dff5a,#adff49)"></i>
<i style="background:linear-gradient(90deg,#9dff5a,#a0ff56,#9dff5a,#9dff5a,#9dff5a,#9aff5d,#9aff5d,#9aff5d,#9aff5d,#97ff60,#90ff66,#87ff70,#80ff77,#7dff7a,#7aff7d,#77ff80,#73ff83,#6dff8a,#6aff8d,#66ff90,#60ff97,#53ffa4,#49ffad,#3cffba,#2cffca,#39ffbe,#46ffb1,#53ffa4,#66ff90,#7aff7d,#8aff6d,#90ff66,#9dff5a)"></i>
<i style="background:linear-gradient(90deg,#94ff63,#94ff63,#94ff63,#90ff66,#90ff66,#90ff66,#8dff6a,#8dff6a,#8dff6a,#8aff6d,#83ff73,#7dff7a,#77ff80,#73ff83,#73ff83,#6dff8a,#6aff8d,#63ff94,#60ff97,#60ff97,#56ffa0,#49ffad,#3cffba,#29ffce,#16ffe1,#26ffd1,#39ffbe,#46ffb1,#5aff9d,#70ff87,#80ff77,#87ff70,#94ff63)"></i>
<i style="background:linear-gradient(90deg,#87ff70,#8aff6d,#87ff70,#87ff70,#83ff73,#83ff73,#80ff77,#80ff77,#80ff77,#7dff7a,#7aff7d,#73ff83,#6dff8a,#6aff8d,#6aff8d,#63ff94,#60ff97,#5aff9d,#5aff9d,#56ffa0,#4dffaa,#43ffb4,#36ffc1,#1fffd7,#09f1ee,#1cffdb,#33ffc4,#40ffb7,#53ffa4,#66ff90,#77ff80,#7aff7d,#87ff70)"></i>
<i style="background:linear-gradient(90deg,#7dff7a,#7dff7a,#7dff7a,#7aff7d,#77ff80,#77ff80,#73ff83,#73ff83,#70ff87,#70ff87,#6dff8a,#66ff90,#60ff97,#5dff9a,#5dff9a,#5aff9d,#56ffa0,#53ffa4,#50ffa7,#4dffaa,#46ffb1,#39ffbe,#30ffc7,#1fffd7,#0cf5eb,#1cffdb,#2cffca,#39ffbe,#49ffad,#5aff9d,#66ff90,#6dff8a,#7dff7a)"></i>
<i style="background:linear-gradient(90deg,#70ff87,#70ff87,#70ff87,#6dff8a,#6aff8d,#66ff90,#66ff90,#63ff94,#63ff94,#63ff94,#5dff9a,#5aff9d,#53ffa4,#53ffa4,#50ffa7,#50ffa7,#4dffaa,#49ffad,#49ffad,#46ffb1,#40ffb7,#36ffc1,#2cffca,#23ffd4,#16ffe1,#1fffd7,#29ffce,#33ffc4,#40ffb7,#4dffaa,#5aff9d,#5dff9a,#70ff87)"></i>
<i style="background:linear-gradient(90deg,#63ff94,#63ff94,#63ff94,#60ff97,#5dff9a,#5aff9d,#56ffa0,#56ffa0,#56ffa0,#53ffa4,#50ffa7,#4dffaa,#49ffad,#49ffad,#46ffb1,#46ffb1,#43ffb4,#43ffb4,#43ffb4,#40ffb7,#39ffbe,#30ffc7,#29ffce,#23ffd4,#1cffdb,#1fffd7,#26ffd1,#2cffca,#36ffc1,#43ffb4,#49ffad,#50ffa7,#63ff94)"></i>
<i style="background:linear-gradient(90deg,#56ffa0,#56ffa0,#53ffa4,#53ffa4,#50ffa7,#4dffaa,#49ffad,#49ffad,#46ffb1,#46ffb1,#46ffb1,#43ffb4,#43ffb4,#40ffb7,#40ffb7,#40ffb7,#3cffba,#3cffba,#3cffba,#39ffbe,#33ffc4,#29ffce,#23ffd4,#23ffd4,#1fffd7,#1fffd7,#1fffd7,#26ffd1,#2cffca,#36ffc1,#3cffba,#40ffb7,#56ffa0)"></i>
<i style="background:linear-gradient(90deg,#46ffb1,#46ffb1,#46ffb1,#43ffb4,#43ffb4,#40ffb7,#3cffba,#3cffba,#3cffba,#3cffba,#3cffba,#3cffba,#39ffbe,#39ffbe,#39ffbe,#39ffbe,#39ffbe,#36ffc1,#36ffc1,#33ffc4,#2cffca,#26ffd1,#1fffd7,#1cffdb,#1cffdb,#19ffde,#19ffde,#1cffdb,#23ffd4,#29ffce,#2cffca,#30ffc7,#46ffb1)"></i>
<i style="background:linear-gradient(90deg,#39ffbe,#39ffbe,#36ffc1,#36ffc1,#33ffc4,#33ffc4,#30ffc7,#30ffc7,#30ffc7,#30ffc7,#33ffc4,#33ffc4,#36ffc1,#36ffc1,#36ffc1,#36ffc1,#33ffc4,#33ffc4,#33ffc4,#30ffc7,#29ffce,#23ffd4,#1cffdb,#19ffde,#19ffde,#16ffe1,#16ffe1,#19ffde,#1cffdb,#23ffd4,#29ffce,#29ffce,#39ffbe)"></i>
<i style="background:linear-gradient(90deg,#33ffc4,#33ffc4,#30ffc7,#30ffc7,#2cffca,#29ffce,#29ffce,#26ffd1,#26ffd1,#26ffd1,#29ffce,#2cffca,#30ffc7,#33ffc4,#33ffc4,#33ffc4,#33ffc4,#33ffc4,#33ffc4,#30ffc7,#29ffce,#1fffd7,#1cffdb,#19ffde,#19ffde,#16ffe1,#16ffe1,#19ffde,#1fffd7,#23ffd4,#29ffce,#2cffca,#33ffc4)"></i>
<i style="background:linear-gradient(90deg,#30ffc7,#30ffc7,#30ffc7,#2cffca,#2cffca,#29ffce,#26ffd1,#26ffd1,#26ffd1,#26ffd1,#29ffce,#2cffca,#30ffc7,#30ffc7,#30ffc7,#30ffc7,#30ffc7,#30ffc7,#30ffc7,#30ffc7,#2cffca,#26ffd1,#23ffd4,#23ffd4,#23ffd4,#1fffd7,#1fffd7,#23ffd4,#26ffd1,#29ffce,#2cffca,#2cffca,#30ffc7)"></i>
<i style="background:linear-gradient(90deg,#30ffc7,#30ffc7,#30ffc7,#30ffc7,#2cffca,#2cffca,#2cffca,#2cffca,#2cffca,#2cffca,#2cffca,#30ffc7,#30ffc7,#30ffc7,#30ffc7,#30ffc7,#30ffc7,#30ffc7,#30ffc7,#30ffc7,#30ffc7,#2cffca,#2cffca,#2cffca,#2cffca,#2cffca,#2cffca,#2cffca,#2cffca,#2cffca,#2cffca,#2cffca,#30ffc7)"></i>
<i style="background:linear-gradient(90deg,#2cffca,#2cffca,#2cffca,#2cffca,#2cffca,#2cffca,#2cffca,#2cffca,#2cffca,#2cffca,#2cffca,#2cffca,#2cffca,#2cffca,#2cffca,#2cffca,#2cffca,#30ffc7,#30ffc7,#30ffc7,#2cffca,#2cffca,#2cffca,#2cffca,#2cffca,#2cffca,#2cffca,#2cffca,#2cffca,#2cffca,#2cffca,#2cffca,#2cffca)"></i>
<i style="background:linear-gradient(90deg,#29ffce,#29ffce,#29ffce,#29ffce,#29ffce,#29ffce,#29ffce,#29ffce,#29ffce,#29ffce,#29ffce,#29ffce,#29ffce,#29ffce,#29ffce,#29ffce,#29ffce,#2cffca,#2cffca,#2cffca,#29ffce,#29ffce,#29ffce,#29ffce,#29ffce,#29ffce,#29ffce,#29ffce,#29ffce,#29ffce,#29ffce,#29ffce,#29ffce)"></i>
<i style="background:linear-gradient(90deg,#23ffd4,#23ffd4,#23ffd4,#23ffd4,#23ffd4,#23ffd4,#23ffd4,#23ffd4,#23ffd4,#23ffd4,#23ffd4,#26ffd1,#26ffd1,#23ffd4,#23ffd4,#26ffd1,#26ffd1,#29ffce,#29ffce,#26ffd1,#26ffd1,#23ffd4,#23ffd4,#23ffd4,#23ffd4,#23ffd4,#23ffd4,#23ffd4,#23ffd4,#23ffd4,#23ffd4,#23ffd4,#23ffd4)"></i>
<i style="background:linear-gradient(90deg,#1cffdb,#1cffdb,#1cffdb,#1cffdb,#1cffdb,#1cffdb,#1cffdb,#1fffd7,#1fffd7,#1fffd7,#1fffd7,#1fffd7,#1fffd7,#1fffd7,#1fffd7,#1fffd7,#23ffd4,#26ffd1,#29ffce,#26ffd1,#1fffd7,#1cffdb,#1cffdb,#1cffdb,#1cffdb,#1cffdb,#1cffdb,#1cffdb,#1cffdb,#1cffdb,#1cffdb,#1cffdb,#1cffdb)"></i>
<i style="background:linear-gradient(90deg,#19ffde,#19ffde,#19ffde,#19ffde,#19ffde,#19ffde,#19ffde,#19ffde,#1cffdb,#1cffdb,#1cffdb,#1fffd7,#1fffd7,#1fffd7,#1cffdb,#1fffd7,#1fffd7,#26ffd1,#26ffd1,#23ffd4,#1cffdb,#19ffde,#19ffde,#19ffde,#19ffde,#19ffde,#19ffde,#19ffde,#19ffde,#19ffde,#19ffde,#19ffde,#19ffde)"></i>
<i style="background:linear-gradient(90deg,#13fde4,#13fde4,#13fde4,#13fde4,#13fde4,#13fde4,#16ffe1,#16ffe1,#19ffde,#19ffde,#1cffdb,#1cffdb,#1cffdb,#1cffdb,#1cffdb,#1cffdb,#1fffd7,#26ffd1,#26ffd1,#1fffd7,#16ffe1,#13fde4,#13fde4,#13fde4,#13fde4,#13fde4,#13fde4,#13fde4,#13fde4,#13fde4,#13fde4,#13fde4,#13fde4)"></i>
<i style="background:linear-gradient(90deg,#09f1ee,#09f1ee,#09f1ee,#0cf5eb,#0cf5eb,#0cf5eb,#0ff9e7,#0ff9e7,#13fde4,#16ffe1,#19ffde,#19ffde,#19ffde,#19ffde,#19ffde,#19ffde,#1cffdb,#23ffd4,#23ffd4,#19ffde,#13fde4,#0cf5eb,#0cf5eb,#0cf5eb,#0cf5eb,#0cf5eb,#0cf5eb,#0cf5eb,#0cf5eb,#0cf5eb,#0cf5eb,#0cf5eb,#09f1ee)"></i>
<i style="background:linear-gradient(90deg,#00e5f8,#00e1fb,#00e1fb,#00e5f8,#00e5f8,#02e8f4,#06edf1,#09f1ee,#0cf5eb,#0ff9e7,#13fde4,#16ffe1,#16ffe1,#16ffe1,#13fde4,#13fde4,#16ffe1,#1cffdb,#1cffdb,#13fde4,#09f1ee,#02e8f4,#02e8f4,#00e5f8,#00e5f8,#00e5f8,#00e5f8,#00e5f8,#00e5f8,#00e5f8,#00e5f8,#00e5f8,#00e5f8)"></i>
<i style="background:linear-gradient(90deg,#00d1ff,#00cdff,#00cdff,#00d1ff,#00d1ff,#00d5ff,#00ddfe,#00e1fb,#02e8f4,#09f1ee,#0cf5eb,#0ff9e7,#0ff9e7,#0ff9e7,#0cf5eb,#0cf5eb,#0cf5eb,#13fde4,#0ff9e7,#06edf1,#00e1fb,#00d9ff,#00d9ff,#00d5ff,#00d5ff,#00d5ff,#00d1ff,#00d1ff,#00d5ff,#00d5ff,#00d1ff,#00d1ff,#00d1ff)"></i>
<i style="background:linear-gradient(90deg,#00c1ff,#00bdff,#00bdff,#00bdff,#00c1ff,#00c8ff,#00d1ff,#00d9ff,#00e1fb,#02e8f4,#09f1ee,#0cf5eb,#0cf5eb,#0cf5eb,#09f1ee,#06edf1,#06edf1,#09f1ee,#09f1ee,#00e5f8,#00d5ff,#00cdff,#00c8ff,#00c5ff,#00c5ff,#00c1ff,#00c1ff,#00c1ff,#00c1ff,#00c5ff,#00c1ff,#00c1ff,#00c1ff)"></i>
<i style="background:linear-gradient(90deg,#00b1ff,#00b1ff,#00b1ff,#00b1ff,#00b5ff,#00bdff,#00c5ff,#00d1ff,#00d9ff,#00e1fb,#02e8f4,#09f1ee,#09f1ee,#09f1ee,#06edf1,#02e8f4,#00e5f8,#02e8f4,#00e5f8,#00d9ff,#00cdff,#00c1ff,#00bdff,#00b9ff,#00b5ff,#00b5ff,#00b5ff,#00b5ff,#00b5ff,#00b5ff,#00b5ff,#00b5ff,#00b1ff)"></i>
<i style="background:linear-gradient(90deg,#00adff,#00adff,#00adff,#00b1ff,#00b5ff,#00b9ff,#00c1ff,#00cdff,#00d5ff,#00ddfe,#00e5f8,#02e8f4,#06edf1,#02e8f4,#00e5f8,#00e1fb,#00e1fb,#00e1fb,#00d9ff,#00d1ff,#00c5ff,#00bdff,#00b5ff,#00b1ff,#00adff,#00adff,#00adff,#00adff,#00adff,#00b1ff,#00b1ff,#00b1ff,#00adff)"></i>
<i style="background:linear-gradient(90deg,#00b5ff,#00b5ff,#00b5ff,#00b9ff,#00bdff,#00c1ff,#00c5ff,#00cdff,#00d5ff,#00ddfe,#00e5f8,#02e8f4,#02e8f4,#02e8f4,#00e5f8,#00e1fb,#00ddfe,#00ddfe,#00d9ff,#00cdff,#00c5ff,#00bdff,#00b9ff,#00b5ff,#00b1ff,#00b1ff,#00b1ff,#00b1ff,#00b1ff,#00b5ff,#00b5ff,#00b5ff,#00b5ff)"></i>
<i style="background:linear-gradient(90deg,#00c5ff,#00c5ff,#00c5ff,#00c5ff,#00c8ff,#00cdff,#00d1ff,#00d5ff,#00ddfe,#00e1fb,#02e8f4,#06edf1,#06edf1,#06edf1,#02e8f4,#00e5f8,#00e1fb,#00ddfe,#00d9ff,#00d5ff,#00cdff,#00c8ff,#00c5ff,#00c1ff,#00c1ff,#00bdff,#00bdff,#00bdff,#00c1ff,#00c1ff,#00c1ff,#00c5ff,#00c5ff)"></i>
<i style="background:linear-gradient(90deg,#00d5ff,#00d5ff,#00d5ff,#00d5ff,#00d9ff,#00d9ff,#00ddfe,#00e1fb,#00e5f8,#02e8f4,#06edf1,#09f1ee,#09f1ee,#09f1ee,#06edf1,#02e8f4,#00e5f8,#00e5f8,#00e1fb,#00ddfe,#00d9ff,#00d5ff,#00d1ff,#00d1ff,#00d1ff,#00d1ff,#00cdff,#00d1ff,#00d1ff,#00d1ff,#00d1ff,#00d1ff,#00d5ff)"></i>
<i style="background:linear-gradient(90deg,#00e5f8,#00e5f8,#00e5f8,#00e5f8,#00e5f8,#02e8f4,#02e8f4,#06edf1,#09f1ee,#0cf5eb,#0cf5eb,#0ff9e7,#0ff9e7,#0ff9e7,#0cf5eb,#0cf5eb,#09f1ee,#09f1ee,#06edf1,#02e8f4,#02e8f4,#00e5f8,#00e5f8,#00e5f8,#00e1fb,#00e1fb,#00e1fb,#00e1fb,#00e1fb,#00e5f8,#00e5f8,#00e5f8,#00e5f8)"></i>
<i style="background:linear-gradient(90deg,#0cf5eb,#0ff9e7,#0ff9e7,#0ff9e7,#0ff9e7,#0ff9e7,#0ff9e7,#13fde4,#13fde4,#16ffe1,#16ffe1,#19ffde,#19ffde,#19ffde,#16ffe1,#16ffe1,#13fde4,#13fde4,#13fde4,#0ff9e7,#0ff9e7,#0ff9e7,#0cf5eb,#0cf5eb,#0cf5eb,#0cf5eb,#0cf5eb,#0cf5eb,#0cf5eb,#0cf5eb,#0cf5eb,#0cf5eb,#0cf5eb)"></i>
<i style="background:linear-gradient(90deg,#1cffdb,#1cffdb,#1cffdb,#1cffdb,#1cffdb,#1cffdb,#1fffd7,#1fffd7,#1fffd7,#1fffd7,#23ffd4,#23ffd4,#23ffd4,#23ffd4,#23ffd4,#23ffd4,#1fffd7,#1fffd7,#1fffd7,#1cffdb,#1cffdb,#1cffdb,#1cffdb,#1cffdb,#1cffdb,#1cffdb,#1cffdb,#1cffdb,#1cffdb,#1cffdb,#1cffdb,#1cffdb,#1cffdb)"></i>
<i style="background:linear-gradient(90deg,#2cffca,#2cffca,#2cffca,#2cffca,#2cffca,#2cffca,#2cffca,#2cffca,#30ffc7,#30ffc7,#30ffc7,#30ffc7,#30ffc7,#30ffc7,#30ffc7,#30ffc7,#30ffc7,#30ffc7,#2cffca,#2cffca,#2cffca,#2cffca,#2cffca,#2cffca,#2cffca,#2cffca,#2cffca,#2cffca,#2cffca,#2cffca,#2cffca,#2cffca,#2cffca)"></i>
<i style="background:linear-gradient(90deg,#40ffb7,#40ffb7,#40ffb7,#40ffb7,#40ffb7,#40ffb7,#40ffb7,#40ffb7,#40ffb7,#43ffb4,#43ffb4,#43ffb4,#43ffb4,#43ffb4,#43ffb4,#43ffb4,#43ffb4,#40ffb7,#40ffb7,#40ffb7,#40ffb7,#40ffb7,#40ffb7,#40ffb7,#40ffb7,#40ffb7,#40ffb7,#40ffb7,#40ffb7,#40ffb7,#40ffb7,#40ffb7,#40ffb7)"></i>
<i style="background:linear-gradient(90deg,#5aff9d,#5aff9d,#5aff9d,#5aff9d,#5aff9d,#5aff9d,#5aff9d,#5aff9d,#5aff9d,#5aff9d,#5aff9d,#5aff9d,#5aff9d,#5aff9d,#5aff9d,#5aff9d,#5aff9d,#5aff9d,#5aff9d,#5aff9d,#56ffa0,#56ffa0,#56ffa0,#56ffa0,#56ffa0,#56ffa0,#56ffa0,#56ffa0,#56ffa0,#56ffa0,#5aff9d,#5aff9d,#5aff9d)"></i>
<i style="background:linear-gradient(90deg,#6dff8a,#6dff8a,#6dff8a,#6dff8a,#6dff8a,#6dff8a,#6dff8a,#6dff8a,#6dff8a,#6dff8a,#6dff8a,#6dff8a,#6dff8a,#6dff8a,#6dff8a,#6dff8a,#6dff8a,#6dff8a,#6dff8a,#6dff8a,#6dff8a,#6dff8a,#6dff8a,#6dff8a,#6dff8a,#6dff8a,#6dff8a,#6dff8a,#6dff8a,#6dff8a,#6dff8a,#6dff8a,#6dff8a)"></i>
<i style="background:linear-gradient(90deg,#83ff73,#83ff73,#83ff73,#83ff73,#83ff73,#80ff77,#80ff77,#80ff77,#80ff77,#80ff77,#80ff77,#80ff77,#80ff77,#80ff77,#80ff77,#80ff77,#80ff77,#80ff77,#80ff77,#80ff77,#80ff77,#80ff77,#80ff77,#80ff77,#80ff77,#80ff77,#80ff77,#80ff77,#80ff77,#83ff73,#83ff73,#83ff73,#83ff73)"></i>
<i style="background:linear-gradient(90deg,#97ff60,#97ff60,#97ff60,#97ff60,#94ff63,#94ff63,#94ff63,#94ff63,#94ff63,#94ff63,#94ff63,#94ff63,#94ff63,#94ff63,#94ff63,#94ff63,#94ff63,#94ff63,#94ff63,#94ff63,#94ff63,#94ff63,#94ff63,#94ff63,#94ff63,#94ff63,#94ff63,#94ff63,#94ff63,#94ff63,#97ff60,#97ff60,#97ff60)"></i>
<i style="background:linear-gradient(90deg,#a7ff50,#a7ff50,#a7ff50,#a7ff50,#a7ff50,#a4ff53,#a4ff53,#a4ff53,#a4ff53,#a4ff53,#a4ff53,#a4ff53,#a4ff53,#a4ff53,#a4ff53,#a4ff53,#a4ff53,#a4ff53,#a7ff50,#a7ff50,#a7ff50,#a7ff50,#a7ff50,#a7ff50,#a7ff50,#a7ff50,#a7ff50,#a4ff53,#a7ff50,#a7ff50,#a7ff50,#a7ff50,#a7ff50)"></i>
<i style="background:linear-gradient(90deg,#baff3c,#baff3c,#baff3c,#b7ff40,#b7ff40,#b4ff43,#b4ff43,#b4ff43,#b4ff43,#b4ff43,#b4ff43,#b4ff43,#b4ff43,#b4ff43,#b4ff43,#b7ff40,#b7ff40,#b7ff40,#b7ff40,#b7ff40,#b7ff40,#b7ff40,#b7ff40,#b7ff40,#b7ff40,#b7ff40,#b7ff40,#b7ff40,#b7ff40,#b7ff40,#b7ff40,#baff3c,#baff3c)"></i>
<i style="background:linear-gradient(90deg,#c7ff30,#c7ff30,#c4ff33,#c4ff33,#c1ff36,#c1ff36,#beff39,#beff39,#beff39,#beff39,#beff39,#beff39,#c1ff36,#c1ff36,#c1ff36,#c1ff36,#c4ff33,#c4ff33,#c4ff33,#c4ff33,#c7ff30,#c7ff30,#c7ff30,#c7ff30,#c4ff33,#c4ff33,#c4ff33,#c4ff33,#c4ff33,#c4ff33,#c4ff33,#c4ff33,#c7ff30)"></i>
<i style="background:linear-gradient(90deg,#caff2c,#caff2c,#c7ff30,#c7ff30,#c4ff33,#c4ff33,#c1ff36,#c1ff36,#c1ff36,#c1ff36,#c1ff36,#c1ff36,#c4ff33,#c4ff33,#c4ff33,#c7ff30,#c7ff30,#caff2c,#caff2c,#caff2c,#caff2c,#ceff29,#ceff29,#caff2c,#caff2c,#caff2c,#c7ff30,#c7ff30,#c7ff30,#c7ff30,#c7ff30,#c7ff30,#caff2c)"></i>
<i style="background:linear-gradient(90deg,#caff2c,#caff2c,#caff2c,#c7ff30,#c7ff30,#c4ff33,#c4ff33,#c4ff33,#c4ff33,#c4ff33,#c4ff33,#c4ff33,#c4ff33,#c7ff30,#c7ff30,#caff2c,#caff2c,#caff2c,#ceff29,#ceff29,#ceff29,#d1ff26,#d1ff26,#ceff29,#ceff29,#ceff29,#caff2c,#caff2c,#caff2c,#caff2c,#caff2c,#caff2c,#caff2c)"></i>
<i style="background:linear-gradient(90deg,#caff2c,#caff2c,#caff2c,#c7ff30,#c7ff30,#c4ff33,#c4ff33,#c4ff33,#c4ff33,#c4ff33,#c4ff33,#c4ff33,#c7ff30,#c7ff30,#c7ff30,#caff2c,#caff2c,#ceff29,#ceff29,#ceff29,#ceff29,#d1ff26,#d1ff26,#ceff29,#ceff29,#ceff29,#caff2c,#caff2c,#caff2c,#caff2c,#caff2c,#caff2c,#caff2c)"></i>
<i style="background:linear-gradient(90deg,#c4ff33,#c4ff33,#c4ff33,#c4ff33,#c1ff36,#c1ff36,#c1ff36,#c1ff36,#c1ff36,#c1ff36,#c1ff36,#c1ff36,#c1ff36,#c1ff36,#c4ff33,#c4ff33,#c4ff33,#c7ff30,#c7ff30,#c7ff30,#c7ff30,#c7ff30,#c7ff30,#c7ff30,#c7ff30,#c7ff30,#c7ff30,#c4ff33,#c4ff33,#c4ff33,#c4ff33,#c4ff33,#c4ff33)"></i>
<i style="background:linear-gradient(90deg,#adff49,#adff49,#adff49,#adff49,#adff49,#aaff4d,#aaff4d,#aaff4d,#aaff4d,#aaff4d,#aaff4d,#adff49,#adff49,#adff49,#adff49,#adff49,#adff49,#b1ff46,#b1ff46,#b1ff46,#b1ff46,#b1ff46,#b1ff46,#b1ff46,#b1ff46,#b1ff46,#adff49,#adff49,#adff49,#adff49,#adff49,#adff49,#adff49)"></i>
<i style="background:linear-gradient(90deg,#97ff60,#97ff60,#97ff60,#97ff60,#97ff60,#97ff60,#97ff60,#97ff60,#97ff60,#97ff60,#97ff60,#97ff60,#97ff60,#97ff60,#97ff60,#97ff60,#97ff60,#97ff60,#97ff60,#97ff60,#97ff60,#97ff60,#97ff60,#97ff60,#97ff60,#97ff60,#97ff60,#97ff60,#97ff60,#97ff60,#97ff60,#97ff60,#97ff60)"></i>
<i style="background:linear-gradient(90deg,#80ff77,#80ff77,#80ff77,#80ff77,#80ff77,#80ff77,#80ff77,#80ff77,#80ff77,#80ff77,#80ff77,#80ff77,#80ff77,#80ff77,#80ff77,#80ff77,#80ff77,#80ff77,#80ff77,#80ff77,#80ff77,#80ff77,#80ff77,#80ff77,#80ff77,#80ff77,#80ff77,#80ff77,#80ff77,#80ff77,#80ff77,#80ff77,#80ff77)"></i>
<i style="background:linear-gradient(90deg,#6dff8a,#6dff8a,#6dff8a,#6dff8a,#6dff8a,#6dff8a,#6dff8a,#6dff8a,#6dff8a,#6dff8a,#6dff8a,#6dff8a,#6dff8a,#6dff8a,#6dff8a,#6dff8a,#6dff8a,#6dff8a,#6dff8a,#6dff8a,#6dff8a,#6dff8a,#6dff8a,#6dff8a,#6dff8a,#6dff8a,#6dff8a,#6dff8a,#6dff8a,#6dff8a,#6dff8a,#6dff8a,#6dff8a)"></i>
<i style="background:linear-gradient(90deg,#60ff97,#60ff97,#60ff97,#60ff97,#60ff97,#60ff97,#60ff97,#60ff97,#60ff97,#60ff97,#60ff97,#60ff97,#60ff97,#60ff97,#60ff97,#60ff97,#60ff97,#60ff97,#60ff97,#60ff97,#60ff97,#60ff97,#60ff97,#60ff97,#60ff97,#60ff97,#60ff97,#60ff97,#60ff97,#60ff97,#60ff97,#60ff97,#60ff97)"></i>
<i style="background:linear-gradient(90deg,#53ffa4,#53ffa4,#53ffa4,#53ffa4,#53ffa4,#53ffa4,#53ffa4,#53ffa4,#53ffa4,#53ffa4,#53ffa4,#53ffa4,#53ffa4,#53ffa4,#53ffa4,#53ffa4,#53ffa4,#53ffa4,#53ffa4,#53ffa4,#53ffa4,#53ffa4,#53ffa4,#53ffa4,#53ffa4,#53ffa4,#53ffa4,#53ffa4,#53ffa4,#53ffa4,#53ffa4,#53ffa4,#53ffa4)"></i>
<i style="background:linear-gradient(90deg,#49ffad,#49ffad,#49ffad,#49ffad,#49ffad,#49ffad,#49ffad,#49ffad,#49ffad,#49ffad,#49ffad,#49ffad,#49ffad,#49ffad,#49ffad,#49ffad,#49ffad,#49ffad,#49ffad,#49ffad,#49ffad,#49ffad,#49ffad,#49ffad,#49ffad,#49ffad,#49ffad,#49ffad,#49ffad,#49ffad,#49ffad,#49ffad,#49ffad)"></i>
<i style="background:linear-gradient(90deg,#43ffb4,#43ffb4,#43ffb4,#43ffb4,#43ffb4,#43ffb4,#43ffb4,#43ffb4,#43ffb4,#43ffb4,#43ffb4,#43ffb4,#43ffb4,#43ffb4,#43ffb4,#43ffb4,#43ffb4,#43ffb4,#43ffb4,#43ffb4,#43ffb4,#43ffb4,#43ffb4,#43ffb4,#43ffb4,#43ffb4,#43ffb4,#43ffb4,#43ffb4,#43ffb4,#43ffb4,#43ffb4,#43ffb4)"></i>
<i style="background:linear-gradient(90deg,#3cffba,#3cffba,#3cffba,#3cffba,#3cffba,#3cffba,#3cffba,#3cffba,#3cffba,#3cffba,#3cffba,#3cffba,#3cffba,#3cffba,#3cffba,#3cffba,#3cffba,#3cffba,#3cffba,#3cffba,#3cffba,#3cffba,#3cffba,#3cffba,#3cffba,#3cffba,#3cffba,#3cffba,#3cffba,#3cffba,#3cffba,#3cffba,#3cffba)"></i>
<i style="background:linear-gradient(90deg,#39ffbe,#39ffbe,#39ffbe,#39ffbe,#39ffbe,#39ffbe,#39ffbe,#39ffbe,#39ffbe,#39ffbe,#39ffbe,#39ffbe,#39ffbe,#39ffbe,#39ffbe,#39ffbe,#39ffbe,#39ffbe,#39ffbe,#39ffbe,#39ffbe,#39ffbe,#39ffbe,#39ffbe,#39ffbe,#39ffbe,#39ffbe,#39ffbe,#39ffbe,#39ffbe,#39ffbe,#39ffbe,#39ffbe)"></i>
<i style="background:linear-gradient(90deg,#39ffbe,#39ffbe,#39ffbe,#39ffbe,#39ffbe,#39ffbe,#39ffbe,#39ffbe,#39ffbe,#39ffbe,#39ffbe,#39ffbe,#39ffbe,#39ffbe,#39ffbe,#39ffbe,#39ffbe,#39ffbe,#39ffbe,#39ffbe,#39ffbe,#39ffbe,#39ffbe,#39ffbe,#39ffbe,#39ffbe,#39ffbe,#39ffbe,#39ffbe,#39ffbe,#39ffbe,#39ffbe,#39ffbe)"></i>
<i style="background:linear-gradient(90deg,#36ffc1,#36ffc1,#36ffc1,#36ffc1,#36ffc1,#36ffc1,#36ffc1,#36ffc1,#36ffc1,#36ffc1,#36ffc1,#36ffc1,#36ffc1,#36ffc1,#36ffc1,#36ffc1,#36ffc1,#36ffc1,#36ffc1,#36ffc1,#36ffc1,#36ffc1,#36ffc1,#36ffc1,#36ffc1,#36ffc1,#36ffc1,#36ffc1,#36ffc1,#36ffc1,#36ffc1,#36ffc1,#36ffc1)"></i>
<i style="background:linear-gradient(90deg,#36ffc1,#36ffc1,#36ffc1,#36ffc1,#36ffc1,#36ffc1,#36ffc1,#36ffc1,#36ffc1,#36ffc1,#36ffc1,#36ffc1,#36ffc1,#36ffc1,#36ffc1,#36ffc1,#36ffc1,#36ffc1,#36ffc1,#36ffc1,#36ffc1,#36ffc1,#36ffc1,#36ffc1,#36ffc1,#36ffc1,#36ffc1,#36ffc1,#36ffc1,#36ffc1,#36ffc1,#36ffc1,#36ffc1)"></i>
<i style="background:linear-gradient(90deg,#36ffc1,#36ffc1,#36ffc1,#36ffc1,#36ffc1,#36ffc1,#36ffc1,#36ffc1,#36ffc1,#36ffc1,#36ffc1,#36ffc1,#36ffc1,#36ffc1,#36ffc1,#36ffc1,#36ffc1,#36ffc1,#36ffc1,#36ffc1,#36ffc1,#36ffc1,#36ffc1,#36ffc1,#36ffc1,#36ffc1,#36ffc1,#36ffc1,#36ffc1,#36ffc1,#36ffc1,#36ffc1,#36ffc1)"></i>
<i style="background:linear-gradient(90deg,#33ffc4,#33ffc4,#33ffc4,#33ffc4,#33ffc4,#33ffc4,#33ffc4,#33ffc4,#33ffc4,#33ffc4,#33ffc4,#33ffc4,#33ffc4,#33ffc4,#33ffc4,#33ffc4,#33ffc4,#33ffc4,#33ffc4,#33ffc4,#33ffc4,#33ffc4,#33ffc4,#33ffc4,#33ffc4,#33ffc4,#33ffc4,#33ffc4,#33ffc4,#33ffc4,#33ffc4,#33ffc4,#33ffc4)"></i>
<i style="background:linear-gradient(90deg,#33ffc4,#33ffc4,#33ffc4,#33ffc4,#33ffc4,#33ffc4,#33ffc4,#33ffc4,#33ffc4,#33ffc4,#33ffc4,#33ffc4,#33ffc4,#33ffc4,#33ffc4,#33ffc4,#33ffc4,#33ffc4,#33ffc4,#33ffc4,#33ffc4,#33ffc4,#33ffc4,#33ffc4,#33ffc4,#33ffc4,#33ffc4,#33ffc4,#33ffc4,#33ffc4,#33ffc4,#33ffc4,#33ffc4)"></i>
</div>
<div class="p q" style="left:373.8px;top:227.4px">
<i></i>
<i></i>
<i></i>
<i></i>
<i></i>
<i></i>
<i style="background:linear-gradient(90deg,#f6fbd0 1px,#e4f4f1 0 3px,#f6fbd0 0 12px,#fff9bc 0 15px,#f6fbd0 0 20px,#e4f4f1 0 28px,#f6fbd0 0 29px,#e4f4f1 0 33px,#f6fbd0 0 39px,#e4f4f1 0 46px,#f6fbd0 0 56px,#e4f4f1 0 59px,#c7e7f1 0 67px,#e4f4f1 0 71px,#f6fbd0 0 76px,#fff9bc 0 80px,#f6fbd0 0 118px,#fff9bc 0 119px,#f6fbd0 0 122px,#e4f4f1 0 133px,#c7e7f1 0 135px,#e4f4f1 0 142px,#f6fbd0 0 151px,#fff9bc 0 154px,#f6fbd0 0 158px,#e4f4f1 0 160px,#f6fbd0 0)"></i>
<i style="background:linear-gradient(90deg,#f6fbd0 1px,#e4f4f1 0 3px,#f6fbd0 0 12px,#fff9bc 0 14px,#f6fbd0 0 21px,#e4f4f1 0 34px,#f6fbd0 0 37px,#e4f4f1 0 46px,#f6fbd0 0 57px,#e4f4f1 0 58px,#c7e7f1 0 67px,#e4f4f1 0 73px,#f6fbd0 0 76px,#fff9bc 0 79px,#f6fbd0 0 83px,#e4f4f1 0 84px,#f6fbd0 0 121px,#e4f4f1 0 124px,#c7e7f1 0 125px,#e4f4f1 0 131px,#c7e7f1 0 136px,#e4f4f1 0 143px,#f6fbd0 0 151px,#fff9bc 0 154px,#f6fbd0 0)"></i>
<i style="background:linear-gradient(90deg,#e4f4f1 3px,#f6fbd0 0 16px,#e4f4f1 0 17px,#f6fbd0 0 21px,#e4f4f1 0 25px,#c7e7f1 0 28px,#e4f4f1 0 35px,#f6fbd0 0 37px,#e4f4f1 0 47px,#f6fbd0 0 49px,#e4f4f1 0 51px,#f6fbd0 0 57px,#e4f4f1 0 58px,#c7e7f1 0 66px,#e4f4f1 0 73px,#f6fbd0 0 77px,#fff9bc 0 79px,#f6fbd0 0 82px,#e4f4f1 0 84px,#f6fbd0 0 88px,#e4f4f1 0 90px,#f6fbd0 0 114px,#e4f4f1 0 116px,#f6fbd0 0 119px,#e4f4f1 0 128px,#c7e7f1 0 142px,#e4f4f1 0 143px,#f6fbd0 0 158px,#e4f4f1 0 160px,#f6fbd0 0)"></i>
<i style="background:linear-gradient(90deg,#e4f4f1 4px,#f6fbd0 0 9px,#e4f4f1 0 10px,#f6fbd0 0 13px,#e4f4f1 0 22px,#c7e7f1 0 32px,#e4f4f1 0 35px,#f6fbd0 0 38px,#e4f4f1 0 46px,#f6fbd0 0 48px,#e4f4f1 0 52px,#f6fbd0 0 56px,#e4f4f1 0 59px,#c7e7f1 0 64px,#e4f4f1 0 69px,#f6fbd0 0 70px,#e4f4f1 0 71px,#f6fbd0 0 76px,#fff9bc 0 79px,#f6fbd0 0 88px,#e4f4f1 0 98px,#f6fbd0 0 112px,#e4f4f1 0 116px,#f6fbd0 0 118px,#e4f4f1 0 125px,#c7e7f1 0 142px,#e4f4f1 0 145px,#f6fbd0 0 155px,#e4f4f1 0)"></i>
<i style="background:linear-gradient(90deg,#e4f4f1 4px,#f6fbd0 0 8px,#e4f4f1 0 11px,#f6fbd0 0 13px,#e4f4f1 0 15px,#c7e7f1 0 32px,#e4f4f1 0 46px,#f6fbd0 0 49px,#e4f4f1 0 53px,#f6fbd0 0 56px,#e4f4f1 0 59px,#c7e7f1 0 64px,#e4f4f1 0 66px,#f6fbd0 0 76px,#fff9bc 0 79px,#f6fbd0 0 85px,#fff9bc 0 86px,#f6fbd0 0 88px,#e4f4f1 0 98px,#f6fbd0 0 109px,#e4f4f1 0 116px,#f6fbd0 0 118px,#e4f4f1 0 123px,#c7e7f1 0 141px,#e4f4f1 0 145px,#f6fbd0 0 155px,#e4f4f1 0)"></i>
<i style="background:linear-gradient(90deg,#e4f4f1 4px,#f6fbd0 0 8px,#e4f4f1 0 15px,#c7e7f1 0 26px,#e4f4f1 0 46px,#f6fbd0 0 48px,#e4f4f1 0 54px,#f6fbd0 0 56px,#e4f4f1 0 60px,#c7e7f1 0 63px,#e4f4f1 0 65px,#f6fbd0 0 68px,#fff9bc 0 69px,#f6fbd0 0 76px,#fff9bc 0 79px,#f6fbd0 0 85px,#fff9bc 0 86px,#f6fbd0 0 87px,#e4f4f1 0 95px,#f6fbd0 0 109px,#e4f4f1 0 117px,#f6fbd0 0 118px,#e4f4f1 0 123px,#c7e7f1 0 131px,#a8d6e8 0 132px,#c7e7f1 0 136px,#e4f4f1 0 138px,#c7e7f1 0 140px,#e4f4f1 0 144px,#f6fbd0 0 156px,#e4f4f1 0)"></i>
<i style="background:linear-gradient(90deg,#f6fbd0 8px,#e4f4f1 0 15px,#c7e7f1 0 25px,#e4f4f1 0 41px,#f6fbd0 0 44px,#e4f4f1 0 45px,#f6fbd0 0 47px,#e4f4f1 0 53px,#f6fbd0 0 59px,#e4f4f1 0 64px,#f6fbd0 0 70px,#fff9bc 0 73px,#f6fbd0 0 75px,#fff9bc 0 79px,#f6fbd0 0 87px,#e4f4f1 0 92px,#f6fbd0 0 93px,#e4f4f1 0 94px,#f6fbd0 0 110px,#e4f4f1 0 117px,#f6fbd0 0 118px,#e4f4f1 0 124px,#c7e7f1 0 130px,#a8d6e8 0 132px,#c7e7f1 0 139px,#e4f4f1 0 144px,#f6fbd0 0 156px,#e4f4f1 0)"></i>
<i style="background:linear-gradient(90deg,#f6fbd0 8px,#e4f4f1 0 17px,#c7e7f1 0 24px,#e4f4f1 0 29px,#f6fbd0 0 32px,#e4f4f1 0 39px,#f6fbd0 0 47px,#e4f4f1 0 51px,#f6fbd0 0 61px,#e4f4f1 0 64px,#f6fbd0 0 69px,#fff9bc 0 79px,#f6fbd0 0 86px,#e4f4f1 0 91px,#f6fbd0 0 104px,#fff9bc 0 106px,#f6fbd0 0 109px,#e4f4f1 0 116px,#f6fbd0 0 118px,#e4f4f1 0 124px,#c7e7f1 0 139px,#e4f4f1 0 143px,#f6fbd0 0 157px,#e4f4f1 0 163px,#f6fbd0 0)"></i>
<i style="background:linear-gradient(90deg,#f6fbd0 9px,#e4f4f1 0 12px,#f6fbd0 0 14px,#e4f4f1 0 20px,#c7e7f1 0 25px,#e4f4f1 0 28px,#f6fbd0 0 37px,#e4f4f1 0 39px,#f6fbd0 0 47px,#e4f4f1 0 54px,#f6fbd0 0 69px,#fff9bc 0 78px,#f6fbd0 0 86px,#e4f4f1 0 91px,#f6fbd0 0 103px,#fff9bc 0 105px,#f6fbd0 0 108px,#e4f4f1 0 117px,#f6fbd0 0 118px,#e4f4f1 0 125px,#c7e7f1 0 139px,#e4f4f1 0 143px,#f6fbd0 0 148px,#fff9bc 0 154px,#f6fbd0 0 156px,#e4f4f1 0 159px,#f6fbd0 0 160px,#e4f4f1 0 161px,#f6fbd0 0)"></i>
<i style="background:linear-gradient(90deg,#f6fbd0 4px,#fff9bc 0 5px,#f6fbd0 0 17px,#e4f4f1 0 22px,#c7e7f1 0 25px,#e4f4f1 0 28px,#f6fbd0 0 37px,#e4f4f1 0 39px,#f6fbd0 0 48px,#e4f4f1 0 55px,#f6fbd0 0 58px,#fff9bc 0 59px,#f6fbd0 0 68px,#fff9bc 0 77px,#f6fbd0 0 81px,#e4f4f1 0 82px,#f6fbd0 0 87px,#e4f4f1 0 90px,#f6fbd0 0 102px,#fff9bc 0 105px,#f6fbd0 0 107px,#e4f4f1 0 125px,#c7e7f1 0 139px,#e4f4f1 0 142px,#f6fbd0 0 147px,#fff9bc 0 154px,#f6fbd0 0 155px,#e4f4f1 0 158px,#f6fbd0 0)"></i>
<i style="background:linear-gradient(90deg,#f6fbd0 3px,#fff9bc 0 5px,#f6fbd0 0 17px,#e4f4f1 0 28px,#f6fbd0 0 42px,#e4f4f1 0 44px,#f6fbd0 0 48px,#e4f4f1 0 56px,#f6fbd0 0 58px,#fff9bc 0 59px,#f6fbd0 0 64px,#fff9bc 0 77px,#f6fbd0 0 101px,#fff9bc 0 104px,#f6fbd0 0 107px,#e4f4f1 0 125px,#c7e7f1 0 139px,#e4f4f1 0 143px,#f6fbd0 0 147px,#fff9bc 0 153px,#f6fbd0 0 155px,#e4f4f1 0 158px,#f6fbd0 0)"></i>
<i style="background:linear-gradient(90deg,#f6fbd0 3px,#fff9bc 0 6px,#f6fbd0 0 16px,#e4f4f1 0 21px,#f6fbd0 0 23px,#e4f4f1 0 28px,#f6fbd0 0 42px,#e4f4f1 0 45px,#f6fbd0 0 47px,#e4f4f1 0 56px,#f6fbd0 0 63px,#fff9bc 0 78px,#f6fbd0 0 86px,#e4f4f1 0 87px,#f6fbd0 0 107px,#e4f4f1 0 125px,#c7e7f1 0 139px,#e4f4f1 0 144px,#f6fbd0 0 149px,#fff9bc 0 152px,#f6fbd0 0 155px,#e4f4f1 0 157px,#f6fbd0 0)"></i>
<i style="background:linear-gradient(90deg,#f6fbd0 16px,#e4f4f1 0 20px,#f6fbd0 0 24px,#e4f4f1 0 28px,#f6fbd0 0 43px,#e4f4f1 0 53px,#f6fbd0 0 62px,#fff9bc 0 78px,#f6fbd0 0 84px,#e4f4f1 0 87px,#f6fbd0 0 106px,#e4f4f1 0 125px,#c7e7f1 0 134px,#e4f4f1 0 144px,#f6fbd0 0 145px,#e4f4f1 0 147px,#f6fbd0 0 150px,#fff9bc 0 151px,#f6fbd0 0)"></i>
<i style="background:linear-gradient(90deg,#f6fbd0 16px,#e4f4f1 0 18px,#f6fbd0 0 26px,#e4f4f1 0 29px,#f6fbd0 0 44px,#e4f4f1 0 52px,#f6fbd0 0 57px,#e4f4f1 0 58px,#f6fbd0 0 62px,#fff9bc 0 70px,#ffeba0 0 71px,#fff9bc 0 72px,#ffeba0 0 73px,#fff9bc 0 76px,#f6fbd0 0 83px,#e4f4f1 0 87px,#f6fbd0 0 104px,#e4f4f1 0 106px,#f6fbd0 0 107px,#e4f4f1 0 124px,#c7e7f1 0 134px,#e4f4f1 0 147px,#f6fbd0 0 149px,#fff9bc 0 151px,#f6fbd0 0)"></i>
<i style="background:linear-gradient(90deg,#f6fbd0 26px,#e4f4f1 0 30px,#f6fbd0 0 46px,#e4f4f1 0 50px,#f6fbd0 0 63px,#fff9bc 0 75px,#f6fbd0 0 80px,#fff9bc 0 81px,#f6fbd0 0 83px,#e4f4f1 0 87px,#f6fbd0 0 96px,#fff9bc 0 99px,#f6fbd0 0 108px,#e4f4f1 0 110px,#f6fbd0 0 111px,#e4f4f1 0 127px,#c7e7f1 0 134px,#e4f4f1 0 139px,#f6fbd0 0 141px,#e4f4f1 0 145px,#f6fbd0 0 147px,#fff9bc 0 152px,#f6fbd0 0)"></i>
<i style="background:linear-gradient(90deg,#fff9bc 1px,#f6fbd0 0 26px,#e4f4f1 0 30px,#f6fbd0 0 42px,#fff9bc 0 43px,#f6fbd0 0 51px,#fff9bc 0 53px,#f6fbd0 0 54px,#fff9bc 0 57px,#f6fbd0 0 63px,#fff9bc 0 73px,#f6fbd0 0 89px,#fff9bc 0 91px,#f6fbd0 0 96px,#fff9bc 0 101px,#f6fbd0 0 103px,#e4f4f1 0 104px,#f6fbd0 0 108px,#e4f4f1 0 128px,#c7e7f1 0 134px,#e4f4f1 0 137px,#f6fbd0 0 141px,#e4f4f1 0 143px,#f6fbd0 0 146px,#fff9bc 0 148px,#f6fbd0 0 149px,#fff9bc 0 152px,#f6fbd0 0)"></i>
<i style="background:linear-gradient(90deg,#f6fbd0 18px,#e4f4f1 0 20px,#f6fbd0 0 26px,#e4f4f1 0 31px,#f6fbd0 0 50px,#fff9bc 0 58px,#f6fbd0 0 63px,#fff9bc 0 72px,#f6fbd0 0 79px,#e4f4f1 0 83px,#f6fbd0 0 85px,#fff9bc 0 92px,#f6fbd0 0 95px,#fff9bc 0 98px,#f6fbd0 0 103px,#e4f4f1 0 105px,#f6fbd0 0 108px,#e4f4f1 0 128px,#c7e7f1 0 134px,#e4f4f1 0 137px,#f6fbd0 0 141px,#e4f4f1 0 142px,#f6fbd0 0 144px,#fff9bc 0 152px,#f6fbd0 0)"></i>
<i style="background:linear-gradient(90deg,#f6fbd0 19px,#e4f4f1 0 20px,#f6fbd0 0 26px,#e4f4f1 0 32px,#f6fbd0 0 46px,#e4f4f1 0 47px,#f6fbd0 0 49px,#fff9bc 0 57px,#f6fbd0 0 63px,#fff9bc 0 71px,#f6fbd0 0 79px,#e4f4f1 0 82px,#f6fbd0 0 84px,#fff9bc 0 92px,#f6fbd0 0 94px,#fff9bc 0 95px,#f6fbd0 0 102px,#e4f4f1 0 105px,#f6fbd0 0 108px,#e4f4f1 0 118px,#f6fbd0 0 127px,#e4f4f1 0 130px,#c7e7f1 0 134px,#e4f4f1 0 137px,#f6fbd0 0 143px,#fff9bc 0 146px,#f6fbd0 0 149px,#fff9bc 0 152px,#f6fbd0 0)"></i>
<i style="background:linear-gradient(90deg,#f6fbd0 27px,#e4f4f1 0 33px,#f6fbd0 0 45px,#e4f4f1 0 47px,#f6fbd0 0 49px,#fff9bc 0 54px,#f6fbd0 0 63px,#fff9bc 0 69px,#f6fbd0 0 80px,#e4f4f1 0 82px,#f6fbd0 0 87px,#fff9bc 0 96px,#f6fbd0 0 100px,#e4f4f1 0 105px,#f6fbd0 0 108px,#e4f4f1 0 111px,#c7e7f1 0 112px,#e4f4f1 0 115px,#f6fbd0 0 119px,#fff9bc 0 121px,#ffeba0 0 123px,#fed786 0 124px,#ffeba0 0 127px,#fff9bc 0 128px,#f6fbd0 0 130px,#e4f4f1 0 137px,#f6fbd0 0 139px,#fff9bc 0 140px,#f6fbd0 0 146px,#e4f4f1 0 148px,#f6fbd0 0 149px,#fff9bc 0 151px,#f6fbd0 0 157px,#e4f4f1 0 158px,#f6fbd0 0)"></i>
<i style="background:linear-gradient(90deg,#f6fbd0 16px,#e4f4f1 0 18px,#f6fbd0 0 25px,#fff9bc 0 27px,#f6fbd0 0 29px,#e4f4f1 0 35px,#f6fbd0 0 43px,#e4f4f1 0 47px,#f6fbd0 0 51px,#fff9bc 0 53px,#f6fbd0 0 63px,#fff9bc 0 68px,#f6fbd0 0 80px,#e4f4f1 0 83px,#f6fbd0 0 89px,#fff9bc 0 98px,#f6fbd0 0 100px,#e4f4f1 0 102px,#f6fbd0 0 106px,#e4f4f1 0 107px,#f6fbd0 0 108px,#e4f4f1 0 111px,#c7e7f1 0 112px,#e4f4f1 0 115px,#f6fbd0 0 118px,#fff9bc 0 120px,#ffeba0 0 121px,#fed786 0 122px,#fdbd6e 0 123px,#fa9e5a 0 125px,#fdbd6e 0 126px,#fed786 0 128px,#ffeba0 0 129px,#fff9bc 0 130px,#f6fbd0 0 131px,#e4f4f1 0 138px,#f6fbd0 0 139px,#fff9bc 0 141px,#f6fbd0 0 144px,#e4f4f1 0 147px,#f6fbd0 0 149px,#fff9bc 0 151px,#f6fbd0 0 157px,#e4f4f1 0 160px,#f6fbd0 0)"></i>
<i style="background:linear-gradient(90deg,#f6fbd0 16px,#e4f4f1 0 18px,#f6fbd0 0 24px,#fff9bc 0 27px,#f6fbd0 0 30px,#e4f4f1 0 35px,#f6fbd0 0 42px,#e4f4f1 0 46px,#f6fbd0 0 64px,#fff9bc 0 66px,#f6fbd0 0 70px,#e4f4f1 0 71px,#f6fbd0 0 79px,#e4f4f1 0 88px,#f6fbd0 0 94px,#fff9bc 0 98px,#f6fbd0 0 100px,#e4f4f1 0 102px,#f6fbd0 0 108px,#e4f4f1 0 116px,#f6fbd0 0 119px,#fff9bc 0 120px,#ffeba0 0 121px,#fed786 0 122px,#fdbd6e 0 126px,#fed786 0 127px,#ffeba0 0 128px,#fff9bc 0 130px,#f6fbd0 0 131px,#e4f4f1 0 138px,#f6fbd0 0 139px,#fff9bc 0 141px,#f6fbd0 0 143px,#e4f4f1 0 145px,#f6fbd0 0 155px,#e4f4f1 0 156px,#f6fbd0 0 157px,#e4f4f1 0 160px,#f6fbd0 0)"></i>
<i style="background:linear-gradient(90deg,#f6fbd0 17px,#e4f4f1 0 18px,#f6fbd0 0 22px,#fff9bc 0 27px,#f6fbd0 0 30px,#e4f4f1 0 35px,#f6fbd0 0 42px,#e4f4f1 0 46px,#f6fbd0 0 68px,#e4f4f1 0 72px,#f6fbd0 0 74px,#e4f4f1 0 91px,#f6fbd0 0 92px,#e4f4f1 0 93px,#f6fbd0 0 99px,#e4f4f1 0 103px,#f6fbd0 0 108px,#e4f4f1 0 112px,#c7e7f1 0 113px,#e4f4f1 0 116px,#f6fbd0 0 121px,#fff9bc 0 123px,#ffeba0 0 124px,#fff9bc 0 128px,#f6fbd0 0 130px,#e4f4f1 0 137px,#f6fbd0 0 139px,#fff9bc 0 142px,#f6fbd0 0 154px,#e4f4f1 0 155px,#f6fbd0 0)"></i>
<i style="background:linear-gradient(90deg,#f6fbd0 22px,#fff9bc 0 27px,#f6fbd0 0 31px,#e4f4f1 0 37px,#f6fbd0 0 52px,#e4f4f1 0 56px,#f6fbd0 0 60px,#e4f4f1 0 64px,#f6fbd0 0 66px,#e4f4f1 0 93px,#f6fbd0 0 100px,#e4f4f1 0 105px,#f6fbd0 0 108px,#e4f4f1 0 111px,#c7e7f1 0 113px,#e4f4f1 0 123px,#f6fbd0 0 125px,#e4f4f1 0 136px,#f6fbd0 0 139px,#fff9bc 0 142px,#f6fbd0 0)"></i>
<i style="background:linear-gradient(90deg,#f6fbd0 11px,#e4f4f1 0 13px,#f6fbd0 0 22px,#fff9bc 0 29px,#f6fbd0 0 31px,#e4f4f1 0 35px,#f6fbd0 0 36px,#e4f4f1 0 38px,#f6fbd0 0 41px,#e4f4f1 0 46px,#f6fbd0 0 48px,#e4f4f1 0 75px,#c7e7f1 0 79px,#e4f4f1 0 92px,#f6fbd0 0 100px,#e4f4f1 0 106px,#f6fbd0 0 108px,#e4f4f1 0 136px,#f6fbd0 0 157px,#fff9bc 0 159px,#f6fbd0 0)"></i>
<i style="background:linear-gradient(90deg,#f6fbd0 11px,#e4f4f1 0 14px,#f6fbd0 0 22px,#fff9bc 0 28px,#f6fbd0 0 33px,#e4f4f1 0 52px,#c7e7f1 0 59px,#e4f4f1 0 61px,#c7e7f1 0 63px,#e4f4f1 0 73px,#c7e7f1 0 79px,#e4f4f1 0 136px,#f6fbd0 0 156px,#fff9bc 0 159px,#f6fbd0 0)"></i>
<i style="background:linear-gradient(90deg,#f6fbd0 10px,#e4f4f1 0 14px,#f6fbd0 0 22px,#fff9bc 0 26px,#f6fbd0 0 35px,#e4f4f1 0 51px,#c7e7f1 0 64px,#e4f4f1 0 67px,#c7e7f1 0 80px,#e4f4f1 0 90px,#f6fbd0 0 91px,#e4f4f1 0 102px,#c7e7f1 0 107px,#e4f4f1 0 134px,#f6fbd0 0 137px,#fff9bc 0 138px,#f6fbd0 0 156px,#fff9bc 0 159px,#f6fbd0 0)"></i>
<i style="background:linear-gradient(90deg,#f6fbd0 10px,#e4f4f1 0 13px,#f6fbd0 0 35px,#e4f4f1 0 50px,#c7e7f1 0 80px,#e4f4f1 0 102px,#c7e7f1 0 108px,#e4f4f1 0 132px,#f6fbd0 0 156px,#fff9bc 0 160px,#f6fbd0 0)"></i>
<i style="background:linear-gradient(90deg,#f6fbd0 10px,#e4f4f1 0 13px,#f6fbd0 0 36px,#e4f4f1 0 49px,#c7e7f1 0 53px,#a8d6e8 0 56px,#c7e7f1 0 69px,#a8d6e8 0 70px,#c7e7f1 0 80px,#e4f4f1 0 94px,#c7e7f1 0 95px,#e4f4f1 0 96px,#c7e7f1 0 101px,#e4f4f1 0 102px,#c7e7f1 0 108px,#e4f4f1 0 133px,#f6fbd0 0 140px,#fff9bc 0 142px,#f6fbd0 0 156px,#fff9bc 0 160px,#f6fbd0 0)"></i>
<i style="background:linear-gradient(90deg,#f6fbd0 9px,#e4f4f1 0 13px,#f6fbd0 0 40px,#e4f4f1 0 49px,#c7e7f1 0 53px,#a8d6e8 0 55px,#c7e7f1 0 67px,#a8d6e8 0 74px,#c7e7f1 0 79px,#e4f4f1 0 91px,#c7e7f1 0 109px,#e4f4f1 0 112px,#c7e7f1 0 115px,#e4f4f1 0 124px,#f6fbd0 0 128px,#e4f4f1 0 133px,#f6fbd0 0 157px,#fff9bc 0 158px,#f6fbd0 0 159px,#fff9bc 0 160px,#f6fbd0 0)"></i>
<i style="background:linear-gradient(90deg,#f6fbd0 10px,#e4f4f1 0 13px,#f6fbd0 0 46px,#e4f4f1 0 50px,#c7e7f1 0 66px,#a8d6e8 0 68px,#87bdd9 0 70px,#a8d6e8 0 75px,#c7e7f1 0 79px,#e4f4f1 0 89px,#c7e7f1 0 93px,#a8d6e8 0 96px,#c7e7f1 0 98px,#a8d6e8 0 104px,#c7e7f1 0 109px,#e4f4f1 0 112px,#c7e7f1 0 115px,#e4f4f1 0 119px,#f6fbd0 0 121px,#e4f4f1 0 123px,#f6fbd0 0 128px,#e4f4f1 0 131px,#f6fbd0 0 160px,#fff9bc 0 161px,#f6fbd0 0)"></i>
<i style="background:linear-gradient(90deg,#e4f4f1 1px,#f6fbd0 0 12px,#e4f4f1 0 13px,#f6fbd0 0 46px,#e4f4f1 0 50px,#c7e7f1 0 65px,#a8d6e8 0 68px,#87bdd9 0 70px,#a8d6e8 0 75px,#c7e7f1 0 78px,#e4f4f1 0 79px,#c7e7f1 0 81px,#e4f4f1 0 89px,#c7e7f1 0 91px,#a8d6e8 0 104px,#c7e7f1 0 109px,#e4f4f1 0 119px,#f6fbd0 0 133px,#fff9bc 0 135px,#f6fbd0 0 147px,#e4f4f1 0 150px,#f6fbd0 0 152px,#e4f4f1 0 154px,#f6fbd0 0 165px,#e4f4f1 0)"></i>
<i style="background:linear-gradient(90deg,#e4f4f1 1px,#f6fbd0 0 19px,#e4f4f1 0 20px,#f6fbd0 0 46px,#e4f4f1 0 51px,#c7e7f1 0 55px,#e4f4f1 0 57px,#c7e7f1 0 67px,#a8d6e8 0 72px,#c7e7f1 0 78px,#e4f4f1 0 88px,#c7e7f1 0 91px,#a8d6e8 0 105px,#c7e7f1 0 108px,#e4f4f1 0 117px,#f6fbd0 0 131px,#fff9bc 0 136px,#f6fbd0 0 140px,#e4f4f1 0 141px,#f6fbd0 0 147px,#e4f4f1 0 154px,#f6fbd0 0)"></i>
<i style="background:linear-gradient(90deg,#f6fbd0 19px,#e4f4f1 0 23px,#f6fbd0 0 47px,#e4f4f1 0 52px,#c7e7f1 0 54px,#e4f4f1 0 62px,#c7e7f1 0 79px,#e4f4f1 0 88px,#c7e7f1 0 91px,#a8d6e8 0 104px,#c7e7f1 0 106px,#e4f4f1 0 114px,#f6fbd0 0 131px,#fff9bc 0 136px,#f6fbd0 0 148px,#e4f4f1 0 151px,#f6fbd0 0 162px,#e4f4f1 0 165px,#f6fbd0 0)"></i>
<i style="background:linear-gradient(90deg,#f6fbd0 20px,#e4f4f1 0 23px,#f6fbd0 0 39px,#fff9bc 0 40px,#f6fbd0 0 48px,#e4f4f1 0 52px,#c7e7f1 0 54px,#e4f4f1 0 63px,#c7e7f1 0 72px,#e4f4f1 0 83px,#f6fbd0 0 85px,#e4f4f1 0 88px,#c7e7f1 0 91px,#a8d6e8 0 103px,#c7e7f1 0 105px,#e4f4f1 0 109px,#f6fbd0 0 118px,#fff9bc 0 120px,#f6fbd0 0 131px,#fff9bc 0 135px,#f6fbd0 0 149px,#e4f4f1 0 151px,#f6fbd0 0 155px,#e4f4f1 0 156px,#f6fbd0 0 162px,#e4f4f1 0 165px,#f6fbd0 0)"></i>
<i style="background:linear-gradient(90deg,#f6fbd0 21px,#e4f4f1 0 23px,#f6fbd0 0 38px,#fff9bc 0 41px,#f6fbd0 0 42px,#fff9bc 0 43px,#f6fbd0 0 48px,#e4f4f1 0 52px,#c7e7f1 0 55px,#e4f4f1 0 63px,#c7e7f1 0 64px,#e4f4f1 0 79px,#f6fbd0 0 87px,#e4f4f1 0 88px,#c7e7f1 0 92px,#a8d6e8 0 103px,#c7e7f1 0 104px,#e4f4f1 0 105px,#f6fbd0 0 115px,#fff9bc 0 122px,#f6fbd0 0 136px,#e4f4f1 0 137px,#f6fbd0 0 151px,#e4f4f1 0 153px,#f6fbd0 0 154px,#e4f4f1 0 157px,#f6fbd0 0)"></i>
<i style="background:linear-gradient(90deg,#f6fbd0 4px,#fff9bc 0 8px,#f6fbd0 0 30px,#fff9bc 0 34px,#f6fbd0 0 38px,#fff9bc 0 45px,#f6fbd0 0 46px,#e4f4f1 0 52px,#c7e7f1 0 57px,#e4f4f1 0 78px,#f6fbd0 0 87px,#e4f4f1 0 89px,#c7e7f1 0 96px,#a8d6e8 0 97px,#c7e7f1 0 99px,#a8d6e8 0 102px,#c7e7f1 0 103px,#e4f4f1 0 104px,#f6fbd0 0 115px,#fff9bc 0 122px,#f6fbd0 0 126px,#fff9bc 0 127px,#f6fbd0 0 129px,#e4f4f1 0 131px,#f6fbd0 0 151px,#e4f4f1 0 157px,#f6fbd0 0)"></i>
<i style="background:linear-gradient(90deg,#f6fbd0 4px,#fff9bc 0 8px,#f6fbd0 0 15px,#fff9bc 0 19px,#f6fbd0 0 28px,#fff9bc 0 36px,#f6fbd0 0 38px,#fff9bc 0 45px,#f6fbd0 0 46px,#e4f4f1 0 52px,#c7e7f1 0 57px,#e4f4f1 0 59px,#c7e7f1 0 64px,#e4f4f1 0 78px,#f6fbd0 0 87px,#e4f4f1 0 89px,#c7e7f1 0 99px,#a8d6e8 0 101px,#c7e7f1 0 102px,#e4f4f1 0 103px,#f6fbd0 0 114px,#fff9bc 0 122px,#f6fbd0 0 125px,#fff9bc 0 127px,#f6fbd0 0 129px,#e4f4f1 0 131px,#f6fbd0 0 138px,#e4f4f1 0 139px,#f6fbd0 0 144px,#e4f4f1 0 147px,#f6fbd0 0 151px,#e4f4f1 0 156px,#f6fbd0 0)"></i>
<i style="background:linear-gradient(90deg,#f6fbd0 3px,#fff9bc 0 10px,#f6fbd0 0 15px,#fff9bc 0 21px,#f6fbd0 0 28px,#fff9bc 0 37px,#f6fbd0 0 39px,#fff9bc 0 45px,#f6fbd0 0 46px,#e4f4f1 0 52px,#c7e7f1 0 56px,#e4f4f1 0 59px,#c7e7f1 0 68px,#e4f4f1 0 78px,#f6fbd0 0 87px,#e4f4f1 0 89px,#c7e7f1 0 99px,#a8d6e8 0 100px,#c7e7f1 0 101px,#e4f4f1 0 103px,#f6fbd0 0 113px,#fff9bc 0 122px,#f6fbd0 0 126px,#fff9bc 0 127px,#f6fbd0 0 130px,#e4f4f1 0 132px,#f6fbd0 0 133px,#fff9bc 0 137px,#f6fbd0 0 145px,#e4f4f1 0 154px,#f6fbd0 0)"></i>
<i style="background:linear-gradient(90deg,#f6fbd0 3px,#fff9bc 0 14px,#f6fbd0 0 15px,#fff9bc 0 27px,#f6fbd0 0 28px,#fff9bc 0 31px,#ffeba0 0 32px,#fff9bc 0 37px,#f6fbd0 0 39px,#fff9bc 0 46px,#e4f4f1 0 50px,#c7e7f1 0 55px,#e4f4f1 0 61px,#c7e7f1 0 68px,#e4f4f1 0 76px,#f6fbd0 0 82px,#fff9bc 0 84px,#f6fbd0 0 88px,#e4f4f1 0 89px,#c7e7f1 0 101px,#e4f4f1 0 103px,#f6fbd0 0 112px,#fff9bc 0 115px,#ffeba0 0 116px,#fff9bc 0 117px,#ffeba0 0 118px,#fff9bc 0 123px,#f6fbd0 0 126px,#fff9bc 0 130px,#f6fbd0 0 135px,#fff9bc 0 138px,#f6fbd0 0 142px,#fff9bc 0 144px,#f6fbd0 0 146px,#e4f4f1 0 148px,#c7e7f1 0 150px,#e4f4f1 0 153px,#f6fbd0 0)"></i>
<i style="background:linear-gradient(90deg,#f6fbd0 2px,#fff9bc 0 31px,#ffeba0 0 33px,#fff9bc 0 46px,#f6fbd0 0 47px,#e4f4f1 0 49px,#c7e7f1 0 53px,#e4f4f1 0 61px,#c7e7f1 0 67px,#e4f4f1 0 76px,#f6fbd0 0 81px,#fff9bc 0 85px,#f6fbd0 0 89px,#e4f4f1 0 90px,#c7e7f1 0 101px,#e4f4f1 0 103px,#f6fbd0 0 112px,#fff9bc 0 117px,#ffeba0 0 119px,#fff9bc 0 131px,#f6fbd0 0 135px,#fff9bc 0 138px,#f6fbd0 0 142px,#fff9bc 0 144px,#f6fbd0 0 147px,#e4f4f1 0 152px,#f6fbd0 0)"></i>
<i style="background:linear-gradient(90deg,#f6fbd0 2px,#fff9bc 0 31px,#ffeba0 0 32px,#fff9bc 0 46px,#f6fbd0 0 47px,#e4f4f1 0 48px,#c7e7f1 0 53px,#e4f4f1 0 64px,#c7e7f1 0 66px,#e4f4f1 0 77px,#f6fbd0 0 80px,#fff9bc 0 87px,#f6fbd0 0 89px,#e4f4f1 0 90px,#c7e7f1 0 102px,#e4f4f1 0 103px,#f6fbd0 0 111px,#fff9bc 0 131px,#f6fbd0 0 133px,#fff9bc 0 140px,#f6fbd0 0 141px,#fff9bc 0 143px,#f6fbd0 0 148px,#e4f4f1 0 149px,#f6fbd0 0)"></i>
<i style="background:linear-gradient(90deg,#f6fbd0 2px,#fff9bc 0 22px,#ffeba0 0 23px,#fff9bc 0 26px,#ffeba0 0 27px,#fff9bc 0 30px,#ffeba0 0 31px,#fff9bc 0 46px,#f6fbd0 0 47px,#e4f4f1 0 48px,#c7e7f1 0 50px,#a8d6e8 0 52px,#c7e7f1 0 53px,#e4f4f1 0 64px,#c7e7f1 0 65px,#e4f4f1 0 77px,#f6fbd0 0 79px,#fff9bc 0 87px,#f6fbd0 0 88px,#e4f4f1 0 89px,#c7e7f1 0 102px,#e4f4f1 0 103px,#f6fbd0 0 105px,#e4f4f1 0 106px,#f6fbd0 0 110px,#fff9bc 0 132px,#f6fbd0 0 133px,#fff9bc 0 141px,#f6fbd0 0 143px,#e4f4f1 0 146px,#f6fbd0 0 148px,#e4f4f1 0 150px,#f6fbd0 0 154px,#fff9bc 0 156px,#f6fbd0 0)"></i>
<i style="background:linear-gradient(90deg,#f6fbd0 2px,#fff9bc 0 10px,#ffeba0 0 12px,#fff9bc 0 26px,#ffeba0 0 27px,#fff9bc 0 46px,#f6fbd0 0 48px,#e4f4f1 0 49px,#c7e7f1 0 50px,#87bdd9 0 52px,#a8d6e8 0 53px,#c7e7f1 0 55px,#e4f4f1 0 77px,#f6fbd0 0 80px,#fff9bc 0 87px,#f6fbd0 0 88px,#e4f4f1 0 89px,#c7e7f1 0 95px,#e4f4f1 0 96px,#c7e7f1 0 101px,#e4f4f1 0 106px,#f6fbd0 0 107px,#fff9bc 0 118px,#f6fbd0 0 123px,#fff9bc 0 132px,#f6fbd0 0 133px,#fff9bc 0 140px,#f6fbd0 0 142px,#e4f4f1 0 150px,#f6fbd0 0)"></i>
<i style="background:linear-gradient(90deg,#f6fbd0 8px,#fff9bc 0 18px,#f6fbd0 0 20px,#fff9bc 0 34px,#f6fbd0 0 35px,#fff9bc 0 46px,#f6fbd0 0 48px,#e4f4f1 0 49px,#c7e7f1 0 50px,#a8d6e8 0 51px,#87bdd9 0 52px,#a8d6e8 0 53px,#c7e7f1 0 55px,#e4f4f1 0 66px,#f6fbd0 0 67px,#e4f4f1 0 77px,#f6fbd0 0 81px,#fff9bc 0 87px,#f6fbd0 0 88px,#e4f4f1 0 89px,#c7e7f1 0 93px,#e4f4f1 0 97px,#c7e7f1 0 100px,#e4f4f1 0 101px,#f6fbd0 0 103px,#e4f4f1 0 104px,#c7e7f1 0 105px,#e4f4f1 0 106px,#f6fbd0 0 107px,#fff9bc 0 110px,#f6fbd0 0 115px,#fff9bc 0 117px,#f6fbd0 0 124px,#fff9bc 0 132px,#f6fbd0 0 134px,#fff9bc 0 139px,#f6fbd0 0 141px,#e4f4f1 0 151px,#f6fbd0 0 165px,#e4f4f1 0)"></i>
<i style="background:linear-gradient(90deg,#e4f4f1 1px,#f6fbd0 0 9px,#fff9bc 0 18px,#f6fbd0 0 20px,#fff9bc 0 33px,#f6fbd0 0 36px,#fff9bc 0 37px,#f6fbd0 0 42px,#fff9bc 0 45px,#f6fbd0 0 47px,#e4f4f1 0 50px,#a8d6e8 0 51px,#69a0ca 0 52px,#87bdd9 0 53px,#c7e7f1 0 55px,#e4f4f1 0 65px,#f6fbd0 0 67px,#e4f4f1 0 78px,#f6fbd0 0 82px,#fff9bc 0 87px,#f6fbd0 0 88px,#e4f4f1 0 90px,#c7e7f1 0 92px,#e4f4f1 0 98px,#c7e7f1 0 99px,#e4f4f1 0 100px,#f6fbd0 0 102px,#e4f4f1 0 104px,#c7e7f1 0 105px,#e4f4f1 0 106px,#f6fbd0 0 107px,#fff9bc 0 110px,#f6fbd0 0 119px,#e4f4f1 0 122px,#f6fbd0 0 125px,#fff9bc 0 132px,#f6fbd0 0 135px,#fff9bc 0 137px,#f6fbd0 0 141px,#e4f4f1 0 151px,#f6fbd0 0 160px,#e4f4f1 0)"></i>
<i style="background:linear-gradient(90deg,#e4f4f1 4px,#f6fbd0 0 12px,#fff9bc 0 18px,#f6fbd0 0 21px,#fff9bc 0 23px,#f6fbd0 0 25px,#fff9bc 0 32px,#f6fbd0 0 42px,#fff9bc 0 44px,#f6fbd0 0 47px,#e4f4f1 0 49px,#c7e7f1 0 50px,#a8d6e8 0 51px,#69a0ca 0 52px,#87bdd9 0 53px,#c7e7f1 0 56px,#e4f4f1 0 63px,#f6fbd0 0 66px,#e4f4f1 0 73px,#c7e7f1 0 74px,#e4f4f1 0 80px,#f6fbd0 0 82px,#fff9bc 0 86px,#f6fbd0 0 89px,#e4f4f1 0 100px,#f6fbd0 0 102px,#e4f4f1 0 104px,#c7e7f1 0 105px,#e4f4f1 0 106px,#f6fbd0 0 119px,#e4f4f1 0 123px,#f6fbd0 0 126px,#fff9bc 0 132px,#f6fbd0 0 141px,#e4f4f1 0 148px,#f6fbd0 0 149px,#e4f4f1 0 152px,#f6fbd0 0 159px,#e4f4f1 0)"></i>
<i style="background:linear-gradient(90deg,#e4f4f1 9px,#f6fbd0 0 14px,#fff9bc 0 17px,#f6fbd0 0 26px,#fff9bc 0 30px,#f6fbd0 0 47px,#e4f4f1 0 49px,#c7e7f1 0 50px,#a8d6e8 0 51px,#69a0ca 0 52px,#a8d6e8 0 53px,#c7e7f1 0 57px,#e4f4f1 0 62px,#f6fbd0 0 65px,#e4f4f1 0 72px,#c7e7f1 0 75px,#e4f4f1 0 81px,#f6fbd0 0 82px,#fff9bc 0 86px,#f6fbd0 0 90px,#e4f4f1 0 93px,#f6fbd0 0 95px,#e4f4f1 0 100px,#f6fbd0 0 102px,#e4f4f1 0 106px,#f6fbd0 0 117px,#e4f4f1 0 124px,#f6fbd0 0 129px,#fff9bc 0 130px,#f6fbd0 0 135px,#e4f4f1 0 138px,#f6fbd0 0 142px,#e4f4f1 0 147px,#f6fbd0 0 151px,#e4f4f1 0 152px,#f6fbd0 0 161px,#e4f4f1 0)"></i>
<i style="background:linear-gradient(90deg,#e4f4f1 11px,#f6fbd0 0 27px,#fff9bc 0 30px,#f6fbd0 0 39px,#e4f4f1 0 42px,#f6fbd0 0 44px,#e4f4f1 0 49px,#c7e7f1 0 50px,#a8d6e8 0 51px,#87bdd9 0 52px,#a8d6e8 0 53px,#c7e7f1 0 58px,#e4f4f1 0 62px,#f6fbd0 0 65px,#e4f4f1 0 70px,#c7e7f1 0 79px,#e4f4f1 0 81px,#f6fbd0 0 83px,#fff9bc 0 86px,#f6fbd0 0 95px,#e4f4f1 0 99px,#f6fbd0 0 103px,#e4f4f1 0 107px,#f6fbd0 0 116px,#e4f4f1 0 125px,#f6fbd0 0 132px,#e4f4f1 0 139px,#f6fbd0 0 143px,#e4f4f1 0 145px,#f6fbd0 0 152px,#e4f4f1 0 153px,#f6fbd0 0 161px,#e4f4f1 0)"></i>
<i style="background:linear-gradient(90deg,#e4f4f1 13px,#f6fbd0 0 28px,#fff9bc 0 29px,#f6fbd0 0 39px,#e4f4f1 0 49px,#c7e7f1 0 50px,#a8d6e8 0 51px,#87bdd9 0 52px,#a8d6e8 0 53px,#c7e7f1 0 59px,#e4f4f1 0 63px,#f6fbd0 0 65px,#e4f4f1 0 70px,#c7e7f1 0 80px,#e4f4f1 0 81px,#f6fbd0 0 95px,#e4f4f1 0 99px,#f6fbd0 0 105px,#e4f4f1 0 108px,#f6fbd0 0 116px,#e4f4f1 0 128px,#f6fbd0 0 129px,#e4f4f1 0 136px,#c7e7f1 0 137px,#e4f4f1 0 140px,#f6fbd0 0 152px,#e4f4f1 0 153px,#f6fbd0 0 162px,#e4f4f1 0)"></i>
<i style="background:linear-gradient(90deg,#e4f4f1 14px,#f6fbd0 0 40px,#e4f4f1 0 49px,#c7e7f1 0 50px,#a8d6e8 0 53px,#c7e7f1 0 59px,#e4f4f1 0 63px,#f6fbd0 0 65px,#e4f4f1 0 71px,#c7e7f1 0 80px,#e4f4f1 0 82px,#f6fbd0 0 89px,#fff9bc 0 90px,#f6fbd0 0 95px,#e4f4f1 0 98px,#f6fbd0 0 104px,#e4f4f1 0 107px,#f6fbd0 0 115px,#e4f4f1 0 143px,#f6fbd0 0 144px,#e4f4f1 0 146px,#f6fbd0 0 147px,#e4f4f1 0 152px,#f6fbd0 0 165px,#e4f4f1 0)"></i>
<i style="background:linear-gradient(90deg,#e4f4f1 14px,#f6fbd0 0 16px,#e4f4f1 0 20px,#f6fbd0 0 42px,#e4f4f1 0 49px,#c7e7f1 0 58px,#e4f4f1 0 63px,#f6fbd0 0 66px,#e4f4f1 0 73px,#c7e7f1 0 80px,#e4f4f1 0 83px,#f6fbd0 0 103px,#e4f4f1 0 105px,#f6fbd0 0 114px,#e4f4f1 0 152px,#f6fbd0 0)"></i>
<i style="background:linear-gradient(90deg,#f6fbd0 2px,#e4f4f1 0 14px,#f6fbd0 0 15px,#e4f4f1 0 22px,#f6fbd0 0 42px,#e4f4f1 0 49px,#c7e7f1 0 57px,#e4f4f1 0 63px,#f6fbd0 0 65px,#e4f4f1 0 74px,#c7e7f1 0 76px,#e4f4f1 0 83px,#f6fbd0 0 89px,#fff9bc 0 92px,#f6fbd0 0 112px,#e4f4f1 0 116px,#c7e7f1 0 119px,#e4f4f1 0 124px,#c7e7f1 0 127px,#e4f4f1 0 153px,#f6fbd0 0)"></i>
<i style="background:linear-gradient(90deg,#f6fbd0 5px,#e4f4f1 0 14px,#f6fbd0 0 16px,#e4f4f1 0 23px,#f6fbd0 0 38px,#e4f4f1 0 47px,#c7e7f1 0 56px,#e4f4f1 0 83px,#f6fbd0 0 88px,#fff9bc 0 94px,#f6fbd0 0 112px,#e4f4f1 0 115px,#c7e7f1 0 118px,#e4f4f1 0 122px,#c7e7f1 0 129px,#e4f4f1 0 136px,#f6fbd0 0 138px,#e4f4f1 0 153px,#f6fbd0 0 156px,#fff9bc 0 161px,#f6fbd0 0)"></i>
<i style="background:linear-gradient(90deg,#fff9bc 1px,#f6fbd0 0 6px,#e4f4f1 0 13px,#f6fbd0 0 16px,#e4f4f1 0 24px,#f6fbd0 0 38px,#e4f4f1 0 47px,#c7e7f1 0 54px,#e4f4f1 0 70px,#f6fbd0 0 73px,#e4f4f1 0 78px,#f6fbd0 0 80px,#e4f4f1 0 82px,#f6fbd0 0 87px,#fff9bc 0 94px,#f6fbd0 0 111px,#e4f4f1 0 115px,#c7e7f1 0 116px,#e4f4f1 0 122px,#c7e7f1 0 130px,#e4f4f1 0 135px,#f6fbd0 0 139px,#e4f4f1 0 154px,#f6fbd0 0 156px,#fff9bc 0 162px,#f6fbd0 0)"></i>
<i style="background:linear-gradient(90deg,#fff9bc 1px,#f6fbd0 0 6px,#e4f4f1 0 12px,#f6fbd0 0 17px,#e4f4f1 0 24px,#f6fbd0 0 38px,#e4f4f1 0 48px,#c7e7f1 0 53px,#e4f4f1 0 58px,#f6fbd0 0 60px,#e4f4f1 0 70px,#f6fbd0 0 74px,#e4f4f1 0 77px,#f6fbd0 0 86px,#fff9bc 0 93px,#f6fbd0 0 109px,#e4f4f1 0 110px,#f6fbd0 0 111px,#e4f4f1 0 123px,#c7e7f1 0 129px,#e4f4f1 0 134px,#f6fbd0 0 139px,#e4f4f1 0 154px,#f6fbd0 0 156px,#fff9bc 0 162px,#f6fbd0 0 164px,#fff9bc 0)"></i>
<i style="background:linear-gradient(90deg,#fff9bc 2px,#f6fbd0 0 6px,#e4f4f1 0 12px,#f6fbd0 0 17px,#e4f4f1 0 22px,#f6fbd0 0 40px,#e4f4f1 0 48px,#c7e7f1 0 53px,#e4f4f1 0 57px,#f6fbd0 0 61px,#e4f4f1 0 64px,#f6fbd0 0 65px,#e4f4f1 0 70px,#f6fbd0 0 86px,#fff9bc 0 93px,#f6fbd0 0 112px,#e4f4f1 0 117px,#f6fbd0 0 120px,#e4f4f1 0 123px,#c7e7f1 0 128px,#e4f4f1 0 133px,#f6fbd0 0 138px,#e4f4f1 0 145px,#f6fbd0 0 149px,#e4f4f1 0 154px,#f6fbd0 0 155px,#fff9bc 0 161px,#f6fbd0 0 163px,#fff9bc 0)"></i>
<i style="background:linear-gradient(90deg,#fff9bc 3px,#f6fbd0 0 6px,#e4f4f1 0 12px,#f6fbd0 0 17px,#e4f4f1 0 20px,#f6fbd0 0 46px,#e4f4f1 0 48px,#c7e7f1 0 51px,#a8d6e8 0 52px,#c7e7f1 0 53px,#e4f4f1 0 58px,#f6fbd0 0 62px,#e4f4f1 0 63px,#f6fbd0 0 85px,#fff9bc 0 94px,#f6fbd0 0 112px,#e4f4f1 0 115px,#f6fbd0 0 121px,#e4f4f1 0 126px,#c7e7f1 0 128px,#e4f4f1 0 134px,#f6fbd0 0 138px,#e4f4f1 0 145px,#f6fbd0 0 150px,#e4f4f1 0 151px,#f6fbd0 0 155px,#fff9bc 0 158px,#ffeba0 0 159px,#fff9bc 0)"></i>
<i style="background:linear-gradient(90deg,#fff9bc 2px,#f6fbd0 0 6px,#e4f4f1 0 12px,#f6fbd0 0 17px,#e4f4f1 0 20px,#f6fbd0 0 31px,#e4f4f1 0 32px,#f6fbd0 0 46px,#e4f4f1 0 48px,#c7e7f1 0 50px,#a8d6e8 0 52px,#c7e7f1 0 53px,#e4f4f1 0 59px,#f6fbd0 0 86px,#fff9bc 0 90px,#f6fbd0 0 91px,#fff9bc 0 95px,#f6fbd0 0 121px,#e4f4f1 0 135px,#f6fbd0 0 138px,#e4f4f1 0 145px,#f6fbd0 0 155px,#fff9bc 0)"></i>
<i style="background:linear-gradient(90deg,#fff9bc 2px,#f6fbd0 0 6px,#e4f4f1 0 8px,#c7e7f1 0 10px,#e4f4f1 0 12px,#f6fbd0 0 17px,#e4f4f1 0 20px,#f6fbd0 0 31px,#e4f4f1 0 32px,#f6fbd0 0 46px,#e4f4f1 0 48px,#c7e7f1 0 50px,#a8d6e8 0 51px,#c7e7f1 0 53px,#e4f4f1 0 61px,#f6fbd0 0 92px,#fff9bc 0 96px,#f6fbd0 0 120px,#e4f4f1 0 129px,#c7e7f1 0 133px,#e4f4f1 0 136px,#f6fbd0 0 137px,#e4f4f1 0 145px,#f6fbd0 0 155px,#fff9bc 0)"></i>
<i style="background:linear-gradient(90deg,#fff9bc 1px,#f6fbd0 0 4px,#e4f4f1 0 8px,#c7e7f1 0 10px,#e4f4f1 0 12px,#f6fbd0 0 16px,#e4f4f1 0 20px,#f6fbd0 0 24px,#e4f4f1 0 28px,#f6fbd0 0 31px,#e4f4f1 0 32px,#f6fbd0 0 46px,#e4f4f1 0 49px,#c7e7f1 0 53px,#e4f4f1 0 61px,#f6fbd0 0 69px,#e4f4f1 0 71px,#f6fbd0 0 75px,#fff9bc 0 76px,#f6fbd0 0 92px,#fff9bc 0 96px,#f6fbd0 0 119px,#e4f4f1 0 123px,#c7e7f1 0 133px,#e4f4f1 0 146px,#f6fbd0 0 156px,#fff9bc 0)"></i>
<i style="background:linear-gradient(90deg,#f6fbd0 4px,#e4f4f1 0 12px,#f6fbd0 0 14px,#e4f4f1 0 20px,#f6fbd0 0 24px,#e4f4f1 0 28px,#f6fbd0 0 45px,#e4f4f1 0 50px,#c7e7f1 0 53px,#e4f4f1 0 61px,#f6fbd0 0 67px,#e4f4f1 0 72px,#f6fbd0 0 78px,#e4f4f1 0 80px,#f6fbd0 0 81px,#e4f4f1 0 86px,#f6fbd0 0 92px,#fff9bc 0 97px,#f6fbd0 0 98px,#fff9bc 0 100px,#f6fbd0 0 117px,#e4f4f1 0 122px,#c7e7f1 0 134px,#e4f4f1 0 147px,#f6fbd0 0 159px,#fff9bc 0)"></i>
<i style="background:linear-gradient(90deg,#f6fbd0 4px,#e4f4f1 0 23px,#f6fbd0 0 24px,#e4f4f1 0 31px,#f6fbd0 0 34px,#e4f4f1 0 36px,#f6fbd0 0 43px,#e4f4f1 0 62px,#f6fbd0 0 65px,#e4f4f1 0 72px,#f6fbd0 0 77px,#e4f4f1 0 84px,#f6fbd0 0 89px,#e4f4f1 0 91px,#f6fbd0 0 93px,#fff9bc 0 100px,#f6fbd0 0 108px,#e4f4f1 0 121px,#c7e7f1 0 125px,#a8d6e8 0 127px,#c7e7f1 0 134px,#e4f4f1 0 139px,#c7e7f1 0 142px,#e4f4f1 0 149px,#f6fbd0 0 160px,#fff9bc 0 164px,#f6fbd0 0)"></i>
<i style="background:linear-gradient(90deg,#f6fbd0 1px,#e4f4f1 0 17px,#c7e7f1 0 19px,#e4f4f1 0 32px,#f6fbd0 0 33px,#e4f4f1 0 38px,#f6fbd0 0 41px,#e4f4f1 0 62px,#f6fbd0 0 65px,#e4f4f1 0 74px,#f6fbd0 0 76px,#e4f4f1 0 84px,#f6fbd0 0 89px,#e4f4f1 0 91px,#f6fbd0 0 108px,#e4f4f1 0 121px,#c7e7f1 0 124px,#a8d6e8 0 128px,#c7e7f1 0 135px,#e4f4f1 0 138px,#c7e7f1 0 143px,#e4f4f1 0 151px,#f6fbd0 0 161px,#fff9bc 0 164px,#f6fbd0 0)"></i>
<i style="background:linear-gradient(90deg,#e4f4f1 16px,#c7e7f1 0 20px,#e4f4f1 0 27px,#c7e7f1 0 29px,#e4f4f1 0 84px,#f6fbd0 0 90px,#e4f4f1 0 94px,#f6fbd0 0 101px,#e4f4f1 0 103px,#f6fbd0 0 107px,#e4f4f1 0 111px,#c7e7f1 0 124px,#a8d6e8 0 128px,#c7e7f1 0 143px,#e4f4f1 0 146px,#c7e7f1 0 147px,#e4f4f1 0 159px,#f6fbd0 0)"></i>
<i style="background:linear-gradient(90deg,#e4f4f1 5px,#c7e7f1 0 11px,#e4f4f1 0 17px,#c7e7f1 0 30px,#e4f4f1 0 71px,#c7e7f1 0 74px,#e4f4f1 0 76px,#c7e7f1 0 79px,#e4f4f1 0 85px,#f6fbd0 0 90px,#e4f4f1 0 109px,#c7e7f1 0 124px,#a8d6e8 0 127px,#c7e7f1 0 136px,#a8d6e8 0 138px,#c7e7f1 0 148px,#e4f4f1 0 159px,#f6fbd0 0 163px,#e4f4f1 0)"></i>
<i style="background:linear-gradient(90deg,#e4f4f1 4px,#c7e7f1 0 15px,#e4f4f1 0 17px,#c7e7f1 0 32px,#e4f4f1 0 41px,#c7e7f1 0 45px,#e4f4f1 0 49px,#c7e7f1 0 54px,#e4f4f1 0 69px,#c7e7f1 0 82px,#e4f4f1 0 93px,#c7e7f1 0 96px,#e4f4f1 0 100px,#c7e7f1 0 117px,#a8d6e8 0 120px,#c7e7f1 0 124px,#a8d6e8 0 140px,#c7e7f1 0 158px,#e4f4f1 0)"></i>
<i style="background:linear-gradient(90deg,#c7e7f1 5px,#a8d6e8 0 11px,#c7e7f1 0 21px,#a8d6e8 0 25px,#c7e7f1 0 36px,#e4f4f1 0 38px,#c7e7f1 0 46px,#e4f4f1 0 48px,#c7e7f1 0 63px,#e4f4f1 0 66px,#c7e7f1 0 67px,#e4f4f1 0 69px,#c7e7f1 0 88px,#e4f4f1 0 89px,#c7e7f1 0 103px,#a8d6e8 0 107px,#c7e7f1 0 109px,#a8d6e8 0 133px,#87bdd9 0 138px,#a8d6e8 0 141px,#c7e7f1 0 146px,#a8d6e8 0 153px,#c7e7f1 0)"></i>
<i style="background:linear-gradient(90deg,#a8d6e8 1px,#c7e7f1 0 2px,#a8d6e8 0 28px,#c7e7f1 0 50px,#a8d6e8 0 61px,#c7e7f1 0 71px,#a8d6e8 0 97px,#c7e7f1 0 98px,#a8d6e8 0 102px,#87bdd9 0 107px,#a8d6e8 0 110px,#87bdd9 0 126px,#69a0ca 0 130px,#87bdd9 0 133px,#69a0ca 0 136px,#87bdd9 0 140px,#a8d6e8 0 148px,#87bdd9 0 151px,#a8d6e8 0 163px,#c7e7f1 0 164px,#a8d6e8 0)"></i>
<i style="background:linear-gradient(90deg,#a8d6e8 5px,#87bdd9 0 16px,#a8d6e8 0 36px,#c7e7f1 0 37px,#a8d6e8 0 72px,#87bdd9 0 79px,#a8d6e8 0 82px,#87bdd9 0 97px,#a8d6e8 0 98px,#87bdd9 0 102px,#69a0ca 0 105px,#87bdd9 0 114px,#69a0ca 0 126px,#4d7fb9 0 131px,#69a0ca 0 139px,#87bdd9 0 160px,#a8d6e8 0)"></i>
<i style="background:linear-gradient(90deg,#87bdd9 11px,#69a0ca 0 12px,#87bdd9 0 22px,#a8d6e8 0 39px,#87bdd9 0 45px,#a8d6e8 0 50px,#87bdd9 0 83px,#69a0ca 0 102px,#4d7fb9 0 105px,#69a0ca 0 114px,#4d7fb9 0 127px,#3d5ba7 0 133px,#4d7fb9 0 138px,#69a0ca 0 145px,#87bdd9 0 148px,#69a0ca 0 159px,#87bdd9 0)"></i>
<i style="background:linear-gradient(90deg,#69a0ca 13px,#87bdd9 0 17px,#69a0ca 0 19px,#87bdd9 0 51px,#69a0ca 0 52px,#87bdd9 0 53px,#69a0ca 0 56px,#87bdd9 0 69px,#69a0ca 0 86px,#4d7fb9 0 87px,#69a0ca 0 89px,#4d7fb9 0 102px,#3d5ba7 0 108px,#4d7fb9 0 114px,#3d5ba7 0 128px,#313695 0 133px,#3d5ba7 0 137px,#4d7fb9 0 145px,#69a0ca 0 152px,#4d7fb9 0 158px,#69a0ca 0)"></i>
<i style="background:linear-gradient(90deg,#4d7fb9 8px,#69a0ca 0 20px,#87bdd9 0 36px,#69a0ca 0 38px,#87bdd9 0 40px,#69a0ca 0 44px,#87bdd9 0 49px,#69a0ca 0 60px,#87bdd9 0 64px,#69a0ca 0 71px,#4d7fb9 0 78px,#69a0ca 0 84px,#4d7fb9 0 90px,#3d5ba7 0 103px,#313695 0 108px,#3d5ba7 0 114px,#313695 0 135px,#3d5ba7 0 145px,#4d7fb9 0)"></i>
<i style="background:linear-gradient(90deg,#4d7fb9 9px,#69a0ca 0 21px,#87bdd9 0 29px,#69a0ca 0 33px,#87bdd9 0 35px,#69a0ca 0 45px,#87bdd9 0 46px,#69a0ca 0 61px,#87bdd9 0 63px,#69a0ca 0 69px,#4d7fb9 0 78px,#69a0ca 0 81px,#4d7fb9 0 89px,#3d5ba7 0 102px,#313695 0 135px,#3d5ba7 0 141px,#313695 0 142px,#3d5ba7 0 146px,#4d7fb9 0 150px,#3d5ba7 0 153px,#4d7fb9 0)"></i>
<i style="background:linear-gradient(90deg,#4d7fb9 1px,#3d5ba7 0 3px,#4d7fb9 0 11px,#69a0ca 0 22px,#87bdd9 0 28px,#69a0ca 0 69px,#4d7fb9 0 78px,#69a0ca 0 81px,#4d7fb9 0 89px,#3d5ba7 0 101px,#313695 0 113px,#3d5ba7 0 117px,#313695 0 124px,#3d5ba7 0 127px,#313695 0 134px,#3d5ba7 0 146px,#4d7fb9 0 151px,#3d5ba7 0 153px,#4d7fb9 0)"></i>
<i style="background:linear-gradient(90deg,#4d7fb9 1px,#3d5ba7 0 2px,#4d7fb9 0 11px,#69a0ca 0 25px,#87bdd9 0 27px,#69a0ca 0 68px,#4d7fb9 0 77px,#69a0ca 0 82px,#4d7fb9 0 89px,#3d5ba7 0 101px,#313695 0 112px,#3d5ba7 0 146px,#4d7fb9 0)"></i>
<i style="background:linear-gradient(90deg,#4d7fb9 11px,#69a0ca 0 34px,#4d7fb9 0 37px,#69a0ca 0 63px,#4d7fb9 0 77px,#69a0ca 0 83px,#4d7fb9 0 90px,#3d5ba7 0 115px,#4d7fb9 0 117px,#3d5ba7 0 124px,#4d7fb9 0 132px,#3d5ba7 0 135px,#4d7fb9 0 137px,#3d5ba7 0 141px,#4d7fb9 0 155px,#69a0ca 0 163px,#4d7fb9 0)"></i>
<i></i>
</div>
<div class="p" style="left:14.0px;top:338.9px">
<i></i>
<i style="background:linear-gradient(90deg,#33ffc4,#33ffc4,#33ffc4,#33ffc4,#33ffc4,#33ffc4,#33ffc4,#30ffc7,#30ffc7,#30ffc7,#30ffc7,#30ffc7,#30ffc7,#30ffc7,#30ffc7,#30ffc7,#30ffc7,#30ffc7,#30ffc7,#30ffc7,#30ffc7,#30ffc7,#30ffc7,#30ffc7,#30ffc7,#30ffc7,#30ffc7,#30ffc7,#30ffc7,#30ffc7,#33ffc4,#33ffc4,#33ffc4)"></i>
<i style="background:linear-gradient(90deg,#36ffc1,#36ffc1,#36ffc1,#36ffc1,#36ffc1,#33ffc4,#33ffc4,#30ffc7,#30ffc7,#30ffc7,#30ffc7,#30ffc7,#30ffc7,#30ffc7,#30ffc7,#30ffc7,#30ffc7,#30ffc7,#30ffc7,#30ffc7,#30ffc7,#30ffc7,#30ffc7,#30ffc7,#30ffc7,#30ffc7,#30ffc7,#30ffc7,#30ffc7,#30ffc7,#33ffc4,#36ffc1,#36ffc1)"></i>
<i style="background:linear-gradient(90deg,#36ffc1,#36ffc1,#36ffc1,#36ffc1,#36ffc1,#36ffc1,#33ffc4,#33ffc4,#30ffc7,#30ffc7,#30ffc7,#30ffc7,#30ffc7,#30ffc7,#30ffc7,#30ffc7,#30ffc7,#30ffc7,#30ffc7,#30ffc7,#30ffc7,#30ffc7,#30ffc7,#30ffc7,#30ffc7,#30ffc7,#30ffc7,#30ffc7,#30ffc7,#33ffc4,#36ffc1,#39ffbe,#36ffc1)"></i>
<i style="background:linear-gradient(90deg,#39ffbe,#39ffbe,#39ffbe,#39ffbe,#39ffbe,#39ffbe,#36ffc1,#33ffc4,#33ffc4,#33ffc4,#33ffc4,#33ffc4,#30ffc7,#30ffc7,#30ffc7,#30ffc7,#30ffc7,#33ffc4,#33ffc4,#33ffc4,#33ffc4,#33ffc4,#33ffc4,#33ffc4,#33ffc4,#33ffc4,#33ffc4,#33ffc4,#33ffc4,#33ffc4,#39ffbe,#39ffbe,#39ffbe)"></i>
<i style="background:linear-gradient(90deg,#4dffaa,#49ffad,#46ffb1,#43ffb4,#40ffb7,#40ffb7,#3cffba,#39ffbe,#39ffbe,#39ffbe,#36ffc1,#36ffc1,#33ffc4,#30ffc7,#30ffc7,#30ffc7,#33ffc4,#36ffc1,#36ffc1,#36ffc1,#39ffbe,#39ffbe,#39ffbe,#39ffbe,#39ffbe,#39ffbe,#39ffbe,#39ffbe,#39ffbe,#3cffba,#40ffb7,#43ffb4,#4dffaa)"></i>
<i style="background:linear-gradient(90deg,#66ff90,#66ff90,#5dff9a,#56ffa0,#50ffa7,#50ffa7,#4dffaa,#46ffb1,#46ffb1,#43ffb4,#3cffba,#39ffbe,#36ffc1,#30ffc7,#30ffc7,#33ffc4,#39ffbe,#3cffba,#40ffb7,#40ffb7,#43ffb4,#46ffb1,#46ffb1,#46ffb1,#46ffb1,#46ffb1,#46ffb1,#46ffb1,#49ffad,#49ffad,#53ffa4,#56ffa0,#66ff90)"></i>
<i style="background:linear-gradient(90deg,#7dff7a,#7aff7d,#70ff87,#66ff90,#60ff97,#5dff9a,#5aff9d,#56ffa0,#53ffa4,#50ffa7,#43ffb4,#40ffb7,#39ffbe,#33ffc4,#36ffc1,#39ffbe,#40ffb7,#43ffb4,#46ffb1,#49ffad,#4dffaa,#53ffa4,#56ffa0,#56ffa0,#56ffa0,#53ffa4,#53ffa4,#56ffa0,#5aff9d,#5dff9a,#63ff94,#6aff8d,#7dff7a)"></i>
<i style="background:linear-gradient(90deg,#8dff6a,#8dff6a,#80ff77,#77ff80,#6dff8a,#6dff8a,#66ff90,#60ff97,#5dff9a,#5aff9d,#4dffaa,#46ffb1,#40ffb7,#39ffbe,#39ffbe,#40ffb7,#46ffb1,#49ffad,#4dffaa,#50ffa7,#56ffa0,#5dff9a,#63ff94,#63ff94,#60ff97,#60ff97,#60ff97,#63ff94,#6aff8d,#6dff8a,#73ff83,#7aff7d,#8dff6a)"></i>
<i style="background:linear-gradient(90deg,#9dff5a,#9aff5d,#90ff66,#83ff73,#7dff7a,#7aff7d,#73ff83,#6dff8a,#66ff90,#60ff97,#50ffa7,#4dffaa,#46ffb1,#40ffb7,#40ffb7,#46ffb1,#4dffaa,#53ffa4,#56ffa0,#56ffa0,#60ff97,#6aff8d,#70ff87,#70ff87,#6dff8a,#6aff8d,#6aff8d,#70ff87,#77ff80,#7aff7d,#83ff73,#87ff70,#9dff5a)"></i>
<i style="background:linear-gradient(90deg,#aaff4d,#a7ff50,#9dff5a,#90ff66,#87ff70,#83ff73,#7dff7a,#77ff80,#70ff87,#66ff90,#56ffa0,#53ffa4,#4dffaa,#46ffb1,#46ffb1,#4dffaa,#53ffa4,#5aff9d,#5dff9a,#60ff97,#6aff8d,#73ff83,#7aff7d,#7aff7d,#77ff80,#73ff83,#73ff83,#7dff7a,#87ff70,#8aff6d,#90ff66,#97ff60,#aaff4d)"></i>
<i style="background:linear-gradient(90deg,#b4ff43,#b1ff46,#a7ff50,#97ff60,#90ff66,#8dff6a,#87ff70,#7dff7a,#77ff80,#70ff87,#5dff9a,#5aff9d,#53ffa4,#4dffaa,#50ffa7,#53ffa4,#5aff9d,#60ff97,#63ff94,#66ff90,#70ff87,#7aff7d,#83ff73,#83ff73,#80ff77,#7aff7d,#7aff7d,#87ff70,#94ff63,#97ff60,#9dff5a,#a0ff56,#b4ff43)"></i>
<i style="background:linear-gradient(90deg,#baff3c,#b7ff40,#aaff4d,#9dff5a,#94ff63,#94ff63,#8aff6d,#80ff77,#7aff7d,#73ff83,#63ff94,#5dff9a,#5aff9d,#56ffa0,#56ffa0,#5aff9d,#60ff97,#63ff94,#66ff90,#6aff8d,#73ff83,#7dff7a,#87ff70,#87ff70,#83ff73,#7dff7a,#7dff7a,#8dff6a,#9dff5a,#a0ff56,#a7ff50,#aaff4d,#baff3c)"></i>
<i style="background:linear-gradient(90deg,#baff3c,#b7ff40,#adff49,#a0ff56,#9aff5d,#97ff60,#8dff6a,#83ff73,#7dff7a,#73ff83,#63ff94,#60ff97,#5dff9a,#5dff9a,#5dff9a,#60ff97,#63ff94,#66ff90,#66ff90,#6aff8d,#73ff83,#80ff77,#87ff70,#87ff70,#83ff73,#80ff77,#80ff77,#94ff63,#a7ff50,#aaff4d,#adff49,#b1ff46,#baff3c)"></i>
<i style="background:linear-gradient(90deg,#baff3c,#b7ff40,#adff49,#a4ff53,#9aff5d,#97ff60,#8dff6a,#83ff73,#7dff7a,#73ff83,#63ff94,#60ff97,#60ff97,#5dff9a,#5dff9a,#60ff97,#63ff94,#63ff94,#66ff90,#6aff8d,#73ff83,#80ff77,#8aff6d,#8aff6d,#87ff70,#83ff73,#83ff73,#97ff60,#adff49,#b4ff43,#b4ff43,#b4ff43,#baff3c)"></i>
<i style="background:linear-gradient(90deg,#b7ff40,#b4ff43,#adff49,#a0ff56,#9aff5d,#97ff60,#8dff6a,#83ff73,#7dff7a,#73ff83,#63ff94,#60ff97,#60ff97,#5dff9a,#5dff9a,#60ff97,#60ff97,#63ff94,#66ff90,#6aff8d,#73ff83,#80ff77,#8aff6d,#8aff6d,#87ff70,#87ff70,#87ff70,#9dff5a,#b4ff43,#b7ff40,#b4ff43,#b4ff43,#b7ff40)"></i>
<i style="background:linear-gradient(90deg,#b4ff43,#b1ff46,#aaff4d,#9dff5a,#97ff60,#94ff63,#8dff6a,#80ff77,#7dff7a,#73ff83,#63ff94,#60ff97,#60ff97,#5dff9a,#5dff9a,#60ff97,#60ff97,#63ff94,#63ff94,#66ff90,#73ff83,#80ff77,#8aff6d,#8aff6d,#8aff6d,#87ff70,#87ff70,#9dff5a,#b7ff40,#baff3c,#b4ff43,#b1ff46,#b4ff43)"></i>
<i style="background:linear-gradient(90deg,#adff49,#aaff4d,#a0ff56,#97ff60,#90ff66,#90ff66,#8aff6d,#80ff77,#7dff7a,#73ff83,#63ff94,#60ff97,#60ff97,#5dff9a,#5dff9a,#5dff9a,#60ff97,#60ff97,#63ff94,#66ff90,#70ff87,#7dff7a,#87ff70,#87ff70,#87ff70,#83ff73,#87ff70,#9dff5a,#b7ff40,#b7ff40,#b1ff46,#aaff4d,#adff49)"></i>
<i style="background:linear-gradient(90deg,#9dff5a,#9aff5d,#97ff60,#90ff66,#8aff6d,#8aff6d,#83ff73,#7aff7d,#77ff80,#70ff87,#63ff94,#60ff97,#5dff9a,#5aff9d,#5aff9d,#5aff9d,#5aff9d,#5dff9a,#5dff9a,#60ff97,#6aff8d,#77ff80,#80ff77,#80ff77,#80ff77,#80ff77,#80ff77,#97ff60,#b4ff43,#b4ff43,#aaff4d,#a4ff53,#9dff5a)"></i>
<i style="background:linear-gradient(90deg,#8dff6a,#8dff6a,#8aff6d,#83ff73,#80ff77,#7dff7a,#77ff80,#70ff87,#6aff8d,#66ff90,#5dff9a,#5dff9a,#56ffa0,#53ffa4,#53ffa4,#53ffa4,#53ffa4,#53ffa4,#53ffa4,#56ffa0,#60ff97,#6dff8a,#77ff80,#7aff7d,#77ff80,#77ff80,#7aff7d,#90ff66,#adff49,#adff49,#9dff5a,#97ff60,#8dff6a)"></i>
<i style="background:linear-gradient(90deg,#80ff77,#7dff7a,#7aff7d,#73ff83,#70ff87,#70ff87,#6aff8d,#63ff94,#60ff97,#5dff9a,#56ffa0,#53ffa4,#50ffa7,#4dffaa,#4dffaa,#4dffaa,#4dffaa,#4dffaa,#4dffaa,#50ffa7,#5aff9d,#66ff90,#6dff8a,#70ff87,#70ff87,#70ff87,#70ff87,#87ff70,#a4ff53,#a4ff53,#8dff6a,#83ff73,#80ff77)"></i>
<i style="background:linear-gradient(90deg,#70ff87,#6dff8a,#6aff8d,#66ff90,#63ff94,#63ff94,#60ff97,#5aff9d,#56ffa0,#53ffa4,#4dffaa,#49ffad,#49ffad,#46ffb1,#46ffb1,#46ffb1,#46ffb1,#43ffb4,#43ffb4,#46ffb1,#50ffa7,#5aff9d,#60ff97,#63ff94,#63ff94,#63ff94,#63ff94,#77ff80,#90ff66,#90ff66,#7dff7a,#70ff87,#70ff87)"></i>
<i style="background:linear-gradient(90deg,#63ff94,#60ff97,#5dff9a,#5aff9d,#5aff9d,#56ffa0,#53ffa4,#50ffa7,#4dffaa,#49ffad,#43ffb4,#43ffb4,#43ffb4,#40ffb7,#40ffb7,#40ffb7,#3cffba,#3cffba,#3cffba,#40ffb7,#46ffb1,#4dffaa,#53ffa4,#53ffa4,#53ffa4,#50ffa7,#53ffa4,#63ff94,#7aff7d,#7aff7d,#6aff8d,#63ff94,#63ff94)"></i>
<i style="background:linear-gradient(90deg,#56ffa0,#56ffa0,#53ffa4,#50ffa7,#4dffaa,#4dffaa,#49ffad,#46ffb1,#43ffb4,#40ffb7,#3cffba,#3cffba,#3cffba,#3cffba,#39ffbe,#39ffbe,#39ffbe,#36ffc1,#36ffc1,#36ffc1,#3cffba,#43ffb4,#46ffb1,#46ffb1,#43ffb4,#43ffb4,#43ffb4,#50ffa7,#63ff94,#63ff94,#5aff9d,#53ffa4,#56ffa0)"></i>
<i style="background:linear-gradient(90deg,#4dffaa,#4dffaa,#49ffad,#46ffb1,#43ffb4,#40ffb7,#3cffba,#39ffbe,#36ffc1,#36ffc1,#36ffc1,#36ffc1,#36ffc1,#36ffc1,#36ffc1,#33ffc4,#33ffc4,#30ffc7,#30ffc7,#30ffc7,#33ffc4,#36ffc1,#39ffbe,#39ffbe,#36ffc1,#33ffc4,#33ffc4,#40ffb7,#4dffaa,#4dffaa,#46ffb1,#46ffb1,#4dffaa)"></i>
<i style="background:linear-gradient(90deg,#40ffb7,#40ffb7,#3cffba,#39ffbe,#36ffc1,#36ffc1,#33ffc4,#30ffc7,#2cffca,#2cffca,#2cffca,#2cffca,#2cffca,#2cffca,#2cffca,#2cffca,#2cffca,#29ffce,#29ffce,#29ffce,#29ffce,#2cffca,#2cffca,#2cffca,#29ffce,#23ffd4,#23ffd4,#2cffca,#36ffc1,#39ffbe,#36ffc1,#36ffc1,#40ffb7)"></i>
<i style="background:linear-gradient(90deg,#36ffc1,#36ffc1,#33ffc4,#30ffc7,#2cffca,#2cffca,#29ffce,#26ffd1,#23ffd4,#23ffd4,#26ffd1,#26ffd1,#26ffd1,#26ffd1,#26ffd1,#26ffd1,#26ffd1,#26ffd1,#26ffd1,#26ffd1,#23ffd4,#23ffd4,#23ffd4,#1fffd7,#1cffdb,#16ffe1,#16ffe1,#1cffdb,#26ffd1,#26ffd1,#26ffd1,#26ffd1,#36ffc1)"></i>
<i style="background:linear-gradient(90deg,#29ffce,#29ffce,#26ffd1,#23ffd4,#23ffd4,#1fffd7,#1fffd7,#1cffdb,#19ffde,#1cffdb,#1fffd7,#1fffd7,#1fffd7,#1fffd7,#1fffd7,#1fffd7,#1fffd7,#1fffd7,#1fffd7,#1fffd7,#1cffdb,#19ffde,#19ffde,#16ffe1,#13fde4,#0cf5eb,#09f1ee,#0ff9e7,#16ffe1,#16ffe1,#19ffde,#19ffde,#29ffce)"></i>
<i style="background:linear-gradient(90deg,#1fffd7,#1fffd7,#1cffdb,#19ffde,#16ffe1,#16ffe1,#16ffe1,#13fde4,#13fde4,#16ffe1,#19ffde,#19ffde,#19ffde,#19ffde,#19ffde,#1cffdb,#1cffdb,#1cffdb,#1cffdb,#1cffdb,#19ffde,#13fde4,#0ff9e7,#0cf5eb,#09f1ee,#02e8f4,#00e5f8,#02e8f4,#09f1ee,#09f1ee,#0cf5eb,#0ff9e7,#1fffd7)"></i>
<i style="background:linear-gradient(90deg,#16ffe1,#16ffe1,#13fde4,#0ff9e7,#0cf5eb,#0cf5eb,#0cf5eb,#0cf5eb,#0cf5eb,#0ff9e7,#13fde4,#16ffe1,#16ffe1,#16ffe1,#16ffe1,#16ffe1,#19ffde,#19ffde,#19ffde,#19ffde,#13fde4,#0cf5eb,#06edf1,#06edf1,#00e5f8,#00ddfe,#00ddfe,#00ddfe,#00e1fb,#00e5f8,#02e8f4,#02e8f4,#16ffe1)"></i>
<i style="background:linear-gradient(90deg,#0cf5eb,#0cf5eb,#0cf5eb,#09f1ee,#06edf1,#06edf1,#06edf1,#06edf1,#06edf1,#09f1ee,#0ff9e7,#13fde4,#13fde4,#13fde4,#13fde4,#13fde4,#16ffe1,#19ffde,#19ffde,#16ffe1,#0ff9e7,#06edf1,#00e5f8,#00e1fb,#00ddfe,#00d5ff,#00d5ff,#00d5ff,#00d5ff,#00d9ff,#00ddfe,#00e1fb,#0cf5eb)"></i>
<i style="background:linear-gradient(90deg,#06edf1,#06edf1,#06edf1,#02e8f4,#02e8f4,#02e8f4,#02e8f4,#02e8f4,#02e8f4,#06edf1,#0cf5eb,#0ff9e7,#0ff9e7,#0ff9e7,#0ff9e7,#13fde4,#16ffe1,#19ffde,#19ffde,#16ffe1,#0cf5eb,#02e8f4,#00ddfe,#00ddfe,#00d5ff,#00d1ff,#00cdff,#00d1ff,#00d1ff,#00d1ff,#00d9ff,#00d9ff,#06edf1)"></i>
<i style="background:linear-gradient(90deg,#00e1fb,#00e5f8,#00e5f8,#00e1fb,#00e1fb,#00e1fb,#00e5f8,#00e5f8,#00e5f8,#02e8f4,#0cf5eb,#0cf5eb,#0cf5eb,#0cf5eb,#0cf5eb,#0ff9e7,#13fde4,#16ffe1,#19ffde,#16ffe1,#0cf5eb,#00e5f8,#00d9ff,#00d9ff,#00d1ff,#00cdff,#00cdff,#00cdff,#00d1ff,#00d1ff,#00d1ff,#00d5ff,#00e1fb)"></i>
<i style="background:linear-gradient(90deg,#00ddfe,#00ddfe,#00ddfe,#00ddfe,#00ddfe,#00ddfe,#00e1fb,#00e5f8,#00e5f8,#02e8f4,#0cf5eb,#0cf5eb,#0cf5eb,#09f1ee,#0cf5eb,#0ff9e7,#13fde4,#16ffe1,#19ffde,#16ffe1,#0cf5eb,#00e5f8,#00d9ff,#00d5ff,#00d1ff,#00cdff,#00cdff,#00cdff,#00cdff,#00cdff,#00d1ff,#00d1ff,#00ddfe)"></i>
<i style="background:linear-gradient(90deg,#00d9ff,#00d9ff,#00d9ff,#00d9ff,#00d9ff,#00d9ff,#00ddfe,#00e1fb,#00e5f8,#02e8f4,#09f1ee,#0cf5eb,#09f1ee,#09f1ee,#09f1ee,#0cf5eb,#13fde4,#16ffe1,#19ffde,#16ffe1,#09f1ee,#00e1fb,#00d5ff,#00d5ff,#00d1ff,#00cdff,#00cdff,#00cdff,#00cdff,#00cdff,#00d1ff,#00d1ff,#00d9ff)"></i>
<i style="background:linear-gradient(90deg,#00d5ff,#00d5ff,#00d5ff,#00d5ff,#00d5ff,#00d5ff,#00ddfe,#00e1fb,#00e5f8,#02e8f4,#09f1ee,#09f1ee,#09f1ee,#09f1ee,#09f1ee,#0cf5eb,#13fde4,#16ffe1,#19ffde,#16ffe1,#09f1ee,#00e1fb,#00d5ff,#00d1ff,#00d1ff,#00cdff,#00cdff,#00cdff,#00cdff,#00cdff,#00d1ff,#00d1ff,#00d5ff)"></i>
<i style="background:linear-gradient(90deg,#00d1ff,#00d1ff,#00d1ff,#00d1ff,#00d1ff,#00d5ff,#00d9ff,#00e1fb,#00e5f8,#02e8f4,#09f1ee,#09f1ee,#09f1ee,#06edf1,#09f1ee,#0cf5eb,#13fde4,#16ffe1,#19ffde,#16ffe1,#09f1ee,#00e1fb,#00d5ff,#00d1ff,#00d1ff,#00cdff,#00cdff,#00cdff,#00cdff,#00cdff,#00d1ff,#00d1ff,#00d1ff)"></i>
<i style="background:linear-gradient(90deg,#00d1ff,#00d1ff,#00d1ff,#00d1ff,#00d1ff,#00d5ff,#00d9ff,#00e1fb,#00e5f8,#02e8f4,#09f1ee,#09f1ee,#09f1ee,#06edf1,#09f1ee,#0cf5eb,#13fde4,#16ffe1,#19ffde,#16ffe1,#09f1ee,#00e1fb,#00d5ff,#00d1ff,#00d1ff,#00cdff,#00cdff,#00cdff,#00cdff,#00cdff,#00d1ff,#00d1ff,#00d1ff)"></i>
<i style="background:linear-gradient(90deg,#00d1ff,#00d1ff,#00d1ff,#00d1ff,#00d1ff,#00d5ff,#00d9ff,#00e1fb,#00e5f8,#02e8f4,#09f1ee,#09f1ee,#09f1ee,#06edf1,#06edf1,#0cf5eb,#13fde4,#16ffe1,#19ffde,#16ffe1,#09f1ee,#00e1fb,#00d5ff,#00d1ff,#00d1ff,#00cdff,#00cdff,#00cdff,#00cdff,#00cdff,#00d1ff,#00d1ff,#00d1ff)"></i>
<i style="background:linear-gradient(90deg,#00d1ff,#00d1ff,#00d1ff,#00d1ff,#00d1ff,#00d5ff,#00d9ff,#00ddfe,#00e1fb,#00e5f8,#09f1ee,#09f1ee,#06edf1,#06edf1,#06edf1,#0cf5eb,#0ff9e7,#16ffe1,#19ffde,#16ffe1,#09f1ee,#00e1fb,#00d5ff,#00d1ff,#00d1ff,#00cdff,#00cdff,#00cdff,#00cdff,#00cdff,#00d1ff,#00d1ff,#00d1ff)"></i>
<i style="background:linear-gradient(90deg,#00d1ff,#00d1ff,#00d1ff,#00d1ff,#00d1ff,#00d5ff,#00d9ff,#00ddfe,#00e1fb,#00e5f8,#09f1ee,#09f1ee,#06edf1,#06edf1,#06edf1,#0cf5eb,#0ff9e7,#16ffe1,#19ffde,#16ffe1,#09f1ee,#00e1fb,#00d5ff,#00d1ff,#00d1ff,#00cdff,#00cdff,#00cdff,#00cdff,#00cdff,#00d1ff,#00d1ff,#00d1ff)"></i>
<i style="background:linear-gradient(90deg,#00d1ff,#00d1ff,#00d1ff,#00d1ff,#00d1ff,#00d1ff,#00d9ff,#00ddfe,#00ddfe,#00e5f8,#09f1ee,#09f1ee,#06edf1,#06edf1,#06edf1,#0cf5eb,#0ff9e7,#16ffe1,#19ffde,#16ffe1,#09f1ee,#00e1fb,#00d5ff,#00d1ff,#00d1ff,#00cdff,#00cdff,#00cdff,#00cdff,#00cdff,#00d1ff,#00d1ff,#00d1ff)"></i>
<i style="background:linear-gradient(90deg,#00d1ff,#00d1ff,#00d1ff,#00d1ff,#00d1ff,#00d1ff,#00d5ff,#00ddfe,#00ddfe,#00e5f8,#09f1ee,#09f1ee,#06edf1,#06edf1,#06edf1,#0cf5eb,#0ff9e7,#16ffe1,#19ffde,#16ffe1,#09f1ee,#00e1fb,#00d5ff,#00d1ff,#00d1ff,#00cdff,#00cdff,#00cdff,#00cdff,#00cdff,#00d1ff,#00d1ff,#00d1ff)"></i>
<i style="background:linear-gradient(90deg,#00c8ff,#00c8ff,#00c8ff,#00c8ff,#00c8ff,#00cdff,#00d1ff,#00d9ff,#00ddfe,#00e5f8,#09f1ee,#09f1ee,#06edf1,#06edf1,#06edf1,#0cf5eb,#0ff9e7,#16ffe1,#19ffde,#16ffe1,#09f1ee,#00e1fb,#00d5ff,#00d1ff,#00d1ff,#00cdff,#00cdff,#00cdff,#00cdff,#00cdff,#00d1ff,#00d1ff,#00c8ff)"></i>
<i style="background:linear-gradient(90deg,#00c8ff,#00c8ff,#00c8ff,#00c8ff,#00c8ff,#00c8ff,#00d1ff,#00d9ff,#00ddfe,#00e5f8,#09f1ee,#09f1ee,#06edf1,#06edf1,#06edf1,#0cf5eb,#0ff9e7,#16ffe1,#19ffde,#16ffe1,#09f1ee,#00e1fb,#00d5ff,#00d1ff,#00d1ff,#00cdff,#00cdff,#00cdff,#00cdff,#00cdff,#00d1ff,#00d1ff,#00c8ff)"></i>
<i style="background:linear-gradient(90deg,#00cdff,#00cdff,#00cdff,#00cdff,#00cdff,#00cdff,#00d1ff,#00d9ff,#00e1fb,#00e5f8,#09f1ee,#09f1ee,#06edf1,#06edf1,#06edf1,#0cf5eb,#0ff9e7,#16ffe1,#19ffde,#16ffe1,#09f1ee,#00e1fb,#00d5ff,#00d1ff,#00d1ff,#00cdff,#00cdff,#00cdff,#00cdff,#00cdff,#00d1ff,#00d1ff,#00cdff)"></i>
<i style="background:linear-gradient(90deg,#00d1ff,#00d1ff,#00d1ff,#00d1ff,#00d1ff,#00d1ff,#00d5ff,#00ddfe,#00e1fb,#00e5f8,#09f1ee,#09f1ee,#06edf1,#06edf1,#06edf1,#0cf5eb,#0ff9e7,#16ffe1,#19ffde,#16ffe1,#09f1ee,#00e1fb,#00d5ff,#00d1ff,#00d1ff,#00cdff,#00cdff,#00cdff,#00cdff,#00cdff,#00d1ff,#00d1ff,#00d1ff)"></i>
<i style="background:linear-gradient(90deg,#00d5ff,#00d5ff,#00d5ff,#00d5ff,#00d5ff,#00d5ff,#00ddfe,#00e1fb,#00e5f8,#02e8f4,#09f1ee,#09f1ee,#09f1ee,#06edf1,#06edf1,#0cf5eb,#13fde4,#16ffe1,#19ffde,#16ffe1,#0cf5eb,#00e5f8,#00d9ff,#00d5ff,#00d5ff,#00d1ff,#00d1ff,#00d1ff,#00d1ff,#00d1ff,#00d9ff,#00d9ff,#00d5ff)"></i>
<i style="background:linear-gradient(90deg,#00d9ff,#00d9ff,#00d9ff,#00d9ff,#00d9ff,#00ddfe,#00e1fb,#02e8f4,#06edf1,#06edf1,#0cf5eb,#0cf5eb,#09f1ee,#06edf1,#09f1ee,#0cf5eb,#13fde4,#19ffde,#1cffdb,#19ffde,#0ff9e7,#02e8f4,#00ddfe,#00ddfe,#00d9ff,#00d5ff,#00d5ff,#00d5ff,#00d5ff,#00d9ff,#00e1fb,#00e5f8,#00d9ff)"></i>
<i style="background:linear-gradient(90deg,#00e5f8,#00e1fb,#00e1fb,#00e1fb,#00e1fb,#00e5f8,#02e8f4,#09f1ee,#0cf5eb,#0cf5eb,#0ff9e7,#0ff9e7,#0cf5eb,#09f1ee,#09f1ee,#0ff9e7,#16ffe1,#19ffde,#1cffdb,#19ffde,#13fde4,#09f1ee,#02e8f4,#00e5f8,#00e5f8,#00e1fb,#00e1fb,#00e1fb,#00e1fb,#00e1fb,#06edf1,#09f1ee,#00e5f8)"></i>
<i style="background:linear-gradient(90deg,#09f1ee,#09f1ee,#09f1ee,#09f1ee,#09f1ee,#09f1ee,#0cf5eb,#13fde4,#16ffe1,#16ffe1,#13fde4,#13fde4,#0ff9e7,#0cf5eb,#0ff9e7,#13fde4,#16ffe1,#1cffdb,#1fffd7,#1cffdb,#19ffde,#13fde4,#0cf5eb,#0cf5eb,#09f1ee,#09f1ee,#06edf1,#06edf1,#06edf1,#09f1ee,#13fde4,#16ffe1,#09f1ee)"></i>
<i style="background:linear-gradient(90deg,#19ffde,#16ffe1,#16ffe1,#16ffe1,#16ffe1,#19ffde,#1cffdb,#1fffd7,#1fffd7,#1fffd7,#19ffde,#16ffe1,#16ffe1,#16ffe1,#16ffe1,#19ffde,#1cffdb,#1fffd7,#23ffd4,#1fffd7,#1cffdb,#19ffde,#16ffe1,#16ffe1,#16ffe1,#13fde4,#13fde4,#13fde4,#13fde4,#16ffe1,#1cffdb,#1fffd7,#19ffde)"></i>
<i style="background:linear-gradient(90deg,#26ffd1,#26ffd1,#26ffd1,#26ffd1,#26ffd1,#26ffd1,#26ffd1,#29ffce,#29ffce,#26ffd1,#1fffd7,#1fffd7,#1cffdb,#1cffdb,#1cffdb,#1fffd7,#23ffd4,#29ffce,#29ffce,#29ffce,#26ffd1,#23ffd4,#1fffd7,#1fffd7,#1fffd7,#1cffdb,#1cffdb,#1cffdb,#1cffdb,#1fffd7,#29ffce,#2cffca,#26ffd1)"></i>
<i style="background:linear-gradient(90deg,#36ffc1,#36ffc1,#36ffc1,#36ffc1,#36ffc1,#36ffc1,#36ffc1,#33ffc4,#33ffc4,#30ffc7,#26ffd1,#26ffd1,#26ffd1,#26ffd1,#26ffd1,#29ffce,#2cffca,#30ffc7,#33ffc4,#30ffc7,#30ffc7,#2cffca,#29ffce,#29ffce,#29ffce,#29ffce,#29ffce,#29ffce,#29ffce,#2cffca,#36ffc1,#39ffbe,#36ffc1)"></i>
<i style="background:linear-gradient(90deg,#49ffad,#49ffad,#49ffad,#49ffad,#49ffad,#46ffb1,#43ffb4,#40ffb7,#3cffba,#39ffbe,#30ffc7,#2cffca,#30ffc7,#30ffc7,#30ffc7,#33ffc4,#36ffc1,#39ffbe,#39ffbe,#39ffbe,#39ffbe,#36ffc1,#36ffc1,#36ffc1,#36ffc1,#36ffc1,#36ffc1,#36ffc1,#36ffc1,#39ffbe,#43ffb4,#49ffad,#49ffad)"></i>
<i style="background:linear-gradient(90deg,#60ff97,#60ff97,#60ff97,#5dff9a,#5dff9a,#5aff9d,#53ffa4,#49ffad,#46ffb1,#40ffb7,#36ffc1,#36ffc1,#36ffc1,#39ffbe,#39ffbe,#3cffba,#40ffb7,#43ffb4,#46ffb1,#43ffb4,#43ffb4,#43ffb4,#43ffb4,#43ffb4,#46ffb1,#46ffb1,#49ffad,#49ffad,#49ffad,#49ffad,#56ffa0,#5aff9d,#60ff97)"></i>
<i style="background:linear-gradient(90deg,#77ff80,#77ff80,#73ff83,#70ff87,#70ff87,#6dff8a,#63ff94,#56ffa0,#50ffa7,#49ffad,#40ffb7,#3cffba,#40ffb7,#46ffb1,#46ffb1,#49ffad,#4dffaa,#50ffa7,#50ffa7,#50ffa7,#50ffa7,#53ffa4,#53ffa4,#53ffa4,#56ffa0,#5aff9d,#5aff9d,#5aff9d,#5aff9d,#5dff9a,#66ff90,#6dff8a,#77ff80)"></i>
<i style="background:linear-gradient(90deg,#8aff6d,#8aff6d,#87ff70,#83ff73,#80ff77,#80ff77,#73ff83,#63ff94,#5aff9d,#53ffa4,#46ffb1,#43ffb4,#49ffad,#50ffa7,#50ffa7,#53ffa4,#5aff9d,#5dff9a,#5dff9a,#5dff9a,#60ff97,#63ff94,#63ff94,#63ff94,#66ff90,#6aff8d,#6dff8a,#6dff8a,#6dff8a,#6dff8a,#7aff7d,#7dff7a,#8aff6d)"></i>
<i style="background:linear-gradient(90deg,#9dff5a,#9aff5d,#97ff60,#94ff63,#90ff66,#8dff6a,#80ff77,#70ff87,#66ff90,#5dff9a,#4dffaa,#4dffaa,#53ffa4,#5dff9a,#5dff9a,#60ff97,#63ff94,#6aff8d,#6aff8d,#6dff8a,#70ff87,#73ff83,#73ff83,#77ff80,#7aff7d,#7dff7a,#7dff7a,#7dff7a,#7dff7a,#80ff77,#8aff6d,#90ff66,#9dff5a)"></i>
<i style="background:linear-gradient(90deg,#adff49,#adff49,#a7ff50,#a4ff53,#9dff5a,#9aff5d,#8dff6a,#7dff7a,#70ff87,#6aff8d,#56ffa0,#56ffa0,#5dff9a,#66ff90,#66ff90,#6dff8a,#70ff87,#77ff80,#77ff80,#7aff7d,#7dff7a,#83ff73,#87ff70,#87ff70,#8aff6d,#8dff6a,#90ff66,#90ff66,#90ff66,#90ff66,#9dff5a,#a4ff53,#adff49)"></i>
<i style="background:linear-gradient(90deg,#beff39,#baff3c,#b7ff40,#b1ff46,#aaff4d,#a7ff50,#9aff5d,#87ff70,#7dff7a,#73ff83,#60ff97,#5dff9a,#66ff90,#70ff87,#73ff83,#77ff80,#7dff7a,#83ff73,#83ff73,#87ff70,#8dff6a,#90ff66,#97ff60,#97ff60,#9aff5d,#a0ff56,#a0ff56,#a0ff56,#a0ff56,#a4ff53,#adff49,#b4ff43,#beff39)"></i>
<i style="background:linear-gradient(90deg,#ceff29,#caff2c,#c4ff33,#beff39,#b7ff40,#b4ff43,#a4ff53,#90ff66,#87ff70,#7aff7d,#63ff94,#63ff94,#73ff83,#80ff77,#80ff77,#87ff70,#8aff6d,#90ff66,#94ff63,#94ff63,#9aff5d,#a4ff53,#a7ff50,#aaff4d,#adff49,#b1ff46,#b4ff43,#b4ff43,#b4ff43,#b4ff43,#c1ff36,#c4ff33,#ceff29)"></i>
<i style="background:linear-gradient(90deg,#deff19,#dbff1c,#d4ff23,#caff2c,#c4ff33,#c1ff36,#b1ff46,#9aff5d,#90ff66,#83ff73,#66ff90,#66ff90,#7dff7a,#90ff66,#94ff63,#97ff60,#9aff5d,#a0ff56,#a4ff53,#a4ff53,#aaff4d,#b4ff43,#b7ff40,#baff3c,#beff39,#c4ff33,#c4ff33,#c4ff33,#c4ff33,#c7ff30,#d1ff26,#d4ff23,#deff19)"></i>
<i style="background:linear-gradient(90deg,#eeff09,#ebff0c,#e1ff16,#d4ff23,#ceff29,#caff2c,#baff3c,#a7ff50,#9aff5d,#8aff6d,#6dff8a,#6aff8d,#87ff70,#9dff5a,#9dff5a,#a0ff56,#a7ff50,#aaff4d,#adff49,#b1ff46,#b7ff40,#c1ff36,#c7ff30,#c7ff30,#ceff29,#d7ff1f,#d7ff1f,#d7ff1f,#d7ff1f,#dbff1c,#e1ff16,#e7ff0f,#eeff09)"></i>
<i style="background:linear-gradient(90deg,#feed00,#fbf100,#eeff09,#e1ff16,#d7ff1f,#d4ff23,#c1ff36,#adff49,#a0ff56,#90ff66,#6dff8a,#6dff8a,#8aff6d,#a4ff53,#a4ff53,#a7ff50,#adff49,#b1ff46,#b1ff46,#b4ff43,#c1ff36,#caff2c,#d4ff23,#d7ff1f,#e1ff16,#ebff0c,#eeff09,#eeff09,#eeff09,#eeff09,#f4f802,#f8f500,#feed00)"></i>
<i style="background:linear-gradient(90deg,#ffdb00,#ffde00,#feed00,#ebff0c,#e1ff16,#dbff1c,#c7ff30,#b1ff46,#a0ff56,#90ff66,#6dff8a,#6aff8d,#87ff70,#9dff5a,#a0ff56,#a7ff50,#aaff4d,#b1ff46,#b4ff43,#b7ff40,#c4ff33,#d1ff26,#dbff1c,#e1ff16,#ebff0c,#f8f500,#feed00,#feed00,#feed00,#feed00,#ffea00,#ffea00,#ffdb00)"></i>
<i style="background:linear-gradient(90deg,#ffd300,#ffd700,#ffea00,#f1fc06,#e4ff13,#deff19,#caff2c,#b1ff46,#a4ff53,#90ff66,#6aff8d,#63ff94,#77ff80,#83ff73,#87ff70,#90ff66,#9aff5d,#a4ff53,#aaff4d,#b1ff46,#beff39,#d1ff26,#deff19,#e4ff13,#f1fc06,#ffea00,#ffe200,#ffe200,#ffe600,#ffe600,#ffe200,#ffe200,#ffd300)"></i>
<i style="background:linear-gradient(90deg,#ffd300,#ffd700,#ffea00,#eeff09,#e4ff13,#deff19,#caff2c,#b1ff46,#a4ff53,#8dff6a,#63ff94,#5aff9d,#53ffa4,#4dffaa,#50ffa7,#5dff9a,#6aff8d,#77ff80,#80ff77,#87ff70,#a4ff53,#c7ff30,#deff19,#e4ff13,#f8f500,#ffe200,#ffdb00,#ffdb00,#ffdb00,#ffdb00,#ffdb00,#ffdb00,#ffd300)"></i>
<i style="background:linear-gradient(90deg,#ffd700,#ffdb00,#feed00,#ebff0c,#e1ff16,#dbff1c,#c4ff33,#a7ff50,#94ff63,#80ff77,#53ffa4,#43ffb4,#23ffd4,#09f1ee,#09f1ee,#16ffe1,#23ffd4,#33ffc4,#39ffbe,#46ffb1,#73ff83,#aaff4d,#d1ff26,#dbff1c,#eeff09,#ffe200,#ffdb00,#ffd700,#ffd700,#ffd700,#ffdb00,#ffdb00,#ffd700)"></i>
<i style="background:linear-gradient(90deg,#f8f500,#f4f802,#e7ff0f,#dbff1c,#d1ff26,#caff2c,#b1ff46,#90ff66,#80ff77,#6aff8d,#3cffba,#26ffd1,#00cdff,#0091ff,#0091ff,#009dff,#00a8ff,#00b5ff,#00bdff,#00d1ff,#2cffca,#73ff83,#a4ff53,#b1ff46,#caff2c,#ebff0c,#f4f802,#feed00,#ffe200,#ffe200,#ffe600,#ffe600,#f8f500)"></i>
<i style="background:linear-gradient(90deg,#baff3c,#b7ff40,#b4ff43,#b1ff46,#adff49,#a7ff50,#90ff66,#73ff83,#63ff94,#4dffaa,#19ffde,#02e8f4,#0088ff,#0039ff,#0034ff,#003dff,#0049ff,#0054ff,#0059ff,#0071ff,#00bdff,#29ffce,#5dff9a,#6aff8d,#83ff73,#a4ff53,#adff49,#c7ff30,#e1ff16,#e7ff0f,#eeff09,#eeff09,#baff3c)"></i>
<i style="background:linear-gradient(90deg,#63ff94,#60ff97,#66ff90,#6dff8a,#73ff83,#70ff87,#60ff97,#4dffaa,#43ffb4,#26ffd1,#00d1ff,#00b1ff,#0049ff,#0000ff,#0000ff,#0000ff,#0001ff,#0009ff,#000dff,#0021ff,#0064ff,#00b9ff,#0cf5eb,#16ffe1,#2cffca,#46ffb1,#50ffa7,#6aff8d,#8aff6d,#94ff63,#a4ff53,#aaff4d,#63ff94)"></i>
<i style="background:linear-gradient(90deg,#06edf1,#06edf1,#13fde4,#1fffd7,#29ffce,#29ffce,#23ffd4,#1cffdb,#16ffe1,#00e5f8,#00a5ff,#0088ff,#0029ff,#0000e3,#0000df,#0000df,#0000e3,#0000e8,#0000e8,#0000fa,#0021ff,#0064ff,#0091ff,#009dff,#00b1ff,#00cdff,#00d5ff,#0cf5eb,#2cffca,#36ffc1,#53ffa4,#60ff97,#06edf1)"></i>
<i style="background:linear-gradient(90deg,#0085ff,#0085ff,#0099ff,#00adff,#00bdff,#00bdff,#00c5ff,#00cdff,#00d1ff,#00b9ff,#0081ff,#0069ff,#0011ff,#0000d1,#0000cd,#0000d1,#0000d1,#0000d1,#0000d1,#0000df,#0000ff,#001dff,#003dff,#0044ff,#0059ff,#006dff,#0079ff,#0091ff,#00b1ff,#00c1ff,#0cf5eb,#1cffdb,#0085ff)"></i>
<i style="background:linear-gradient(90deg,#0031ff,#0031ff,#003dff,#0051ff,#005dff,#0061ff,#0079ff,#0091ff,#00a1ff,#008dff,#005dff,#0049ff,#0001ff,#0000c8,#0000c8,#0000c8,#0000c8,#0000c8,#0000c8,#0000cd,#0000df,#0000f6,#0000ff,#0000ff,#0009ff,#001dff,#0021ff,#003dff,#0059ff,#0069ff,#00a1ff,#00b9ff,#0031ff)"></i>
<i style="background:linear-gradient(90deg,#0000ff,#0000fa,#0000ff,#000dff,#0019ff,#0021ff,#0039ff,#0054ff,#0064ff,#0059ff,#0039ff,#0029ff,#0000ff,#0000c8,#0000c4,#0000c4,#0000c4,#0000c4,#0000c4,#0000c8,#0000d1,#0000da,#0000e3,#0000e3,#0000ed,#0000f6,#0000fa,#0000ff,#0009ff,#0019ff,#0059ff,#0071ff,#0000ff)"></i>
<i style="background:linear-gradient(90deg,#0000e3,#0000df,#0000e8,#0000f6,#0000ff,#0000ff,#0004ff,#001dff,#002dff,#0021ff,#000dff,#0001ff,#0000e8,#0000c4,#0000c4,#0000c4,#0000c4,#0000c4,#0000c4,#0000c4,#0000c8,#0000cd,#0000cd,#0000d1,#0000d6,#0000da,#0000da,#0000e3,#0000ed,#0000fa,#001dff,#002dff,#0000e3)"></i>
<i style="background:linear-gradient(90deg,#0000d1,#0000cd,#0000d6,#0000da,#0000df,#0000e3,#0000f1,#0000ff,#0000ff,#0000ff,#0000f6,#0000ed,#0000d6,#0000c4,#0000c4,#0000c4,#0000c4,#0000c4,#0000c4,#0000c4,#0000c4,#0000c4,#0000c4,#0000c8,#0000c8,#0000c8,#0000c8,#0000cd,#0000d1,#0000da,#0000f6,#0000ff,#0000d1)"></i>
<i style="background:linear-gradient(90deg,#0000c8,#0000c8,#0000c8,#0000cd,#0000cd,#0000d1,#0000da,#0000e8,#0000ed,#0000e8,#0000df,#0000da,#0000cd,#0000bf,#0000bf,#0000bf,#0000bf,#0000bf,#0000bf,#0000bf,#0000c4,#0000c4,#0000c4,#0000c4,#0000c4,#0000c4,#0000c4,#0000c4,#0000c8,#0000cd,#0000da,#0000e3,#0000c8)"></i>
<i style="background:linear-gradient(90deg,#0000c4,#0000c4,#0000c4,#0000c4,#0000c4,#0000c8,#0000cd,#0000d1,#0000d6,#0000d6,#0000cd,#0000cd,#0000c4,#0000bf,#0000bf,#0000bf,#0000bf,#0000bf,#0000bf,#0000bf,#0000bf,#0000bf,#0000c4,#0000c4,#0000c4,#0000c4,#0000c4,#0000c4,#0000c4,#0000c4,#0000cd,#0000d1,#0000c4)"></i>
<i style="background:linear-gradient(90deg,#0000bf,#0000bf,#0000bf,#0000c4,#0000c4,#0000c4,#0000c4,#0000c8,#0000cd,#0000c8,#0000c4,#0000c4,#0000c4,#0000bf,#0000bf,#0000bf,#0000bf,#0000bf,#0000bf,#0000bf,#0000bf,#0000bf,#0000bf,#0000bf,#0000bf,#0000bf,#0000bf,#0000bf,#0000c4,#0000c4,#0000c8,#0000c8,#0000bf)"></i>
<i></i>
<i></i>
</div>
<div class="p" style="left:193.4px;top:338.9px">
<i></i>
<i style="background:linear-gradient(90deg,#43ffb4,#43ffb4,#43ffb4,#43ffb4,#43ffb4,#43ffb4,#43ffb4,#43ffb4,#43ffb4,#43ffb4,#43ffb4,#43ffb4,#43ffb4,#43ffb4,#43ffb4,#43ffb4,#43ffb4,#43ffb4,#43ffb4,#43ffb4,#43ffb4,#43ffb4,#43ffb4,#43ffb4,#46ffb1,#46ffb1,#49ffad,#49ffad,#49ffad,#49ffad,#49ffad,#46ffb1,#43ffb4)"></i>
<i style="background:linear-gradient(90deg,#43ffb4,#43ffb4,#43ffb4,#43ffb4,#43ffb4,#43ffb4,#43ffb4,#43ffb4,#43ffb4,#43ffb4,#43ffb4,#43ffb4,#43ffb4,#43ffb4,#43ffb4,#43ffb4,#43ffb4,#43ffb4,#43ffb4,#43ffb4,#43ffb4,#43ffb4,#43ffb4,#43ffb4,#46ffb1,#49ffad,#49ffad,#49ffad,#49ffad,#49ffad,#49ffad,#49ffad,#43ffb4)"></i>
<i style="background:linear-gradient(90deg,#46ffb1,#46ffb1,#46ffb1,#46ffb1,#46ffb1,#46ffb1,#46ffb1,#46ffb1,#46ffb1,#46ffb1,#46ffb1,#46ffb1,#46ffb1,#46ffb1,#46ffb1,#46ffb1,#46ffb1,#46ffb1,#46ffb1,#46ffb1,#46ffb1,#46ffb1,#46ffb1,#46ffb1,#46ffb1,#49ffad,#49ffad,#49ffad,#49ffad,#49ffad,#49ffad,#49ffad,#46ffb1)"></i>
<i style="background:linear-gradient(90deg,#46ffb1,#46ffb1,#46ffb1,#46ffb1,#46ffb1,#46ffb1,#46ffb1,#46ffb1,#46ffb1,#46ffb1,#46ffb1,#46ffb1,#46ffb1,#46ffb1,#46ffb1,#46ffb1,#46ffb1,#46ffb1,#46ffb1,#46ffb1,#46ffb1,#46ffb1,#46ffb1,#46ffb1,#49ffad,#49ffad,#4dffaa,#4dffaa,#4dffaa,#4dffaa,#4dffaa,#49ffad,#46ffb1)"></i>
<i style="background:linear-gradient(90deg,#49ffad,#46ffb1,#46ffb1,#46ffb1,#46ffb1,#46ffb1,#46ffb1,#46ffb1,#46ffb1,#46ffb1,#46ffb1,#46ffb1,#46ffb1,#46ffb1,#46ffb1,#46ffb1,#46ffb1,#46ffb1,#46ffb1,#46ffb1,#46ffb1,#46ffb1,#46ffb1,#49ffad,#49ffad,#4dffaa,#4dffaa,#4dffaa,#4dffaa,#4dffaa,#4dffaa,#4dffaa,#49ffad)"></i>
<i style="background:linear-gradient(90deg,#53ffa4,#53ffa4,#50ffa7,#50ffa7,#50ffa7,#50ffa7,#50ffa7,#50ffa7,#4dffaa,#4dffaa,#4dffaa,#4dffaa,#49ffad,#49ffad,#49ffad,#49ffad,#49ffad,#49ffad,#49ffad,#49ffad,#4dffaa,#4dffaa,#4dffaa,#4dffaa,#50ffa7,#53ffa4,#56ffa0,#56ffa0,#56ffa0,#56ffa0,#56ffa0,#56ffa0,#53ffa4)"></i>
<i style="background:linear-gradient(90deg,#66ff90,#66ff90,#63ff94,#60ff97,#5dff9a,#5dff9a,#5dff9a,#5aff9d,#5aff9d,#5aff9d,#56ffa0,#53ffa4,#50ffa7,#4dffaa,#4dffaa,#4dffaa,#50ffa7,#50ffa7,#50ffa7,#50ffa7,#53ffa4,#56ffa0,#5aff9d,#5aff9d,#5dff9a,#63ff94,#66ff90,#66ff90,#66ff90,#6aff8d,#6dff8a,#6dff8a,#66ff90)"></i>
<i style="background:linear-gradient(90deg,#7aff7d,#77ff80,#73ff83,#6dff8a,#6aff8d,#6aff8d,#6aff8d,#66ff90,#66ff90,#66ff90,#60ff97,#5aff9d,#56ffa0,#53ffa4,#53ffa4,#53ffa4,#53ffa4,#53ffa4,#53ffa4,#56ffa0,#5aff9d,#60ff97,#63ff94,#66ff90,#6dff8a,#70ff87,#73ff83,#77ff80,#7aff7d,#7dff7a,#7dff7a,#7dff7a,#7aff7d)"></i>
<i style="background:linear-gradient(90deg,#8dff6a,#8aff6d,#83ff73,#7aff7d,#77ff80,#73ff83,#73ff83,#70ff87,#70ff87,#70ff87,#6aff8d,#60ff97,#5aff9d,#56ffa0,#56ffa0,#56ffa0,#56ffa0,#56ffa0,#5aff9d,#5aff9d,#60ff97,#66ff90,#6dff8a,#70ff87,#77ff80,#7dff7a,#80ff77,#83ff73,#87ff70,#8aff6d,#8dff6a,#90ff66,#8dff6a)"></i>
<i style="background:linear-gradient(90deg,#9dff5a,#9aff5d,#90ff66,#87ff70,#80ff77,#80ff77,#7dff7a,#7aff7d,#77ff80,#77ff80,#6dff8a,#66ff90,#5dff9a,#5aff9d,#5aff9d,#5aff9d,#5aff9d,#5aff9d,#5dff9a,#5dff9a,#66ff90,#6dff8a,#73ff83,#77ff80,#80ff77,#8aff6d,#8dff6a,#90ff66,#94ff63,#9aff5d,#9dff5a,#9dff5a,#9dff5a)"></i>
<i style="background:linear-gradient(90deg,#a7ff50,#a4ff53,#9aff5d,#90ff66,#8aff6d,#87ff70,#83ff73,#80ff77,#7dff7a,#7dff7a,#73ff83,#6aff8d,#60ff97,#5dff9a,#5dff9a,#5dff9a,#5dff9a,#5dff9a,#5dff9a,#60ff97,#6aff8d,#73ff83,#7aff7d,#7dff7a,#87ff70,#94ff63,#97ff60,#9aff5d,#a0ff56,#a4ff53,#a7ff50,#aaff4d,#a7ff50)"></i>
<i style="background:linear-gradient(90deg,#adff49,#aaff4d,#a0ff56,#97ff60,#8dff6a,#8dff6a,#8aff6d,#87ff70,#83ff73,#80ff77,#77ff80,#6dff8a,#63ff94,#5dff9a,#5dff9a,#60ff97,#60ff97,#60ff97,#60ff97,#63ff94,#6dff8a,#77ff80,#80ff77,#83ff73,#8dff6a,#97ff60,#9dff5a,#a0ff56,#a7ff50,#adff49,#b1ff46,#b4ff43,#adff49)"></i>
<i style="background:linear-gradient(90deg,#b7ff40,#b1ff46,#a7ff50,#9aff5d,#94ff63,#90ff66,#8dff6a,#87ff70,#87ff70,#83ff73,#7aff7d,#70ff87,#66ff90,#60ff97,#60ff97,#60ff97,#60ff97,#60ff97,#60ff97,#63ff94,#6dff8a,#77ff80,#80ff77,#83ff73,#8dff6a,#9aff5d,#a0ff56,#a4ff53,#aaff4d,#b4ff43,#b7ff40,#baff3c,#b7ff40)"></i>
<i style="background:linear-gradient(90deg,#baff3c,#b7ff40,#aaff4d,#9dff5a,#94ff63,#94ff63,#8dff6a,#8aff6d,#87ff70,#83ff73,#7aff7d,#70ff87,#66ff90,#63ff94,#60ff97,#60ff97,#60ff97,#60ff97,#60ff97,#63ff94,#6dff8a,#77ff80,#80ff77,#83ff73,#90ff66,#9dff5a,#a4ff53,#a7ff50,#adff49,#b7ff40,#beff39,#beff39,#baff3c)"></i>
<i style="background:linear-gradient(90deg,#baff3c,#b4ff43,#aaff4d,#9dff5a,#97ff60,#94ff63,#90ff66,#87ff70,#83ff73,#80ff77,#7aff7d,#70ff87,#66ff90,#60ff97,#60ff97,#60ff97,#60ff97,#60ff97,#60ff97,#63ff94,#6dff8a,#77ff80,#80ff77,#83ff73,#90ff66,#a0ff56,#a4ff53,#a7ff50,#adff49,#b7ff40,#beff39,#beff39,#baff3c)"></i>
<i style="background:linear-gradient(90deg,#b4ff43,#b1ff46,#a7ff50,#9dff5a,#94ff63,#94ff63,#8dff6a,#87ff70,#83ff73,#80ff77,#77ff80,#6dff8a,#63ff94,#60ff97,#60ff97,#60ff97,#5dff9a,#5dff9a,#5dff9a,#60ff97,#6aff8d,#77ff80,#80ff77,#83ff73,#90ff66,#a0ff56,#a4ff53,#a7ff50,#adff49,#b4ff43,#baff3c,#baff3c,#b4ff43)"></i>
<i style="background:linear-gradient(90deg,#b1ff46,#adff49,#a4ff53,#97ff60,#90ff66,#8dff6a,#8aff6d,#83ff73,#80ff77,#7dff7a,#73ff83,#6aff8d,#63ff94,#5dff9a,#5dff9a,#5dff9a,#5dff9a,#5aff9d,#5aff9d,#5dff9a,#6aff8d,#77ff80,#80ff77,#83ff73,#90ff66,#9dff5a,#a4ff53,#a4ff53,#aaff4d,#b1ff46,#b4ff43,#b4ff43,#b1ff46)"></i>
<i style="background:linear-gradient(90deg,#aaff4d,#a7ff50,#9dff5a,#90ff66,#8aff6d,#87ff70,#83ff73,#7dff7a,#7aff7d,#7aff7d,#70ff87,#66ff90,#60ff97,#5aff9d,#5aff9d,#5aff9d,#5aff9d,#56ffa0,#56ffa0,#5aff9d,#63ff94,#70ff87,#7aff7d,#7dff7a,#8aff6d,#97ff60,#9aff5d,#9dff5a,#a4ff53,#aaff4d,#adff49,#adff49,#aaff4d)"></i>
<i style="background:linear-gradient(90deg,#9dff5a,#9aff5d,#90ff66,#87ff70,#80ff77,#80ff77,#7aff7d,#77ff80,#73ff83,#70ff87,#6aff8d,#63ff94,#5aff9d,#56ffa0,#56ffa0,#56ffa0,#53ffa4,#53ffa4,#53ffa4,#56ffa0,#5dff9a,#66ff90,#70ff87,#73ff83,#7dff7a,#8aff6d,#90ff66,#90ff66,#97ff60,#9aff5d,#a0ff56,#a0ff56,#9dff5a)"></i>
<i style="background:linear-gradient(90deg,#8aff6d,#87ff70,#80ff77,#7aff7d,#73ff83,#73ff83,#6dff8a,#6aff8d,#66ff90,#63ff94,#60ff97,#5aff9d,#56ffa0,#53ffa4,#53ffa4,#50ffa7,#50ffa7,#4dffaa,#4dffaa,#50ffa7,#56ffa0,#5dff9a,#63ff94,#66ff90,#70ff87,#7dff7a,#83ff73,#83ff73,#87ff70,#87ff70,#8aff6d,#8aff6d,#8aff6d)"></i>
<i style="background:linear-gradient(90deg,#77ff80,#77ff80,#70ff87,#6aff8d,#66ff90,#63ff94,#60ff97,#5dff9a,#5aff9d,#5aff9d,#56ffa0,#53ffa4,#50ffa7,#50ffa7,#50ffa7,#4dffaa,#49ffad,#46ffb1,#46ffb1,#49ffad,#4dffaa,#53ffa4,#5aff9d,#5aff9d,#63ff94,#6dff8a,#70ff87,#73ff83,#73ff83,#73ff83,#77ff80,#77ff80,#77ff80)"></i>
<i style="background:linear-gradient(90deg,#66ff90,#66ff90,#60ff97,#5dff9a,#5aff9d,#56ffa0,#53ffa4,#50ffa7,#4dffaa,#4dffaa,#4dffaa,#4dffaa,#49ffad,#49ffad,#49ffad,#46ffb1,#46ffb1,#43ffb4,#40ffb7,#43ffb4,#46ffb1,#49ffad,#4dffaa,#4dffaa,#50ffa7,#5aff9d,#5dff9a,#5dff9a,#60ff97,#60ff97,#63ff94,#63ff94,#66ff90)"></i>
<i style="background:linear-gradient(90deg,#5aff9d,#56ffa0,#53ffa4,#50ffa7,#4dffaa,#4dffaa,#49ffad,#46ffb1,#43ffb4,#43ffb4,#43ffb4,#43ffb4,#46ffb1,#46ffb1,#46ffb1,#43ffb4,#40ffb7,#3cffba,#39ffbe,#39ffbe,#3cffba,#40ffb7,#43ffb4,#3cffba,#39ffbe,#43ffb4,#49ffad,#4dffaa,#4dffaa,#50ffa7,#50ffa7,#50ffa7,#5aff9d)"></i>
<i style="background:linear-gradient(90deg,#49ffad,#49ffad,#46ffb1,#43ffb4,#43ffb4,#40ffb7,#40ffb7,#39ffbe,#39ffbe,#39ffbe,#39ffbe,#3cffba,#40ffb7,#40ffb7,#40ffb7,#3cffba,#39ffbe,#36ffc1,#33ffc4,#33ffc4,#36ffc1,#36ffc1,#36ffc1,#2cffca,#23ffd4,#2cffca,#36ffc1,#39ffbe,#3cffba,#3cffba,#40ffb7,#40ffb7,#49ffad)"></i>
<i style="background:linear-gradient(90deg,#3cffba,#3cffba,#3cffba,#39ffbe,#36ffc1,#36ffc1,#33ffc4,#30ffc7,#30ffc7,#30ffc7,#33ffc4,#36ffc1,#39ffbe,#39ffbe,#39ffbe,#36ffc1,#33ffc4,#30ffc7,#30ffc7,#30ffc7,#2cffca,#2cffca,#29ffce,#19ffde,#09f1ee,#16ffe1,#26ffd1,#29ffce,#2cffca,#2cffca,#30ffc7,#30ffc7,#3cffba)"></i>
<i style="background:linear-gradient(90deg,#30ffc7,#30ffc7,#30ffc7,#30ffc7,#2cffca,#2cffca,#2cffca,#29ffce,#26ffd1,#26ffd1,#29ffce,#30ffc7,#33ffc4,#36ffc1,#33ffc4,#33ffc4,#30ffc7,#2cffca,#2cffca,#2cffca,#29ffce,#23ffd4,#1fffd7,#0cf5eb,#00e1fb,#09f1ee,#19ffde,#1cffdb,#1cffdb,#1fffd7,#23ffd4,#23ffd4,#30ffc7)"></i>
<i style="background:linear-gradient(90deg,#26ffd1,#26ffd1,#26ffd1,#26ffd1,#26ffd1,#26ffd1,#23ffd4,#1fffd7,#1fffd7,#1fffd7,#23ffd4,#29ffce,#2cffca,#30ffc7,#30ffc7,#2cffca,#2cffca,#2cffca,#2cffca,#29ffce,#23ffd4,#1cffdb,#13fde4,#06edf1,#00d9ff,#00e5f8,#0cf5eb,#0ff9e7,#13fde4,#13fde4,#16ffe1,#16ffe1,#26ffd1)"></i>
<i style="background:linear-gradient(90deg,#1cffdb,#1cffdb,#1cffdb,#1cffdb,#1cffdb,#1cffdb,#1cffdb,#19ffde,#19ffde,#1cffdb,#1fffd7,#23ffd4,#26ffd1,#29ffce,#29ffce,#29ffce,#29ffce,#29ffce,#29ffce,#26ffd1,#1fffd7,#13fde4,#09f1ee,#02e8f4,#00d9ff,#00e1fb,#06edf1,#06edf1,#06edf1,#09f1ee,#09f1ee,#0cf5eb,#1cffdb)"></i>
<i style="background:linear-gradient(90deg,#13fde4,#13fde4,#13fde4,#16ffe1,#16ffe1,#16ffe1,#16ffe1,#16ffe1,#16ffe1,#16ffe1,#19ffde,#1cffdb,#1fffd7,#23ffd4,#23ffd4,#23ffd4,#26ffd1,#29ffce,#29ffce,#26ffd1,#19ffde,#0cf5eb,#02e8f4,#00e1fb,#00ddfe,#00ddfe,#00e1fb,#00e1fb,#00e5f8,#00e5f8,#00e5f8,#02e8f4,#13fde4)"></i>
<i style="background:linear-gradient(90deg,#09f1ee,#0cf5eb,#0cf5eb,#0cf5eb,#0ff9e7,#0ff9e7,#0ff9e7,#0ff9e7,#0ff9e7,#13fde4,#13fde4,#16ffe1,#19ffde,#1cffdb,#1cffdb,#1fffd7,#23ffd4,#26ffd1,#29ffce,#26ffd1,#16ffe1,#06edf1,#00e1fb,#00ddfe,#00d9ff,#00d5ff,#00d9ff,#00d9ff,#00d9ff,#00d9ff,#00d9ff,#00ddfe,#09f1ee)"></i>
<i style="background:linear-gradient(90deg,#02e8f4,#06edf1,#06edf1,#09f1ee,#09f1ee,#09f1ee,#0cf5eb,#0cf5eb,#0ff9e7,#0ff9e7,#13fde4,#16ffe1,#19ffde,#19ffde,#19ffde,#1cffdb,#23ffd4,#26ffd1,#29ffce,#23ffd4,#16ffe1,#02e8f4,#00d9ff,#00d9ff,#00d5ff,#00d1ff,#00d1ff,#00d1ff,#00d1ff,#00d1ff,#00d1ff,#00d5ff,#02e8f4)"></i>
<i style="background:linear-gradient(90deg,#00e1fb,#00e5f8,#00e5f8,#02e8f4,#06edf1,#06edf1,#09f1ee,#0cf5eb,#0ff9e7,#0ff9e7,#13fde4,#13fde4,#16ffe1,#16ffe1,#19ffde,#1cffdb,#23ffd4,#26ffd1,#29ffce,#23ffd4,#16ffe1,#02e8f4,#00d9ff,#00d5ff,#00d1ff,#00d1ff,#00cdff,#00cdff,#00cdff,#00cdff,#00cdff,#00d1ff,#00e1fb)"></i>
<i style="background:linear-gradient(90deg,#00ddfe,#00ddfe,#00e1fb,#00e5f8,#00e5f8,#02e8f4,#06edf1,#0cf5eb,#0ff9e7,#0ff9e7,#13fde4,#13fde4,#16ffe1,#16ffe1,#16ffe1,#1cffdb,#1fffd7,#26ffd1,#29ffce,#23ffd4,#13fde4,#00e5f8,#00d5ff,#00d1ff,#00d1ff,#00cdff,#00cdff,#00cdff,#00cdff,#00cdff,#00cdff,#00cdff,#00ddfe)"></i>
<i style="background:linear-gradient(90deg,#00d9ff,#00d9ff,#00ddfe,#00e1fb,#00e1fb,#00e5f8,#02e8f4,#0cf5eb,#0ff9e7,#0ff9e7,#0ff9e7,#13fde4,#13fde4,#16ffe1,#16ffe1,#19ffde,#1fffd7,#26ffd1,#29ffce,#23ffd4,#13fde4,#00e5f8,#00d5ff,#00d1ff,#00d1ff,#00cdff,#00cdff,#00cdff,#00cdff,#00cdff,#00cdff,#00cdff,#00d9ff)"></i>
<i style="background:linear-gradient(90deg,#00d5ff,#00d5ff,#00d9ff,#00ddfe,#00e1fb,#00e1fb,#02e8f4,#09f1ee,#0ff9e7,#0ff9e7,#0ff9e7,#13fde4,#13fde4,#16ffe1,#16ffe1,#19ffde,#1fffd7,#26ffd1,#29ffce,#23ffd4,#16ffe1,#02e8f4,#00d9ff,#00d5ff,#00d1ff,#00d1ff,#00d1ff,#00d1ff,#00cdff,#00cdff,#00cdff,#00cdff,#00d5ff)"></i>
<i style="background:linear-gradient(90deg,#00d5ff,#00d5ff,#00d9ff,#00ddfe,#00e1fb,#00e1fb,#02e8f4,#09f1ee,#0ff9e7,#0ff9e7,#0ff9e7,#13fde4,#13fde4,#13fde4,#16ffe1,#19ffde,#1fffd7,#26ffd1,#29ffce,#26ffd1,#16ffe1,#06edf1,#00ddfe,#00ddfe,#00d9ff,#00d9ff,#00d9ff,#00d9ff,#00d5ff,#00d5ff,#00d5ff,#00d5ff,#00d5ff)"></i>
<i style="background:linear-gradient(90deg,#00d9ff,#00d9ff,#00ddfe,#00e1fb,#00e1fb,#00e1fb,#02e8f4,#0cf5eb,#0ff9e7,#0ff9e7,#0ff9e7,#13fde4,#13fde4,#13fde4,#16ffe1,#19ffde,#1fffd7,#26ffd1,#29ffce,#26ffd1,#19ffde,#09f1ee,#00e5f8,#00e5f8,#00e5f8,#00e1fb,#00e1fb,#00e1fb,#00e1fb,#00e1fb,#00e1fb,#00ddfe,#00d9ff)"></i>
<i style="background:linear-gradient(90deg,#00ddfe,#00ddfe,#00e1fb,#00e1fb,#00e5f8,#00e5f8,#06edf1,#0cf5eb,#0ff9e7,#0ff9e7,#0ff9e7,#13fde4,#13fde4,#13fde4,#16ffe1,#19ffde,#1fffd7,#26ffd1,#29ffce,#26ffd1,#19ffde,#0cf5eb,#06edf1,#02e8f4,#02e8f4,#02e8f4,#06edf1,#02e8f4,#02e8f4,#02e8f4,#02e8f4,#00e5f8,#00ddfe)"></i>
<i style="background:linear-gradient(90deg,#00e5f8,#00e5f8,#00e5f8,#02e8f4,#02e8f4,#02e8f4,#06edf1,#0cf5eb,#0ff9e7,#0ff9e7,#0ff9e7,#13fde4,#13fde4,#13fde4,#16ffe1,#19ffde,#1fffd7,#26ffd1,#29ffce,#26ffd1,#1cffdb,#0ff9e7,#09f1ee,#09f1ee,#09f1ee,#0cf5eb,#0cf5eb,#0cf5eb,#09f1ee,#09f1ee,#06edf1,#06edf1,#00e5f8)"></i>
<i style="background:linear-gradient(90deg,#06edf1,#06edf1,#06edf1,#06edf1,#09f1ee,#09f1ee,#09f1ee,#0cf5eb,#0ff9e7,#0ff9e7,#0ff9e7,#13fde4,#13fde4,#13fde4,#16ffe1,#19ffde,#1fffd7,#26ffd1,#29ffce,#26ffd1,#1cffdb,#13fde4,#0cf5eb,#09f1ee,#0cf5eb,#0ff9e7,#0ff9e7,#0ff9e7,#0cf5eb,#0cf5eb,#09f1ee,#09f1ee,#06edf1)"></i>
<i style="background:linear-gradient(90deg,#09f1ee,#09f1ee,#09f1ee,#09f1ee,#09f1ee,#09f1ee,#0cf5eb,#0ff9e7,#0ff9e7,#0ff9e7,#0ff9e7,#13fde4,#13fde4,#13fde4,#16ffe1,#19ffde,#1fffd7,#26ffd1,#29ffce,#26ffd1,#1cffdb,#0ff9e7,#09f1ee,#06edf1,#09f1ee,#09f1ee,#09f1ee,#09f1ee,#09f1ee,#09f1ee,#06edf1,#06edf1,#09f1ee)"></i>
<i style="background:linear-gradient(90deg,#06edf1,#06edf1,#09f1ee,#09f1ee,#09f1ee,#09f1ee,#0cf5eb,#0cf5eb,#0ff9e7,#0ff9e7,#0ff9e7,#13fde4,#13fde4,#13fde4,#16ffe1,#19ffde,#1fffd7,#26ffd1,#29ffce,#26ffd1,#19ffde,#0cf5eb,#02e8f4,#00e5f8,#00e5f8,#00e5f8,#00e5f8,#00e5f8,#00e5f8,#00e5f8,#00e5f8,#00e5f8,#06edf1)"></i>
<i style="background:linear-gradient(90deg,#02e8f4,#02e8f4,#02e8f4,#02e8f4,#02e8f4,#06edf1,#09f1ee,#0cf5eb,#0ff9e7,#0ff9e7,#0ff9e7,#13fde4,#13fde4,#13fde4,#16ffe1,#19ffde,#1fffd7,#26ffd1,#29ffce,#26ffd1,#16ffe1,#06edf1,#00e1fb,#00ddfe,#00ddfe,#00ddfe,#00ddfe,#00ddfe,#00ddfe,#00ddfe,#00ddfe,#00ddfe,#02e8f4)"></i>
<i style="background:linear-gradient(90deg,#00ddfe,#00e1fb,#00e1fb,#00e1fb,#00e5f8,#00e5f8,#06edf1,#0cf5eb,#0ff9e7,#0ff9e7,#0ff9e7,#13fde4,#13fde4,#13fde4,#16ffe1,#19ffde,#1fffd7,#26ffd1,#29ffce,#26ffd1,#16ffe1,#06edf1,#00ddfe,#00d9ff,#00d9ff,#00d9ff,#00d9ff,#00d9ff,#00d9ff,#00d9ff,#00d9ff,#00d9ff,#00ddfe)"></i>
<i style="background:linear-gradient(90deg,#00d5ff,#00d5ff,#00d9ff,#00d9ff,#00d9ff,#00ddfe,#00e5f8,#09f1ee,#0ff9e7,#0ff9e7,#0ff9e7,#13fde4,#13fde4,#13fde4,#16ffe1,#19ffde,#1fffd7,#26ffd1,#29ffce,#23ffd4,#16ffe1,#02e8f4,#00d9ff,#00d5ff,#00d5ff,#00d5ff,#00d5ff,#00d5ff,#00d5ff,#00d5ff,#00d5ff,#00d5ff,#00d5ff)"></i>
<i style="background:linear-gradient(90deg,#00d1ff,#00d5ff,#00d5ff,#00d9ff,#00d9ff,#00ddfe,#00e5f8,#09f1ee,#0ff9e7,#0ff9e7,#0ff9e7,#13fde4,#13fde4,#16ffe1,#16ffe1,#19ffde,#1fffd7,#26ffd1,#29ffce,#23ffd4,#13fde4,#00e5f8,#00d5ff,#00d1ff,#00d1ff,#00d1ff,#00d1ff,#00d1ff,#00d1ff,#00d1ff,#00d1ff,#00d1ff,#00d1ff)"></i>
<i style="background:linear-gradient(90deg,#00d9ff,#00d9ff,#00d9ff,#00ddfe,#00ddfe,#00e1fb,#02e8f4,#0cf5eb,#0ff9e7,#0ff9e7,#13fde4,#13fde4,#16ffe1,#16ffe1,#16ffe1,#1cffdb,#23ffd4,#26ffd1,#29ffce,#26ffd1,#13fde4,#00e5f8,#00d5ff,#00d1ff,#00d1ff,#00d5ff,#00d5ff,#00d5ff,#00d5ff,#00d5ff,#00d5ff,#00d5ff,#00d9ff)"></i>
<i style="background:linear-gradient(90deg,#00e1fb,#00e1fb,#00e1fb,#00e5f8,#00e5f8,#02e8f4,#06edf1,#0cf5eb,#13fde4,#13fde4,#13fde4,#16ffe1,#19ffde,#19ffde,#19ffde,#1fffd7,#23ffd4,#29ffce,#29ffce,#26ffd1,#16ffe1,#02e8f4,#00d9ff,#00d5ff,#00d9ff,#00d9ff,#00ddfe,#00ddfe,#00ddfe,#00ddfe,#00e1fb,#00e1fb,#00e1fb)"></i>
<i style="background:linear-gradient(90deg,#09f1ee,#09f1ee,#09f1ee,#09f1ee,#0cf5eb,#0cf5eb,#0ff9e7,#13fde4,#13fde4,#13fde4,#16ffe1,#19ffde,#1cffdb,#1cffdb,#1fffd7,#23ffd4,#26ffd1,#29ffce,#2cffca,#26ffd1,#19ffde,#06edf1,#00e1fb,#00ddfe,#00e1fb,#00e5f8,#02e8f4,#02e8f4,#06edf1,#06edf1,#09f1ee,#09f1ee,#09f1ee)"></i>
<i style="background:linear-gradient(90deg,#19ffde,#16ffe1,#16ffe1,#16ffe1,#16ffe1,#16ffe1,#16ffe1,#16ffe1,#16ffe1,#19ffde,#19ffde,#1cffdb,#1fffd7,#23ffd4,#23ffd4,#26ffd1,#29ffce,#2cffca,#2cffca,#29ffce,#1cffdb,#0ff9e7,#02e8f4,#02e8f4,#09f1ee,#0ff9e7,#13fde4,#13fde4,#16ffe1,#19ffde,#19ffde,#19ffde,#19ffde)"></i>
<i style="background:linear-gradient(90deg,#23ffd4,#23ffd4,#23ffd4,#23ffd4,#23ffd4,#23ffd4,#1fffd7,#1fffd7,#1fffd7,#1fffd7,#23ffd4,#26ffd1,#29ffce,#29ffce,#29ffce,#2cffca,#30ffc7,#30ffc7,#30ffc7,#30ffc7,#26ffd1,#1cffdb,#13fde4,#13fde4,#19ffde,#1cffdb,#1fffd7,#1fffd7,#23ffd4,#26ffd1,#29ffce,#29ffce,#23ffd4)"></i>
<i style="background:linear-gradient(90deg,#30ffc7,#30ffc7,#30ffc7,#2cffca,#2cffca,#2cffca,#2cffca,#29ffce,#29ffce,#29ffce,#2cffca,#30ffc7,#30ffc7,#33ffc4,#33ffc4,#33ffc4,#36ffc1,#36ffc1,#36ffc1,#36ffc1,#30ffc7,#26ffd1,#1fffd7,#1fffd7,#26ffd1,#29ffce,#2cffca,#2cffca,#33ffc4,#36ffc1,#39ffbe,#39ffbe,#30ffc7)"></i>
<i style="background:linear-gradient(90deg,#40ffb7,#40ffb7,#3cffba,#3cffba,#39ffbe,#39ffbe,#36ffc1,#33ffc4,#30ffc7,#33ffc4,#33ffc4,#36ffc1,#39ffbe,#39ffbe,#39ffbe,#39ffbe,#3cffba,#3cffba,#3cffba,#3cffba,#36ffc1,#33ffc4,#2cffca,#2cffca,#33ffc4,#39ffbe,#3cffba,#3cffba,#43ffb4,#46ffb1,#49ffad,#49ffad,#40ffb7)"></i>
<i style="background:linear-gradient(90deg,#56ffa0,#53ffa4,#53ffa4,#50ffa7,#4dffaa,#4dffaa,#46ffb1,#40ffb7,#39ffbe,#39ffbe,#3cffba,#3cffba,#40ffb7,#40ffb7,#40ffb7,#43ffb4,#43ffb4,#43ffb4,#43ffb4,#43ffb4,#40ffb7,#3cffba,#3cffba,#3cffba,#43ffb4,#49ffad,#4dffaa,#50ffa7,#53ffa4,#5aff9d,#5dff9a,#5dff9a,#56ffa0)"></i>
<i style="background:linear-gradient(90deg,#6aff8d,#6aff8d,#66ff90,#63ff94,#60ff97,#5dff9a,#56ffa0,#49ffad,#46ffb1,#46ffb1,#46ffb1,#46ffb1,#49ffad,#49ffad,#49ffad,#49ffad,#49ffad,#4dffaa,#4dffaa,#4dffaa,#4dffaa,#4dffaa,#4dffaa,#4dffaa,#53ffa4,#5dff9a,#60ff97,#63ff94,#66ff90,#6aff8d,#6dff8a,#70ff87,#6aff8d)"></i>
<i style="background:linear-gradient(90deg,#80ff77,#80ff77,#7dff7a,#77ff80,#73ff83,#70ff87,#66ff90,#5aff9d,#50ffa7,#50ffa7,#53ffa4,#53ffa4,#53ffa4,#53ffa4,#53ffa4,#53ffa4,#53ffa4,#53ffa4,#53ffa4,#56ffa0,#56ffa0,#5aff9d,#5aff9d,#5dff9a,#66ff90,#6dff8a,#70ff87,#73ff83,#77ff80,#7dff7a,#80ff77,#80ff77,#80ff77)"></i>
<i style="background:linear-gradient(90deg,#97ff60,#97ff60,#90ff66,#8dff6a,#8aff6d,#87ff70,#7aff7d,#6aff8d,#60ff97,#60ff97,#60ff97,#60ff97,#60ff97,#60ff97,#60ff97,#60ff97,#60ff97,#60ff97,#60ff97,#60ff97,#63ff94,#66ff90,#6aff8d,#6dff8a,#77ff80,#80ff77,#83ff73,#87ff70,#8aff6d,#8dff6a,#90ff66,#94ff63,#97ff60)"></i>
<i style="background:linear-gradient(90deg,#aaff4d,#aaff4d,#a7ff50,#a0ff56,#9dff5a,#9aff5d,#8aff6d,#77ff80,#6dff8a,#6dff8a,#6dff8a,#6dff8a,#6dff8a,#6dff8a,#6dff8a,#6aff8d,#6aff8d,#6aff8d,#6aff8d,#6dff8a,#70ff87,#77ff80,#7aff7d,#7dff7a,#87ff70,#90ff66,#94ff63,#97ff60,#9dff5a,#a0ff56,#a4ff53,#a7ff50,#aaff4d)"></i>
<i style="background:linear-gradient(90deg,#beff39,#baff3c,#b7ff40,#b4ff43,#b1ff46,#adff49,#9dff5a,#87ff70,#7aff7d,#7aff7d,#7aff7d,#7aff7d,#77ff80,#77ff80,#77ff80,#77ff80,#77ff80,#77ff80,#77ff80,#7aff7d,#7dff7a,#87ff70,#8aff6d,#8dff6a,#97ff60,#a4ff53,#a7ff50,#aaff4d,#adff49,#b4ff43,#b7ff40,#b7ff40,#beff39)"></i>
<i style="background:linear-gradient(90deg,#caff2c,#caff2c,#c7ff30,#c4ff33,#c1ff36,#beff39,#aaff4d,#94ff63,#87ff70,#87ff70,#87ff70,#83ff73,#83ff73,#83ff73,#83ff73,#83ff73,#83ff73,#83ff73,#83ff73,#87ff70,#8dff6a,#94ff63,#9aff5d,#9dff5a,#aaff4d,#b4ff43,#baff3c,#baff3c,#c1ff36,#c4ff33,#c7ff30,#c7ff30,#caff2c)"></i>
<i style="background:linear-gradient(90deg,#d7ff1f,#d7ff1f,#d4ff23,#d1ff26,#d1ff26,#ceff29,#baff3c,#a0ff56,#94ff63,#94ff63,#90ff66,#90ff66,#90ff66,#90ff66,#90ff66,#90ff66,#90ff66,#90ff66,#90ff66,#94ff63,#9aff5d,#a4ff53,#aaff4d,#adff49,#baff3c,#c7ff30,#ceff29,#ceff29,#d1ff26,#d4ff23,#d7ff1f,#d7ff1f,#d7ff1f)"></i>
<i style="background:linear-gradient(90deg,#e1ff16,#e1ff16,#deff19,#deff19,#dbff1c,#d7ff1f,#c4ff33,#aaff4d,#9dff5a,#9dff5a,#9dff5a,#9dff5a,#9dff5a,#a0ff56,#a0ff56,#a0ff56,#a0ff56,#a0ff56,#a0ff56,#a4ff53,#aaff4d,#b7ff40,#beff39,#c1ff36,#ceff29,#dbff1c,#deff19,#e1ff16,#e1ff16,#e4ff13,#e4ff13,#e4ff13,#e1ff16)"></i>
<i style="background:linear-gradient(90deg,#ebff0c,#e7ff0f,#e7ff0f,#e4ff13,#e4ff13,#e1ff16,#caff2c,#b4ff43,#a4ff53,#a4ff53,#a4ff53,#a4ff53,#a7ff50,#a7ff50,#a7ff50,#aaff4d,#adff49,#b1ff46,#b4ff43,#b4ff43,#beff39,#c4ff33,#caff2c,#ceff29,#deff19,#eeff09,#f4f802,#f4f802,#f4f802,#f4f802,#f4f802,#f1fc06,#ebff0c)"></i>
<i style="background:linear-gradient(90deg,#f1fc06,#eeff09,#eeff09,#ebff0c,#ebff0c,#e7ff0f,#d1ff26,#b7ff40,#a7ff50,#a7ff50,#a7ff50,#a7ff50,#aaff4d,#aaff4d,#aaff4d,#b1ff46,#b7ff40,#beff39,#c1ff36,#c4ff33,#caff2c,#d1ff26,#d7ff1f,#dbff1c,#eeff09,#ffea00,#ffe200,#ffe200,#ffe600,#ffea00,#ffea00,#feed00,#f1fc06)"></i>
<i style="background:linear-gradient(90deg,#f4f802,#f1fc06,#f1fc06,#eeff09,#eeff09,#e7ff0f,#d4ff23,#baff3c,#aaff4d,#aaff4d,#a7ff50,#a4ff53,#a4ff53,#a4ff53,#a7ff50,#b1ff46,#beff39,#caff2c,#d1ff26,#d4ff23,#d7ff1f,#deff19,#e4ff13,#e7ff0f,#f8f500,#ffde00,#ffd700,#ffdb00,#ffdb00,#ffde00,#ffe200,#ffe600,#f4f802)"></i>
<i style="background:linear-gradient(90deg,#f1fc06,#f1fc06,#eeff09,#eeff09,#ebff0c,#e7ff0f,#d4ff23,#baff3c,#aaff4d,#a7ff50,#9dff5a,#90ff66,#83ff73,#7dff7a,#83ff73,#97ff60,#b1ff46,#caff2c,#d7ff1f,#dbff1c,#deff19,#e4ff13,#e7ff0f,#ebff0c,#fbf100,#ffde00,#ffd700,#ffdb00,#ffde00,#ffe200,#ffe200,#ffe600,#f1fc06)"></i>
<i style="background:linear-gradient(90deg,#f1fc06,#eeff09,#ebff0c,#ebff0c,#e7ff0f,#e4ff13,#caff2c,#adff49,#9aff5d,#94ff63,#80ff77,#66ff90,#50ffa7,#46ffb1,#4dffaa,#6aff8d,#8dff6a,#b1ff46,#c4ff33,#c7ff30,#d1ff26,#dbff1c,#e1ff16,#e7ff0f,#f8f500,#ffde00,#ffd700,#ffdb00,#ffde00,#ffe200,#ffe600,#ffea00,#f1fc06)"></i>
<i style="background:linear-gradient(90deg,#ebff0c,#ebff0c,#e7ff0f,#e1ff16,#e1ff16,#dbff1c,#beff39,#97ff60,#83ff73,#7aff7d,#60ff97,#3cffba,#1cffdb,#09f1ee,#0ff9e7,#30ffc7,#56ffa0,#7aff7d,#8dff6a,#94ff63,#aaff4d,#c4ff33,#d7ff1f,#deff19,#eeff09,#ffea00,#ffe200,#ffe200,#ffe600,#ffea00,#ffea00,#feed00,#ebff0c)"></i>
<i style="background:linear-gradient(90deg,#d4ff23,#d1ff26,#caff2c,#c7ff30,#c1ff36,#beff39,#a0ff56,#7dff7a,#6aff8d,#5dff9a,#39ffbe,#0cf5eb,#00c5ff,#00a8ff,#00b1ff,#00cdff,#0cf5eb,#2cffca,#39ffbe,#46ffb1,#6dff8a,#97ff60,#b7ff40,#beff39,#ceff29,#e1ff16,#e7ff0f,#ebff0c,#eeff09,#f1fc06,#f4f802,#f1fc06,#d4ff23)"></i>
<i style="background:linear-gradient(90deg,#aaff4d,#a7ff50,#a0ff56,#9aff5d,#97ff60,#90ff66,#77ff80,#5aff9d,#46ffb1,#39ffbe,#13fde4,#00bdff,#0081ff,#0064ff,#0069ff,#0081ff,#00a5ff,#00c1ff,#00d1ff,#00e5f8,#2cffca,#60ff97,#87ff70,#8dff6a,#9aff5d,#aaff4d,#adff49,#b4ff43,#c1ff36,#d1ff26,#dbff1c,#dbff1c,#aaff4d)"></i>
<i style="background:linear-gradient(90deg,#70ff87,#6aff8d,#66ff90,#60ff97,#5dff9a,#56ffa0,#43ffb4,#29ffce,#19ffde,#0cf5eb,#00c5ff,#0085ff,#004dff,#002dff,#0031ff,#0044ff,#005dff,#0071ff,#007dff,#008dff,#00c5ff,#1cffdb,#40ffb7,#49ffad,#53ffa4,#60ff97,#66ff90,#6dff8a,#7dff7a,#8dff6a,#9aff5d,#9aff5d,#70ff87)"></i>
<i style="background:linear-gradient(90deg,#36ffc1,#33ffc4,#2cffca,#26ffd1,#23ffd4,#1cffdb,#09f1ee,#00d1ff,#00bdff,#00b1ff,#0088ff,#0059ff,#002dff,#0014ff,#0014ff,#001dff,#0029ff,#0034ff,#0039ff,#0049ff,#0079ff,#00b9ff,#00e1fb,#06edf1,#0ff9e7,#1fffd7,#23ffd4,#2cffca,#39ffbe,#46ffb1,#53ffa4,#53ffa4,#36ffc1)"></i>
<i style="background:linear-gradient(90deg,#02e8f4,#00e5f8,#00e1fb,#00d9ff,#00d5ff,#00cdff,#00b5ff,#0095ff,#0081ff,#0079ff,#005dff,#0039ff,#0019ff,#0004ff,#0009ff,#000dff,#0011ff,#0014ff,#0019ff,#0024ff,#004dff,#0081ff,#00a1ff,#00adff,#00c1ff,#00d5ff,#00ddfe,#00e5f8,#06edf1,#0ff9e7,#16ffe1,#16ffe1,#02e8f4)"></i>
<i style="background:linear-gradient(90deg,#00b5ff,#00b1ff,#00adff,#00a8ff,#00a5ff,#009dff,#0085ff,#0064ff,#0054ff,#004dff,#003dff,#0021ff,#000dff,#0001ff,#0001ff,#0004ff,#000dff,#0014ff,#0019ff,#0021ff,#0041ff,#0061ff,#0079ff,#0081ff,#0095ff,#00b1ff,#00b9ff,#00b9ff,#00bdff,#00c1ff,#00c1ff,#00c1ff,#00b5ff)"></i>
<i style="background:linear-gradient(90deg,#008dff,#0088ff,#0085ff,#007dff,#0079ff,#0074ff,#0061ff,#004dff,#003dff,#0039ff,#002dff,#001dff,#0011ff,#0009ff,#0009ff,#000dff,#0014ff,#0019ff,#001dff,#0021ff,#0034ff,#004dff,#005dff,#0064ff,#0079ff,#0095ff,#009dff,#009dff,#009dff,#009dff,#0099ff,#0099ff,#008dff)"></i>
<i style="background:linear-gradient(90deg,#006dff,#0069ff,#0064ff,#005dff,#0059ff,#0059ff,#0049ff,#0034ff,#002dff,#002dff,#0029ff,#0029ff,#0024ff,#0024ff,#0024ff,#0024ff,#0024ff,#0024ff,#0024ff,#0029ff,#0034ff,#0049ff,#0054ff,#0059ff,#0069ff,#007dff,#0081ff,#0081ff,#0081ff,#0081ff,#0081ff,#007dff,#006dff)"></i>
<i style="background:linear-gradient(90deg,#0051ff,#004dff,#0049ff,#0044ff,#0044ff,#0041ff,#0039ff,#002dff,#0024ff,#0024ff,#0029ff,#0031ff,#0034ff,#0039ff,#0039ff,#0039ff,#003dff,#003dff,#003dff,#0041ff,#0044ff,#0049ff,#0051ff,#0051ff,#005dff,#0069ff,#006dff,#006dff,#006dff,#0069ff,#0069ff,#0069ff,#0051ff)"></i>
<i style="background:linear-gradient(90deg,#0041ff,#003dff,#003dff,#0039ff,#0039ff,#0039ff,#0031ff,#0029ff,#0024ff,#0029ff,#0031ff,#0039ff,#0044ff,#0049ff,#0049ff,#0049ff,#004dff,#004dff,#0051ff,#0051ff,#004dff,#004dff,#004dff,#004dff,#0054ff,#005dff,#005dff,#005dff,#005dff,#0059ff,#0059ff,#0054ff,#0041ff)"></i>
<i style="background:linear-gradient(90deg,#0039ff,#0039ff,#0034ff,#0034ff,#0034ff,#0034ff,#0031ff,#0029ff,#0024ff,#0029ff,#0031ff,#003dff,#0049ff,#004dff,#0051ff,#0051ff,#0051ff,#0054ff,#0054ff,#0054ff,#0051ff,#004dff,#004dff,#004dff,#0051ff,#0051ff,#0054ff,#0054ff,#0051ff,#0051ff,#0051ff,#0051ff,#0039ff)"></i>
<i style="background:linear-gradient(90deg,#0034ff,#0034ff,#0034ff,#0031ff,#0031ff,#0031ff,#002dff,#0029ff,#0029ff,#002dff,#0034ff,#0041ff,#0049ff,#004dff,#0051ff,#0051ff,#0054ff,#0059ff,#0059ff,#0059ff,#0054ff,#0051ff,#004dff,#004dff,#004dff,#0049ff,#0049ff,#004dff,#004dff,#004dff,#0051ff,#004dff,#0034ff)"></i>
<i></i>
<i></i>
</div>
<div class="p q" style="left:372.4px;top:338.9px">
<i></i>
<i style="background:linear-gradient(90deg,#e4f4f1 2px,#c7e7f1 0 15px,#e4f4f1 0 17px,#c7e7f1 0 37px,#e4f4f1 0 40px,#c7e7f1 0 44px,#a8d6e8 0 52px,#87bdd9 0 59px,#a8d6e8 0 69px,#c7e7f1 0 89px,#e4f4f1 0 107px,#f6fbd0 0 111px,#e4f4f1 0 115px,#c7e7f1 0 133px,#a8d6e8 0 135px,#c7e7f1 0 139px,#e4f4f1 0 142px,#c7e7f1 0 143px,#e4f4f1 0 164px,#c7e7f1 0 165px,#e4f4f1 0)"></i>
<i style="background:linear-gradient(90deg,#e4f4f1 2px,#c7e7f1 0 43px,#a8d6e8 0 45px,#87bdd9 0 51px,#69a0ca 0 54px,#4d7fb9 0 57px,#69a0ca 0 64px,#87bdd9 0 67px,#a8d6e8 0 74px,#c7e7f1 0 89px,#e4f4f1 0 94px,#c7e7f1 0 95px,#e4f4f1 0 114px,#c7e7f1 0 132px,#a8d6e8 0 135px,#c7e7f1 0 144px,#e4f4f1 0 150px,#f6fbd0 0 153px,#e4f4f1 0)"></i>
<i style="background:linear-gradient(90deg,#e4f4f1 1px,#c7e7f1 0 22px,#e4f4f1 0 23px,#c7e7f1 0 30px,#a8d6e8 0 32px,#c7e7f1 0 35px,#a8d6e8 0 36px,#c7e7f1 0 38px,#a8d6e8 0 43px,#87bdd9 0 47px,#69a0ca 0 50px,#4d7fb9 0 52px,#3d5ba7 0 54px,#313695 0 59px,#3d5ba7 0 62px,#4d7fb9 0 65px,#69a0ca 0 67px,#87bdd9 0 69px,#a8d6e8 0 75px,#c7e7f1 0 82px,#a8d6e8 0 87px,#c7e7f1 0 92px,#e4f4f1 0 94px,#c7e7f1 0 96px,#e4f4f1 0 114px,#c7e7f1 0 131px,#a8d6e8 0 135px,#c7e7f1 0 147px,#e4f4f1 0 150px,#f6fbd0 0 154px,#e4f4f1 0)"></i>
<i style="background:linear-gradient(90deg,#c7e7f1 2px,#e4f4f1 0 3px,#c7e7f1 0 21px,#e4f4f1 0 23px,#c7e7f1 0 27px,#a8d6e8 0 41px,#87bdd9 0 45px,#69a0ca 0 48px,#4d7fb9 0 51px,#3d5ba7 0 52px,#313695 0 61px,#3d5ba7 0 64px,#4d7fb9 0 66px,#69a0ca 0 68px,#87bdd9 0 71px,#a8d6e8 0 76px,#c7e7f1 0 83px,#a8d6e8 0 88px,#c7e7f1 0 92px,#e4f4f1 0 93px,#c7e7f1 0 98px,#e4f4f1 0 114px,#c7e7f1 0 131px,#a8d6e8 0 136px,#c7e7f1 0 146px,#e4f4f1 0 150px,#f6fbd0 0 154px,#e4f4f1 0)"></i>
<i style="background:linear-gradient(90deg,#c7e7f1 16px,#e4f4f1 0 18px,#c7e7f1 0 21px,#e4f4f1 0 24px,#c7e7f1 0 29px,#a8d6e8 0 42px,#87bdd9 0 45px,#69a0ca 0 48px,#4d7fb9 0 52px,#3d5ba7 0 54px,#313695 0 58px,#3d5ba7 0 62px,#4d7fb9 0 64px,#69a0ca 0 67px,#87bdd9 0 70px,#a8d6e8 0 76px,#c7e7f1 0 83px,#a8d6e8 0 88px,#c7e7f1 0 99px,#e4f4f1 0 113px,#c7e7f1 0 117px,#a8d6e8 0 120px,#c7e7f1 0 124px,#a8d6e8 0 126px,#c7e7f1 0 131px,#a8d6e8 0 143px,#c7e7f1 0 146px,#e4f4f1 0 149px,#f6fbd0 0 154px,#e4f4f1 0 165px,#c7e7f1 0)"></i>
<i style="background:linear-gradient(90deg,#e4f4f1 2px,#c7e7f1 0 5px,#e4f4f1 0 9px,#c7e7f1 0 15px,#e4f4f1 0 19px,#c7e7f1 0 20px,#e4f4f1 0 25px,#c7e7f1 0 30px,#a8d6e8 0 44px,#87bdd9 0 47px,#69a0ca 0 53px,#4d7fb9 0 60px,#69a0ca 0 63px,#87bdd9 0 68px,#a8d6e8 0 75px,#c7e7f1 0 84px,#a8d6e8 0 89px,#c7e7f1 0 99px,#e4f4f1 0 113px,#c7e7f1 0 118px,#a8d6e8 0 120px,#c7e7f1 0 124px,#a8d6e8 0 125px,#c7e7f1 0 132px,#a8d6e8 0 142px,#c7e7f1 0 145px,#e4f4f1 0 148px,#f6fbd0 0 153px,#e4f4f1 0)"></i>
<i style="background:linear-gradient(90deg,#e4f4f1 28px,#c7e7f1 0 32px,#a8d6e8 0 35px,#c7e7f1 0 43px,#a8d6e8 0 47px,#87bdd9 0 57px,#69a0ca 0 60px,#87bdd9 0 63px,#a8d6e8 0 69px,#c7e7f1 0 76px,#e4f4f1 0 79px,#c7e7f1 0 81px,#e4f4f1 0 82px,#c7e7f1 0 96px,#e4f4f1 0 112px,#c7e7f1 0 134px,#a8d6e8 0 140px,#c7e7f1 0 145px,#e4f4f1 0 147px,#f6fbd0 0 153px,#e4f4f1 0)"></i>
<i style="background:linear-gradient(90deg,#f6fbd0 12px,#e4f4f1 0 15px,#f6fbd0 0 20px,#e4f4f1 0 31px,#c7e7f1 0 37px,#e4f4f1 0 42px,#c7e7f1 0 48px,#a8d6e8 0 51px,#c7e7f1 0 55px,#a8d6e8 0 63px,#c7e7f1 0 72px,#e4f4f1 0 86px,#c7e7f1 0 89px,#e4f4f1 0 117px,#c7e7f1 0 121px,#e4f4f1 0 122px,#c7e7f1 0 136px,#a8d6e8 0 138px,#c7e7f1 0 143px,#e4f4f1 0 146px,#f6fbd0 0 154px,#e4f4f1 0 156px,#f6fbd0 0 157px,#e4f4f1 0 165px,#f6fbd0 0)"></i>
<i style="background:linear-gradient(90deg,#f6fbd0 1px,#fff9bc 0 8px,#f6fbd0 0 21px,#e4f4f1 0 27px,#f6fbd0 0 29px,#e4f4f1 0 32px,#c7e7f1 0 34px,#e4f4f1 0 37px,#f6fbd0 0 38px,#e4f4f1 0 48px,#c7e7f1 0 52px,#e4f4f1 0 58px,#c7e7f1 0 59px,#a8d6e8 0 62px,#c7e7f1 0 68px,#e4f4f1 0 72px,#f6fbd0 0 86px,#e4f4f1 0 99px,#f6fbd0 0 112px,#e4f4f1 0 118px,#c7e7f1 0 120px,#e4f4f1 0 122px,#c7e7f1 0 126px,#a8d6e8 0 130px,#c7e7f1 0 142px,#e4f4f1 0 145px,#f6fbd0 0 147px,#fff9bc 0 148px,#f6fbd0 0 154px,#e4f4f1 0 156px,#f6fbd0 0 157px,#e4f4f1 0 164px,#f6fbd0 0)"></i>
<i style="background:linear-gradient(90deg,#f6fbd0 1px,#fff9bc 0 4px,#ffeba0 0 5px,#fff9bc 0 17px,#f6fbd0 0 21px,#e4f4f1 0 27px,#f6fbd0 0 29px,#e4f4f1 0 37px,#f6fbd0 0 38px,#e4f4f1 0 45px,#f6fbd0 0 48px,#e4f4f1 0 50px,#c7e7f1 0 51px,#e4f4f1 0 54px,#f6fbd0 0 57px,#e4f4f1 0 59px,#c7e7f1 0 65px,#e4f4f1 0 68px,#f6fbd0 0 89px,#e4f4f1 0 91px,#c7e7f1 0 93px,#e4f4f1 0 100px,#f6fbd0 0 105px,#e4f4f1 0 107px,#f6fbd0 0 108px,#e4f4f1 0 122px,#c7e7f1 0 125px,#a8d6e8 0 130px,#c7e7f1 0 139px,#e4f4f1 0 144px,#f6fbd0 0 146px,#fff9bc 0 150px,#f6fbd0 0 157px,#e4f4f1 0 165px,#f6fbd0 0)"></i>
<i style="background:linear-gradient(90deg,#fff9bc 4px,#ffeba0 0 6px,#fff9bc 0 11px,#ffeba0 0 12px,#fff9bc 0 18px,#f6fbd0 0 24px,#e4f4f1 0 26px,#f6fbd0 0 29px,#e4f4f1 0 38px,#f6fbd0 0 46px,#fff9bc 0 47px,#f6fbd0 0 49px,#e4f4f1 0 53px,#f6fbd0 0 58px,#e4f4f1 0 59px,#c7e7f1 0 64px,#e4f4f1 0 66px,#f6fbd0 0 69px,#fff9bc 0 71px,#f6fbd0 0 73px,#e4f4f1 0 77px,#f6fbd0 0 87px,#e4f4f1 0 99px,#f6fbd0 0 102px,#e4f4f1 0 122px,#c7e7f1 0 125px,#a8d6e8 0 130px,#c7e7f1 0 135px,#e4f4f1 0 143px,#f6fbd0 0 145px,#fff9bc 0 155px,#f6fbd0 0 160px,#e4f4f1 0 164px,#f6fbd0 0)"></i>
<i style="background:linear-gradient(90deg,#ffeba0 6px,#fff9bc 0 17px,#f6fbd0 0 24px,#e4f4f1 0 31px,#f6fbd0 0 32px,#e4f4f1 0 38px,#f6fbd0 0 40px,#fff9bc 0 44px,#f6fbd0 0 45px,#fff9bc 0 47px,#f6fbd0 0 59px,#e4f4f1 0 60px,#c7e7f1 0 63px,#e4f4f1 0 64px,#f6fbd0 0 69px,#fff9bc 0 71px,#f6fbd0 0 74px,#e4f4f1 0 75px,#f6fbd0 0 86px,#e4f4f1 0 92px,#f6fbd0 0 93px,#e4f4f1 0 100px,#f6fbd0 0 102px,#e4f4f1 0 105px,#f6fbd0 0 107px,#e4f4f1 0 123px,#c7e7f1 0 127px,#a8d6e8 0 129px,#c7e7f1 0 134px,#e4f4f1 0 139px,#f6fbd0 0 144px,#fff9bc 0 147px,#ffeba0 0 149px,#fff9bc 0 158px,#f6fbd0 0 165px,#fff9bc 0)"></i>
<i style="background:linear-gradient(90deg,#ffeba0 6px,#fff9bc 0 16px,#f6fbd0 0 19px,#e4f4f1 0 29px,#f6fbd0 0 34px,#e4f4f1 0 37px,#f6fbd0 0 39px,#fff9bc 0 41px,#ffeba0 0 42px,#fff9bc 0 47px,#f6fbd0 0 51px,#fff9bc 0 54px,#f6fbd0 0 60px,#e4f4f1 0 63px,#f6fbd0 0 85px,#e4f4f1 0 91px,#f6fbd0 0 94px,#e4f4f1 0 101px,#f6fbd0 0 102px,#e4f4f1 0 105px,#f6fbd0 0 107px,#e4f4f1 0 124px,#c7e7f1 0 133px,#e4f4f1 0 138px,#f6fbd0 0 143px,#fff9bc 0 147px,#ffeba0 0 151px,#fff9bc 0 152px,#ffeba0 0 155px,#fff9bc 0 159px,#f6fbd0 0 164px,#fff9bc 0)"></i>
<i style="background:linear-gradient(90deg,#fff9bc 11px,#f6fbd0 0 18px,#e4f4f1 0 28px,#f6fbd0 0 39px,#fff9bc 0 47px,#f6fbd0 0 81px,#e4f4f1 0 82px,#f6fbd0 0 86px,#e4f4f1 0 91px,#f6fbd0 0 97px,#e4f4f1 0 100px,#f6fbd0 0 103px,#e4f4f1 0 125px,#c7e7f1 0 133px,#e4f4f1 0 137px,#f6fbd0 0 144px,#fff9bc 0 148px,#ffeba0 0 154px,#fff9bc 0 157px,#f6fbd0 0 158px,#fff9bc 0 161px,#f6fbd0 0 164px,#fff9bc 0)"></i>
<i style="background:linear-gradient(90deg,#fff9bc 9px,#f6fbd0 0 18px,#e4f4f1 0 28px,#f6fbd0 0 37px,#fff9bc 0 42px,#f6fbd0 0 45px,#fff9bc 0 47px,#f6fbd0 0 81px,#e4f4f1 0 85px,#f6fbd0 0 88px,#e4f4f1 0 91px,#f6fbd0 0 106px,#e4f4f1 0 121px,#c7e7f1 0 123px,#e4f4f1 0 127px,#c7e7f1 0 133px,#e4f4f1 0 139px,#f6fbd0 0 145px,#fff9bc 0 148px,#ffeba0 0 151px,#fff9bc 0 155px,#f6fbd0 0)"></i>
<i style="background:linear-gradient(90deg,#f6fbd0 6px,#fff9bc 0 7px,#f6fbd0 0 18px,#e4f4f1 0 23px,#f6fbd0 0 25px,#e4f4f1 0 27px,#f6fbd0 0 32px,#fff9bc 0 42px,#f6fbd0 0 46px,#fff9bc 0 50px,#f6fbd0 0 51px,#fff9bc 0 53px,#f6fbd0 0 60px,#e4f4f1 0 62px,#f6fbd0 0 82px,#e4f4f1 0 85px,#f6fbd0 0 89px,#e4f4f1 0 91px,#f6fbd0 0 93px,#fff9bc 0 99px,#f6fbd0 0 106px,#e4f4f1 0 128px,#c7e7f1 0 134px,#e4f4f1 0 140px,#f6fbd0 0 142px,#e4f4f1 0 143px,#f6fbd0 0 146px,#fff9bc 0 154px,#f6fbd0 0)"></i>
<i style="background:linear-gradient(90deg,#f6fbd0 19px,#e4f4f1 0 21px,#f6fbd0 0 30px,#fff9bc 0 42px,#f6fbd0 0 47px,#fff9bc 0 53px,#f6fbd0 0 55px,#e4f4f1 0 58px,#f6fbd0 0 60px,#e4f4f1 0 62px,#f6fbd0 0 63px,#e4f4f1 0 65px,#f6fbd0 0 68px,#e4f4f1 0 71px,#f6fbd0 0 92px,#fff9bc 0 100px,#f6fbd0 0 110px,#e4f4f1 0 131px,#c7e7f1 0 134px,#e4f4f1 0 140px,#f6fbd0 0 142px,#e4f4f1 0 143px,#f6fbd0 0 148px,#fff9bc 0 152px,#f6fbd0 0)"></i>
<i style="background:linear-gradient(90deg,#f6fbd0 19px,#e4f4f1 0 21px,#f6fbd0 0 29px,#fff9bc 0 42px,#f6fbd0 0 47px,#fff9bc 0 53px,#f6fbd0 0 56px,#e4f4f1 0 58px,#f6fbd0 0 60px,#e4f4f1 0 71px,#f6fbd0 0 84px,#fff9bc 0 90px,#f6fbd0 0 91px,#fff9bc 0 105px,#f6fbd0 0 115px,#e4f4f1 0 135px,#f6fbd0 0 149px,#fff9bc 0 151px,#f6fbd0 0)"></i>
<i style="background:linear-gradient(90deg,#f6fbd0 7px,#fff9bc 0 8px,#f6fbd0 0 18px,#e4f4f1 0 22px,#f6fbd0 0 28px,#fff9bc 0 42px,#f6fbd0 0 52px,#fff9bc 0 53px,#f6fbd0 0 55px,#e4f4f1 0 59px,#f6fbd0 0 60px,#e4f4f1 0 69px,#f6fbd0 0 74px,#e4f4f1 0 75px,#f6fbd0 0 83px,#fff9bc 0 90px,#f6fbd0 0 91px,#fff9bc 0 94px,#ffeba0 0 97px,#fff9bc 0 113px,#f6fbd0 0 117px,#e4f4f1 0 119px,#f6fbd0 0 128px,#e4f4f1 0 134px,#f6fbd0 0 150px,#fff9bc 0 151px,#f6fbd0 0)"></i>
<i style="background:linear-gradient(90deg,#f6fbd0 17px,#e4f4f1 0 23px,#f6fbd0 0 28px,#fff9bc 0 43px,#f6fbd0 0 55px,#e4f4f1 0 59px,#f6fbd0 0 60px,#e4f4f1 0 69px,#f6fbd0 0 74px,#e4f4f1 0 75px,#f6fbd0 0 83px,#fff9bc 0 89px,#f6fbd0 0 91px,#fff9bc 0 93px,#ffeba0 0 96px,#fff9bc 0 108px,#ffeba0 0 110px,#fff9bc 0 116px,#f6fbd0 0 138px,#fff9bc 0 141px,#f6fbd0 0 150px,#fff9bc 0 151px,#f6fbd0 0)"></i>
<i style="background:linear-gradient(90deg,#f6fbd0 15px,#e4f4f1 0 25px,#f6fbd0 0 29px,#fff9bc 0 31px,#ffeba0 0 33px,#fff9bc 0 43px,#f6fbd0 0 56px,#e4f4f1 0 68px,#f6fbd0 0 74px,#e4f4f1 0 76px,#f6fbd0 0 82px,#fff9bc 0 85px,#f6fbd0 0 87px,#fff9bc 0 89px,#f6fbd0 0 91px,#fff9bc 0 93px,#ffeba0 0 95px,#fff9bc 0 96px,#f6fbd0 0 101px,#fff9bc 0 102px,#ffeba0 0 105px,#fff9bc 0 107px,#ffeba0 0 115px,#fff9bc 0 123px,#f6fbd0 0 137px,#fff9bc 0 143px,#f6fbd0 0 145px,#e4f4f1 0 146px,#f6fbd0 0 151px,#fff9bc 0 152px,#f6fbd0 0)"></i>
<i style="background:linear-gradient(90deg,#f6fbd0 14px,#e4f4f1 0 26px,#f6fbd0 0 29px,#fff9bc 0 31px,#ffeba0 0 34px,#fff9bc 0 43px,#f6fbd0 0 56px,#e4f4f1 0 65px,#f6fbd0 0 67px,#e4f4f1 0 68px,#f6fbd0 0 70px,#e4f4f1 0 71px,#f6fbd0 0 81px,#fff9bc 0 84px,#f6fbd0 0 92px,#fff9bc 0 96px,#f6fbd0 0 98px,#fff9bc 0 102px,#ffeba0 0 105px,#fff9bc 0 107px,#ffeba0 0 116px,#fff9bc 0 125px,#f6fbd0 0 137px,#fff9bc 0 143px,#f6fbd0 0 145px,#e4f4f1 0 146px,#f6fbd0 0 151px,#fff9bc 0 152px,#f6fbd0 0 162px,#e4f4f1 0 163px,#f6fbd0 0)"></i>
<i style="background:linear-gradient(90deg,#f6fbd0 13px,#e4f4f1 0 25px,#f6fbd0 0 29px,#fff9bc 0 31px,#ffeba0 0 35px,#fff9bc 0 42px,#f6fbd0 0 56px,#e4f4f1 0 65px,#f6fbd0 0 69px,#e4f4f1 0 71px,#f6fbd0 0 82px,#fff9bc 0 84px,#f6fbd0 0 93px,#fff9bc 0 94px,#f6fbd0 0 95px,#fff9bc 0 101px,#ffeba0 0 106px,#fff9bc 0 108px,#ffeba0 0 116px,#fff9bc 0 125px,#f6fbd0 0 139px,#fff9bc 0 142px,#f6fbd0 0 155px,#e4f4f1 0 157px,#f6fbd0 0 162px,#e4f4f1 0 164px,#f6fbd0 0)"></i>
<i style="background:linear-gradient(90deg,#f6fbd0 14px,#e4f4f1 0 18px,#c7e7f1 0 21px,#e4f4f1 0 24px,#f6fbd0 0 29px,#fff9bc 0 32px,#ffeba0 0 35px,#fff9bc 0 38px,#f6fbd0 0 56px,#e4f4f1 0 65px,#f6fbd0 0 69px,#e4f4f1 0 70px,#f6fbd0 0 82px,#fff9bc 0 87px,#f6fbd0 0 100px,#fff9bc 0 103px,#ffeba0 0 106px,#fff9bc 0 107px,#ffeba0 0 117px,#fff9bc 0 125px,#f6fbd0 0 140px,#fff9bc 0 142px,#f6fbd0 0 148px,#e4f4f1 0 150px,#f6fbd0 0 154px,#e4f4f1 0 157px,#f6fbd0 0)"></i>
<i style="background:linear-gradient(90deg,#f6fbd0 14px,#e4f4f1 0 18px,#c7e7f1 0 21px,#e4f4f1 0 27px,#f6fbd0 0 30px,#fff9bc 0 38px,#f6fbd0 0 56px,#e4f4f1 0 65px,#f6fbd0 0 83px,#fff9bc 0 84px,#f6fbd0 0 86px,#fff9bc 0 87px,#f6fbd0 0 102px,#fff9bc 0 107px,#ffeba0 0 126px,#fff9bc 0 131px,#f6fbd0 0 134px,#e4f4f1 0 137px,#f6fbd0 0 147px,#e4f4f1 0 151px,#f6fbd0 0 153px,#e4f4f1 0 157px,#f6fbd0 0)"></i>
<i style="background:linear-gradient(90deg,#f6fbd0 10px,#e4f4f1 0 11px,#f6fbd0 0 14px,#e4f4f1 0 19px,#c7e7f1 0 21px,#e4f4f1 0 28px,#f6fbd0 0 32px,#fff9bc 0 34px,#f6fbd0 0 35px,#fff9bc 0 38px,#f6fbd0 0 56px,#e4f4f1 0 64px,#f6fbd0 0 71px,#fff9bc 0 74px,#f6fbd0 0 82px,#fff9bc 0 84px,#f6fbd0 0 85px,#fff9bc 0 90px,#f6fbd0 0 98px,#e4f4f1 0 99px,#f6fbd0 0 104px,#fff9bc 0 107px,#ffeba0 0 118px,#fed786 0 123px,#fdbd6e 0 124px,#fed786 0 128px,#ffeba0 0 131px,#fff9bc 0 132px,#f6fbd0 0 135px,#e4f4f1 0 139px,#f6fbd0 0 147px,#e4f4f1 0 157px,#f6fbd0 0)"></i>
<i style="background:linear-gradient(90deg,#f6fbd0 10px,#e4f4f1 0 12px,#f6fbd0 0 14px,#e4f4f1 0 30px,#f6fbd0 0 55px,#e4f4f1 0 64px,#f6fbd0 0 70px,#fff9bc 0 74px,#f6fbd0 0 81px,#fff9bc 0 94px,#f6fbd0 0 98px,#e4f4f1 0 100px,#f6fbd0 0 105px,#fff9bc 0 108px,#ffeba0 0 111px,#fff9bc 0 118px,#ffeba0 0 123px,#fed786 0 125px,#ffeba0 0 128px,#fff9bc 0 131px,#f6fbd0 0 133px,#e4f4f1 0 136px,#c7e7f1 0 137px,#e4f4f1 0 140px,#f6fbd0 0 148px,#e4f4f1 0 157px,#f6fbd0 0)"></i>
<i style="background:linear-gradient(90deg,#f6fbd0 9px,#e4f4f1 0 11px,#f6fbd0 0 14px,#e4f4f1 0 26px,#f6fbd0 0 27px,#e4f4f1 0 30px,#f6fbd0 0 55px,#e4f4f1 0 65px,#f6fbd0 0 77px,#fff9bc 0 89px,#ffeba0 0 90px,#fff9bc 0 95px,#f6fbd0 0 105px,#fff9bc 0 116px,#f6fbd0 0 127px,#e4f4f1 0 134px,#c7e7f1 0 139px,#e4f4f1 0 140px,#f6fbd0 0 150px,#e4f4f1 0 158px,#f6fbd0 0 159px,#e4f4f1 0 161px,#f6fbd0 0)"></i>
<i style="background:linear-gradient(90deg,#e4f4f1 1px,#f6fbd0 0 9px,#e4f4f1 0 11px,#f6fbd0 0 13px,#e4f4f1 0 25px,#f6fbd0 0 55px,#e4f4f1 0 66px,#f6fbd0 0 76px,#fff9bc 0 84px,#ffeba0 0 87px,#fff9bc 0 88px,#ffeba0 0 91px,#fff9bc 0 96px,#f6fbd0 0 106px,#fff9bc 0 115px,#f6fbd0 0 117px,#e4f4f1 0 119px,#f6fbd0 0 121px,#e4f4f1 0 129px,#c7e7f1 0 139px,#e4f4f1 0 141px,#f6fbd0 0 146px,#fff9bc 0 148px,#f6fbd0 0 153px,#e4f4f1 0 163px,#f6fbd0 0 165px,#e4f4f1 0)"></i>
<i style="background:linear-gradient(90deg,#e4f4f1 1px,#f6fbd0 0 8px,#e4f4f1 0 11px,#f6fbd0 0 13px,#e4f4f1 0 24px,#f6fbd0 0 56px,#e4f4f1 0 57px,#f6fbd0 0 60px,#e4f4f1 0 67px,#f6fbd0 0 75px,#fff9bc 0 76px,#ffeba0 0 78px,#fff9bc 0 83px,#ffeba0 0 91px,#fff9bc 0 95px,#f6fbd0 0 106px,#fff9bc 0 114px,#f6fbd0 0 116px,#e4f4f1 0 126px,#c7e7f1 0 138px,#e4f4f1 0 141px,#f6fbd0 0 146px,#fff9bc 0 150px,#f6fbd0 0 154px,#e4f4f1 0 163px,#f6fbd0 0 165px,#e4f4f1 0)"></i>
<i style="background:linear-gradient(90deg,#f6fbd0 7px,#e4f4f1 0 11px,#f6fbd0 0 12px,#e4f4f1 0 23px,#f6fbd0 0 31px,#fff9bc 0 33px,#f6fbd0 0 37px,#e4f4f1 0 38px,#f6fbd0 0 45px,#e4f4f1 0 48px,#f6fbd0 0 55px,#e4f4f1 0 57px,#f6fbd0 0 60px,#e4f4f1 0 68px,#f6fbd0 0 75px,#fff9bc 0 83px,#ffeba0 0 89px,#fff9bc 0 93px,#f6fbd0 0 108px,#fff9bc 0 114px,#f6fbd0 0 116px,#e4f4f1 0 126px,#c7e7f1 0 133px,#e4f4f1 0 140px,#f6fbd0 0 147px,#fff9bc 0 150px,#f6fbd0 0 155px,#e4f4f1 0 165px,#f6fbd0 0)"></i>
<i style="background:linear-gradient(90deg,#f6fbd0 8px,#e4f4f1 0 11px,#f6fbd0 0 12px,#e4f4f1 0 20px,#f6fbd0 0 22px,#e4f4f1 0 23px,#f6fbd0 0 31px,#fff9bc 0 34px,#f6fbd0 0 37px,#e4f4f1 0 43px,#f6fbd0 0 55px,#e4f4f1 0 57px,#f6fbd0 0 60px,#e4f4f1 0 68px,#f6fbd0 0 75px,#fff9bc 0 84px,#ffeba0 0 87px,#fff9bc 0 92px,#f6fbd0 0 103px,#e4f4f1 0 105px,#f6fbd0 0 108px,#fff9bc 0 115px,#f6fbd0 0 117px,#e4f4f1 0 126px,#c7e7f1 0 132px,#e4f4f1 0 140px,#f6fbd0 0 156px,#e4f4f1 0 165px,#f6fbd0 0)"></i>
<i style="background:linear-gradient(90deg,#f6fbd0 9px,#e4f4f1 0 10px,#f6fbd0 0 13px,#e4f4f1 0 19px,#f6fbd0 0 31px,#fff9bc 0 35px,#f6fbd0 0 37px,#e4f4f1 0 43px,#f6fbd0 0 55px,#e4f4f1 0 56px,#f6fbd0 0 63px,#e4f4f1 0 67px,#f6fbd0 0 81px,#fff9bc 0 92px,#f6fbd0 0 102px,#e4f4f1 0 106px,#f6fbd0 0 108px,#fff9bc 0 115px,#f6fbd0 0 117px,#e4f4f1 0 126px,#c7e7f1 0 132px,#e4f4f1 0 140px,#f6fbd0 0 156px,#e4f4f1 0 165px,#f6fbd0 0)"></i>
<i style="background:linear-gradient(90deg,#f6fbd0 13px,#e4f4f1 0 19px,#f6fbd0 0 33px,#fff9bc 0 35px,#f6fbd0 0 38px,#e4f4f1 0 45px,#f6fbd0 0 64px,#e4f4f1 0 67px,#f6fbd0 0 71px,#fff9bc 0 73px,#f6fbd0 0 85px,#fff9bc 0 88px,#f6fbd0 0 90px,#fff9bc 0 91px,#f6fbd0 0 95px,#e4f4f1 0 97px,#f6fbd0 0 102px,#e4f4f1 0 106px,#f6fbd0 0 107px,#fff9bc 0 116px,#f6fbd0 0 118px,#e4f4f1 0 120px,#f6fbd0 0 124px,#e4f4f1 0 128px,#c7e7f1 0 132px,#e4f4f1 0 135px,#f6fbd0 0 138px,#e4f4f1 0 139px,#f6fbd0 0 155px,#e4f4f1 0 165px,#f6fbd0 0)"></i>
<i style="background:linear-gradient(90deg,#f6fbd0 13px,#e4f4f1 0 20px,#f6fbd0 0 33px,#fff9bc 0 35px,#f6fbd0 0 39px,#e4f4f1 0 45px,#f6fbd0 0 65px,#e4f4f1 0 66px,#f6fbd0 0 75px,#e4f4f1 0 83px,#f6fbd0 0 97px,#e4f4f1 0 98px,#f6fbd0 0 101px,#e4f4f1 0 104px,#f6fbd0 0 107px,#fff9bc 0 116px,#f6fbd0 0 118px,#e4f4f1 0 120px,#f6fbd0 0 124px,#e4f4f1 0 130px,#c7e7f1 0 132px,#e4f4f1 0 134px,#f6fbd0 0 154px,#e4f4f1 0 164px,#f6fbd0 0)"></i>
<i style="background:linear-gradient(90deg,#f6fbd0 14px,#e4f4f1 0 20px,#f6fbd0 0 34px,#fff9bc 0 35px,#f6fbd0 0 39px,#e4f4f1 0 45px,#f6fbd0 0 50px,#e4f4f1 0 51px,#f6fbd0 0 70px,#fff9bc 0 71px,#f6fbd0 0 76px,#e4f4f1 0 84px,#f6fbd0 0 87px,#e4f4f1 0 103px,#f6fbd0 0 107px,#fff9bc 0 115px,#f6fbd0 0 124px,#e4f4f1 0 127px,#f6fbd0 0 128px,#e4f4f1 0 133px,#f6fbd0 0 140px,#e4f4f1 0 141px,#f6fbd0 0 153px,#e4f4f1 0 159px,#f6fbd0 0 162px,#e4f4f1 0 163px,#f6fbd0 0)"></i>
<i style="background:linear-gradient(90deg,#f6fbd0 6px,#fff9bc 0 9px,#f6fbd0 0 14px,#e4f4f1 0 20px,#f6fbd0 0 28px,#fff9bc 0 29px,#f6fbd0 0 39px,#e4f4f1 0 45px,#f6fbd0 0 49px,#e4f4f1 0 55px,#f6fbd0 0 76px,#e4f4f1 0 84px,#f6fbd0 0 85px,#e4f4f1 0 103px,#f6fbd0 0 106px,#fff9bc 0 114px,#f6fbd0 0 125px,#e4f4f1 0 126px,#f6fbd0 0 139px,#e4f4f1 0 142px,#f6fbd0 0 146px,#e4f4f1 0 150px,#f6fbd0 0 153px,#e4f4f1 0 159px,#f6fbd0 0)"></i>
<i style="background:linear-gradient(90deg,#f6fbd0 5px,#fff9bc 0 8px,#f6fbd0 0 15px,#e4f4f1 0 19px,#f6fbd0 0 28px,#fff9bc 0 32px,#f6fbd0 0 39px,#e4f4f1 0 42px,#f6fbd0 0 49px,#e4f4f1 0 57px,#f6fbd0 0 77px,#e4f4f1 0 82px,#f6fbd0 0 86px,#e4f4f1 0 103px,#f6fbd0 0 106px,#fff9bc 0 115px,#f6fbd0 0 129px,#e4f4f1 0 131px,#f6fbd0 0 136px,#e4f4f1 0 141px,#f6fbd0 0 148px,#e4f4f1 0 150px,#f6fbd0 0 152px,#e4f4f1 0 159px,#f6fbd0 0)"></i>
<i style="background:linear-gradient(90deg,#f6fbd0 4px,#fff9bc 0 8px,#f6fbd0 0 16px,#e4f4f1 0 18px,#f6fbd0 0 27px,#fff9bc 0 33px,#f6fbd0 0 39px,#e4f4f1 0 41px,#f6fbd0 0 48px,#e4f4f1 0 59px,#f6fbd0 0 79px,#e4f4f1 0 80px,#f6fbd0 0 87px,#e4f4f1 0 92px,#c7e7f1 0 93px,#e4f4f1 0 98px,#c7e7f1 0 99px,#e4f4f1 0 104px,#f6fbd0 0 105px,#fff9bc 0 107px,#ffeba0 0 109px,#fff9bc 0 116px,#f6fbd0 0 118px,#fff9bc 0 121px,#f6fbd0 0 126px,#e4f4f1 0 132px,#f6fbd0 0 135px,#e4f4f1 0 139px,#f6fbd0 0 148px,#e4f4f1 0 159px,#f6fbd0 0)"></i>
<i style="background:linear-gradient(90deg,#f6fbd0 3px,#fff9bc 0 8px,#f6fbd0 0 27px,#fff9bc 0 34px,#f6fbd0 0 38px,#e4f4f1 0 41px,#f6fbd0 0 47px,#e4f4f1 0 59px,#f6fbd0 0 72px,#fff9bc 0 74px,#f6fbd0 0 87px,#e4f4f1 0 91px,#c7e7f1 0 100px,#e4f4f1 0 103px,#f6fbd0 0 105px,#fff9bc 0 108px,#ffeba0 0 109px,#fff9bc 0 121px,#f6fbd0 0 125px,#e4f4f1 0 129px,#c7e7f1 0 130px,#e4f4f1 0 131px,#f6fbd0 0 134px,#e4f4f1 0 138px,#f6fbd0 0 148px,#e4f4f1 0 158px,#f6fbd0 0)"></i>
<i style="background:linear-gradient(90deg,#f6fbd0 3px,#fff9bc 0 7px,#f6fbd0 0 12px,#fff9bc 0 14px,#f6fbd0 0 22px,#fff9bc 0 25px,#f6fbd0 0 27px,#fff9bc 0 34px,#f6fbd0 0 38px,#e4f4f1 0 41px,#f6fbd0 0 46px,#e4f4f1 0 60px,#f6fbd0 0 87px,#e4f4f1 0 90px,#c7e7f1 0 101px,#e4f4f1 0 103px,#f6fbd0 0 104px,#fff9bc 0 121px,#f6fbd0 0 125px,#e4f4f1 0 129px,#c7e7f1 0 130px,#e4f4f1 0 131px,#f6fbd0 0 133px,#e4f4f1 0 139px,#f6fbd0 0 147px,#e4f4f1 0 151px,#f6fbd0 0 154px,#e4f4f1 0 157px,#f6fbd0 0)"></i>
<i style="background:linear-gradient(90deg,#f6fbd0 3px,#fff9bc 0 7px,#f6fbd0 0 11px,#fff9bc 0 15px,#f6fbd0 0 23px,#fff9bc 0 26px,#f6fbd0 0 27px,#fff9bc 0 34px,#f6fbd0 0 37px,#e4f4f1 0 41px,#f6fbd0 0 46px,#e4f4f1 0 60px,#f6fbd0 0 70px,#fff9bc 0 75px,#f6fbd0 0 82px,#fff9bc 0 84px,#f6fbd0 0 87px,#e4f4f1 0 90px,#c7e7f1 0 101px,#e4f4f1 0 102px,#f6fbd0 0 103px,#fff9bc 0 121px,#f6fbd0 0 124px,#e4f4f1 0 132px,#f6fbd0 0 134px,#e4f4f1 0 139px,#f6fbd0 0 144px,#e4f4f1 0 150px,#f6fbd0 0 158px,#fff9bc 0 160px,#f6fbd0 0)"></i>
<i style="background:linear-gradient(90deg,#fff9bc 9px,#f6fbd0 0 11px,#fff9bc 0 15px,#f6fbd0 0 23px,#fff9bc 0 26px,#f6fbd0 0 28px,#fff9bc 0 34px,#f6fbd0 0 38px,#e4f4f1 0 41px,#f6fbd0 0 46px,#e4f4f1 0 58px,#f6fbd0 0 62px,#e4f4f1 0 66px,#f6fbd0 0 70px,#fff9bc 0 76px,#f6fbd0 0 80px,#fff9bc 0 83px,#f6fbd0 0 88px,#e4f4f1 0 89px,#c7e7f1 0 99px,#e4f4f1 0 101px,#f6fbd0 0 102px,#fff9bc 0 120px,#f6fbd0 0 123px,#e4f4f1 0 132px,#f6fbd0 0 138px,#e4f4f1 0 139px,#f6fbd0 0 141px,#fff9bc 0 144px,#f6fbd0 0 145px,#e4f4f1 0 147px,#c7e7f1 0 149px,#e4f4f1 0 151px,#f6fbd0 0 156px,#fff9bc 0 161px,#f6fbd0 0 164px,#fff9bc 0)"></i>
<i style="background:linear-gradient(90deg,#fff9bc 16px,#f6fbd0 0 22px,#fff9bc 0 35px,#f6fbd0 0 46px,#e4f4f1 0 58px,#f6fbd0 0 62px,#e4f4f1 0 67px,#f6fbd0 0 68px,#fff9bc 0 76px,#f6fbd0 0 79px,#fff9bc 0 84px,#f6fbd0 0 88px,#e4f4f1 0 91px,#c7e7f1 0 98px,#e4f4f1 0 101px,#fff9bc 0 113px,#f6fbd0 0 115px,#fff9bc 0 120px,#f6fbd0 0 123px,#e4f4f1 0 130px,#f6fbd0 0 142px,#fff9bc 0 145px,#f6fbd0 0 147px,#e4f4f1 0 151px,#f6fbd0 0 154px,#fff9bc 0)"></i>
<i style="background:linear-gradient(90deg,#fff9bc 4px,#ffeba0 0 6px,#fff9bc 0 17px,#f6fbd0 0 22px,#fff9bc 0 36px,#f6fbd0 0 42px,#fff9bc 0 45px,#f6fbd0 0 47px,#e4f4f1 0 57px,#f6fbd0 0 61px,#e4f4f1 0 66px,#f6fbd0 0 67px,#fff9bc 0 77px,#f6fbd0 0 80px,#fff9bc 0 82px,#f6fbd0 0 89px,#e4f4f1 0 91px,#c7e7f1 0 96px,#e4f4f1 0 100px,#f6fbd0 0 101px,#fff9bc 0 113px,#f6fbd0 0 118px,#fff9bc 0 120px,#f6fbd0 0 123px,#e4f4f1 0 127px,#f6fbd0 0 135px,#e4f4f1 0 136px,#f6fbd0 0 142px,#fff9bc 0 146px,#f6fbd0 0 152px,#fff9bc 0)"></i>
<i style="background:linear-gradient(90deg,#fff9bc 4px,#ffeba0 0 6px,#fff9bc 0 30px,#ffeba0 0 31px,#fff9bc 0 37px,#f6fbd0 0 41px,#fff9bc 0 46px,#f6fbd0 0 47px,#e4f4f1 0 58px,#f6fbd0 0 61px,#e4f4f1 0 66px,#fff9bc 0 68px,#ffeba0 0 69px,#fff9bc 0 77px,#f6fbd0 0 87px,#fff9bc 0 88px,#f6fbd0 0 89px,#e4f4f1 0 101px,#f6fbd0 0 102px,#fff9bc 0 109px,#ffeba0 0 110px,#fff9bc 0 115px,#f6fbd0 0 123px,#e4f4f1 0 126px,#f6fbd0 0 142px,#fff9bc 0 143px,#f6fbd0 0 145px,#fff9bc 0 160px,#ffeba0 0 162px,#fff9bc 0)"></i>
<i style="background:linear-gradient(90deg,#ffeba0 1px,#fff9bc 0 4px,#ffeba0 0 5px,#fff9bc 0 7px,#ffeba0 0 8px,#fff9bc 0 29px,#ffeba0 0 31px,#fff9bc 0 45px,#f6fbd0 0 48px,#e4f4f1 0 58px,#f6fbd0 0 61px,#e4f4f1 0 65px,#f6fbd0 0 66px,#fff9bc 0 78px,#f6fbd0 0 86px,#fff9bc 0 88px,#f6fbd0 0 89px,#e4f4f1 0 101px,#f6fbd0 0 102px,#fff9bc 0 109px,#ffeba0 0 111px,#fff9bc 0 115px,#f6fbd0 0 123px,#e4f4f1 0 126px,#f6fbd0 0 134px,#fff9bc 0 135px,#f6fbd0 0 146px,#fff9bc 0 148px,#f6fbd0 0 149px,#fff9bc 0 159px,#ffeba0 0)"></i>
<i style="background:linear-gradient(90deg,#ffeba0 1px,#fff9bc 0 7px,#ffeba0 0 8px,#fff9bc 0 11px,#f6fbd0 0 12px,#fff9bc 0 40px,#f6fbd0 0 43px,#fff9bc 0 44px,#f6fbd0 0 49px,#e4f4f1 0 57px,#f6fbd0 0 62px,#e4f4f1 0 65px,#f6fbd0 0 66px,#fff9bc 0 72px,#f6fbd0 0 73px,#fff9bc 0 78px,#f6fbd0 0 81px,#fff9bc 0 82px,#f6fbd0 0 86px,#fff9bc 0 88px,#f6fbd0 0 89px,#e4f4f1 0 101px,#f6fbd0 0 102px,#fff9bc 0 104px,#f6fbd0 0 106px,#fff9bc 0 114px,#f6fbd0 0 122px,#e4f4f1 0 125px,#f6fbd0 0 143px,#e4f4f1 0 145px,#f6fbd0 0 150px,#fff9bc 0 160px,#ffeba0 0)"></i>
<i style="background:linear-gradient(90deg,#fff9bc 10px,#f6fbd0 0 14px,#fff9bc 0 17px,#f6fbd0 0 27px,#fff9bc 0 39px,#f6fbd0 0 50px,#e4f4f1 0 57px,#f6fbd0 0 62px,#e4f4f1 0 65px,#f6fbd0 0 66px,#fff9bc 0 71px,#f6fbd0 0 74px,#fff9bc 0 77px,#f6fbd0 0 80px,#fff9bc 0 88px,#f6fbd0 0 89px,#e4f4f1 0 100px,#f6fbd0 0 101px,#fff9bc 0 103px,#f6fbd0 0 106px,#fff9bc 0 114px,#f6fbd0 0 122px,#e4f4f1 0 125px,#f6fbd0 0 144px,#e4f4f1 0 146px,#f6fbd0 0 151px,#fff9bc 0)"></i>
<i style="background:linear-gradient(90deg,#fff9bc 2px,#f6fbd0 0 7px,#fff9bc 0 8px,#f6fbd0 0 30px,#fff9bc 0 32px,#f6fbd0 0 50px,#e4f4f1 0 54px,#f6fbd0 0 55px,#e4f4f1 0 57px,#f6fbd0 0 63px,#e4f4f1 0 64px,#f6fbd0 0 65px,#fff9bc 0 70px,#f6fbd0 0 75px,#fff9bc 0 88px,#f6fbd0 0 90px,#e4f4f1 0 99px,#f6fbd0 0 100px,#fff9bc 0 103px,#f6fbd0 0 106px,#fff9bc 0 113px,#f6fbd0 0 117px,#e4f4f1 0 119px,#f6fbd0 0 121px,#e4f4f1 0 125px,#f6fbd0 0 154px,#fff9bc 0)"></i>
<i style="background:linear-gradient(90deg,#f6fbd0 17px,#e4f4f1 0 24px,#f6fbd0 0 50px,#e4f4f1 0 54px,#f6fbd0 0 65px,#fff9bc 0 70px,#f6fbd0 0 75px,#fff9bc 0 84px,#f6fbd0 0 85px,#fff9bc 0 88px,#f6fbd0 0 90px,#e4f4f1 0 99px,#f6fbd0 0 100px,#fff9bc 0 103px,#f6fbd0 0 106px,#fff9bc 0 111px,#f6fbd0 0 115px,#e4f4f1 0 119px,#f6fbd0 0 121px,#e4f4f1 0 124px,#f6fbd0 0 130px,#e4f4f1 0 132px,#f6fbd0 0 138px,#fff9bc 0 142px,#f6fbd0 0 148px,#fff9bc 0 150px,#f6fbd0 0 154px,#fff9bc 0 165px,#f6fbd0 0)"></i>
<i style="background:linear-gradient(90deg,#f6fbd0 2px,#e4f4f1 0 4px,#f6fbd0 0 6px,#e4f4f1 0 8px,#f6fbd0 0 14px,#e4f4f1 0 24px,#f6fbd0 0 39px,#e4f4f1 0 44px,#f6fbd0 0 50px,#e4f4f1 0 54px,#f6fbd0 0 62px,#fff9bc 0 69px,#f6fbd0 0 77px,#fff9bc 0 84px,#f6fbd0 0 86px,#fff9bc 0 89px,#f6fbd0 0 90px,#e4f4f1 0 99px,#f6fbd0 0 100px,#fff9bc 0 102px,#f6fbd0 0 106px,#fff9bc 0 112px,#f6fbd0 0 115px,#e4f4f1 0 119px,#f6fbd0 0 121px,#e4f4f1 0 123px,#f6fbd0 0 129px,#e4f4f1 0 134px,#f6fbd0 0 137px,#fff9bc 0 145px,#f6fbd0 0 147px,#fff9bc 0 151px,#f6fbd0 0 155px,#fff9bc 0 161px,#f6fbd0 0 162px,#fff9bc 0 163px,#f6fbd0 0)"></i>
<i style="background:linear-gradient(90deg,#e4f4f1 5px,#f6fbd0 0 7px,#e4f4f1 0 9px,#f6fbd0 0 12px,#e4f4f1 0 24px,#f6fbd0 0 40px,#e4f4f1 0 42px,#f6fbd0 0 43px,#e4f4f1 0 44px,#f6fbd0 0 50px,#e4f4f1 0 54px,#f6fbd0 0 62px,#fff9bc 0 64px,#f6fbd0 0 66px,#fff9bc 0 68px,#f6fbd0 0 73px,#e4f4f1 0 74px,#f6fbd0 0 80px,#fff9bc 0 83px,#f6fbd0 0 87px,#fff9bc 0 88px,#f6fbd0 0 90px,#e4f4f1 0 98px,#f6fbd0 0 99px,#fff9bc 0 102px,#f6fbd0 0 106px,#fff9bc 0 112px,#f6fbd0 0 115px,#e4f4f1 0 120px,#f6fbd0 0 122px,#e4f4f1 0 123px,#f6fbd0 0 129px,#e4f4f1 0 135px,#f6fbd0 0 137px,#fff9bc 0 151px,#f6fbd0 0 156px,#fff9bc 0 157px,#f6fbd0 0)"></i>
<i style="background:linear-gradient(90deg,#e4f4f1 5px,#f6fbd0 0 7px,#e4f4f1 0 10px,#f6fbd0 0 12px,#e4f4f1 0 25px,#f6fbd0 0 40px,#e4f4f1 0 42px,#f6fbd0 0 50px,#e4f4f1 0 54px,#f6fbd0 0 71px,#e4f4f1 0 74px,#f6fbd0 0 91px,#e4f4f1 0 96px,#f6fbd0 0 99px,#fff9bc 0 102px,#f6fbd0 0 105px,#fff9bc 0 112px,#f6fbd0 0 115px,#e4f4f1 0 120px,#f6fbd0 0 127px,#e4f4f1 0 135px,#f6fbd0 0 138px,#fff9bc 0 142px,#f6fbd0 0 143px,#fff9bc 0 148px,#f6fbd0 0 165px,#e4f4f1 0)"></i>
<i style="background:linear-gradient(90deg,#e4f4f1 5px,#f6fbd0 0 7px,#e4f4f1 0 25px,#f6fbd0 0 33px,#e4f4f1 0 34px,#f6fbd0 0 39px,#e4f4f1 0 43px,#f6fbd0 0 49px,#e4f4f1 0 54px,#f6fbd0 0 57px,#e4f4f1 0 61px,#f6fbd0 0 70px,#e4f4f1 0 75px,#f6fbd0 0 91px,#e4f4f1 0 96px,#f6fbd0 0 100px,#fff9bc 0 113px,#f6fbd0 0 115px,#e4f4f1 0 118px,#f6fbd0 0 124px,#e4f4f1 0 135px,#f6fbd0 0 144px,#fff9bc 0 145px,#f6fbd0 0 164px,#e4f4f1 0)"></i>
<i style="background:linear-gradient(90deg,#e4f4f1 25px,#f6fbd0 0 30px,#e4f4f1 0 31px,#f6fbd0 0 32px,#e4f4f1 0 34px,#f6fbd0 0 39px,#e4f4f1 0 43px,#f6fbd0 0 45px,#e4f4f1 0 61px,#f6fbd0 0 62px,#e4f4f1 0 65px,#f6fbd0 0 70px,#e4f4f1 0 76px,#f6fbd0 0 81px,#e4f4f1 0 84px,#f6fbd0 0 92px,#e4f4f1 0 94px,#f6fbd0 0 100px,#fff9bc 0 113px,#f6fbd0 0 125px,#e4f4f1 0 135px,#f6fbd0 0 141px,#e4f4f1 0 142px,#f6fbd0 0 149px,#e4f4f1 0 150px,#f6fbd0 0 164px,#e4f4f1 0)"></i>
<i style="background:linear-gradient(90deg,#e4f4f1 25px,#f6fbd0 0 29px,#e4f4f1 0 36px,#f6fbd0 0 39px,#e4f4f1 0 60px,#f6fbd0 0 62px,#e4f4f1 0 66px,#f6fbd0 0 70px,#e4f4f1 0 76px,#f6fbd0 0 79px,#e4f4f1 0 85px,#f6fbd0 0 104px,#fff9bc 0 113px,#f6fbd0 0 124px,#e4f4f1 0 135px,#f6fbd0 0 136px,#e4f4f1 0 137px,#f6fbd0 0 140px,#e4f4f1 0 152px,#f6fbd0 0 156px,#fff9bc 0 158px,#f6fbd0 0 162px,#e4f4f1 0)"></i>
<i style="background:linear-gradient(90deg,#e4f4f1 24px,#f6fbd0 0 28px,#e4f4f1 0 35px,#f6fbd0 0 40px,#e4f4f1 0 58px,#f6fbd0 0 60px,#e4f4f1 0 65px,#f6fbd0 0 70px,#e4f4f1 0 75px,#f6fbd0 0 79px,#e4f4f1 0 86px,#f6fbd0 0 106px,#fff9bc 0 113px,#f6fbd0 0 124px,#e4f4f1 0 139px,#f6fbd0 0 140px,#e4f4f1 0 152px,#f6fbd0 0 155px,#fff9bc 0 158px,#f6fbd0 0 162px,#e4f4f1 0)"></i>
<i style="background:linear-gradient(90deg,#e4f4f1 23px,#f6fbd0 0 27px,#e4f4f1 0 35px,#f6fbd0 0 40px,#e4f4f1 0 56px,#f6fbd0 0 60px,#e4f4f1 0 66px,#f6fbd0 0 79px,#e4f4f1 0 83px,#c7e7f1 0 84px,#e4f4f1 0 86px,#f6fbd0 0 94px,#e4f4f1 0 97px,#f6fbd0 0 107px,#fff9bc 0 112px,#f6fbd0 0 114px,#fff9bc 0 116px,#f6fbd0 0 124px,#e4f4f1 0 138px,#f6fbd0 0 142px,#e4f4f1 0 144px,#f6fbd0 0 147px,#e4f4f1 0 152px,#f6fbd0 0 155px,#fff9bc 0 157px,#f6fbd0 0 162px,#e4f4f1 0)"></i>
<i style="background:linear-gradient(90deg,#f6fbd0 3px,#e4f4f1 0 21px,#f6fbd0 0 27px,#e4f4f1 0 35px,#f6fbd0 0 40px,#e4f4f1 0 55px,#f6fbd0 0 60px,#e4f4f1 0 66px,#f6fbd0 0 80px,#e4f4f1 0 86px,#f6fbd0 0 90px,#e4f4f1 0 92px,#f6fbd0 0 93px,#e4f4f1 0 99px,#f6fbd0 0 107px,#fff9bc 0 111px,#f6fbd0 0 124px,#e4f4f1 0 131px,#f6fbd0 0 132px,#e4f4f1 0 139px,#f6fbd0 0 148px,#e4f4f1 0 152px,#f6fbd0 0 162px,#e4f4f1 0 165px,#f6fbd0 0)"></i>
<i style="background:linear-gradient(90deg,#f6fbd0 6px,#e4f4f1 0 17px,#f6fbd0 0 28px,#e4f4f1 0 35px,#f6fbd0 0 39px,#e4f4f1 0 54px,#f6fbd0 0 60px,#e4f4f1 0 64px,#f6fbd0 0 80px,#e4f4f1 0 85px,#f6fbd0 0 93px,#e4f4f1 0 101px,#f6fbd0 0 107px,#fff9bc 0 111px,#f6fbd0 0 124px,#e4f4f1 0 131px,#f6fbd0 0 133px,#e4f4f1 0 140px,#f6fbd0 0 148px,#e4f4f1 0 152px,#f6fbd0 0 161px,#e4f4f1 0 164px,#f6fbd0 0)"></i>
<i style="background:linear-gradient(90deg,#fff9bc 2px,#f6fbd0 0 8px,#e4f4f1 0 10px,#f6fbd0 0 28px,#e4f4f1 0 36px,#f6fbd0 0 39px,#e4f4f1 0 41px,#f6fbd0 0 42px,#e4f4f1 0 55px,#f6fbd0 0 60px,#e4f4f1 0 63px,#f6fbd0 0 80px,#e4f4f1 0 84px,#f6fbd0 0 95px,#e4f4f1 0 101px,#f6fbd0 0 108px,#fff9bc 0 110px,#f6fbd0 0 119px,#fff9bc 0 120px,#f6fbd0 0 123px,#e4f4f1 0 131px,#f6fbd0 0 134px,#e4f4f1 0 140px,#f6fbd0 0 160px,#e4f4f1 0 162px,#f6fbd0 0 165px,#fff9bc 0)"></i>
<i style="background:linear-gradient(90deg,#fff9bc 2px,#f6fbd0 0 20px,#fff9bc 0 22px,#f6fbd0 0 29px,#e4f4f1 0 36px,#f6fbd0 0 38px,#e4f4f1 0 40px,#f6fbd0 0 42px,#e4f4f1 0 49px,#c7e7f1 0 50px,#e4f4f1 0 55px,#f6fbd0 0 72px,#fff9bc 0 74px,#f6fbd0 0 80px,#e4f4f1 0 83px,#f6fbd0 0 95px,#e4f4f1 0 101px,#f6fbd0 0 123px,#e4f4f1 0 132px,#f6fbd0 0 134px,#e4f4f1 0 140px,#f6fbd0 0 164px,#fff9bc 0)"></i>
<i style="background:linear-gradient(90deg,#fff9bc 5px,#f6fbd0 0 20px,#fff9bc 0 26px,#f6fbd0 0 29px,#e4f4f1 0 36px,#f6fbd0 0 37px,#e4f4f1 0 38px,#f6fbd0 0 45px,#e4f4f1 0 49px,#c7e7f1 0 51px,#e4f4f1 0 53px,#f6fbd0 0 71px,#fff9bc 0 74px,#f6fbd0 0 96px,#e4f4f1 0 101px,#f6fbd0 0 107px,#fff9bc 0 108px,#f6fbd0 0 124px,#e4f4f1 0 131px,#f6fbd0 0 134px,#e4f4f1 0 140px,#f6fbd0 0 141px,#fff9bc 0 143px,#f6fbd0 0 162px,#fff9bc 0)"></i>
<i style="background:linear-gradient(90deg,#fff9bc 6px,#f6fbd0 0 10px,#fff9bc 0 27px,#f6fbd0 0 31px,#e4f4f1 0 34px,#f6fbd0 0 47px,#e4f4f1 0 49px,#c7e7f1 0 51px,#e4f4f1 0 52px,#f6fbd0 0 70px,#fff9bc 0 74px,#f6fbd0 0 97px,#e4f4f1 0 101px,#f6fbd0 0 106px,#fff9bc 0 113px,#f6fbd0 0 120px,#fff9bc 0 123px,#f6fbd0 0 134px,#e4f4f1 0 138px,#f6fbd0 0 140px,#fff9bc 0 144px,#f6fbd0 0 160px,#fff9bc 0)"></i>
<i style="background:linear-gradient(90deg,#ffeba0 3px,#fff9bc 0 27px,#f6fbd0 0 39px,#fff9bc 0 45px,#f6fbd0 0 49px,#e4f4f1 0 52px,#f6fbd0 0 54px,#fff9bc 0 56px,#f6fbd0 0 69px,#fff9bc 0 75px,#f6fbd0 0 79px,#fff9bc 0 82px,#f6fbd0 0 98px,#e4f4f1 0 101px,#f6fbd0 0 105px,#fff9bc 0 114px,#f6fbd0 0 118px,#fff9bc 0 124px,#f6fbd0 0 140px,#fff9bc 0 145px,#f6fbd0 0 149px,#fff9bc 0 151px,#f6fbd0 0 155px,#fff9bc 0 161px,#ffeba0 0)"></i>
<i style="background:linear-gradient(90deg,#ffeba0 7px,#fff9bc 0 8px,#ffeba0 0 21px,#fff9bc 0 27px,#f6fbd0 0 35px,#fff9bc 0 47px,#f6fbd0 0 54px,#fff9bc 0 58px,#f6fbd0 0 70px,#fff9bc 0 75px,#f6fbd0 0 77px,#fff9bc 0 83px,#f6fbd0 0 94px,#fff9bc 0 96px,#f6fbd0 0 103px,#fff9bc 0 120px,#ffeba0 0 122px,#fff9bc 0 131px,#f6fbd0 0 132px,#fff9bc 0 134px,#f6fbd0 0 137px,#fff9bc 0 140px,#ffeba0 0 143px,#fff9bc 0 160px,#ffeba0 0)"></i>
<i style="background:linear-gradient(90deg,#fed786 15px,#ffeba0 0 16px,#fed786 0 19px,#ffeba0 0 27px,#fff9bc 0 36px,#ffeba0 0 43px,#fff9bc 0 49px,#f6fbd0 0 53px,#fff9bc 0 58px,#f6fbd0 0 73px,#fff9bc 0 75px,#f6fbd0 0 79px,#fff9bc 0 81px,#f6fbd0 0 102px,#fff9bc 0 109px,#ffeba0 0 112px,#fff9bc 0 119px,#ffeba0 0 125px,#fff9bc 0 126px,#ffeba0 0 129px,#fff9bc 0 134px,#ffeba0 0 135px,#fff9bc 0 138px,#ffeba0 0 141px,#fed786 0 142px,#ffeba0 0 146px,#fff9bc 0 147px,#ffeba0 0 162px,#fed786 0)"></i>
<i style="background:linear-gradient(90deg,#fdbd6e 19px,#fed786 0 32px,#ffeba0 0 35px,#fed786 0 42px,#ffeba0 0 46px,#fff9bc 0 52px,#f6fbd0 0 58px,#e4f4f1 0 71px,#f6fbd0 0 93px,#fff9bc 0 94px,#f6fbd0 0 101px,#fff9bc 0 109px,#ffeba0 0 112px,#fff9bc 0 115px,#ffeba0 0 139px,#fed786 0 145px,#ffeba0 0 147px,#fed786 0 163px,#fdbd6e 0)"></i>
<i style="background:linear-gradient(90deg,#fa9e5a 8px,#f57a48 0 11px,#fa9e5a 0 20px,#fdbd6e 0 21px,#fa9e5a 0 24px,#fdbd6e 0 25px,#fa9e5a 0 26px,#fdbd6e 0 41px,#fed786 0 43px,#ffeba0 0 47px,#fff9bc 0 52px,#f6fbd0 0 56px,#e4f4f1 0 58px,#c7e7f1 0 60px,#a8d6e8 0 62px,#c7e7f1 0 66px,#e4f4f1 0 72px,#f6fbd0 0 92px,#fff9bc 0 94px,#f6fbd0 0 100px,#fff9bc 0 109px,#ffeba0 0 133px,#fed786 0 150px,#fdbd6e 0 164px,#fa9e5a 0)"></i>
<i style="background:linear-gradient(90deg,#fdbd6e 4px,#fa9e5a 0 8px,#f57a48 0 10px,#fa9e5a 0 20px,#fdbd6e 0 41px,#fed786 0 43px,#ffeba0 0 47px,#fff9bc 0 51px,#f6fbd0 0 54px,#e4f4f1 0 56px,#c7e7f1 0 57px,#a8d6e8 0 60px,#87bdd9 0 62px,#a8d6e8 0 65px,#c7e7f1 0 68px,#e4f4f1 0 74px,#f6fbd0 0 101px,#fff9bc 0 114px,#ffeba0 0 120px,#fff9bc 0 122px,#ffeba0 0 128px,#fff9bc 0 132px,#ffeba0 0 141px,#fed786 0 151px,#fdbd6e 0 152px,#fed786 0 161px,#fdbd6e 0)"></i>
<i style="background:linear-gradient(90deg,#fed786 5px,#fdbd6e 0 12px,#fed786 0 13px,#fdbd6e 0 15px,#fed786 0 41px,#ffeba0 0 44px,#fff9bc 0 48px,#f6fbd0 0 52px,#e4f4f1 0 54px,#c7e7f1 0 56px,#a8d6e8 0 58px,#87bdd9 0 63px,#a8d6e8 0 67px,#c7e7f1 0 69px,#e4f4f1 0 80px,#f6fbd0 0 82px,#e4f4f1 0 87px,#f6fbd0 0 101px,#fff9bc 0 106px,#f6fbd0 0 113px,#fff9bc 0 120px,#f6fbd0 0 122px,#fff9bc 0 129px,#f6fbd0 0 132px,#fff9bc 0 141px,#ffeba0 0 150px,#fed786 0 152px,#ffeba0 0 156px,#fed786 0 159px,#ffeba0 0 161px,#fed786 0)"></i>
<i style="background:linear-gradient(90deg,#f6fbd0 6px,#fff9bc 0 11px,#f6fbd0 0 19px,#e4f4f1 0 26px,#f6fbd0 0 30px,#e4f4f1 0 33px,#f6fbd0 0 41px,#e4f4f1 0 44px,#c7e7f1 0 49px,#a8d6e8 0 54px,#87bdd9 0 57px,#69a0ca 0 67px,#87bdd9 0 70px,#a8d6e8 0 72px,#87bdd9 0 75px,#a8d6e8 0 93px,#c7e7f1 0 97px,#a8d6e8 0 99px,#c7e7f1 0 107px,#a8d6e8 0 112px,#c7e7f1 0 115px,#e4f4f1 0 117px,#c7e7f1 0 129px,#a8d6e8 0 131px,#c7e7f1 0 141px,#e4f4f1 0 147px,#f6fbd0 0)"></i>
<i style="background:linear-gradient(90deg,#a8d6e8 2px,#87bdd9 0 3px,#a8d6e8 0 13px,#87bdd9 0 23px,#69a0ca 0 24px,#87bdd9 0 36px,#a8d6e8 0 40px,#87bdd9 0 43px,#69a0ca 0 47px,#4d7fb9 0 53px,#3d5ba7 0 61px,#313695 0 67px,#3d5ba7 0 87px,#4d7fb9 0 94px,#69a0ca 0 96px,#4d7fb9 0 101px,#69a0ca 0 105px,#4d7fb9 0 114px,#69a0ca 0 118px,#4d7fb9 0 138px,#69a0ca 0 141px,#87bdd9 0 146px,#a8d6e8 0)"></i>
<i style="background:linear-gradient(90deg,#87bdd9 2px,#69a0ca 0 14px,#4d7fb9 0 16px,#69a0ca 0 18px,#4d7fb9 0 36px,#69a0ca 0 41px,#4d7fb9 0 43px,#3d5ba7 0 47px,#313695 0 94px,#3d5ba7 0 96px,#313695 0 102px,#3d5ba7 0 105px,#313695 0 115px,#3d5ba7 0 118px,#313695 0 132px,#3d5ba7 0 140px,#4d7fb9 0 144px,#69a0ca 0 146px,#87bdd9 0 157px,#69a0ca 0 162px,#87bdd9 0)"></i>
<i style="background:linear-gradient(90deg,#87bdd9 1px,#69a0ca 0 14px,#4d7fb9 0 38px,#69a0ca 0 40px,#4d7fb9 0 43px,#3d5ba7 0 46px,#313695 0 137px,#3d5ba7 0 142px,#4d7fb9 0 144px,#69a0ca 0 148px,#87bdd9 0 156px,#69a0ca 0 164px,#87bdd9 0)"></i>
<i style="background:linear-gradient(90deg,#69a0ca 9px,#87bdd9 0 11px,#69a0ca 0 14px,#4d7fb9 0 37px,#69a0ca 0 41px,#4d7fb9 0 44px,#3d5ba7 0 47px,#313695 0 137px,#3d5ba7 0 144px,#4d7fb9 0 146px,#69a0ca 0 159px,#4d7fb9 0 161px,#69a0ca 0)"></i>
<i style="background:linear-gradient(90deg,#69a0ca 3px,#4d7fb9 0 7px,#69a0ca 0 9px,#87bdd9 0 11px,#69a0ca 0 14px,#4d7fb9 0 37px,#69a0ca 0 41px,#4d7fb9 0 44px,#3d5ba7 0 47px,#313695 0 143px,#3d5ba7 0 146px,#4d7fb9 0)"></i>
<i style="background:linear-gradient(90deg,#4d7fb9 8px,#69a0ca 0 13px,#4d7fb9 0 22px,#3d5ba7 0 23px,#4d7fb9 0 37px,#69a0ca 0 40px,#4d7fb9 0 43px,#3d5ba7 0 47px,#313695 0 146px,#3d5ba7 0 161px,#4d7fb9 0)"></i>
<i style="background:linear-gradient(90deg,#4d7fb9 4px,#3d5ba7 0 6px,#4d7fb9 0 10px,#69a0ca 0 12px,#4d7fb9 0 20px,#3d5ba7 0 25px,#4d7fb9 0 29px,#3d5ba7 0 31px,#4d7fb9 0 42px,#3d5ba7 0 47px,#313695 0 156px,#3d5ba7 0)"></i>
<i></i>
<i></i>
</div>
<svg width="550" height="482" viewBox="0 0 550 482">
<defs><g id="w"><path d="M18.0 9.4L18.0 13.7L18.9 13.8L19.6 14.3L20.5 13.9L21.5 14.5L22.3 15.4L23.1 15.7L23.0 16.1M26.3 18.9L39.1 18.9L39.4 19.0L40.6 19.2L41.8 19.4L42.3 19.2L44.0 19.9L44.6 20.3L45.0 20.6L45.1 21.7L44.8 22.0L45.0 22.3L46.6 21.8L46.6 21.5L47.6 21.4L47.9 21.1L48.6 20.8L50.1 20.8L50.6 20.3L50.8 20.0L51.2 19.6L51.7 19.7L51.8 20.4L52.1 20.7M29.0 26.5L30.1 26.5L31.9 27.1L33.1 27.1L33.1 26.8L33.9 26.8L34.9 27.9L35.5 28.1L35.8 27.8L36.3 27.8L37.2 28.8L37.3 29.3L38.2 29.6M40.5 34.8L40.6 34.5L40.8 34.1L41.3 34.1L41.1 33.6L41.1 33.3L41.9 33.3L41.9 34.2L42.4 34.3M41.9 33.3L42.3 33.0M41.9 34.9L42.6 35.1L42.8 35.5M41.9 34.9L41.9 34.2M41.5 35.1L41.9 34.9M44.5 36.4L43.5 36.4M44.8 37.8L45.0 37.1M42.8 35.5L43.9 35.0L44.7 34.6M50.0 32.4L50.0 33.2M50.2 36.1L49.4 37.3L49.7 38.1L50.8 38.3L51.9 38.6L51.8 39.7L52.2 40.9M52.2 40.9L50.8 41.3L51.0 42.0L50.8 43.4M46.7 40.9L48.0 41.4L48.3 41.5L49.4 42.6L50.8 42.7L50.8 43.4M46.0 43.1L46.2 43.5L46.6 43.8L47.0 43.1L48.2 42.2L48.3 41.5M50.8 43.4L49.4 43.8L49.0 44.9L49.5 45.8L50.5 45.9L50.5 46.6L51.0 46.6M51.0 46.6L51.4 47.3L51.2 48.2L51.0 48.6L51.2 49.0L51.0 49.5L50.6 49.9M51.0 46.6L51.7 46.4L53.0 46.1L53.0 46.9L54.0 47.4L55.2 47.9L55.3 49.0L56.2 49.0L56.2 49.6L56.6 49.9L56.3 50.6M51.0 49.5L51.5 50.5L51.6 51.4L52.1 52.0M52.1 52.0L52.5 51.6L53.4 52.0L54.2 51.8L54.4 51.0L54.6 50.5L56.2 50.6L56.3 50.6M56.3 50.6L56.4 51.7L57.4 51.8L57.5 52.6L58.0 52.6L57.9 53.3M54.2 51.8L55.4 52.6L56.5 53.2L56.0 54.0L57.2 54.1L57.9 53.3M57.9 53.3L58.3 53.8L57.3 54.5L56.5 55.4M56.5 55.4L57.4 55.7L58.4 56.6L58.4 57.0M56.5 55.4L56.2 56.5L56.1 57.2M52.1 52.0L51.5 52.8L51.5 54.0L50.9 54.9L50.6 56.0L50.8 56.9L50.6 58.1L50.2 59.4L50.0 60.4L50.0 61.8L50.1 62.9L49.6 64.1L49.4 64.8L49.7 65.2L51.2 65.6L51.5 65.7M51.4 65.8L51.4 66.8M52.2 40.9L52.9 41.1L53.8 40.5L53.6 39.7L54.9 39.4L55.1 39.1M55.1 39.1L54.8 38.7L55.4 37.6M55.1 39.1L55.5 39.4L55.4 40.3L56.0 40.9L56.8 40.6M56.8 40.6L56.6 39.0L56.8 38.7M56.8 40.6L57.9 40.4M57.9 40.4L58.2 38.9M57.9 40.4L58.9 40.4L59.3 39.5M79.0 22.2L79.3 22.1L80.1 22.2L79.9 22.6L79.9 23.2L79.6 23.2L79.9 23.9L79.6 24.2L79.7 24.3M82.3 21.5L83.4 21.8L83.9 21.9L84.6 21.9M84.3 17.9L85.0 18.4L85.8 18.7L86.1 18.7L86.9 18.9L86.6 19.6L85.9 20.2L86.3 20.3L86.1 20.7L86.7 21.2L86.6 21.3M84.7 17.8L85.4 17.8L85.8 17.9L86.0 18.2L86.1 18.7M85.8 17.9L85.9 17.6L86.2 17.4L86.4 16.9M87.1 16.2L87.6 16.2M89.7 16.6L89.8 17.2L89.9 17.8L90.0 18.0M90.0 18.0L88.7 18.3L89.5 19.0L89.1 19.6L87.9 19.6L87.5 19.6L86.6 19.6M86.3 20.3L87.0 20.2L87.4 20.1L87.9 19.9L88.7 19.8L89.4 20.1L89.4 20.5M89.5 19.0L90.0 18.9L90.9 19.0L91.0 19.4L90.6 19.8L90.5 19.9L89.4 20.1M90.0 18.0L90.7 18.3L91.8 18.7L93.5 18.9M93.5 18.9L94.2 18.2L94.0 17.5L94.1 16.6L93.6 16.4L92.2 16.4M94.1 16.6L95.4 15.9L96.1 15.6L95.7 15.0L95.9 14.1L96.0 14.1M92.8 15.6L94.6 15.5L95.4 15.9M94.4 14.8L95.7 15.0M96.0 13.6L97.6 12.5L97.0 11.2L96.5 9.7L97.3 9.3M88.3 14.3L88.9 13.4L88.7 12.2L89.8 11.1L90.7 10.1L92.6 9.7L92.8 9.5M94.3 11.2L94.0 10.4L92.6 9.7M92.8 9.5L94.9 9.7L95.1 9.2L96.3 9.2L96.5 9.7M94.0 17.5L95.8 17.8L97.4 17.5L97.8 17.5M96.1 15.6L97.4 16.1L98.2 16.8L97.8 17.5M97.8 17.5L99.3 17.9L100.6 18.4L101.6 18.6L101.5 19.5L100.7 19.8M93.5 18.9L93.3 19.2L94.4 19.4L95.4 19.2L96.1 20.5L96.8 20.6M95.4 19.2L96.5 19.4L97.0 20.1L96.1 20.5M93.3 19.2L92.8 20.2L92.5 20.2L91.8 20.3L90.7 20.1L90.5 19.9M92.5 20.2L93.0 20.8L93.5 21.0L93.6 21.1L93.7 21.3L94.6 21.3L95.6 21.2L96.3 21.3M89.4 20.5L90.1 20.5L90.7 20.1M90.4 20.7L91.9 20.8L92.1 20.8L91.9 21.4L91.6 21.9M93.6 21.1L93.4 21.8L93.7 22.5L95.2 22.3L95.1 22.7M92.3 23.2L92.8 22.6L92.6 22.2L92.1 22.2M95.2 22.3L96.0 22.1M91.0 19.4L91.8 19.5L93.3 19.2M91.9 20.8L92.5 20.2M92.1 20.8L92.1 21.6L92.6 22.2L93.7 22.5M99.7 24.9L100.0 24.5L100.6 24.5L102.7 24.3L103.8 24.3L103.6 23.3L103.8 23.2L103.3 22.5L102.3 22.4M101.6 21.5L103.0 21.8L104.6 22.2L105.5 22.2M103.8 23.2L104.6 23.6L105.3 23.2L105.7 23.8M103.3 22.5L103.9 22.5L104.6 22.2M103.9 22.5L104.1 22.8L104.6 23.6M102.7 24.3L102.1 25.5L101.0 26.1L100.1 26.6L99.5 26.4L99.5 26.1L100.0 25.6L99.7 25.5M99.5 26.4L99.5 27.0L99.3 27.9M98.9 27.1L99.3 27.9M99.3 27.9L99.8 28.0L100.4 27.7L100.2 27.0L101.2 26.7L101.0 26.1M101.2 26.7L102.5 27.1L103.7 28.0L104.6 28.1L105.1 28.4L105.4 28.4M104.6 28.1L105.1 27.6L105.3 27.7M103.8 24.3L104.3 25.0L104.1 25.8L105.1 26.7L105.1 27.2L105.5 27.7M102.9 33.9L103.4 33.5L104.8 33.7L107.1 32.7L108.5 32.3L108.8 31.4L108.6 31.0L107.4 30.9L106.9 30.4M107.1 32.7L107.6 33.8M108.6 31.0L109.0 30.4L109.1 29.7M106.6 30.1L106.9 30.4M108.0 24.3L109.2 23.9L110.5 24.2L111.4 24.6L111.3 25.2L111.0 25.8L111.2 27.0L111.6 27.2L111.2 27.8L112.0 27.9L112.4 29.0L111.5 29.9M111.2 27.8L113.7 27.7L115.2 26.8L115.4 25.8L116.1 25.4L116.1 24.7L117.5 24.4M111.4 24.6L112.9 24.7L113.8 24.3L114.5 24.4L115.2 24.2L116.1 24.0L116.1 24.5L117.5 24.3M105.7 20.1L104.8 19.4L104.6 18.4L105.5 18.2L106.6 17.7L108.3 18.0L109.9 18.0L111.5 18.0L111.3 16.7L113.1 16.4L115.0 16.0L115.9 16.5L117.0 16.6L118.4 16.5L119.0 16.9L120.0 18.0L121.4 18.0L122.3 18.4L123.4 18.8M107.3 22.2L108.7 22.5L109.0 20.8L110.1 20.5L111.3 21.1L112.9 21.4L113.6 21.7L113.8 22.5L114.5 22.6L115.0 22.5L115.9 22.0L117.0 21.9L117.5 21.6L119.3 21.7L120.1 22.0L120.0 20.8L121.2 20.6L121.4 19.7L122.6 19.8L122.7 19.2L123.4 18.8M109.0 22.5L109.4 22.5L110.1 21.8L110.8 22.0L110.9 22.5L111.7 23.1L112.6 23.6L113.8 24.3M114.5 24.4L114.4 23.3L115.6 23.0L116.8 23.1L117.1 23.3L117.6 23.7L117.5 24.3M117.1 23.3L118.2 22.9L119.3 22.4L120.1 22.0M115.0 22.5L115.6 23.0M115.9 22.0L115.6 22.6L116.8 23.1M123.6 18.8L124.6 19.5L125.1 20.6L127.2 21.1L127.7 21.8L129.7 21.9L131.6 22.3L133.9 21.8L134.8 21.3L134.8 20.8L136.7 20.2L138.4 20.0L137.3 19.5L136.7 19.4L136.6 18.5L137.0 18.5M123.6 18.8L124.5 18.5L125.6 18.1L128.3 18.4L128.5 17.8L130.2 17.8L130.3 18.2L132.0 18.3L133.0 18.7L134.3 18.8L135.7 18.4L137.0 18.5M137.0 18.5L138.1 18.3L138.9 17.3L140.1 16.8L141.3 17.2L142.0 18.3L143.5 19.5L145.3 19.2L144.6 20.7L143.7 20.8L143.7 21.6L143.4 22.0M143.4 21.9L142.2 22.1L141.6 22.3L140.5 23.1M141.4 24.1L142.4 23.7M117.5 24.3L118.1 24.6L119.1 25.1L119.6 26.3L119.4 27.1L120.5 27.6L121.0 27.5L121.9 28.2L122.8 28.6L123.8 28.6L124.1 28.9L124.6 28.5L125.6 28.7L126.5 28.0L127.4 27.9L128.0 28.5M120.1 28.2L120.5 27.6M120.1 28.2L121.6 28.9L122.6 29.2L123.8 29.3L123.8 28.6M124.1 28.9L124.6 29.2L125.6 29.1L125.6 28.7M117.5 24.4L117.3 25.5L117.9 26.6L117.5 27.2L116.8 27.9L115.9 28.7L115.4 28.8L115.6 29.6L115.9 30.2L114.9 30.3L114.6 30.6M123.8 29.3L124.2 29.5L123.9 30.0L124.1 30.3L124.1 31.4M124.2 29.5L124.6 29.8L125.7 29.9L125.7 30.3L125.2 30.6L125.8 30.9L125.7 31.8M128.0 28.5L127.1 29.2L126.8 29.9L126.6 30.4L126.2 30.4L126.1 31.3L125.9 31.7M128.0 28.5L128.7 28.8L128.7 29.6L128.2 30.1L128.7 30.4L128.9 31.3L129.8 31.6L129.3 32.1L128.8 32.4L128.2 33.0L128.6 34.0L128.4 34.5L128.9 35.4L129.1 36.1L128.7 36.8M129.8 31.6L130.3 31.2L131.7 30.8L132.4 31.0L133.0 31.6M130.3 31.2L131.1 32.1L131.6 32.9L132.5 34.0L132.8 34.7M129.3 32.1L129.8 33.4L130.2 33.1L131.1 33.1L131.5 34.0L131.9 34.8M130.4 35.9L130.4 35.2L130.7 35.0L131.9 34.8L132.8 34.7L132.7 35.8L131.9 36.2L132.0 36.4L131.3 36.7M129.3 38.5L129.8 38.9L130.2 38.6M133.7 40.6L134.1 41.1L134.9 40.9L135.7 40.9L136.2 40.2L136.4 39.5L137.4 39.6M148.2 42.7L148.2 45.7M82.1 25.3L82.3 26.5L81.3 27.1L80.6 27.7L79.1 28.3L79.1 28.7M79.1 28.7L77.0 28.7M79.1 28.9L79.1 29.5L77.6 29.5L77.6 30.7L77.1 30.9L77.1 31.7L75.3 31.7M79.1 28.9L80.9 30.0L83.7 31.8L83.9 32.1L84.6 32.4L84.6 32.7L85.0 32.7M85.0 32.7L86.6 31.9L88.6 30.7M88.6 30.7L87.7 30.2L87.5 29.4L87.6 28.4L87.5 27.6M87.5 27.6L87.3 26.7L86.6 25.9L86.9 25.5L87.1 24.5M87.5 27.6L87.9 26.9L88.4 26.2M94.6 26.9L94.6 31.4M94.6 31.4L94.6 32.3L94.2 32.3L94.2 32.5L90.5 30.7L90.0 30.9L89.7 31.1L88.6 30.7M94.6 31.4L100.1 31.4M80.9 30.0L80.1 30.0L80.6 33.9L80.7 34.4L78.8 34.4L77.8 34.3L77.5 34.7L76.5 33.8L75.5 34.1M77.5 34.7L77.8 35.8L76.8 35.6L75.4 35.8M75.3 35.2L76.6 35.2L76.6 35.4L75.3 35.5M77.8 35.8L78.9 35.8L79.4 36.8L79.3 38.0L79.6 39.5M77.0 37.4L78.2 36.9L78.3 37.6L77.8 38.3M78.3 37.6L78.8 38.1L79.3 38.0M76.8 35.6L76.8 36.1L76.2 36.4M80.6 36.7L80.6 36.0L81.2 35.4L82.2 35.0L83.2 34.6L83.5 34.6L84.7 34.4L85.0 33.8L85.0 32.7M79.4 36.8L80.6 36.7L81.8 37.0L81.8 36.4L82.9 36.4L83.5 36.4L84.2 35.9L83.5 35.3L83.2 34.6M81.8 37.0L81.7 39.1M83.7 38.7L83.3 37.6L83.1 36.4M83.8 38.6L83.8 37.4L83.5 36.4M84.3 38.5L84.3 37.4L84.8 36.1L84.2 35.9M84.8 36.1L84.9 35.3L86.3 35.5L87.3 35.6L88.6 35.4L89.4 35.2L89.7 35.7L89.8 36.2L89.5 36.4L89.0 37.4L88.4 38.4L87.8 38.3L87.1 39.3M89.4 35.2L89.3 34.8L90.3 33.7L90.3 32.3L90.0 30.9M94.2 32.5L94.2 34.3L93.7 34.4L93.3 35.6L93.7 36.5L93.1 36.6L91.9 37.4L90.9 38.0L90.3 38.0M90.3 38.0L89.6 36.9L89.8 36.2M90.3 38.0L89.8 39.0L90.6 40.5L91.7 39.9L91.7 39.5L93.5 39.6L94.6 39.1L95.7 39.1M93.7 36.5L94.0 37.4L95.7 39.1M94.0 37.4L95.1 36.9L96.5 37.0L97.9 36.0L98.4 35.9L98.8 37.1M98.8 37.1L98.9 36.6L99.8 35.6L100.0 34.9L100.4 35.0L100.9 33.2M100.0 34.9L101.6 34.8L102.7 35.7L103.0 35.6M102.7 35.7L102.4 36.4L103.0 36.4L103.0 36.9L103.9 37.5L104.8 37.8L105.3 37.8L103.9 39.2L102.5 39.6L102.0 39.7M104.8 37.8L105.7 36.3M102.0 39.7L101.3 39.9L99.7 39.5L99.3 39.0L98.3 37.8L98.8 37.1M102.0 39.7L102.0 41.9L102.3 42.3M99.3 39.0L98.8 39.6L99.0 41.0L98.8 41.5L98.8 42.0L100.5 42.9L101.2 43.7M97.4 39.8L97.3 40.4L96.8 42.1L97.3 42.0M98.8 39.6L97.4 39.8L97.0 39.4L95.7 39.1M91.7 39.9L91.3 41.7L90.6 42.4L90.4 43.3L89.7 43.8L88.7 44.2M88.7 44.2L90.8 44.2L91.2 45.2L92.1 45.2L93.2 44.9L93.3 46.7L94.2 46.5L94.2 47.5M94.2 46.8L94.8 46.7L95.6 47.0L96.5 47.7L96.2 47.0L96.3 45.7L97.3 45.3M97.3 45.3L96.7 44.3L96.6 43.1L97.3 42.0L98.8 42.0M97.3 45.3L98.3 45.8L98.8 45.9L99.1 46.8L100.4 46.9L101.8 46.3M98.3 45.8L98.4 47.9L99.1 48.2L99.4 49.2L99.7 48.3L99.1 46.8M98.4 47.9L97.0 48.3L97.1 48.7L96.4 48.9L95.6 49.8L94.8 49.7M97.1 48.7L98.3 49.2L98.2 50.3L98.1 51.3L97.6 51.8M97.6 51.8L96.7 51.7L95.9 51.0L94.8 49.7M94.2 47.5L93.3 47.5L93.3 49.0L93.9 49.6L94.8 49.7M88.5 49.5L89.6 49.5L91.6 49.5L93.9 49.6M92.8 49.9L92.8 51.6L92.3 51.6L92.3 54.6L90.7 54.7M92.3 52.9L93.3 53.7L94.8 53.4L95.6 52.4L96.7 51.7M97.6 51.8L97.9 53.3L98.3 53.9M95.6 55.1L96.3 54.7L96.7 55.1L96.1 55.6L95.6 55.1M87.6 40.4L89.2 40.5L90.6 40.5M87.5 41.0L88.3 41.0L88.3 40.5M89.2 40.5L89.8 41.3L89.8 42.4L88.9 42.6L88.2 43.3" fill="none" stroke="#111" stroke-opacity=".55" stroke-width=".38"/><path d="M5.5 11.3L6.5 9.9L10.8 8.6L18.0 9.4L20.8 9.7L24.0 9.2L25.4 9.2L29.1 9.7L30.0 10.1L33.2 10.1L36.5 10.2L38.8 10.1L39.7 8.5L40.6 9.5L42.5 9.9L43.9 9.5L45.2 9.5L45.7 10.6L43.4 10.8L42.9 11.8L40.2 12.9L39.5 14.3L40.4 15.2L42.5 15.4L45.0 16.1L45.2 17.3L46.4 17.8L46.6 16.6L47.6 15.7L47.1 14.5L47.3 12.8L49.4 12.9L50.8 13.4L51.0 14.4L52.6 14.5L53.3 13.7L54.5 15.0L55.4 15.9L56.8 16.8L57.3 17.5L56.1 17.9L55.4 18.4L52.6 18.4L51.2 19.1L50.3 19.9L51.7 19.1L53.1 18.9L53.4 19.1L53.1 19.6L53.3 20.2L54.7 20.5L55.2 19.9L54.9 20.6L53.6 21.0L52.6 21.4L52.6 20.8L53.3 20.5L52.2 20.8L50.8 21.3L50.5 21.9L50.8 22.3L49.9 22.5L48.9 22.8L48.8 23.3L48.2 23.7L48.0 24.4L48.2 25.1L47.3 25.7L46.4 26.3L45.7 26.8L45.6 27.7L46.1 29.0L46.1 29.8L45.6 29.9L44.9 28.7L44.9 28.0L44.2 27.7L43.6 27.8L42.7 27.5L41.8 27.6L41.9 28.1L41.1 28.0L39.7 27.9L38.3 28.6L38.2 29.5L37.9 31.1L38.6 32.6L39.5 33.1L40.6 32.9L41.3 31.9L41.5 31.7L42.9 31.6L42.7 32.5L42.4 33.1L42.1 34.1L43.4 34.2L44.6 34.6L44.5 35.7L44.5 36.4L45.2 37.4L46.2 37.2L46.6 37.1L47.4 37.5L47.1 38.2L47.0 37.7L46.4 37.4L46.0 37.7L46.0 38.1L45.4 37.9L44.8 37.7L43.9 37.0L43.5 36.4L42.7 35.5L41.5 35.2L40.5 34.8L39.5 34.0L38.3 34.2L36.9 33.7L35.3 33.1L34.4 32.1L34.5 31.6L33.9 30.8L32.8 29.7L32.1 28.8L31.2 27.8L30.8 27.1L30.1 26.9L30.1 27.5L31.0 28.6L31.9 29.7L32.2 30.3L32.5 30.8L32.2 30.7L31.4 30.1L30.5 29.0L30.0 28.6L29.6 27.5L29.0 26.5L28.4 25.8L27.4 25.5L26.8 24.6L26.5 24.1L25.9 23.3L25.7 22.9L25.8 21.7L25.9 20.2L25.5 19.2L26.5 19.4L26.3 18.9L25.4 18.4L24.2 18.0L24.0 17.3L23.1 16.4L22.4 15.9L21.5 14.8L20.1 14.6L19.4 14.2L18.5 13.9L16.6 13.8L15.5 13.5L14.5 13.8L13.2 14.2L13.4 13.4L12.5 14.1L11.8 14.5L10.8 15.1L9.9 15.7L8.5 16.0L7.0 16.3L8.3 15.8L9.0 15.7L10.2 15.0L10.4 14.4L9.7 14.5L8.3 14.4L8.3 13.8L6.9 13.6L6.5 13.0L6.9 12.4L8.8 12.2L8.8 11.8L6.9 11.8L5.5 11.3M49.4 5.4L51.7 4.4L54.5 3.9L60.0 3.6L67.9 3.0L72.9 3.7L77.3 3.9L74.8 4.6L74.3 6.0L73.9 7.1L72.9 8.3L72.9 9.0L71.1 9.9L68.3 10.1L66.0 11.2L64.6 11.5L63.7 12.7L63.0 13.8L60.9 13.4L59.6 12.0L58.4 10.6L58.6 9.5L57.7 8.5L56.3 6.7L52.6 6.5L50.8 5.8L49.4 5.4M53.1 13.0L51.7 12.4L49.9 12.2L47.1 11.8L48.9 11.3L49.2 10.1L47.1 9.2L43.9 9.2L42.0 8.8L41.5 7.6L45.7 7.5L47.6 8.0L50.8 8.9L52.2 9.7L54.5 10.6L54.7 10.8L53.6 11.5L52.4 12.4L53.1 13.0M29.1 9.5L29.1 8.5L28.2 8.1L32.3 7.8L34.6 7.8L36.0 9.0L33.7 9.8L30.7 9.8L29.1 9.5M25.4 8.5L26.3 7.3L29.5 7.6L28.6 8.7L25.4 8.5M47.1 6.2L42.5 6.2L41.5 4.6L45.2 3.5L50.8 3.2L54.5 3.5L53.1 4.2L49.9 4.8L48.0 5.3L47.1 6.2M46.2 6.9L41.1 6.9L40.6 6.2L46.2 6.5L46.2 6.9M29.1 6.9L32.3 6.5L34.6 6.7L32.3 7.1L29.1 6.9M39.2 8.3L39.2 7.4L41.5 7.4L41.1 8.1L39.2 8.3M36.0 8.5L36.0 7.6L38.3 7.6L38.3 8.5L36.0 8.5M39.2 5.5L39.2 4.4L42.5 4.2L42.9 5.1L39.2 5.5M42.9 12.2L43.9 11.2L45.7 11.8L44.8 12.4L42.9 12.2M55.7 19.6L57.5 19.9L58.6 20.0L58.8 19.5L58.2 18.7L57.4 17.8L56.6 18.2L55.7 19.6M26.1 19.2L25.2 19.0L23.9 18.1L24.9 18.3L26.1 19.2M43.9 31.4L45.2 30.9L46.6 31.0L48.2 31.9L48.8 32.2L47.3 32.3L47.1 31.6L45.7 31.4L44.3 31.4L43.9 31.4M48.8 33.0L49.6 32.3L51.0 32.5L51.5 33.0L50.3 33.2L48.8 33.0M47.0 33.1L47.9 33.2L47.3 33.3L47.0 33.1M52.1 33.0L52.8 33.1L52.4 33.2L52.1 33.0M72.0 11.3L72.9 10.9L74.8 11.0L76.4 11.0L76.8 11.5L76.2 11.9L74.6 12.3L72.7 12.0L72.9 11.6L72.0 11.3M47.4 37.5L48.0 37.2L48.2 36.6L48.8 36.3L49.9 35.9L50.1 36.4L50.8 35.9L51.6 36.6L52.6 36.6L53.3 36.8L54.5 36.6L54.9 37.1L55.4 37.6L56.8 38.7L58.2 38.8L59.1 39.3L59.6 39.9L60.0 40.8L60.0 41.5L60.7 42.0L62.3 42.2L62.8 42.7L63.9 42.8L65.3 43.3L66.0 43.7L66.8 44.0L67.0 44.8L66.9 45.7L66.0 46.6L65.3 47.5L65.1 48.6L65.1 49.8L64.4 51.0L64.2 51.6L63.2 52.1L62.3 52.5L61.6 52.7L60.7 53.4L60.7 54.2L60.2 55.0L59.6 55.8L59.0 56.4L58.4 57.2L57.7 57.6L56.8 57.4L56.1 57.3L56.7 57.9L56.9 58.4L56.5 59.1L54.9 59.5L54.4 59.5L54.4 60.3L53.1 60.4L53.6 61.1L53.0 62.0L51.9 62.7L52.7 63.4L51.7 64.6L51.2 65.2L51.5 65.7L51.4 65.9L53.0 66.7L52.2 67.0L50.8 66.9L49.9 66.4L48.9 65.7L48.3 64.6L48.2 63.2L48.9 62.2L49.2 60.9L49.1 59.7L49.3 58.6L49.6 57.6L50.0 56.7L50.1 55.3L50.4 54.0L50.6 52.3L50.7 50.7L50.6 49.9L49.9 49.3L48.4 48.6L47.9 47.9L47.5 47.0L46.8 45.7L46.3 44.7L45.7 44.3L45.6 43.6L46.2 43.0L46.2 42.6L45.7 42.5L45.8 42.0L46.2 41.4L46.6 40.9L46.8 40.6L47.3 39.9L47.4 39.2L47.3 38.5L47.1 38.2L47.4 37.5M54.9 65.2L56.3 65.2L56.1 65.6L55.2 65.6L54.9 65.2M80.4 25.0L81.7 25.2L82.6 25.1L83.6 24.7L84.5 24.5L86.3 24.4L87.7 24.3L88.2 24.5L87.9 25.1L88.2 25.8L87.8 25.8L88.2 26.2L89.2 26.3L90.2 26.6L90.5 27.1L91.4 27.4L92.1 27.5L92.3 27.0L92.4 26.6L93.3 26.3L93.8 26.7L94.6 26.9L95.8 27.1L96.7 27.3L97.4 27.0L98.0 27.1L98.1 27.7L98.2 27.8L98.6 28.7L99.0 29.6L99.5 30.4L99.6 30.9L100.2 31.8L100.3 32.7L100.9 33.2L101.2 34.3L102.0 34.8L102.8 35.5L103.1 35.7L103.0 36.2L103.6 36.7L104.8 36.3L105.7 36.3L106.7 36.0L106.6 36.7L106.4 37.4L106.0 38.3L105.3 39.4L104.3 40.3L103.6 40.8L102.7 41.7L102.3 42.3L101.7 42.9L101.3 43.6L101.1 44.3L101.3 44.7L101.3 45.7L101.8 46.3L101.8 47.3L101.9 48.3L101.3 49.1L100.2 49.7L99.5 50.5L99.2 50.7L99.4 51.6L99.5 52.6L98.3 53.3L98.2 54.2L97.9 54.9L97.4 55.3L97.0 55.9L96.0 56.7L95.0 57.2L93.7 57.2L92.3 57.5L91.6 57.3L91.5 56.5L91.2 55.6L90.7 54.7L90.1 54.0L89.8 52.6L89.7 51.9L89.3 51.0L88.6 49.8L88.5 49.1L88.8 48.2L89.3 47.3L89.5 46.5L89.2 45.6L88.8 44.3L88.5 43.7L88.2 43.3L87.5 42.6L87.2 41.8L87.5 41.4L87.6 40.6L87.6 39.9L87.5 39.7L87.0 39.4L86.3 39.5L85.9 39.5L85.4 38.8L85.1 38.6L84.3 38.5L83.6 38.8L82.6 39.1L82.2 39.3L81.6 39.1L80.8 39.1L79.6 39.5L78.9 39.2L78.0 38.4L77.3 38.0L77.0 37.6L76.9 37.0L76.3 36.5L76.1 36.3L75.4 35.8L75.3 35.3L75.0 34.7L75.5 34.1L75.6 32.7L75.3 31.8L75.7 30.6L76.2 30.2L76.4 29.4L77.1 28.7L77.8 28.4L78.5 27.9L78.6 27.4L78.6 27.0L78.9 26.4L79.6 26.0L80.0 25.8L80.3 25.3L80.4 25.0M80.5 24.9L80.2 24.6L79.7 24.3L79.0 24.4L79.0 23.7L78.7 23.6L79.0 23.0L79.1 22.5L79.0 22.0L78.8 21.7L79.4 21.3L80.4 21.4L81.3 21.4L82.3 21.5L82.5 21.0L82.6 20.4L82.5 20.2L82.1 19.7L81.1 19.5L80.9 19.2L81.7 19.0L82.4 19.0L82.3 18.6L83.1 18.7L83.8 18.4L83.9 18.0L84.7 17.8L85.0 17.5L85.3 17.1L86.3 16.8L87.0 16.7L87.2 16.5L87.1 15.9L86.8 15.4L86.9 15.2L87.9 14.9L87.9 15.4L87.7 15.9L87.6 16.2L88.2 16.4L88.2 16.6L88.9 16.4L89.7 16.6L90.7 16.4L91.6 16.2L91.9 16.4L92.3 16.4L92.8 16.0L92.8 15.4L93.0 15.0L93.5 14.9L94.2 15.2L94.4 14.6L93.9 14.2L94.6 14.1L96.0 14.1L97.0 13.9L96.3 13.6L94.6 13.7L93.5 13.8L92.9 13.4L93.0 12.7L93.0 12.4L94.2 11.8L94.8 11.4L94.3 11.2L93.3 11.3L92.9 11.8L92.1 12.3L91.2 12.8L91.0 13.5L91.7 13.8L91.5 14.2L90.7 14.5L90.8 15.0L90.5 15.6L89.8 15.7L89.7 16.0L89.1 16.0L88.9 15.5L88.5 14.9L88.2 14.3L87.9 14.1L87.5 14.4L86.8 14.7L86.3 14.8L85.7 14.4L85.4 13.7L85.4 13.0L86.1 12.6L87.0 12.2L87.9 11.9L88.6 11.3L89.1 10.7L89.8 10.4L90.5 9.8L91.6 9.4L93.0 9.1L94.2 8.9L95.0 8.7L96.0 8.8L97.4 9.1L97.0 9.4L98.3 9.5L99.7 9.6L101.6 10.2L102.1 10.7L101.6 11.0L100.6 11.0L99.0 10.8L98.3 10.7L99.2 11.2L99.2 11.8L100.4 12.0L100.6 11.8L101.8 11.7L101.6 11.2L102.5 10.8L103.5 11.0L103.5 10.2L103.2 9.9L104.3 10.0L104.6 10.6L105.3 10.2L107.6 10.0L108.0 9.7L109.4 9.9L110.8 9.8L111.3 9.3L112.9 9.5L113.6 9.6L114.0 9.8L114.7 10.0L115.0 9.7L114.0 9.4L114.0 8.8L114.7 7.9L115.6 7.7L116.7 7.9L116.6 8.7L116.7 9.5L116.6 9.9L117.2 10.1L116.1 10.9L116.6 10.9L117.5 10.1L117.5 9.0L117.3 8.3L118.0 8.2L119.1 8.2L120.3 7.6L121.0 8.2L121.4 8.8L120.3 7.6L123.0 7.4L123.3 6.9L125.6 6.5L128.3 6.2L131.3 5.7L132.5 6.1L134.8 6.2L135.5 6.7L133.9 7.3L135.0 7.5L137.6 7.6L140.3 7.5L141.7 8.1L142.9 8.8L144.0 8.5L145.4 8.5L146.8 8.5L147.7 8.1L150.0 8.1L152.3 8.5L153.3 8.8L155.6 8.8L157.0 9.4L157.9 9.4L159.7 9.5L160.7 9.2L161.8 9.7L161.8 9.2L164.4 9.3L166.2 9.7L166.2 11.5L165.3 11.8L165.0 11.7L165.7 12.4L165.9 12.7L163.9 13.0L162.7 13.4L161.6 13.8L159.7 13.8L158.8 13.9L158.5 14.5L157.9 14.8L158.4 15.6L157.9 16.1L157.0 17.0L156.3 17.3L155.4 18.0L155.1 17.1L154.9 16.1L155.1 15.2L156.0 14.7L157.7 13.6L158.6 13.1L158.6 12.7L157.0 13.0L155.6 13.1L154.4 14.1L153.3 14.3L151.9 14.1L150.3 14.2L148.9 14.2L147.7 15.0L146.6 15.9L145.5 16.3L146.6 16.6L147.5 16.5L148.3 17.0L148.0 17.8L148.0 18.4L148.0 19.1L147.0 20.1L145.9 21.0L144.6 21.8L144.0 21.6L143.4 22.0L143.0 22.4L143.0 22.7L142.0 23.1L142.0 23.4L142.4 23.7L142.8 24.4L142.8 25.1L142.7 25.3L142.0 25.5L141.4 25.6L141.5 24.9L141.6 24.4L141.4 24.1L140.8 24.1L140.9 23.4L140.5 23.1L139.4 23.5L139.1 23.6L139.5 22.8L139.0 22.6L138.0 23.4L137.4 23.5L137.9 24.2L138.1 24.3L138.9 24.1L139.7 24.3L139.0 24.6L138.2 25.3L138.6 25.8L139.0 26.4L139.4 27.0L139.3 27.3L138.7 27.5L139.4 27.8L139.2 28.4L138.7 29.0L138.3 29.7L137.8 30.2L137.1 30.7L136.2 31.0L135.7 31.2L134.8 31.5L134.1 31.7L134.0 32.1L133.7 31.6L133.2 31.5L132.5 31.9L132.0 32.5L131.9 32.8L132.5 33.7L133.1 34.1L133.5 35.0L133.6 36.0L133.0 36.4L132.4 36.7L132.3 37.1L131.7 37.5L131.6 36.9L131.1 36.7L130.7 36.3L130.3 35.9L129.7 35.6L129.6 35.3L129.3 35.4L129.3 36.0L128.9 36.7L129.0 37.3L129.4 37.7L129.6 38.4L130.2 38.6L130.7 39.2L130.9 39.9L130.9 40.3L131.2 40.9L130.8 40.9L130.2 40.4L129.9 40.1L129.5 39.5L129.4 38.7L129.2 38.5L128.6 37.7L128.5 37.1L128.7 36.4L128.6 35.5L128.3 34.8L128.2 33.9L127.8 33.7L127.2 34.1L126.6 34.1L126.7 33.2L126.3 32.4L125.7 31.8L125.5 31.2L124.9 31.1L124.2 31.4L123.3 31.6L123.2 32.1L122.4 32.5L121.6 33.3L121.1 33.8L120.6 34.1L120.1 34.4L120.1 35.4L119.9 36.2L119.9 36.8L119.6 37.2L119.2 37.4L118.9 37.8L118.4 37.4L118.1 36.3L117.6 35.5L117.3 34.4L116.8 33.4L116.7 32.7L116.7 31.8L116.6 31.2L116.3 31.8L115.8 32.0L115.0 31.2L115.6 30.9L114.7 30.6L114.3 30.4L114.0 30.1L113.8 29.8L112.6 29.8L111.5 29.9L110.3 29.8L109.6 29.6L109.3 29.0L108.5 29.2L107.8 29.1L107.1 28.7L106.6 28.1L106.2 27.6L105.7 27.5L105.3 27.7L105.4 28.0L105.6 28.6L106.2 29.2L106.3 29.6L106.7 29.5L106.9 30.0L107.1 30.3L108.0 30.3L108.7 29.7L109.1 29.4L109.2 30.2L110.2 30.6L110.7 31.1L110.2 32.0L109.7 32.7L109.2 33.2L108.5 33.7L107.3 34.1L105.7 35.0L103.9 35.6L103.2 35.6L103.0 35.0L102.9 34.4L102.6 33.7L102.0 32.7L101.2 31.7L100.6 30.4L100.0 29.6L99.4 28.6L99.2 27.9L98.9 28.6L98.9 28.7L98.4 28.3L98.2 27.7L98.0 27.1L98.9 27.1L99.2 26.7L99.3 26.2L99.6 25.5L99.7 24.9L99.8 24.5L99.0 24.5L98.3 24.8L97.2 24.5L96.6 24.7L95.8 24.5L95.3 23.7L95.5 23.4L95.2 23.1L95.1 22.8L94.2 22.7L93.9 23.0L94.3 23.0L93.6 22.9L93.6 23.4L93.9 23.7L94.2 24.1L93.7 24.2L93.7 24.7L93.4 24.7L93.1 24.5L92.9 24.1L92.9 23.8L92.6 23.4L92.1 22.8L92.1 22.4L91.9 22.0L91.2 21.7L90.5 21.4L90.0 21.0L89.7 20.7L89.4 20.5L88.8 20.6L88.8 21.1L89.3 21.4L89.7 21.9L90.5 22.2L90.9 22.6L91.6 23.0L91.5 23.1L90.9 22.9L90.8 23.2L91.0 23.5L90.6 24.0L90.3 24.0L90.5 23.6L90.3 23.1L89.8 22.8L89.6 22.6L88.8 22.3L88.2 21.9L87.9 21.4L87.6 21.2L87.2 21.0L86.6 21.3L85.9 21.6L85.3 21.5L84.6 21.6L84.5 21.9L84.6 22.2L84.1 22.5L83.5 22.7L83.0 23.3L83.2 23.7L82.8 24.1L82.3 24.4L82.0 24.5L81.1 24.6L80.5 24.9M0.0 9.7L2.3 10.4L4.2 10.7L4.8 11.1L3.5 11.8L2.1 11.6L0.9 11.3L0.0 11.5M96.0 22.3L95.9 21.9L96.3 21.3L96.8 20.7L97.3 20.1L98.0 20.2L98.4 20.4L98.2 20.6L98.6 21.0L99.4 20.8L100.0 20.7L100.4 20.2L101.1 19.7L100.7 20.2L100.2 20.7L100.9 21.1L101.6 21.5L102.3 22.0L102.3 22.4L101.6 22.6L100.9 22.6L100.0 22.5L99.3 22.1L98.6 22.1L97.6 22.5L96.5 22.5L96.0 22.3M105.0 21.7L104.7 21.0L105.3 20.3L106.2 19.9L107.1 19.9L107.6 20.2L107.6 20.8L106.7 21.0L106.3 21.1L106.6 21.6L107.3 21.9L107.5 22.4L107.5 22.7L108.3 22.6L107.6 23.3L107.9 24.2L107.9 24.5L107.1 24.6L106.3 24.3L105.7 24.2L105.7 23.6L105.9 23.0L105.5 22.2L105.0 21.7M110.1 20.1L111.3 20.1L111.3 21.0L110.3 21.2L110.1 20.1M80.5 18.4L81.5 18.3L82.6 18.1L83.7 17.9L83.5 17.8L83.9 17.2L83.2 17.1L83.0 16.7L82.5 16.2L82.2 15.8L81.7 15.7L82.2 15.2L82.2 14.9L81.3 14.9L81.7 14.5L80.8 14.5L80.4 15.0L80.5 15.4L80.6 16.0L80.9 16.1L81.5 16.2L81.7 16.6L81.7 16.9L81.0 16.9L81.1 17.2L81.2 17.5L80.7 17.6L81.5 17.8L81.8 17.8L81.2 17.9L80.5 18.4M80.3 17.4L80.3 16.9L80.5 16.4L80.2 16.0L79.3 16.0L79.1 16.4L78.5 16.5L78.6 16.9L78.8 17.2L78.3 17.5L78.6 17.8L79.4 17.6L80.3 17.4M143.5 25.8L144.3 25.7L145.4 25.5L145.5 26.1L146.3 25.6L146.9 25.5L147.2 25.5L147.6 25.4L148.1 25.0L148.2 24.4L148.4 23.8L148.7 23.2L148.4 22.8L148.3 22.4L147.9 22.5L147.7 23.1L147.6 23.5L147.3 24.0L146.5 24.5L146.3 24.2L146.2 24.6L145.9 25.0L145.5 25.1L144.5 25.1L143.6 25.6L143.5 25.8M147.7 22.4L148.2 22.2L149.2 22.1L150.3 21.5L150.0 21.1L149.1 21.1L148.6 20.5L148.4 21.4L147.9 21.7L147.7 22.4M143.1 26.1L143.8 26.0L143.9 26.5L143.6 27.1L143.2 27.1L143.2 26.5L143.0 26.3L143.1 26.1M144.3 25.9L145.2 25.7L145.1 26.1L144.5 26.4L144.2 26.1L144.3 25.9M148.7 16.5L149.1 17.1L149.3 18.0L149.8 18.9L149.1 19.8L148.7 20.3L148.7 19.4L148.7 18.4L148.6 17.5L148.7 16.5M139.2 29.9L139.4 30.2L138.9 31.4L138.5 30.9L139.0 30.0L139.2 29.9M133.4 32.3L134.3 32.3L134.1 33.0L133.3 33.0L133.4 32.3M138.7 33.0L139.5 33.0L139.5 33.9L139.2 34.4L139.4 35.0L140.3 35.5L140.1 35.6L139.3 35.1L138.8 35.0L138.5 34.4L138.6 33.9L138.7 33.0M139.4 38.0L140.1 37.6L141.0 37.0L141.5 37.8L141.4 38.5L141.0 38.9L140.3 38.5L139.4 38.3L139.4 38.0M140.8 35.7L141.0 36.4L140.7 36.9L140.5 36.2L140.8 35.7M139.4 36.1L140.0 36.3L140.0 37.2L139.7 37.0L139.4 36.1M137.3 37.6L138.3 36.3L138.1 36.8L137.3 37.6M133.4 40.8L133.7 40.6L134.3 40.8L134.5 40.3L135.3 40.0L136.0 39.3L136.4 39.0L137.0 38.3L137.4 38.6L138.0 39.1L137.6 39.5L137.5 40.2L137.9 41.0L137.3 41.3L137.3 42.0L136.8 42.4L136.8 43.3L136.0 43.3L135.5 43.0L134.6 43.0L134.0 42.8L133.9 42.1L133.4 41.6L133.4 40.8M127.1 38.9L128.1 39.1L128.7 39.7L129.5 40.5L130.1 40.7L130.9 41.4L131.0 42.0L131.5 42.5L132.0 42.9L131.9 44.2L131.3 44.2L130.3 43.3L129.7 42.7L129.4 41.9L128.8 41.3L128.6 40.6L127.9 40.0L127.2 39.3L127.1 38.9M131.7 44.6L132.3 44.3L133.2 44.5L134.3 44.5L135.1 44.7L136.0 45.1L136.0 45.5L134.3 45.3L133.2 45.1L132.2 44.9L131.7 44.6M138.4 41.1L138.9 40.9L139.9 41.1L140.8 40.8L140.6 41.3L139.0 41.3L138.6 41.9L139.2 42.0L140.0 41.9L139.4 42.3L139.8 43.3L139.6 43.9L139.0 42.8L138.7 43.1L138.7 44.0L138.3 44.0L138.3 43.1L137.9 42.8L138.4 41.1M143.6 41.9L144.5 41.7L145.1 41.9L145.3 43.0L145.9 42.6L146.8 42.2L148.2 42.7L149.8 43.3L150.5 43.9L151.3 44.4L151.1 44.6L151.6 45.4L152.6 46.2L151.4 46.2L150.7 45.6L149.8 45.0L149.3 45.4L149.1 45.7L148.2 45.7L147.3 45.2L146.8 45.3L147.2 44.7L146.7 43.9L145.7 43.5L144.7 43.3L144.4 43.3L144.0 42.8L144.7 42.6L144.0 42.4L143.6 41.9M151.7 44.0L152.6 44.0L153.4 43.4L153.0 44.1L152.1 44.4L151.7 44.0M136.4 45.3L137.1 45.4L138.0 45.4L138.0 45.6L137.1 45.7L136.4 45.5L136.4 45.3M138.4 45.4L139.9 45.3L139.9 45.6L138.4 45.6L138.4 45.4M140.1 46.2L140.8 45.7L141.7 45.4L141.5 45.7L140.6 46.2L140.1 46.2M142.0 40.6L142.4 40.8L142.2 41.5L142.1 41.9L142.0 40.6M142.2 42.9L143.5 42.9L143.1 43.2L142.2 43.1L142.2 42.9M119.9 37.0L120.1 37.0L120.6 37.6L120.9 38.1L120.6 38.6L120.1 38.7L119.9 38.0L119.9 37.0M105.9 47.0L106.3 48.6L106.0 49.6L105.5 51.2L104.9 52.9L104.1 53.3L103.4 52.8L103.1 51.6L103.6 50.7L103.4 49.6L103.9 48.9L104.8 48.4L105.4 47.7L105.9 47.0M148.9 46.4L149.3 47.3L149.5 48.1L150.2 48.4L150.5 49.6L150.7 50.3L151.7 50.8L152.1 51.6L152.8 52.3L153.7 53.2L154.0 54.5L153.7 55.8L153.3 56.6L152.9 57.2L152.4 58.1L152.3 58.8L151.4 59.0L150.6 59.5L149.9 59.0L149.3 59.4L148.2 59.1L147.6 58.6L147.5 58.0L146.9 57.8L147.0 57.5L146.7 56.7L146.6 57.4L145.9 57.5L145.6 57.4L145.1 56.7L144.7 56.3L143.8 56.0L142.7 56.1L141.3 56.4L140.3 56.7L140.1 57.1L138.5 57.1L137.6 57.6L136.7 57.5L136.2 57.3L136.5 56.3L136.2 55.3L135.8 54.4L135.5 53.5L135.5 52.8L135.6 51.9L135.8 51.6L137.0 51.0L138.0 50.7L139.2 50.3L139.5 49.6L140.1 49.1L140.8 48.4L141.6 48.0L142.3 48.3L142.9 48.4L143.1 47.5L143.5 47.2L144.3 46.8L145.4 47.0L146.2 47.0L145.9 47.7L145.7 48.3L146.6 48.9L147.4 49.6L148.1 49.6L148.5 48.4L148.5 47.3L148.9 46.4M149.9 60.3L151.5 60.3L151.6 61.0L151.1 61.6L150.5 61.6L150.1 61.0L149.9 60.3M162.8 57.4L163.7 58.1L164.3 58.5L164.8 58.9L165.5 58.9L165.0 59.6L164.7 60.1L164.0 60.7L163.8 60.5L163.9 60.0L163.3 59.6L163.8 59.0L163.7 58.5L163.0 57.6L162.8 57.4M162.8 60.2L163.5 60.6L163.0 61.3L162.5 61.8L162.0 62.5L161.8 62.7L161.1 63.0L160.4 62.8L160.0 62.6L160.7 61.9L161.8 61.3L162.4 60.6L162.8 60.2M158.8 50.8L160.0 51.6L160.2 51.8L159.3 51.3L158.8 50.8M106.9 8.5L107.6 7.6L109.0 6.9L110.8 6.4L114.5 6.0L113.6 6.5L110.8 7.1L109.4 7.8L109.6 8.8L108.5 8.9L106.9 8.5M88.2 5.3L89.6 4.6L92.3 4.4L95.6 4.6L93.3 5.4L91.6 6.0L90.7 6.1L89.6 5.8L88.2 5.3M127.0 5.1L129.3 4.2L131.6 5.1L129.3 5.5L127.0 5.1M146.3 6.7L148.7 6.5L152.3 6.8L149.1 7.0L146.3 6.7M105.3 4.4L108.5 3.9L111.7 4.2L109.9 4.6L105.3 4.4M165.5 8.7L166.2 8.5M86.9 23.5L87.5 23.4L87.6 22.6L86.9 22.6L86.9 23.5M87.1 22.4L87.5 22.4L87.5 21.7L87.1 21.9L87.1 22.4M88.9 24.0L90.3 23.9L90.1 24.6L88.9 24.2L88.9 24.0M93.9 25.2L95.2 25.3L94.6 25.4L93.9 25.2M98.0 25.4L99.0 25.1L98.6 25.5L98.0 25.4M0.0 77.7L6.9 77.6L10.2 77.1L13.8 76.8L18.5 76.2L23.1 75.8L27.7 75.5L32.3 75.9L35.5 76.0L36.9 74.9L39.2 75.1L42.5 75.2L46.2 75.3L48.5 74.9L50.8 74.9L51.7 73.8L52.2 72.6L53.1 71.7L54.5 71.1L56.3 70.7L56.8 71.0L55.4 71.7L54.5 72.4L53.6 73.3L54.9 74.5L55.2 75.6L54.5 76.1L57.7 77.0L62.3 77.5L66.5 77.5L69.2 76.8L71.6 76.3L74.8 75.2L77.6 74.6L79.4 74.1L83.1 73.5L86.8 73.8L90.0 73.5L94.6 73.8L98.3 73.2L100.6 73.5L103.9 72.8L107.1 71.9L109.4 72.3L111.7 72.6L114.5 72.8L116.3 73.5L118.2 73.5L120.0 72.6L123.7 72.3L127.0 72.2L129.3 71.8L133.0 72.2L135.3 71.8L138.5 72.3L142.2 72.3L145.4 71.9L148.7 72.3L151.4 72.9L154.7 73.3L157.9 74.0L160.7 74.5L161.8 74.7L160.7 75.6L158.8 76.5L159.7 77.5L162.5 77.6L166.2 77.7M40.6 19.9L42.5 19.1L43.9 19.8L44.1 20.1L42.9 20.1L41.5 20.0L40.6 19.9M42.7 22.2L42.5 21.2L43.4 20.3L44.0 20.4L43.3 21.4L42.7 22.2M44.3 20.3L45.7 20.5L45.2 21.7L44.6 21.2L44.3 20.3M44.6 22.2L46.6 21.8L47.8 21.4L46.4 21.3L45.7 22.0L44.6 22.2M37.4 16.8L38.3 18.2L38.5 17.5L37.4 16.8M25.9 11.1L27.7 10.6L28.6 11.1L27.2 11.5L25.9 11.1M29.1 13.4L30.9 12.7L32.5 12.5L31.4 13.1L29.1 13.4M97.9 41.4L98.8 41.4L98.8 42.6L97.9 42.7L97.9 41.4M131.1 17.8L132.0 17.3L133.7 15.9L133.4 15.8L132.0 16.9L131.1 17.8M97.0 13.8L98.1 13.1L98.3 13.6L97.6 13.8L97.0 13.8" fill="none" stroke="#111" stroke-opacity=".88" stroke-width=".48" stroke-linejoin="round"/></g>
<g id="ax"><rect x="0" y="0" width="166.2" height="83.0" fill="none" stroke="#9a9a9a" stroke-width=".5"/><text x="-1.6" y="1.0" text-anchor="end">90°N</text><text x="-1.6" y="14.8" text-anchor="end">60°N</text><text x="-1.6" y="28.7" text-anchor="end">30°N</text><text x="-1.6" y="42.5" text-anchor="end">0</text><text x="-1.6" y="56.3" text-anchor="end">30°S</text><text x="-1.6" y="70.2" text-anchor="end">60°S</text><text x="-1.6" y="84.0" text-anchor="end">90°S</text><text x="0.0" y="86.6" text-anchor="middle">180°</text><text x="13.8" y="86.6" text-anchor="middle">150°W</text><text x="27.7" y="86.6" text-anchor="middle">120°W</text><text x="41.5" y="86.6" text-anchor="middle">90°W</text><text x="55.4" y="86.6" text-anchor="middle">60°W</text><text x="69.2" y="86.6" text-anchor="middle">30°W</text><text x="83.1" y="86.6" text-anchor="middle">0</text><text x="96.9" y="86.6" text-anchor="middle">30°E</text><text x="110.8" y="86.6" text-anchor="middle">60°E</text><text x="124.6" y="86.6" text-anchor="middle">90°E</text><text x="138.5" y="86.6" text-anchor="middle">120°E</text><text x="152.3" y="86.6" text-anchor="middle">150°E</text><text x="166.2" y="86.6" text-anchor="middle">180°</text><text x="83.1" y="92.3" text-anchor="middle">longitude</text><text transform="translate(-10.2 41.5) rotate(-90)" text-anchor="middle">latitude</text></g>
</defs>
<g font-family="DejaVu Sans Condensed, DejaVu Sans, Liberation Sans, sans-serif" font-size="2.6" fill="#505050">
<g transform="translate(14.0 4.8)"><use href="#w"/><use href="#ax"/></g>
<g transform="translate(193.4 4.8)"><use href="#w"/><use href="#ax"/></g>
<g transform="translate(373.8 4.8) scale(0.99759 1)"><use href="#w"/><use href="#ax"/></g>
<g transform="translate(14.0 117.2)"><use href="#w"/><use href="#ax"/></g>
<g transform="translate(193.4 117.2)"><use href="#w"/><use href="#ax"/></g>
<g transform="translate(372.0 117.2) scale(0.99759 1)"><use href="#w"/><use href="#ax"/></g>
<g transform="translate(14.0 227.4)"><use href="#w"/><use href="#ax"/></g>
<g transform="translate(193.4 227.4)"><use href="#w"/><use href="#ax"/></g>
<g transform="translate(373.8 227.4) scale(0.99759 1)"><use href="#w"/><use href="#ax"/></g>
<g transform="translate(14.0 338.9)"><use href="#w"/><use href="#ax"/></g>
<g transform="translate(193.4 338.9)"><use href="#w"/><use href="#ax"/></g>
<g transform="translate(372.4 338.9) scale(0.99759 1)"><use href="#w"/><use href="#ax"/></g>
</g>
<defs><linearGradient id="jet" x1="0" x2="1" y1="0" y2="0"><stop offset="0.0000" stop-color="#00008d"/><stop offset="0.0159" stop-color="#00009f"/><stop offset="0.0317" stop-color="#0000b2"/><stop offset="0.0476" stop-color="#0000c4"/><stop offset="0.0635" stop-color="#0000d1"/><stop offset="0.0794" stop-color="#0000e3"/><stop offset="0.0952" stop-color="#0000f6"/><stop offset="0.1111" stop-color="#0000ff"/><stop offset="0.1270" stop-color="#0004ff"/><stop offset="0.1429" stop-color="#0014ff"/><stop offset="0.1587" stop-color="#0024ff"/><stop offset="0.1746" stop-color="#0034ff"/><stop offset="0.1905" stop-color="#0041ff"/><stop offset="0.2063" stop-color="#0051ff"/><stop offset="0.2222" stop-color="#0061ff"/><stop offset="0.2381" stop-color="#0071ff"/><stop offset="0.2540" stop-color="#007dff"/><stop offset="0.2698" stop-color="#008dff"/><stop offset="0.2857" stop-color="#009dff"/><stop offset="0.3016" stop-color="#00adff"/><stop offset="0.3175" stop-color="#00bdff"/><stop offset="0.3333" stop-color="#00c8ff"/><stop offset="0.3492" stop-color="#00d9ff"/><stop offset="0.3651" stop-color="#02e8f4"/><stop offset="0.3810" stop-color="#0ff9e7"/><stop offset="0.3968" stop-color="#19ffde"/><stop offset="0.4127" stop-color="#26ffd1"/><stop offset="0.4286" stop-color="#33ffc4"/><stop offset="0.4444" stop-color="#40ffb7"/><stop offset="0.4603" stop-color="#49ffad"/><stop offset="0.4762" stop-color="#56ffa0"/><stop offset="0.4921" stop-color="#63ff94"/><stop offset="0.5079" stop-color="#70ff87"/><stop offset="0.5238" stop-color="#7aff7d"/><stop offset="0.5397" stop-color="#87ff70"/><stop offset="0.5556" stop-color="#94ff63"/><stop offset="0.5714" stop-color="#a0ff56"/><stop offset="0.5873" stop-color="#aaff4d"/><stop offset="0.6032" stop-color="#b7ff40"/><stop offset="0.6190" stop-color="#c4ff33"/><stop offset="0.6349" stop-color="#d1ff26"/><stop offset="0.6508" stop-color="#dbff1c"/><stop offset="0.6667" stop-color="#e7ff0f"/><stop offset="0.6825" stop-color="#f4f802"/><stop offset="0.6984" stop-color="#ffea00"/><stop offset="0.7143" stop-color="#ffde00"/><stop offset="0.7302" stop-color="#ffd000"/><stop offset="0.7460" stop-color="#ffc100"/><stop offset="0.7619" stop-color="#ffb200"/><stop offset="0.7778" stop-color="#ffa300"/><stop offset="0.7937" stop-color="#ff9800"/><stop offset="0.8095" stop-color="#ff8900"/><stop offset="0.8254" stop-color="#ff7a00"/><stop offset="0.8413" stop-color="#ff6c00"/><stop offset="0.8571" stop-color="#ff6000"/><stop offset="0.8730" stop-color="#ff5200"/><stop offset="0.8889" stop-color="#ff4300"/><stop offset="0.9048" stop-color="#ff3400"/><stop offset="0.9206" stop-color="#ff2900"/><stop offset="0.9365" stop-color="#ff1a00"/><stop offset="0.9524" stop-color="#f60b00"/><stop offset="0.9683" stop-color="#e40000"/><stop offset="0.9841" stop-color="#d60000"/><stop offset="1.0000" stop-color="#c40000"/></linearGradient></defs>
<rect x="70.5" y="449.9" width="202" height="12.1" fill="url(#jet)"/>
<rect x="281.00" y="449.9" width="11.35" height="10.4" fill="#313695"/>
<rect x="292.30" y="449.9" width="11.35" height="10.4" fill="#3d5ba7"/>
<rect x="303.60" y="449.9" width="11.35" height="10.4" fill="#4d7fb9"/>
<rect x="314.90" y="449.9" width="11.35" height="10.4" fill="#69a0ca"/>
<rect x="326.20" y="449.9" width="11.35" height="10.4" fill="#87bdd9"/>
<rect x="337.50" y="449.9" width="11.35" height="10.4" fill="#a8d6e8"/>
<rect x="348.80" y="449.9" width="11.35" height="10.4" fill="#c7e7f1"/>
<rect x="360.10" y="449.9" width="11.35" height="10.4" fill="#e4f4f1"/>
<rect x="371.40" y="449.9" width="11.35" height="10.4" fill="#f6fbd0"/>
<rect x="382.70" y="449.9" width="11.35" height="10.4" fill="#fff9bc"/>
<rect x="394.00" y="449.9" width="11.35" height="10.4" fill="#ffeba0"/>
<rect x="405.30" y="449.9" width="11.35" height="10.4" fill="#fed786"/>
<rect x="416.60" y="449.9" width="11.35" height="10.4" fill="#fdbd6e"/>
<rect x="427.90" y="449.9" width="11.35" height="10.4" fill="#fa9e5a"/>
<rect x="439.20" y="449.9" width="11.35" height="10.4" fill="#f57a48"/>
<rect x="450.50" y="449.9" width="11.35" height="10.4" fill="#eb5e3c"/>
<rect x="461.80" y="449.9" width="11.35" height="10.4" fill="#de402d"/>
<rect x="473.10" y="449.9" width="11.35" height="10.4" fill="#c82228"/>
</svg>
<div class="cap" style="left:253px;top:103.1px">(<b>a</b>)</div>
<div class="cap" style="left:253px;top:213.3px">(<b>b</b>)</div>
<div class="cap" style="left:253px;top:325.1px">(<b>c</b>)</div>
<div class="cap" style="left:253px;top:436.0px">(<b>d</b>)</div>
<div class="t" style="left:70.5px;top:464.2px">140</div>
<div class="t" style="left:95.6px;top:464.2px">180</div>
<div class="t" style="left:120.8px;top:464.2px">220</div>
<div class="t" style="left:145.9px;top:464.2px">260</div>
<div class="t" style="left:171.0px;top:464.2px">300</div>
<div class="t" style="left:196.1px;top:464.2px">340</div>
<div class="t" style="left:221.2px;top:464.2px">380</div>
<div class="t" style="left:246.4px;top:464.2px">420</div>
<div class="t" style="left:271.5px;top:464.2px">460</div>
<div class="t" style="left:171px;top:472.6px">TOC [DU]</div>
<div class="t u" style="left:284.2px;top:462.2px">18</div>
<div class="t u" style="left:303.6px;top:462.2px">−14</div>
<div class="t u" style="left:326.2px;top:462.2px">−10</div>
<div class="t u" style="left:348.8px;top:462.2px">−6</div>
<div class="t u" style="left:371.4px;top:462.2px">−2</div>
<div class="t u" style="left:394.0px;top:462.2px">2</div>
<div class="t u" style="left:416.6px;top:462.2px">6</div>
<div class="t u" style="left:439.2px;top:462.2px">10</div>
<div class="t u" style="left:461.8px;top:462.2px">14</div>
<div class="t u" style="left:484.4px;top:462.2px">18</div>
<div class="t" style="left:386px;top:471.2px;font-family:'Liberation Sans',sans-serif;font-size:7.9px">Bias (IKFS-2 vs IASI wrt IASI), %</div>
</body></html>
